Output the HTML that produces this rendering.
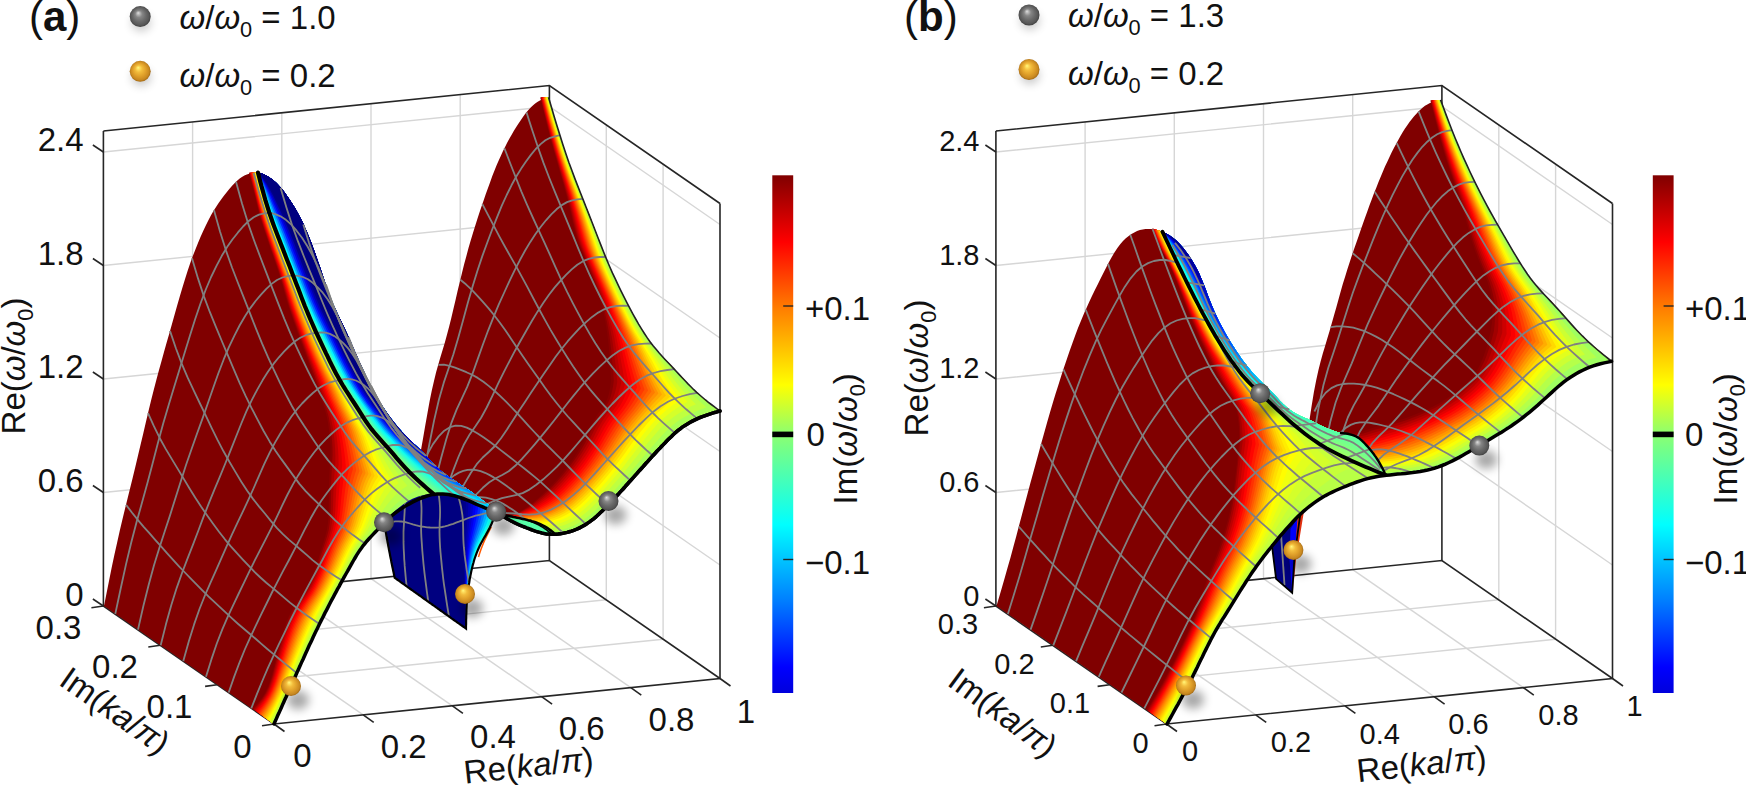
<!DOCTYPE html>
<html><head><meta charset="utf-8"><title>Figure</title>
<style>html,body{margin:0;padding:0;background:#fff;}svg{display:block;}</style></head>
<body>
<svg width="1746" height="785" viewBox="0 0 1746 785" font-family="'Liberation Sans', sans-serif" fill="#111">
<defs><linearGradient id="cbar" x1="0" y1="0" x2="0" y2="1"><stop offset="0.000" stop-color="#800000"/><stop offset="0.129" stop-color="#ff0000"/><stop offset="0.260" stop-color="#ff8000"/><stop offset="0.405" stop-color="#ffff00"/><stop offset="0.500" stop-color="#8cff70"/><stop offset="0.675" stop-color="#00ffff"/><stop offset="0.820" stop-color="#0080ff"/><stop offset="0.950" stop-color="#0000ff"/><stop offset="1.000" stop-color="#0000dc"/></linearGradient><radialGradient id="gGrey" cx="0.5" cy="0.5" r="0.52" fx="0.40" fy="0.32"><stop offset="0" stop-color="#e0e0e0"/><stop offset="0.12" stop-color="#bcbcbc"/><stop offset="0.32" stop-color="#868686"/><stop offset="0.6" stop-color="#6a6a6a"/><stop offset="0.85" stop-color="#565656"/><stop offset="1" stop-color="#3a3a3a"/></radialGradient><radialGradient id="gGold" cx="0.5" cy="0.5" r="0.52" fx="0.40" fy="0.32"><stop offset="0" stop-color="#fffa80"/><stop offset="0.12" stop-color="#fee060"/><stop offset="0.32" stop-color="#f2bc3c"/><stop offset="0.6" stop-color="#e0a02a"/><stop offset="0.85" stop-color="#c88820"/><stop offset="1" stop-color="#986010"/></radialGradient><filter id="blur" x="-100%" y="-100%" width="300%" height="300%"><feGaussianBlur stdDeviation="5"/></filter></defs>
<rect width="1746" height="785" fill="#fff"/>
<path d="M192.6 596.9l0-475" fill="none" stroke="#d6d6d6" stroke-width="1.4" />
<path d="M192.6 596.9l170.6 118" fill="none" stroke="#d6d6d6" stroke-width="1.4" />
<path d="M281.8 587.8l0-475" fill="none" stroke="#d6d6d6" stroke-width="1.4" />
<path d="M281.8 587.8l170.6 118" fill="none" stroke="#d6d6d6" stroke-width="1.4" />
<path d="M371 578.7l0-475" fill="none" stroke="#d6d6d6" stroke-width="1.4" />
<path d="M371 578.7l170.6 118" fill="none" stroke="#d6d6d6" stroke-width="1.4" />
<path d="M460.2 569.6l0-475" fill="none" stroke="#d6d6d6" stroke-width="1.4" />
<path d="M460.2 569.6l170.6 118" fill="none" stroke="#d6d6d6" stroke-width="1.4" />
<path d="M103.4 492.5l446-45.5 170.6 118" fill="none" stroke="#d6d6d6" stroke-width="1.4" />
<path d="M103.4 379l446-45.5 170.6 118" fill="none" stroke="#d6d6d6" stroke-width="1.4" />
<path d="M103.4 265.5l446-45.5 170.6 118" fill="none" stroke="#d6d6d6" stroke-width="1.4" />
<path d="M103.4 152l446-45.5 170.6 118" fill="none" stroke="#d6d6d6" stroke-width="1.4" />
<path d="M663.1 639.2l0-475" fill="none" stroke="#d6d6d6" stroke-width="1.4" />
<path d="M663.1 639.2l-446 45.5" fill="none" stroke="#d6d6d6" stroke-width="1.4" />
<path d="M606.3 599.8l0-475" fill="none" stroke="#d6d6d6" stroke-width="1.4" />
<path d="M606.3 599.8l-446 45.5" fill="none" stroke="#d6d6d6" stroke-width="1.4" />
<path d="M103.4 131l446-45.5 170.6 118" fill="none" stroke="#262626" stroke-width="1.6" stroke-linejoin="miter"/>
<path d="M103.4 131l0 475 170.6 118 446-45.5 0-475" fill="none" stroke="#262626" stroke-width="1.6" stroke-linejoin="miter"/>
<path d="M103.4 606l446-45.5 170.6 118" fill="none" stroke="#262626" stroke-width="1.6" stroke-linejoin="miter"/>
<path d="M549.4 560.5l0-475" fill="none" stroke="#262626" stroke-width="1.6" stroke-linejoin="miter"/>
<path d="M103.4 606l-10.5-7" fill="none" stroke="#262626" stroke-width="1.6" stroke-linejoin="miter"/>
<path d="M103.4 492.5l-10.5-7" fill="none" stroke="#262626" stroke-width="1.6" stroke-linejoin="miter"/>
<path d="M103.4 379l-10.5-7" fill="none" stroke="#262626" stroke-width="1.6" stroke-linejoin="miter"/>
<path d="M103.4 265.5l-10.5-7" fill="none" stroke="#262626" stroke-width="1.6" stroke-linejoin="miter"/>
<path d="M103.4 152l-10.5-7" fill="none" stroke="#262626" stroke-width="1.6" stroke-linejoin="miter"/>
<path d="M274 724l-12 1.7" fill="none" stroke="#262626" stroke-width="1.6" stroke-linejoin="miter"/>
<path d="M217.1 684.7l-12 1.7" fill="none" stroke="#262626" stroke-width="1.6" stroke-linejoin="miter"/>
<path d="M160.3 645.3l-12 1.7" fill="none" stroke="#262626" stroke-width="1.6" stroke-linejoin="miter"/>
<path d="M103.4 606l-12 1.7" fill="none" stroke="#262626" stroke-width="1.6" stroke-linejoin="miter"/>
<path d="M274 724l10.5 7.5" fill="none" stroke="#262626" stroke-width="1.6" stroke-linejoin="miter"/>
<path d="M363.2 714.9l10.5 7.5" fill="none" stroke="#262626" stroke-width="1.6" stroke-linejoin="miter"/>
<path d="M452.4 705.8l10.5 7.5" fill="none" stroke="#262626" stroke-width="1.6" stroke-linejoin="miter"/>
<path d="M541.6 696.7l10.5 7.5" fill="none" stroke="#262626" stroke-width="1.6" stroke-linejoin="miter"/>
<path d="M630.8 687.6l10.5 7.5" fill="none" stroke="#262626" stroke-width="1.6" stroke-linejoin="miter"/>
<path d="M720 678.5l10.5 7.5" fill="none" stroke="#262626" stroke-width="1.6" stroke-linejoin="miter"/>
<path d="M1085.1 596.9l0-475" fill="none" stroke="#d6d6d6" stroke-width="1.4" />
<path d="M1085.1 596.9l170.6 118" fill="none" stroke="#d6d6d6" stroke-width="1.4" />
<path d="M1174.3 587.8l0-475" fill="none" stroke="#d6d6d6" stroke-width="1.4" />
<path d="M1174.3 587.8l170.6 118" fill="none" stroke="#d6d6d6" stroke-width="1.4" />
<path d="M1263.5 578.7l0-475" fill="none" stroke="#d6d6d6" stroke-width="1.4" />
<path d="M1263.5 578.7l170.6 118" fill="none" stroke="#d6d6d6" stroke-width="1.4" />
<path d="M1352.7 569.6l0-475" fill="none" stroke="#d6d6d6" stroke-width="1.4" />
<path d="M1352.7 569.6l170.6 118" fill="none" stroke="#d6d6d6" stroke-width="1.4" />
<path d="M995.9 492.5l446-45.5 170.6 118" fill="none" stroke="#d6d6d6" stroke-width="1.4" />
<path d="M995.9 379l446-45.5 170.6 118" fill="none" stroke="#d6d6d6" stroke-width="1.4" />
<path d="M995.9 265.5l446-45.5 170.6 118" fill="none" stroke="#d6d6d6" stroke-width="1.4" />
<path d="M995.9 152l446-45.5 170.6 118" fill="none" stroke="#d6d6d6" stroke-width="1.4" />
<path d="M1555.6 639.2l0-475" fill="none" stroke="#d6d6d6" stroke-width="1.4" />
<path d="M1555.6 639.2l-446 45.5" fill="none" stroke="#d6d6d6" stroke-width="1.4" />
<path d="M1498.8 599.8l0-475" fill="none" stroke="#d6d6d6" stroke-width="1.4" />
<path d="M1498.8 599.8l-446 45.5" fill="none" stroke="#d6d6d6" stroke-width="1.4" />
<path d="M995.9 131l446-45.5 170.6 118" fill="none" stroke="#262626" stroke-width="1.6" stroke-linejoin="miter"/>
<path d="M995.9 131l0 475 170.6 118 446-45.5 0-475" fill="none" stroke="#262626" stroke-width="1.6" stroke-linejoin="miter"/>
<path d="M995.9 606l446-45.5 170.6 118" fill="none" stroke="#262626" stroke-width="1.6" stroke-linejoin="miter"/>
<path d="M1441.9 560.5l0-475" fill="none" stroke="#262626" stroke-width="1.6" stroke-linejoin="miter"/>
<path d="M995.9 606l-10.5-7" fill="none" stroke="#262626" stroke-width="1.6" stroke-linejoin="miter"/>
<path d="M995.9 492.5l-10.5-7" fill="none" stroke="#262626" stroke-width="1.6" stroke-linejoin="miter"/>
<path d="M995.9 379l-10.5-7" fill="none" stroke="#262626" stroke-width="1.6" stroke-linejoin="miter"/>
<path d="M995.9 265.5l-10.5-7" fill="none" stroke="#262626" stroke-width="1.6" stroke-linejoin="miter"/>
<path d="M995.9 152l-10.5-7" fill="none" stroke="#262626" stroke-width="1.6" stroke-linejoin="miter"/>
<path d="M1166.5 724l-12 1.7" fill="none" stroke="#262626" stroke-width="1.6" stroke-linejoin="miter"/>
<path d="M1109.6 684.7l-12 1.7" fill="none" stroke="#262626" stroke-width="1.6" stroke-linejoin="miter"/>
<path d="M1052.8 645.3l-12 1.7" fill="none" stroke="#262626" stroke-width="1.6" stroke-linejoin="miter"/>
<path d="M995.9 606l-12 1.7" fill="none" stroke="#262626" stroke-width="1.6" stroke-linejoin="miter"/>
<path d="M1166.5 724l10.5 7.5" fill="none" stroke="#262626" stroke-width="1.6" stroke-linejoin="miter"/>
<path d="M1255.7 714.9l10.5 7.5" fill="none" stroke="#262626" stroke-width="1.6" stroke-linejoin="miter"/>
<path d="M1344.9 705.8l10.5 7.5" fill="none" stroke="#262626" stroke-width="1.6" stroke-linejoin="miter"/>
<path d="M1434.1 696.7l10.5 7.5" fill="none" stroke="#262626" stroke-width="1.6" stroke-linejoin="miter"/>
<path d="M1523.3 687.6l10.5 7.5" fill="none" stroke="#262626" stroke-width="1.6" stroke-linejoin="miter"/>
<path d="M1612.5 678.5l10.5 7.5" fill="none" stroke="#262626" stroke-width="1.6" stroke-linejoin="miter"/>
<path d="M496.2 511.7l3.8 2.4 3.8 2.4 3.8 2.2 3.8 2.1 3.8 1.9 3.8 1.8 3.8 1.7 3.7 1.5 3.8 1.4 3.8 1.4 3.8 1.2 3.8 1 3.8 0.7 3.8 0.5 3.8 0.1 3.8-0.1 3.8-0.4 3.8-0.7 3.8-0.9 3.8-1.2 3.8-1.5 3.8-1.7 3.7-2.1 3.8-2.4 3.8-2.6 3.8-3 3.8-3.3 3.8-3.6 3.8-3.7 3.8-3.9 3.8-4 3.8-4 3.8-4.2 3.8-4.1 3.8-4.3 3.8-4.2 3.7-4.2 3.8-4.2 3.8-4.3 3.8-4.2 3.8-4.1 3.8-4.1 3.8-4.1 3.8-3.9 3.8-3.9 3.8-3.7 3.8-3.4 3.8-3.3 3.8-2.9 3.8-2.6 3.8-2.3 3.7-2 3.8-1.9 3.8-1.6 3.8-1.5 3.8-1.4 3.8-1.2 3.8-1.2 3.8-1.1-2.9-2.1-2.9-2.2-2.9-2.2-2.9-2.2-2.9-2.3-2.9-2.5-2.9-2.5-3-2.6-2.9-2.7-2.9-2.9-2.9-2.9-2.9-3.1-2.9-3.1-2.9-3.1-2.9-3.1-2.9-3.1-2.9-3.1-2.9-3-2.9-3.1-2.9-3.2-2.9-3.2-2.9-3.5-3-3.5-2.9-3.9-2.9-4-2.9-4.4-2.9-4.6-2.9-4.8-2.9-5.1-2.9-5.2-2.9-5.4-2.9-5.5-2.9-5.7-2.9-5.8-2.9-6-2.9-6.2-3-6.3-2.9-6.6-2.9-6.9-2.9-7.1-2.9-7.4-2.9-7.4-2.9-7.5-2.9-7.5-2.9-7.4-2.9-7.4-2.9-7.3-2.9-7.4-2.9-7.4-2.9-7.5-2.9-7.8-3-8.1-2.9-8.5-2.9-8.8-2.9-9.1-2.9-9.3-2.9-9.6-2.9-9.8-2.9-9.8-2.2 0.7-2.1 0.7-2.2 0.8-2.1 1-2.2 1.2-2.2 1.5-2.1 1.7-2.2 2-2.1 2.3-2.2 2.6-2.2 2.8-2.1 3-2.2 3.1-2.2 3.2-2.1 3.4-2.2 3.5-2.1 3.6-2.2 3.9-2.2 3.9-2.1 4.2-2.2 4.4-2.1 4.6-2.2 4.8-2.2 5.1-2.1 5.3-2.2 5.5-2.1 5.8-2.2 6-2.2 6.1-2.1 6.2-2.2 6.4-2.2 6.4-2.1 6.6-2.2 6.8-2.1 6.9-2.2 7.3-2.2 7.5-2.1 7.8-2.2 8.2-2.1 8.5-2.2 8.8-2.2 9-2.1 9.3-2.2 9.3-2.1 9-2.2 8.7-2.2 8.3-2.1 7.7-2.2 7.3-2.2 7.2-2.1 7.3-2.2 7.8-2.1 8.6-2.2 9.6-2.2 10.8-2.1 11.7-2.2 12.2-2.1 12.4-2.2 12.4 1.3 1.5 1.2 1.5 1.3 1.5 1.3 1.5 1.3 1.4 1.2 1.4 1.3 1.4 1.3 1.3 1.3 1.3 1.2 1.3 1.3 1.3 1.3 1.2 1.3 1.2 1.2 1.1 1.3 1.2 1.3 1 1.3 1.1 1.2 1 1.3 1 1.3 0.9 1.3 1 1.2 0.9 1.3 0.8 1.3 0.9 1.3 0.9 1.2 0.8 1.3 0.9 1.3 0.8 1.3 0.8 1.2 0.9 1.3 0.8 1.3 0.9 1.3 0.8 1.2 0.9 1.3 0.8 1.3 0.9 1.3 0.9 1.2 0.8 1.3 0.9 1.3 0.9 1.3 0.9 1.2 0.9 1.3 0.9 1.3 0.9 1.3 0.9 1.2 1 1.3 1 1.3 0.9 1.3 1 1.2 1.1 1.3 1 1.3 1.1 1.3 1 1.2 1.1 1.3 1.1 1.3 1.1 1.3 1.1 1.2 1.2 1.3 1.1z" fill="#800000" />
<path d="M540.3 97.5l1.7 7.3 1.8 7.3 1.7 7.3 1.9 7.3 1.8 7.2 1.9 7.3 2 7.2 2 7.2 2.1 7.2 2 7.3 2.1 7.2 2 7.2 2 7.2 1.9 7.3 1.8 7.2 1.7 7.4 1.6 7.3 1.7 7.3 1.9 7.2 2.3 7.2 2.7 7 2.8 6.9 2.9 6.9 2.8 7 2.8 6.9 2.8 7 2.6 7.1 2.3 7.1 2 7.2 1.7 7.3 1.5 7.3 1.3 7.4 1.1 7.5 0.9 7.4 0.7 7.5 0.6 7.4 0.6 7.5 0.4 7.5 0.3 7.5-0.4 4.6-0.7 4.7-1 4.5-1.3 4.5-1.8 4.3-2.4 4-2.7 3.7-2.8 3.8-2.5 3.9-2.2 4.1-2.1 4.2-2 4.2-2 4.2-2 4.2-2.2 4.2-2.3 4-2.4 4-2.5 3.9-2.6 3.9-2.7 3.8-2.8 3.7-2.9 3.7-2.9 3.6-3 3.6-3.1 3.5-3.2 3.4-3.2 3.3-3.3 3.3-3.4 3.2-3.5 3.2-3.5 3.1-3.5 2.9-3.7 2.9-3.8 2.7-4 2.4-4.1 2.3-4.3 1.7-4.6 0.2-4.6-0.9-6.8-2.8 5.8 4 6.1 3.7 6.2 3.3 6.5 2.8 6.5 2.6 6.6 2.5 6.7 2.3 6.9 1.5 7.1 0.1 7-0.7 6.9-1.4 6.7-2.3 6.3-3 6.1-3.6 5.7-4.2 5.3-4.7 5-5 4.9-5 4.9-5.1 4.8-5.2 4.8-5.2 4.7-5.3 4.7-5.3 4.7-5.2 4.7-5.3 4.7-5.3 4.7-5.2 4.8-5.2 4.9-5.2 4.9-5.1 4.9-5 5.1-4.8 5.5-4.5 5.9-3.9 6.2-3.3 6.5-2.9 6.6-2.6 6.7-2.1 6.8-1.9-7.6-5.5-7.3-5.7-7.2-6.1-6.7-6.4-6.5-6.8-6.3-6.9-6.4-6.8-6.5-6.7-6.3-6.8-6.1-7.1-5.6-7.5-5.1-7.9-4.8-8-4.5-8.2-4.4-8.2-4.3-8.3-4.2-8.4-4.1-8.4-3.9-8.5-3.8-8.5-3.5-8.6-3.4-8.8-3.3-8.7-3.4-8.7-3.3-8.7-3.4-8.7-3.5-8.7-3.5-8.7-3.5-8.6-3.4-8.7-3.3-8.8-3.1-8.8-3-8.9-2.9-8.8-2.8-9-2.7-8.9-2.7-9-2.6-8.9-2.6-9z" fill="#8a0000" />
<path d="M540.6 97.5l1.8 7.4 1.8 7.3 1.8 7.4 1.8 7.3 1.9 7.4 2 7.3 2 7.3 2.1 7.3 2.1 7.2 2.1 7.3 2.1 7.3 2.1 7.3 2 7.2 2 7.3 1.9 7.4 1.7 7.3 1.6 7.4 1.8 7.4 2 7.2 2.3 7.2 2.7 7.1 2.9 6.9 2.9 7 2.8 7 2.8 6.9 2.8 7 2.6 7.1 2.4 7.1 2.1 7.1 1.8 7.3 1.6 7.3 1.4 7.3 1.2 7.4 0.9 7.4 0.9 7.4 0.7 7.5 0.7 7.4 0.6 7.4 0.5 7.5-0.6 4.6-0.8 4.5-1.1 4.5-1.4 4.5-1.9 4.2-2.5 4-2.7 3.9-2.8 3.8-2.5 3.9-2.3 4.1-2.2 4.3-2 4.2-2.1 4.3-2.1 4.2-2.2 4.2-2.4 4.1-2.4 4-2.6 4-2.7 3.9-2.8 3.8-2.8 3.8-3 3.7-3 3.7-3.1 3.5-3.1 3.6-3.3 3.4-3.3 3.4-3.4 3.2-3.5 3.2-3.6 3-3.6 3-3.7 2.9-3.7 2.7-3.9 2.5-4.1 2.3-4.1 2.1-4.4 1.5-4.7 0.1-4.6-1-6.6-2.7 5.8 4 6.1 3.7 6.2 3.3 6.5 2.8 6.5 2.6 6.6 2.5 6.7 2.3 6.9 1.5 7.1 0.1 7-0.7 6.9-1.4 6.7-2.3 6.3-3 6.1-3.6 5.7-4.2 5.3-4.7 5-5 4.9-5 4.9-5.1 4.8-5.2 4.8-5.2 4.7-5.3 4.7-5.3 4.7-5.2 4.7-5.3 4.7-5.3 4.7-5.2 4.8-5.2 4.9-5.2 4.9-5.1 4.9-5 5.1-4.8 5.5-4.5 5.9-3.9 6.2-3.3 6.5-2.9 6.6-2.6 6.7-2.1 6.8-1.9-7.6-5.5-7.3-5.7-7.2-6.1-6.7-6.4-6.5-6.8-6.3-6.9-6.4-6.8-6.5-6.7-6.3-6.8-6.1-7.1-5.6-7.5-5.1-7.9-4.8-8-4.5-8.2-4.4-8.2-4.3-8.3-4.2-8.4-4.1-8.4-3.9-8.5-3.8-8.5-3.5-8.6-3.4-8.8-3.3-8.7-3.4-8.7-3.3-8.7-3.4-8.7-3.5-8.7-3.5-8.7-3.5-8.6-3.4-8.7-3.3-8.8-3.1-8.8-3-8.9-2.9-8.8-2.8-9-2.7-8.9-2.7-9-2.6-8.9-2.6-9z" fill="#a00000" />
<path d="M541 97.5l1.8 7.4 1.8 7.5 1.9 7.4 1.9 7.4 1.9 7.4 2 7.4 2.1 7.4 2.1 7.3 2.1 7.4 2.2 7.3 2.1 7.3 2.2 7.4 2.1 7.3 2 7.4 2 7.4 1.7 7.4 1.8 7.4 1.8 7.4 2 7.3 2.4 7.3 2.7 7.1 3 7 2.9 7 2.8 7 2.9 7 2.8 7 2.7 7 2.5 7.1 2.1 7.2 2 7.2 1.7 7.3 1.5 7.3 1.4 7.3 1.1 7.4 1 7.4 0.9 7.4 0.9 7.3 0.7 7.4 0.8 7.4-0.8 4.5-1 4.4-1.3 4.5-1.5 4.4-2 4.3-2.5 4-2.8 3.8-2.8 3.9-2.7 4-2.3 4.1-2.3 4.3-2.1 4.3-2.1 4.3-2.2 4.3-2.3 4.2-2.5 4.1-2.5 4.1-2.7 4-2.7 4-2.9 3.9-2.9 3.8-3.1 3.8-3.1 3.6-3.1 3.7-3.3 3.5-3.3 3.5-3.5 3.3-3.5 3.2-3.6 3.1-3.7 3-3.8 2.9-3.8 2.7-3.8 2.5-4 2.3-4.2 2.1-4.2 1.9-4.5 1.4-4.7-0.1-4.7-1.1-6.3-2.6 5.8 4 6.1 3.7 6.2 3.3 6.5 2.8 6.5 2.6 6.6 2.5 6.7 2.3 6.9 1.5 7.1 0.1 7-0.7 6.9-1.4 6.7-2.3 6.3-3 6.1-3.6 5.7-4.2 5.3-4.7 5-5 4.9-5 4.9-5.1 4.8-5.2 4.8-5.2 4.7-5.3 4.7-5.3 4.7-5.2 4.7-5.3 4.7-5.3 4.7-5.2 4.8-5.2 4.9-5.2 4.9-5.1 4.9-5 5.1-4.8 5.5-4.5 5.9-3.9 6.2-3.3 6.5-2.9 6.6-2.6 6.7-2.1 6.8-1.9-7.6-5.5-7.3-5.7-7.2-6.1-6.7-6.4-6.5-6.8-6.3-6.9-6.4-6.8-6.5-6.7-6.3-6.8-6.1-7.1-5.6-7.5-5.1-7.9-4.8-8-4.5-8.2-4.4-8.2-4.3-8.3-4.2-8.4-4.1-8.4-3.9-8.5-3.8-8.5-3.5-8.6-3.4-8.8-3.3-8.7-3.4-8.7-3.3-8.7-3.4-8.7-3.5-8.7-3.5-8.7-3.5-8.6-3.4-8.7-3.3-8.8-3.1-8.8-3-8.9-2.9-8.8-2.8-9-2.7-8.9-2.7-9-2.6-8.9-2.6-9z" fill="#b60000" />
<path d="M541.4 97.5l1.8 7.5 1.8 7.5 1.9 7.5 2 7.5 1.9 7.5 2.1 7.4 2.1 7.5 2.2 7.4 2.2 7.4 2.2 7.4 2.2 7.4 2.2 7.4 2.2 7.4 2.1 7.4 2 7.5 1.8 7.4 1.8 7.5 1.9 7.5 2.1 7.4 2.4 7.3 2.8 7.1 3 7.1 2.9 7 2.9 7.1 3 7 2.8 7 2.8 7.1 2.5 7.1 2.3 7.2 2.1 7.2 1.9 7.2 1.7 7.2 1.5 7.3 1.2 7.3 1.2 7.4 1.1 7.3 1.1 7.4 1 7.3 1 7.3-1 4.4-1.2 4.4-1.4 4.3-1.7 4.4-2.2 4.2-2.6 4-2.9 3.9-2.8 3.9-2.7 4.1-2.5 4.2-2.3 4.3-2.2 4.3-2.2 4.4-2.3 4.3-2.4 4.3-2.6 4.2-2.6 4.1-2.7 4.1-2.9 4-2.9 3.9-3.1 3.9-3.1 3.8-3.2 3.7-3.2 3.7-3.4 3.5-3.4 3.5-3.6 3.3-3.6 3.2-3.8 3.1-3.8 2.8-3.9 2.8-3.9 2.5-4 2.3-4.1 2.1-4.3 2-4.3 1.7-4.5 1.1-4.8-0.2-4.7-1.2-6.1-2.5 5.8 4 6.1 3.7 6.2 3.3 6.5 2.8 6.5 2.6 6.6 2.5 6.7 2.3 6.9 1.5 7.1 0.1 7-0.7 6.9-1.4 6.7-2.3 6.3-3 6.1-3.6 5.7-4.2 5.3-4.7 5-5 4.9-5 4.9-5.1 4.8-5.2 4.8-5.2 4.7-5.3 4.7-5.3 4.7-5.2 4.7-5.3 4.7-5.3 4.7-5.2 4.8-5.2 4.9-5.2 4.9-5.1 4.9-5 5.1-4.8 5.5-4.5 5.9-3.9 6.2-3.3 6.5-2.9 6.6-2.6 6.7-2.1 6.8-1.9-7.6-5.5-7.3-5.7-7.2-6.1-6.7-6.4-6.5-6.8-6.3-6.9-6.4-6.8-6.5-6.7-6.3-6.8-6.1-7.1-5.6-7.5-5.1-7.9-4.8-8-4.5-8.2-4.4-8.2-4.3-8.3-4.2-8.4-4.1-8.4-3.9-8.5-3.8-8.5-3.5-8.6-3.4-8.8-3.3-8.7-3.4-8.7-3.3-8.7-3.4-8.7-3.5-8.7-3.5-8.7-3.5-8.6-3.4-8.7-3.3-8.8-3.1-8.8-3-8.9-2.9-8.8-2.8-9-2.7-8.9-2.7-9-2.6-8.9-2.6-9z" fill="#cc0000" />
<path d="M541.7 97.5l1.9 7.6 1.9 7.5 1.9 7.6 2 7.6 2 7.5 2.1 7.5 2.1 7.6 2.2 7.5 2.3 7.4 2.3 7.5 2.3 7.5 2.3 7.4 2.2 7.5 2.2 7.5 2 7.5 1.9 7.5 1.9 7.6 2 7.5 2.1 7.4 2.5 7.3 2.8 7.2 3 7.2 3 7.1 3 7 3 7.1 2.9 7.1 2.8 7.1 2.6 7.1 2.4 7.2 2.2 7.1 2.1 7.2 1.9 7.2 1.6 7.3 1.5 7.3 1.3 7.3 1.4 7.3 1.3 7.2 1.2 7.3 1.3 7.2-1.3 4.3-1.4 4.3-1.6 4.3-1.9 4.3-2.2 4.2-2.8 4-2.9 3.9-2.9 4-2.8 4.1-2.6 4.2-2.4 4.4-2.3 4.4-2.3 4.4-2.4 4.3-2.5 4.4-2.6 4.2-2.7 4.2-2.9 4.1-2.9 4.1-3 4-3.1 3.9-3.2 3.8-3.3 3.8-3.4 3.7-3.4 3.6-3.6 3.5-3.7 3.3-3.7 3.2-3.9 2.9-4 2.8-4 2.6-4.1 2.4-4.1 2.1-4.2 1.9-4.4 1.7-4.4 1.5-4.6 1-4.8-0.4-4.8-1.3-5.8-2.4 5.8 4 6.1 3.7 6.2 3.3 6.5 2.8 6.5 2.6 6.6 2.5 6.7 2.3 6.9 1.5 7.1 0.1 7-0.7 6.9-1.4 6.7-2.3 6.3-3 6.1-3.6 5.7-4.2 5.3-4.7 5-5 4.9-5 4.9-5.1 4.8-5.2 4.8-5.2 4.7-5.3 4.7-5.3 4.7-5.2 4.7-5.3 4.7-5.3 4.7-5.2 4.8-5.2 4.9-5.2 4.9-5.1 4.9-5 5.1-4.8 5.5-4.5 5.9-3.9 6.2-3.3 6.5-2.9 6.6-2.6 6.7-2.1 6.8-1.9-7.6-5.5-7.3-5.7-7.2-6.1-6.7-6.4-6.5-6.8-6.3-6.9-6.4-6.8-6.5-6.7-6.3-6.8-6.1-7.1-5.6-7.5-5.1-7.9-4.8-8-4.5-8.2-4.4-8.2-4.3-8.3-4.2-8.4-4.1-8.4-3.9-8.5-3.8-8.5-3.5-8.6-3.4-8.8-3.3-8.7-3.4-8.7-3.3-8.7-3.4-8.7-3.5-8.7-3.5-8.7-3.5-8.6-3.4-8.7-3.3-8.8-3.1-8.8-3-8.9-2.9-8.8-2.8-9-2.7-8.9-2.7-9-2.6-8.9-2.6-9z" fill="#e20000" />
<path d="M542.1 97.5l1.9 7.6 1.9 7.7 2 7.6 2 7.7 2.1 7.6 2.1 7.6 2.2 7.6 2.2 7.5 2.3 7.6 2.4 7.5 2.4 7.5 2.3 7.5 2.3 7.6 2.2 7.5 2.1 7.6 2 7.6 2 7.6 2 7.6 2.2 7.5 2.6 7.3 2.8 7.3 3.1 7.2 3 7.1 3 7.1 3 7.2 3 7.1 2.9 7.1 2.7 7.1 2.6 7.2 2.3 7.1 2.2 7.1 2.1 7.2 1.8 7.2 1.7 7.3 1.5 7.3 1.5 7.2 1.6 7.2 1.5 7.2 1.5 7.1-1.5 4.2-1.6 4.3-1.8 4.2-2 4.2-2.4 4.2-2.9 4-3 4-3 4-2.9 4.1-2.6 4.3-2.5 4.4-2.4 4.4-2.5 4.5-2.4 4.4-2.6 4.4-2.7 4.2-2.9 4.3-2.9 4.2-3 4.1-3.1 4-3.2 4-3.3 3.9-3.4 3.8-3.4 3.8-3.5 3.6-3.7 3.5-3.8 3.3-3.9 3.1-4.1 2.9-4.1 2.7-4.1 2.5-4.2 2.2-4.3 1.9-4.3 1.7-4.5 1.5-4.5 1.3-4.7 0.8-4.9-0.6-4.8-1.4-5.5-2.3 5.8 4 6.1 3.7 6.2 3.3 6.5 2.8 6.5 2.6 6.6 2.5 6.7 2.3 6.9 1.5 7.1 0.1 7-0.7 6.9-1.4 6.7-2.3 6.3-3 6.1-3.6 5.7-4.2 5.3-4.7 5-5 4.9-5 4.9-5.1 4.8-5.2 4.8-5.2 4.7-5.3 4.7-5.3 4.7-5.2 4.7-5.3 4.7-5.3 4.7-5.2 4.8-5.2 4.9-5.2 4.9-5.1 4.9-5 5.1-4.8 5.5-4.5 5.9-3.9 6.2-3.3 6.5-2.9 6.6-2.6 6.7-2.1 6.8-1.9-7.6-5.5-7.3-5.7-7.2-6.1-6.7-6.4-6.5-6.8-6.3-6.9-6.4-6.8-6.5-6.7-6.3-6.8-6.1-7.1-5.6-7.5-5.1-7.9-4.8-8-4.5-8.2-4.4-8.2-4.3-8.3-4.2-8.4-4.1-8.4-3.9-8.5-3.8-8.5-3.5-8.6-3.4-8.8-3.3-8.7-3.4-8.7-3.3-8.7-3.4-8.7-3.5-8.7-3.5-8.7-3.5-8.6-3.4-8.7-3.3-8.8-3.1-8.8-3-8.9-2.9-8.8-2.8-9-2.7-8.9-2.7-9-2.6-8.9-2.6-9z" fill="#f70000" />
<path d="M542.4 97.4l2 7.8 1.9 7.7 2.1 7.7 2 7.7 2.1 7.7 2.2 7.7 2.2 7.7 2.3 7.6 2.4 7.6 2.4 7.6 2.4 7.6 2.4 7.6 2.4 7.6 2.3 7.6 2.1 7.6 2.1 7.7 2 7.6 2.1 7.6 2.3 7.6 2.6 7.4 2.9 7.3 3.1 7.3 3.1 7.2 3 7.1 3.1 7.2 3.1 7.1 2.9 7.2 2.8 7.1 2.7 7.2 2.5 7.1 2.4 7.1 2.2 7.1 2 7.2 1.8 7.2 1.8 7.3 1.7 7.2 1.8 7.1 1.7 7.1 1.8 7.1-1.7 4.1-1.8 4.1-2 4.2-2.3 4.2-2.5 4.1-2.9 4-3.1 4-3.1 4.1-3 4.2-2.7 4.3-2.6 4.4-2.5 4.5-2.5 4.5-2.6 4.4-2.7 4.5-2.8 4.3-2.9 4.3-3 4.2-3.1 4.2-3.2 4.1-3.3 4-3.3 4-3.5 3.8-3.5 3.8-3.7 3.7-3.8 3.5-3.9 3.3-4.1 3.1-4.1 2.8-4.3 2.6-4.3 2.4-4.3 1.9-4.4 1.7-4.4 1.6-4.6 1.3-4.6 1.1-4.7 0.5-5-0.6-4.8-1.6-5.3-2.2 5.8 4 6.1 3.7 6.2 3.3 6.5 2.8 6.5 2.6 6.6 2.5 6.7 2.3 6.9 1.5 7.1 0.1 7-0.7 6.9-1.4 6.7-2.3 6.3-3 6.1-3.6 5.7-4.2 5.3-4.7 5-5 4.9-5 4.9-5.1 4.8-5.2 4.8-5.2 4.7-5.3 4.7-5.3 4.7-5.2 4.7-5.3 4.7-5.3 4.7-5.2 4.8-5.2 4.9-5.2 4.9-5.1 4.9-5 5.1-4.8 5.5-4.5 5.9-3.9 6.2-3.3 6.5-2.9 6.6-2.6 6.7-2.1 6.8-1.9-7.6-5.5-7.3-5.7-7.2-6.1-6.7-6.4-6.5-6.8-6.3-6.9-6.4-6.8-6.5-6.7-6.3-6.8-6.1-7.1-5.6-7.5-5.1-7.9-4.8-8-4.5-8.2-4.4-8.2-4.3-8.3-4.2-8.4-4.1-8.4-3.9-8.5-3.8-8.5-3.5-8.6-3.4-8.8-3.3-8.7-3.4-8.7-3.3-8.7-3.4-8.7-3.5-8.7-3.5-8.7-3.5-8.6-3.4-8.7-3.3-8.8-3.1-8.8-3-8.9-2.9-8.8-2.8-9-2.7-8.9-2.7-9-2.6-8.9-2.6-9z" fill="#ff0e00" />
<path d="M542.8 97.4l2 7.9 2 7.8 2 7.7 2.1 7.8 2.2 7.8 2.2 7.7 2.3 7.8 2.3 7.7 2.4 7.6 2.5 7.7 2.5 7.6 2.5 7.7 2.4 7.6 2.3 7.7 2.3 7.7 2.1 7.7 2.1 7.7 2.1 7.7 2.4 7.6 2.7 7.5 2.9 7.4 3.1 7.3 3.1 7.2 3.2 7.2 3.1 7.2 3.1 7.2 3 7.1 2.9 7.2 2.8 7.1 2.6 7.1 2.6 7.1 2.3 7.1 2.2 7.1 2.1 7.2 1.9 7.2 1.9 7.2 2 7.1 2 7 2 7-1.9 4-2 4-2.2 4.1-2.4 4.2-2.7 4.1-3 4-3.2 4-3.1 4.1-3.1 4.3-2.8 4.4-2.7 4.4-2.6 4.5-2.6 4.6-2.7 4.5-2.8 4.4-2.9 4.4-3 4.4-3 4.3-3.2 4.2-3.3 4.1-3.4 4.1-3.4 4-3.6 3.9-3.6 3.9-3.7 3.7-3.9 3.5-4.1 3.3-4.2 3-4.3 2.7-4.4 2.5-4.4 2.3-4.5 1.8-4.4 1.5-4.6 1.3-4.7 1.1-4.7 0.9-4.8 0.4-5-0.8-4.9-1.7-5-2.1 5.8 4 6.1 3.7 6.2 3.3 6.5 2.8 6.5 2.6 6.6 2.5 6.7 2.3 6.9 1.5 7.1 0.1 7-0.7 6.9-1.4 6.7-2.3 6.3-3 6.1-3.6 5.7-4.2 5.3-4.7 5-5 4.9-5 4.9-5.1 4.8-5.2 4.8-5.2 4.7-5.3 4.7-5.3 4.7-5.2 4.7-5.3 4.7-5.3 4.7-5.2 4.8-5.2 4.9-5.2 4.9-5.1 4.9-5 5.1-4.8 5.5-4.5 5.9-3.9 6.2-3.3 6.5-2.9 6.6-2.6 6.7-2.1 6.8-1.9-7.6-5.5-7.3-5.7-7.2-6.1-6.7-6.4-6.5-6.8-6.3-6.9-6.4-6.8-6.5-6.7-6.3-6.8-6.1-7.1-5.6-7.5-5.1-7.9-4.8-8-4.5-8.2-4.4-8.2-4.3-8.3-4.2-8.4-4.1-8.4-3.9-8.5-3.8-8.5-3.5-8.6-3.4-8.8-3.3-8.7-3.4-8.7-3.3-8.7-3.4-8.7-3.5-8.7-3.5-8.7-3.5-8.6-3.4-8.7-3.3-8.8-3.1-8.8-3-8.9-2.9-8.8-2.8-9-2.7-8.9-2.7-9-2.6-8.9-2.6-9z" fill="#ff2400" />
<path d="M543.2 97.4l2 7.9 2 7.9 2.1 7.9 2.1 7.8 2.2 7.8 2.3 7.9 2.3 7.8 2.4 7.7 2.5 7.8 2.5 7.7 2.5 7.7 2.6 7.7 2.5 7.7 2.4 7.8 2.3 7.7 2.2 7.8 2.1 7.8 2.3 7.7 2.4 7.7 2.7 7.5 3 7.4 3.1 7.3 3.2 7.3 3.2 7.3 3.1 7.2 3.2 7.2 3 7.2 3 7.2 2.9 7.1 2.8 7 2.7 7.1 2.6 7 2.3 7.1 2.2 7.2 2.1 7.1 2.1 7.1 2.2 7.1 2.3 6.9 2.2 7-2.1 3.9-2.2 3.9-2.4 4.1-2.6 4.1-2.8 4.1-3.1 4-3.2 4-3.2 4.2-3.2 4.3-2.9 4.4-2.7 4.5-2.7 4.6-2.7 4.5-2.8 4.6-2.9 4.5-3 4.4-3.1 4.4-3.1 4.4-3.3 4.2-3.4 4.2-3.4 4.2-3.5 4-3.7 4-3.7 3.9-3.8 3.7-4 3.5-4.2 3.3-4.3 3-4.5 2.7-4.5 2.4-4.6 2.1-4.5 1.6-4.6 1.3-4.7 1.2-4.8 0.9-4.7 0.7-5 0.2-5-1-5-1.9-4.7-1.9 5.8 4 6.1 3.7 6.2 3.3 6.5 2.8 6.5 2.6 6.6 2.5 6.7 2.3 6.9 1.5 7.1 0.1 7-0.7 6.9-1.4 6.7-2.3 6.3-3 6.1-3.6 5.7-4.2 5.3-4.7 5-5 4.9-5 4.9-5.1 4.8-5.2 4.8-5.2 4.7-5.3 4.7-5.3 4.7-5.2 4.7-5.3 4.7-5.3 4.7-5.2 4.8-5.2 4.9-5.2 4.9-5.1 4.9-5 5.1-4.8 5.5-4.5 5.9-3.9 6.2-3.3 6.5-2.9 6.6-2.6 6.7-2.1 6.8-1.9-7.6-5.5-7.3-5.7-7.2-6.1-6.7-6.4-6.5-6.8-6.3-6.9-6.4-6.8-6.5-6.7-6.3-6.8-6.1-7.1-5.6-7.5-5.1-7.9-4.8-8-4.5-8.2-4.4-8.2-4.3-8.3-4.2-8.4-4.1-8.4-3.9-8.5-3.8-8.5-3.5-8.6-3.4-8.8-3.3-8.7-3.4-8.7-3.3-8.7-3.4-8.7-3.5-8.7-3.5-8.7-3.5-8.6-3.4-8.7-3.3-8.8-3.1-8.8-3-8.9-2.9-8.8-2.8-9-2.7-8.9-2.7-9-2.6-8.9-2.6-9z" fill="#ff3a00" />
<path d="M543.5 97.4l2.1 8 2.1 7.9 2.1 8 2.2 7.9 2.2 7.9 2.3 7.9 2.3 7.9 2.5 7.8 2.5 7.8 2.6 7.8 2.6 7.8 2.6 7.7 2.5 7.8 2.5 7.8 2.4 7.8 2.3 7.8 2.2 7.9 2.3 7.8 2.4 7.7 2.8 7.6 3 7.4 3.2 7.4 3.2 7.3 3.2 7.3 3.2 7.3 3.2 7.2 3.2 7.2 3 7.2 3 7.1 2.9 7 2.9 7 2.7 7 2.5 7.1 2.3 7.1 2.3 7.1 2.3 7.1 2.4 7 2.5 6.9 2.5 6.8-2.3 3.8-2.5 3.9-2.5 4-2.7 4-2.9 4.1-3.3 4-3.3 4.1-3.2 4.2-3.2 4.3-3 4.5-2.8 4.6-2.8 4.6-2.8 4.6-2.9 4.6-2.9 4.5-3.1 4.5-3.2 4.5-3.2 4.3-3.4 4.4-3.4 4.2-3.6 4.2-3.6 4.1-3.7 4-3.8 3.9-3.9 3.8-4.1 3.5-4.3 3.3-4.5 3-4.5 2.6-4.7 2.3-4.7 2-4.7 1.5-4.7 1.1-4.8 0.9-4.8 0.7-4.9 0.5-5 0-5.1-1.1-5-2-4.5-1.8 5.8 4 6.1 3.7 6.2 3.3 6.5 2.8 6.5 2.6 6.6 2.5 6.7 2.3 6.9 1.5 7.1 0.1 7-0.7 6.9-1.4 6.7-2.3 6.3-3 6.1-3.6 5.7-4.2 5.3-4.7 5-5 4.9-5 4.9-5.1 4.8-5.2 4.8-5.2 4.7-5.3 4.7-5.3 4.7-5.2 4.7-5.3 4.7-5.3 4.7-5.2 4.8-5.2 4.9-5.2 4.9-5.1 4.9-5 5.1-4.8 5.5-4.5 5.9-3.9 6.2-3.3 6.5-2.9 6.6-2.6 6.7-2.1 6.8-1.9-7.6-5.5-7.3-5.7-7.2-6.1-6.7-6.4-6.5-6.8-6.3-6.9-6.4-6.8-6.5-6.7-6.3-6.8-6.1-7.1-5.6-7.5-5.1-7.9-4.8-8-4.5-8.2-4.4-8.2-4.3-8.3-4.2-8.4-4.1-8.4-3.9-8.5-3.8-8.5-3.5-8.6-3.4-8.8-3.3-8.7-3.4-8.7-3.3-8.7-3.4-8.7-3.5-8.7-3.5-8.7-3.5-8.6-3.4-8.7-3.3-8.8-3.1-8.8-3-8.9-2.9-8.8-2.8-9-2.7-8.9-2.7-9-2.6-8.9-2.6-9z" fill="#ff5000" />
<path d="M543.9 97.4l2.1 8 2.1 8.1 2.1 8 2.3 8 2.2 7.9 2.4 8 2.4 7.9 2.5 8 2.5 7.8 2.7 7.9 2.7 7.8 2.6 7.8 2.6 7.9 2.5 7.8 2.5 7.9 2.3 7.9 2.3 7.9 2.4 7.8 2.5 7.8 2.8 7.6 3.1 7.5 3.2 7.4 3.2 7.4 3.3 7.3 3.2 7.3 3.3 7.3 3.2 7.2 3.1 7.2 3.1 7.1 3 7 3 6.9 2.9 7 2.6 7 2.5 7.1 2.4 7.1 2.5 7 2.6 6.9 2.7 6.8 2.8 6.8-2.6 3.7-2.6 3.9-2.7 3.9-2.9 4-3 4-3.3 4-3.4 4.2-3.2 4.2-3.3 4.4-3.1 4.5-2.9 4.6-2.9 4.6-2.9 4.7-2.9 4.6-3.1 4.6-3.1 4.6-3.3 4.5-3.3 4.4-3.4 4.4-3.6 4.3-3.6 4.2-3.7 4.1-3.8 4.1-3.8 3.9-4.1 3.8-4.2 3.6-4.4 3.2-4.5 3-4.7 2.5-4.8 2.3-4.9 1.8-4.8 1.4-4.8 0.9-4.9 0.7-4.9 0.5-5 0.4-5.1-0.2-5.1-1.3-5.1-2.1-4.2-1.7 5.8 4 6.1 3.7 6.2 3.3 6.5 2.8 6.5 2.6 6.6 2.5 6.7 2.3 6.9 1.5 7.1 0.1 7-0.7 6.9-1.4 6.7-2.3 6.3-3 6.1-3.6 5.7-4.2 5.3-4.7 5-5 4.9-5 4.9-5.1 4.8-5.2 4.8-5.2 4.7-5.3 4.7-5.3 4.7-5.2 4.7-5.3 4.7-5.3 4.7-5.2 4.8-5.2 4.9-5.2 4.9-5.1 4.9-5 5.1-4.8 5.5-4.5 5.9-3.9 6.2-3.3 6.5-2.9 6.6-2.6 6.7-2.1 6.8-1.9-7.6-5.5-7.3-5.7-7.2-6.1-6.7-6.4-6.5-6.8-6.3-6.9-6.4-6.8-6.5-6.7-6.3-6.8-6.1-7.1-5.6-7.5-5.1-7.9-4.8-8-4.5-8.2-4.4-8.2-4.3-8.3-4.2-8.4-4.1-8.4-3.9-8.5-3.8-8.5-3.5-8.6-3.4-8.8-3.3-8.7-3.4-8.7-3.3-8.7-3.4-8.7-3.5-8.7-3.5-8.7-3.5-8.6-3.4-8.7-3.3-8.8-3.1-8.8-3-8.9-2.9-8.8-2.8-9-2.7-8.9-2.7-9-2.6-8.9-2.6-9z" fill="#ff6500" />
<path d="M544.2 97.4l2.1 8.1 2.2 8.1 2.2 8.1 2.3 8 2.3 8.1 2.3 8 2.5 8 2.5 8 2.7 8 2.7 7.9 2.7 7.8 2.7 7.9 2.7 7.9 2.6 8 2.5 7.9 2.4 7.9 2.3 8 2.4 7.9 2.6 7.8 2.9 7.6 3.1 7.6 3.3 7.5 3.2 7.4 3.3 7.4 3.3 7.3 3.3 7.2 3.2 7.3 3.2 7.1 3.2 7.1 3.2 7 3.1 6.9 3 6.9 2.8 7 2.6 7 2.6 7.1 2.7 6.9 2.8 6.9 2.9 6.8 2.9 6.7-2.7 3.6-2.8 3.8-2.9 3.8-3 4-3.1 4-3.4 4-3.4 4.2-3.3 4.3-3.4 4.4-3.1 4.6-3 4.6-3 4.7-2.9 4.7-3.1 4.7-3.1 4.6-3.2 4.6-3.4 4.6-3.4 4.4-3.5 4.5-3.6 4.3-3.7 4.3-3.8 4.2-3.9 4-3.9 4-4.1 3.9-4.3 3.5-4.5 3.3-4.7 2.9-4.9 2.4-4.9 2.2-4.9 1.8-5 1.1-4.9 0.7-5 0.6-5 0.4-5.1 0.1-5.1-0.4-5.2-1.4-5.1-2.2-4-1.6 5.8 4 6.1 3.7 6.2 3.3 6.5 2.8 6.5 2.6 6.6 2.5 6.7 2.3 6.9 1.5 7.1 0.1 7-0.7 6.9-1.4 6.7-2.3 6.3-3 6.1-3.6 5.7-4.2 5.3-4.7 5-5 4.9-5 4.9-5.1 4.8-5.2 4.8-5.2 4.7-5.3 4.7-5.3 4.7-5.2 4.7-5.3 4.7-5.3 4.7-5.2 4.8-5.2 4.9-5.2 4.9-5.1 4.9-5 5.1-4.8 5.5-4.5 5.9-3.9 6.2-3.3 6.5-2.9 6.6-2.6 6.7-2.1 6.8-1.9-7.6-5.5-7.3-5.7-7.2-6.1-6.7-6.4-6.5-6.8-6.3-6.9-6.4-6.8-6.5-6.7-6.3-6.8-6.1-7.1-5.6-7.5-5.1-7.9-4.8-8-4.5-8.2-4.4-8.2-4.3-8.3-4.2-8.4-4.1-8.4-3.9-8.5-3.8-8.5-3.5-8.6-3.4-8.8-3.3-8.7-3.4-8.7-3.3-8.7-3.4-8.7-3.5-8.7-3.5-8.7-3.5-8.6-3.4-8.7-3.3-8.8-3.1-8.8-3-8.9-2.9-8.8-2.8-9-2.7-8.9-2.7-9-2.6-8.9-2.6-9z" fill="#ff7b00" />
<path d="M544.6 97.4l2.1 8.2 2.2 8.1 2.3 8.2 2.3 8.1 2.3 8.1 2.4 8.1 2.5 8.1 2.6 8.1 2.7 8 2.8 7.9 2.8 8 2.7 7.9 2.8 8 2.6 8 2.6 8 2.4 8 2.4 7.9 2.5 8 2.7 7.8 2.9 7.8 3.1 7.6 3.3 7.5 3.3 7.5 3.3 7.4 3.4 7.3 3.3 7.3 3.3 7.2 3.3 7.2 3.2 7.1 3.3 6.9 3.3 6.8 3.1 6.9 3 6.9 2.7 7.1 2.8 7 2.8 6.9 3 6.8 3.1 6.7 3.2 6.7-3 3.5-2.9 3.7-3.1 3.8-3.1 3.9-3.3 4-3.4 4-3.5 4.2-3.3 4.4-3.4 4.5-3.2 4.6-3.1 4.6-3.1 4.7-3 4.8-3.1 4.7-3.3 4.7-3.3 4.6-3.4 4.6-3.5 4.6-3.6 4.4-3.7 4.4-3.7 4.3-3.9 4.3-3.9 4.1-4.1 4-4.2 3.9-4.4 3.5-4.6 3.3-4.8 2.9-5 2.4-5 2-5.1 1.7-5.1 1-5 0.5-5.1 0.4-5.1 0.2-5.2-0.1-5.2-0.5-5.2-1.6-5.2-2.3-3.7-1.5 5.8 4 6.1 3.7 6.2 3.3 6.5 2.8 6.5 2.6 6.6 2.5 6.7 2.3 6.9 1.5 7.1 0.1 7-0.7 6.9-1.4 6.7-2.3 6.3-3 6.1-3.6 5.7-4.2 5.3-4.7 5-5 4.9-5 4.9-5.1 4.8-5.2 4.8-5.2 4.7-5.3 4.7-5.3 4.7-5.2 4.7-5.3 4.7-5.3 4.7-5.2 4.8-5.2 4.9-5.2 4.9-5.1 4.9-5 5.1-4.8 5.5-4.5 5.9-3.9 6.2-3.3 6.5-2.9 6.6-2.6 6.7-2.1 6.8-1.9-7.6-5.5-7.3-5.7-7.2-6.1-6.7-6.4-6.5-6.8-6.3-6.9-6.4-6.8-6.5-6.7-6.3-6.8-6.1-7.1-5.6-7.5-5.1-7.9-4.8-8-4.5-8.2-4.4-8.2-4.3-8.3-4.2-8.4-4.1-8.4-3.9-8.5-3.8-8.5-3.5-8.6-3.4-8.8-3.3-8.7-3.4-8.7-3.3-8.7-3.4-8.7-3.5-8.7-3.5-8.7-3.5-8.6-3.4-8.7-3.3-8.8-3.1-8.8-3-8.9-2.9-8.8-2.8-9-2.7-8.9-2.7-9-2.6-8.9-2.6-9z" fill="#ff9100" />
<path d="M544.9 97.4l2.2 8.2 2.3 8.3 2.2 8.2 2.4 8.2 2.4 8.2 2.4 8.2 2.6 8.1 2.6 8.1 2.7 8.1 2.8 8 2.9 8 2.8 8.1 2.8 8 2.7 8 2.7 8 2.5 8.1 2.5 8 2.5 8 2.7 7.9 3 7.8 3.2 7.7 3.3 7.5 3.3 7.5 3.4 7.5 3.3 7.3 3.4 7.3 3.3 7.3 3.4 7.2 3.4 7 3.4 6.9 3.4 6.8 3.2 6.8 3.1 6.9 2.9 7 2.9 7 3.1 6.9 3.1 6.7 3.3 6.7 3.4 6.6-3.1 3.4-3.2 3.6-3.1 3.8-3.3 3.8-3.4 4-3.5 4.1-3.5 4.2-3.4 4.4-3.5 4.5-3.3 4.6-3.2 4.7-3.1 4.8-3.1 4.8-3.2 4.8-3.3 4.7-3.4 4.7-3.5 4.6-3.6 4.6-3.6 4.5-3.8 4.5-3.9 4.3-3.9 4.3-4 4.1-4.1 4.1-4.3 3.9-4.6 3.6-4.7 3.2-4.9 2.9-5.1 2.3-5.2 2-5.2 1.5-5.2 0.9-5.1 0.3-5.2 0.2-5.2 0-5.2-0.2-5.3-0.8-5.3-1.7-5.2-2.4-3.5-1.4 5.8 4 6.1 3.7 6.2 3.3 6.5 2.8 6.5 2.6 6.6 2.5 6.7 2.3 6.9 1.5 7.1 0.1 7-0.7 6.9-1.4 6.7-2.3 6.3-3 6.1-3.6 5.7-4.2 5.3-4.7 5-5 4.9-5 4.9-5.1 4.8-5.2 4.8-5.2 4.7-5.3 4.7-5.3 4.7-5.2 4.7-5.3 4.7-5.3 4.7-5.2 4.8-5.2 4.9-5.2 4.9-5.1 4.9-5 5.1-4.8 5.5-4.5 5.9-3.9 6.2-3.3 6.5-2.9 6.6-2.6 6.7-2.1 6.8-1.9-7.6-5.5-7.3-5.7-7.2-6.1-6.7-6.4-6.5-6.8-6.3-6.9-6.4-6.8-6.5-6.7-6.3-6.8-6.1-7.1-5.6-7.5-5.1-7.9-4.8-8-4.5-8.2-4.4-8.2-4.3-8.3-4.2-8.4-4.1-8.4-3.9-8.5-3.8-8.5-3.5-8.6-3.4-8.8-3.3-8.7-3.4-8.7-3.3-8.7-3.4-8.7-3.5-8.7-3.5-8.7-3.5-8.6-3.4-8.7-3.3-8.8-3.1-8.8-3-8.9-2.9-8.8-2.8-9-2.7-8.9-2.7-9-2.6-8.9-2.6-9z" fill="#ffa700" />
<path d="M545.3 97.4l2.2 8.3 2.3 8.3 2.3 8.3 2.4 8.3 2.4 8.2 2.5 8.3 2.6 8.2 2.7 8.2 2.7 8.1 2.9 8.1 3 8.1 2.9 8.1 2.8 8 2.8 8.1 2.7 8.1 2.6 8.1 2.5 8.1 2.6 8.1 2.8 7.9 3 7.9 3.2 7.7 3.4 7.6 3.3 7.5 3.4 7.5 3.4 7.4 3.4 7.3 3.4 7.3 3.5 7.2 3.5 7 3.5 6.9 3.5 6.7 3.4 6.8 3.3 6.9 3 6.9 3.1 6.9 3.2 6.9 3.4 6.7 3.5 6.6 3.6 6.5-3.3 3.4-3.4 3.5-3.3 3.7-3.4 3.8-3.5 3.9-3.6 4.1-3.6 4.2-3.4 4.5-3.6 4.5-3.3 4.7-3.3 4.8-3.2 4.8-3.2 4.8-3.3 4.8-3.4 4.8-3.5 4.7-3.6 4.7-3.6 4.7-3.8 4.5-3.8 4.5-4 4.4-4 4.3-4.1 4.2-4.2 4.2-4.4 3.9-4.6 3.6-4.8 3.2-5.1 2.8-5.2 2.3-5.3 1.9-5.4 1.4-5.3 0.7-5.2 0.1-5.3 0-5.3-0.2-5.3-0.4-5.4-0.9-5.3-1.9-5.3-2.5-3.2-1.3 5.8 4 6.1 3.7 6.2 3.3 6.5 2.8 6.5 2.6 6.6 2.5 6.7 2.3 6.9 1.5 7.1 0.1 7-0.7 6.9-1.4 6.7-2.3 6.3-3 6.1-3.6 5.7-4.2 5.3-4.7 5-5 4.9-5 4.9-5.1 4.8-5.2 4.8-5.2 4.7-5.3 4.7-5.3 4.7-5.2 4.7-5.3 4.7-5.3 4.7-5.2 4.8-5.2 4.9-5.2 4.9-5.1 4.9-5 5.1-4.8 5.5-4.5 5.9-3.9 6.2-3.3 6.5-2.9 6.6-2.6 6.7-2.1 6.8-1.9-7.6-5.5-7.3-5.7-7.2-6.1-6.7-6.4-6.5-6.8-6.3-6.9-6.4-6.8-6.5-6.7-6.3-6.8-6.1-7.1-5.6-7.5-5.1-7.9-4.8-8-4.5-8.2-4.4-8.2-4.3-8.3-4.2-8.4-4.1-8.4-3.9-8.5-3.8-8.5-3.5-8.6-3.4-8.8-3.3-8.7-3.4-8.7-3.3-8.7-3.4-8.7-3.5-8.7-3.5-8.7-3.5-8.6-3.4-8.7-3.3-8.8-3.1-8.8-3-8.9-2.9-8.8-2.8-9-2.7-8.9-2.7-9-2.6-8.9-2.6-9z" fill="#ffbc00" />
<path d="M545.6 97.4l2.3 8.4 2.3 8.3 2.4 8.4 2.4 8.4 2.5 8.3 2.5 8.3 2.6 8.3 2.7 8.3 2.9 8.2 2.9 8.1 3 8.1 3 8.2 2.9 8.1 2.8 8.2 2.8 8.1 2.6 8.2 2.7 8.2 2.6 8.1 2.9 8 3 7.9 3.3 7.7 3.4 7.7 3.4 7.5 3.4 7.6 3.5 7.4 3.4 7.4 3.5 7.3 3.5 7.1 3.6 7 3.7 6.9 3.7 6.7 3.6 6.7 3.4 6.9 3.2 6.9 3.2 6.9 3.4 6.8 3.6 6.6 3.8 6.5 3.9 6.5-3.6 3.3-3.5 3.4-3.6 3.6-3.5 3.8-3.6 3.9-3.8 4.1-3.6 4.3-3.5 4.4-3.6 4.7-3.5 4.7-3.3 4.8-3.3 4.8-3.4 4.9-3.3 4.9-3.5 4.8-3.6 4.8-3.6 4.7-3.8 4.7-3.8 4.6-3.9 4.5-4.1 4.5-4.1 4.4-4.2 4.2-4.3 4.2-4.4 3.9-4.8 3.6-4.9 3.3-5.2 2.7-5.4 2.2-5.4 1.8-5.5 1.3-5.4 0.5-5.4 0-5.4-0.2-5.4-0.4-5.4-0.6-5.4-1.1-5.4-2.1-5.3-2.6-3-1.2 5.8 4 6.1 3.7 6.2 3.3 6.5 2.8 6.5 2.6 6.6 2.5 6.7 2.3 6.9 1.5 7.1 0.1 7-0.7 6.9-1.4 6.7-2.3 6.3-3 6.1-3.6 5.7-4.2 5.3-4.7 5-5 4.9-5 4.9-5.1 4.8-5.2 4.8-5.2 4.7-5.3 4.7-5.3 4.7-5.2 4.7-5.3 4.7-5.3 4.7-5.2 4.8-5.2 4.9-5.2 4.9-5.1 4.9-5 5.1-4.8 5.5-4.5 5.9-3.9 6.2-3.3 6.5-2.9 6.6-2.6 6.7-2.1 6.8-1.9-7.6-5.5-7.3-5.7-7.2-6.1-6.7-6.4-6.5-6.8-6.3-6.9-6.4-6.8-6.5-6.7-6.3-6.8-6.1-7.1-5.6-7.5-5.1-7.9-4.8-8-4.5-8.2-4.4-8.2-4.3-8.3-4.2-8.4-4.1-8.4-3.9-8.5-3.8-8.5-3.5-8.6-3.4-8.8-3.3-8.7-3.4-8.7-3.3-8.7-3.4-8.7-3.5-8.7-3.5-8.7-3.5-8.6-3.4-8.7-3.3-8.8-3.1-8.8-3-8.9-2.9-8.8-2.8-9-2.7-8.9-2.7-9-2.6-8.9-2.6-9z" fill="#ffd200" />
<path d="M546 97.4l2.3 8.4 2.4 8.5 2.4 8.4 2.4 8.5 2.5 8.4 2.6 8.4 2.7 8.3 2.7 8.3 2.9 8.3 3 8.2 3.1 8.2 3 8.2 3 8.2 2.9 8.2 2.8 8.3 2.8 8.2 2.6 8.2 2.8 8.2 2.9 8 3.1 8 3.3 7.8 3.5 7.7 3.4 7.6 3.5 7.6 3.5 7.5 3.5 7.4 3.6 7.3 3.6 7.2 3.7 7 3.9 6.8 3.8 6.7 3.8 6.7 3.6 6.8 3.4 6.9 3.5 6.9 3.6 6.7 3.8 6.6 4 6.4 4.2 6.4-3.8 3.2-3.8 3.3-3.7 3.5-3.7 3.7-3.8 3.9-3.9 4.1-3.7 4.3-3.6 4.6-3.7 4.6-3.5 4.8-3.5 4.8-3.4 4.9-3.4 4.9-3.5 5-3.6 4.8-3.6 4.9-3.8 4.8-3.8 4.7-3.9 4.7-4.1 4.6-4.1 4.5-4.2 4.4-4.3 4.3-4.3 4.2-4.6 4-4.9 3.6-5.1 3.2-5.3 2.7-5.5 2.2-5.6 1.7-5.6 1.1-5.6 0.4-5.5-0.3-5.5-0.4-5.5-0.6-5.5-0.9-5.5-1.3-5.5-2.1-5.3-2.8-2.7-1.1 5.8 4 6.1 3.7 6.2 3.3 6.5 2.8 6.5 2.6 6.6 2.5 6.7 2.3 6.9 1.5 7.1 0.1 7-0.7 6.9-1.4 6.7-2.3 6.3-3 6.1-3.6 5.7-4.2 5.3-4.7 5-5 4.9-5 4.9-5.1 4.8-5.2 4.8-5.2 4.7-5.3 4.7-5.3 4.7-5.2 4.7-5.3 4.7-5.3 4.7-5.2 4.8-5.2 4.9-5.2 4.9-5.1 4.9-5 5.1-4.8 5.5-4.5 5.9-3.9 6.2-3.3 6.5-2.9 6.6-2.6 6.7-2.1 6.8-1.9-7.6-5.5-7.3-5.7-7.2-6.1-6.7-6.4-6.5-6.8-6.3-6.9-6.4-6.8-6.5-6.7-6.3-6.8-6.1-7.1-5.6-7.5-5.1-7.9-4.8-8-4.5-8.2-4.4-8.2-4.3-8.3-4.2-8.4-4.1-8.4-3.9-8.5-3.8-8.5-3.5-8.6-3.4-8.8-3.3-8.7-3.4-8.7-3.3-8.7-3.4-8.7-3.5-8.7-3.5-8.7-3.5-8.6-3.4-8.7-3.3-8.8-3.1-8.8-3-8.9-2.9-8.8-2.8-9-2.7-8.9-2.7-9-2.6-8.9-2.6-9z" fill="#ffe800" />
<path d="M546.4 97.4l2.3 8.5 2.4 8.5 2.5 8.5 2.5 8.5 2.5 8.5 2.6 8.5 2.7 8.4 2.9 8.4 2.9 8.4 3.1 8.3 3.1 8.2 3.1 8.3 3 8.3 3 8.2 2.9 8.3 2.8 8.3 2.8 8.3 2.8 8.2 3 8.1 3.2 8.1 3.3 7.8 3.5 7.8 3.6 7.7 3.5 7.6 3.6 7.6 3.6 7.4 3.6 7.4 3.8 7.2 3.8 7 4.1 6.8 4 6.7 4 6.7 3.9 6.7 3.7 6.9 3.6 6.8 3.9 6.7 4.2 6.5 4.3 6.4 4.5 6.3-4.1 3-4 3.3-4 3.4-4 3.6-4 3.9-4 4-3.8 4.4-3.7 4.6-3.8 4.7-3.7 4.8-3.6 4.9-3.5 4.9-3.5 5-3.6 5-3.7 4.9-3.8 4.9-3.8 4.8-4 4.8-4 4.8-4.1 4.6-4.2 4.6-4.3 4.5-4.4 4.3-4.5 4.3-4.7 4-5 3.6-5.2 3.2-5.5 2.7-5.6 2.1-5.8 1.6-5.8 1-5.7 0.1-5.6-0.5-5.6-0.7-5.7-0.8-5.6-1.1-5.6-1.5-5.5-2.3-5.4-2.9-2.4-1 5.8 4 6.1 3.7 6.2 3.3 6.5 2.8 6.5 2.6 6.6 2.5 6.7 2.3 6.9 1.5 7.1 0.1 7-0.7 6.9-1.4 6.7-2.3 6.3-3 6.1-3.6 5.7-4.2 5.3-4.7 5-5 4.9-5 4.9-5.1 4.8-5.2 4.8-5.2 4.7-5.3 4.7-5.3 4.7-5.2 4.7-5.3 4.7-5.3 4.7-5.2 4.8-5.2 4.9-5.2 4.9-5.1 4.9-5 5.1-4.8 5.5-4.5 5.9-3.9 6.2-3.3 6.5-2.9 6.6-2.6 6.7-2.1 6.8-1.9-7.6-5.5-7.3-5.7-7.2-6.1-6.7-6.4-6.5-6.8-6.3-6.9-6.4-6.8-6.5-6.7-6.3-6.8-6.1-7.1-5.6-7.5-5.1-7.9-4.8-8-4.5-8.2-4.4-8.2-4.3-8.3-4.2-8.4-4.1-8.4-3.9-8.5-3.8-8.5-3.5-8.6-3.4-8.8-3.3-8.7-3.4-8.7-3.3-8.7-3.4-8.7-3.5-8.7-3.5-8.7-3.5-8.6-3.4-8.7-3.3-8.8-3.1-8.8-3-8.9-2.9-8.8-2.8-9-2.7-8.9-2.7-9-2.6-8.9-2.6-9z" fill="#fffe00" />
<path d="M546.8 97.3l2.3 8.7 2.5 8.6 2.5 8.6 2.5 8.6 2.6 8.5 2.7 8.6 2.7 8.5 2.9 8.4 3 8.4 3.1 8.4 3.2 8.3 3.2 8.4 3.1 8.3 3 8.4 3 8.3 2.9 8.4 2.9 8.3 2.8 8.3 3.1 8.2 3.3 8.1 3.4 8 3.6 7.8 3.6 7.8 3.6 7.7 3.7 7.6 3.7 7.6 3.8 7.4 3.9 7.2 4 7.1 4.3 6.8 4.3 6.7 4.3 6.6 4.1 6.7 4 6.8 4 6.9 4.2 6.6 4.5 6.4 4.7 6.3 4.9 6.2-4.5 2.9-4.3 3.1-4.3 3.3-4.2 3.6-4.3 3.8-4.1 4-4 4.4-3.9 4.7-3.9 4.7-3.8 4.9-3.7 4.9-3.7 5-3.7 5-3.7 5-3.9 5-3.9 5-4 4.9-4 4.9-4.1 4.8-4.2 4.7-4.4 4.6-4.3 4.6-4.5 4.4-4.6 4.3-4.8 4.1-5.2 3.6-5.4 3.2-5.6 2.6-5.9 2-5.9 1.4-6 0.9-5.9-0.1-5.7-0.8-5.8-0.9-5.8-1.1-5.7-1.3-5.7-1.8-5.6-2.5-5.5-3.1-2-0.8 5.8 4 6.1 3.7 6.2 3.3 6.5 2.8 6.5 2.6 6.6 2.5 6.7 2.3 6.9 1.5 7.1 0.1 7-0.7 6.9-1.4 6.7-2.3 6.3-3 6.1-3.6 5.7-4.2 5.3-4.7 5-5 4.9-5 4.9-5.1 4.8-5.2 4.8-5.2 4.7-5.3 4.7-5.3 4.7-5.2 4.7-5.3 4.7-5.3 4.7-5.2 4.8-5.2 4.9-5.2 4.9-5.1 4.9-5 5.1-4.8 5.5-4.5 5.9-3.9 6.2-3.3 6.5-2.9 6.6-2.6 6.7-2.1 6.8-1.9-7.6-5.5-7.3-5.7-7.2-6.1-6.7-6.4-6.5-6.8-6.3-6.9-6.4-6.8-6.5-6.7-6.3-6.8-6.1-7.1-5.6-7.5-5.1-7.9-4.8-8-4.5-8.2-4.4-8.2-4.3-8.3-4.2-8.4-4.1-8.4-3.9-8.5-3.8-8.5-3.5-8.6-3.4-8.8-3.3-8.7-3.4-8.7-3.3-8.7-3.4-8.7-3.5-8.7-3.5-8.7-3.5-8.6-3.4-8.7-3.3-8.8-3.1-8.8-3-8.9-2.9-8.8-2.8-9-2.7-8.9-2.7-9-2.6-8.9-2.6-9z" fill="#eaff15" />
<path d="M547.2 97.3l2.4 8.7 2.5 8.7 2.5 8.7 2.6 8.7 2.6 8.6 2.7 8.6 2.9 8.6 2.9 8.6 3 8.5 3.2 8.4 3.3 8.4 3.3 8.4 3.1 8.4 3.1 8.5 3.1 8.4 3 8.4 2.9 8.4 3 8.4 3.2 8.3 3.3 8.2 3.6 8 3.6 8 3.7 7.9 3.8 7.7 3.7 7.8 3.9 7.6 3.9 7.5 4.1 7.3 4.3 7.1 4.6 6.9 4.6 6.6 4.7 6.6 4.5 6.8 4.3 6.8 4.4 6.8 4.6 6.5 4.9 6.4 5.2 6.2 5.3 6.1-4.8 2.7-4.8 2.9-4.6 3.2-4.6 3.5-4.6 3.7-4.4 4-4.2 4.5-4 4.6-4.1 4.9-4 4.9-3.9 4.9-3.9 5.1-3.9 5.1-3.9 5-3.9 5.1-4.1 5-4.1 5-4.2 4.9-4.2 4.9-4.4 4.8-4.4 4.7-4.5 4.7-4.6 4.5-4.7 4.4-5 4.1-5.3 3.6-5.6 3.2-5.8 2.5-6.1 1.9-6.1 1.3-6.2 0.7-6.1-0.4-5.9-1.1-6-1.2-5.9-1.3-5.9-1.7-5.7-2-5.7-2.8-5.6-3.2-1.6-0.7 5.8 4 6.1 3.7 6.2 3.3 6.5 2.8 6.5 2.6 6.6 2.5 6.7 2.3 6.9 1.5 7.1 0.1 7-0.7 6.9-1.4 6.7-2.3 6.3-3 6.1-3.6 5.7-4.2 5.3-4.7 5-5 4.9-5 4.9-5.1 4.8-5.2 4.8-5.2 4.7-5.3 4.7-5.3 4.7-5.2 4.7-5.3 4.7-5.3 4.7-5.2 4.8-5.2 4.9-5.2 4.9-5.1 4.9-5 5.1-4.8 5.5-4.5 5.9-3.9 6.2-3.3 6.5-2.9 6.6-2.6 6.7-2.1 6.8-1.9-7.6-5.5-7.3-5.7-7.2-6.1-6.7-6.4-6.5-6.8-6.3-6.9-6.4-6.8-6.5-6.7-6.3-6.8-6.1-7.1-5.6-7.5-5.1-7.9-4.8-8-4.5-8.2-4.4-8.2-4.3-8.3-4.2-8.4-4.1-8.4-3.9-8.5-3.8-8.5-3.5-8.6-3.4-8.8-3.3-8.7-3.4-8.7-3.3-8.7-3.4-8.7-3.5-8.7-3.5-8.7-3.5-8.6-3.4-8.7-3.3-8.8-3.1-8.8-3-8.9-2.9-8.8-2.8-9-2.7-8.9-2.7-9-2.6-8.9-2.6-9z" fill="#d5ff2a" />
<path d="M547.6 97.3l2.5 8.8 2.5 8.8 2.6 8.8 2.6 8.7 2.7 8.7 2.7 8.7 2.9 8.7 3 8.6 3.1 8.6 3.3 8.5 3.3 8.5 3.4 8.5 3.2 8.5 3.2 8.5 3.2 8.5 3.1 8.5 3 8.6 3.1 8.4 3.3 8.4 3.5 8.3 3.6 8.1 3.7 8.1 3.9 8 3.9 7.9 3.9 7.9 4 7.7 4.1 7.7 4.4 7.4 4.6 7.2 4.9 6.9 5.1 6.6 5.1 6.7 5 6.7 4.8 6.8 4.9 6.8 5.2 6.5 5.4 6.3 5.7 6 5.9 6-5.3 2.4-5.3 2.8-5.1 3-5 3.3-5 3.7-4.8 4-4.5 4.4-4.2 4.8-4.3 4.9-4.3 4.9-4.1 5.1-4.1 5-4.1 5.2-4.1 5.1-4.2 5.1-4.2 5.1-4.3 5.1-4.3 5-4.4 5-4.5 4.9-4.5 4.8-4.6 4.8-4.8 4.6-4.8 4.5-5.2 4.1-5.5 3.6-5.8 3.1-6.1 2.5-6.3 1.7-6.4 1.2-6.4 0.5-6.3-0.7-6.1-1.4-6.2-1.6-6.1-1.7-6-1.9-5.9-2.5-5.8-3-5.6-3.4-1.2-0.5 5.8 4 6.1 3.7 6.2 3.3 6.5 2.8 6.5 2.6 6.6 2.5 6.7 2.3 6.9 1.5 7.1 0.1 7-0.7 6.9-1.4 6.7-2.3 6.3-3 6.1-3.6 5.7-4.2 5.3-4.7 5-5 4.9-5 4.9-5.1 4.8-5.2 4.8-5.2 4.7-5.3 4.7-5.3 4.7-5.2 4.7-5.3 4.7-5.3 4.7-5.2 4.8-5.2 4.9-5.2 4.9-5.1 4.9-5 5.1-4.8 5.5-4.5 5.9-3.9 6.2-3.3 6.5-2.9 6.6-2.6 6.7-2.1 6.8-1.9-7.6-5.5-7.3-5.7-7.2-6.1-6.7-6.4-6.5-6.8-6.3-6.9-6.4-6.8-6.5-6.7-6.3-6.8-6.1-7.1-5.6-7.5-5.1-7.9-4.8-8-4.5-8.2-4.4-8.2-4.3-8.3-4.2-8.4-4.1-8.4-3.9-8.5-3.8-8.5-3.5-8.6-3.4-8.8-3.3-8.7-3.4-8.7-3.3-8.7-3.4-8.7-3.5-8.7-3.5-8.7-3.5-8.6-3.4-8.7-3.3-8.8-3.1-8.8-3-8.9-2.9-8.8-2.8-9-2.7-8.9-2.7-9-2.6-8.9-2.6-9z" fill="#bfff40" />
<path d="M548 97.3l2.6 8.9 2.5 8.9 2.7 8.8 2.6 8.9 2.8 8.8 2.8 8.8 2.9 8.7 3 8.8 3.3 8.6 3.3 8.6 3.4 8.6 3.5 8.5 3.3 8.6 3.3 8.6 3.2 8.6 3.3 8.7 3.1 8.6 3.2 8.6 3.5 8.5 3.6 8.4 3.7 8.3 3.9 8.2 4 8.1 4.1 8.1 4.1 8 4.2 8 4.4 7.8 4.7 7.6 5.1 7.3 5.4 6.9 5.6 6.8 5.7 6.6 5.6 6.8 5.5 6.8 5.5 6.8 5.9 6.5 6.1 6.1 6.5 5.9 6.6 5.8-6 2.2-5.9 2.5-5.7 2.8-5.7 3.1-5.5 3.5-5.2 4-4.9 4.5-4.7 4.8-4.5 4.9-4.5 5-4.5 5.1-4.4 5.2-4.4 5.2-4.3 5.2-4.4 5.1-4.5 5.2-4.4 5.2-4.5 5.1-4.6 5.1-4.6 5-4.7 5-4.8 4.9-4.9 4.7-5 4.6-5.4 4.2-5.8 3.6-6 3.1-6.4 2.4-6.6 1.5-6.6 1-6.7 0.2-6.6-1-6.4-1.9-6.3-1.9-6.4-2.1-6.2-2.4-6-2.8-5.9-3.4-5.7-3.6-0.7-0.3 5.8 4 6.1 3.7 6.2 3.3 6.5 2.8 6.5 2.6 6.6 2.5 6.7 2.3 6.9 1.5 7.1 0.1 7-0.7 6.9-1.4 6.7-2.3 6.3-3 6.1-3.6 5.7-4.2 5.3-4.7 5-5 4.9-5 4.9-5.1 4.8-5.2 4.8-5.2 4.7-5.3 4.7-5.3 4.7-5.2 4.7-5.3 4.7-5.3 4.7-5.2 4.8-5.2 4.9-5.2 4.9-5.1 4.9-5 5.1-4.8 5.5-4.5 5.9-3.9 6.2-3.3 6.5-2.9 6.6-2.6 6.7-2.1 6.8-1.9-7.6-5.5-7.3-5.7-7.2-6.1-6.7-6.4-6.5-6.8-6.3-6.9-6.4-6.8-6.5-6.7-6.3-6.8-6.1-7.1-5.6-7.5-5.1-7.9-4.8-8-4.5-8.2-4.4-8.2-4.3-8.3-4.2-8.4-4.1-8.4-3.9-8.5-3.8-8.5-3.5-8.6-3.4-8.8-3.3-8.7-3.4-8.7-3.3-8.7-3.4-8.7-3.5-8.7-3.5-8.7-3.5-8.6-3.4-8.7-3.3-8.8-3.1-8.8-3-8.9-2.9-8.8-2.8-9-2.7-8.9-2.7-9-2.6-8.9-2.6-9z" fill="#a9ff56" />
<path d="M518.6 524.3l-1.5-1-1.4-0.9-1.5-1-1.4-0.9-1.5-0.8-1.4-0.9-1.5-0.8-1.4-0.8-1.5-0.8-1.4-0.7-1.5-0.7-1.4-0.7-1.5-0.6-1.4-0.6-1.5-0.5" fill="none" stroke="#808080" stroke-width="1.8" stroke-linejoin="round"/>
<path d="M541 532.5l-2.9-2.6-2.9-2.4-3-2.5-2.9-2.4-2.9-2.4-2.9-2.3-2.9-2.3-2.9-2.2-2.9-2.1-2.9-2-2.9-1.9-2.9-1.8-2.9-1.7-2.9-1.5-2.9-1.3-2.9-1.1-2.8-0.9-2.9-0.8-2.9-0.6-2.9-0.3-2.9-0.2-2.9 0-2.9 0.3" fill="none" stroke="#808080" stroke-width="1.8" stroke-linejoin="round"/>
<path d="M563.3 533l-4.3-3.9-4.4-3.8-4.3-3.8-4.4-3.7-4.4-3.7-4.3-3.7-4.4-3.7-4.3-3.6-4.4-3.6-4.3-3.5-4.4-3.4-4.3-3.3-4.4-3.2-4.3-3.1-4.4-2.9-4.3-2.7-4.4-2.5-4.3-2.1-4.4-1.7-4.3-1-4.3-0.5-4.4 0.2-4.3 1.1-4.4 1.7-4.3 2.5-4.3 3.3" fill="none" stroke="#808080" stroke-width="1.8" stroke-linejoin="round"/>
<path d="M585.7 524l-5.7-5.3-5.6-5.2-5.7-5.3-5.7-5.4-5.6-5.4-5.7-5.3-5.7-5.3-5.7-5.1-5.6-4.8-5.7-4.7-5.6-4.4-5.7-4.4-5.7-4.5-5.6-4.4-5.7-4.4-5.6-4.4-5.7-4.2-5.6-3.9-5.7-3.8-5.6-3.4-5.7-2.8-5.6-1.7-5.6-0.3-5.7 1.6-5.6 3.5-5.6 5.7-5.7 7.7-5.6 9.9" fill="none" stroke="#808080" stroke-width="1.8" stroke-linejoin="round"/>
<path d="M608.1 504.8l-5.7-5.1-5.7-5.2-5.6-5.3-5.7-5.4-5.7-5.7-5.7-5.7-5.7-5.9-5.6-5.8-5.7-5.6-5.7-5.7-5.7-5.6-5.6-5.8-5.7-6-5.7-6.2-5.6-6.2-5.7-6.2-5.6-5.9-5.7-5.8-5.7-5.5-5.6-5.2-5.7-4.9-5.6-4.4-5.7-3.8-5.6-3.1-5.7-2.6-5.6-2.4-5.7-2.1-5.6-1.8-5.6-1.2-5.6 0.1" fill="none" stroke="#808080" stroke-width="1.8" stroke-linejoin="round"/>
<path d="M630.5 480.7l-5.7-5.2-5.7-5.3-5.7-5.4-5.7-5.6-5.7-5.9-5.6-6.1-5.7-6.2-5.7-6.1-5.7-6.1-5.7-6.1-5.7-6.2-5.6-6.5-5.7-7-5.7-7.3-5.7-7.7-5.6-7.9-5.7-8-5.7-8.1-5.7-8.2-5.6-8.4-5.7-8.5-5.7-8.4-5.6-7.8-5.7-7.4-5.6-6.9-5.7-6.5-5.7-6.3-5.6-5.9-5.7-5.4-5.6-4.5" fill="none" stroke="#808080" stroke-width="1.8" stroke-linejoin="round"/>
<path d="M652.9 455.8l-5.7-5-5.7-5.3-5.7-5.4-5.7-5.7-5.7-6-5.7-6.3-5.7-6.4-5.7-6.5-5.7-6.4-5.7-6.5-5.7-6.7-5.7-7.1-5.6-7.7-5.7-8.2-5.7-8.8-5.7-9.2-5.7-9.4-5.7-9.6-5.6-10-5.7-10.4-5.7-10.7-5.7-10.8-5.7-10.6-5.6-10.2-5.7-10-5.7-10.1-5.7-10.4-5.6-10.7-5.7-10.9-5.6-10.7" fill="none" stroke="#808080" stroke-width="1.8" stroke-linejoin="round"/>
<path d="M675.2 433.3l-5.7-4.9-5.7-5.1-5.7-5.2-5.7-5.6-5.7-6-5.7-6.3-5.7-6.5-5.7-6.4-5.7-6.5-5.7-6.5-5.7-6.8-5.7-7.4-5.7-8-5.7-8.8-5.7-9.4-5.7-10-5.6-10.3-5.7-10.7-5.7-11.2-5.7-11.9-5.7-12.5-5.7-12.6-5.7-12.6-5.7-12.3-5.7-12.3-5.7-12.6-5.7-13.3-5.6-14.1-5.7-14.5-5.7-14.8" fill="none" stroke="#808080" stroke-width="1.8" stroke-linejoin="round"/>
<path d="M697.6 418.9l-5.7-4.8-5.7-4.8-5.7-5.2-5.7-5.4-5.7-5.9-5.7-6.3-5.7-6.5-5.8-6.5-5.7-6.4-5.7-6.6-5.7-6.8-5.7-7.5-5.7-8.2-5.7-9.2-5.7-9.9-5.7-10.5-5.7-10.9-5.7-11.5-5.7-12.1-5.7-12.9-5.7-13.7-5.7-13.9-5.7-13.8-5.7-13.7-5.7-13.7-5.7-14.2-5.8-15.1-5.7-16.2-5.7-16.9-5.6-17.4" fill="none" stroke="#808080" stroke-width="1.8" stroke-linejoin="round"/>
<path d="M485.2 510.8l7.3 1 7.4 0.9 7.3 0.4 7.3 0.4 7.3 0.7 7.3 0.5 7.3-0.5 7.3-1.7 7.3-2.9 7.3-3.8 7.3-4.8 7.3-5.6 7.3-6.5 7.3-7.4 7.3-7.9 7.3-8.1 7.4-8.3 7.3-8.2 7.3-8.1 7.3-7.8 7.3-7.6 7.3-7.2 7.3-6.6 7.3-5.5 7.3-4.4 7.3-3.3 7.3-2.5 7.3-1.8 7.3-1.4" fill="none" stroke="#808080" stroke-width="1.8" stroke-linejoin="round"/>
<path d="M474.3 509.5l6.9-2.8 6.9-3 6.9-3 6.9-2.5 6.9-1.6 6.9-1.4 6.9-2.1 6.8-3.5 6.9-4.8 6.9-5.5 6.9-6.1 6.9-6.6 6.9-7.2 6.9-7.8 6.9-8.1 6.9-8.2 6.9-8.2 6.9-8 6.9-7.7 6.9-7.4 6.9-7 6.9-6.5 6.9-6 6.9-5 6.9-3.8 6.9-2.7 6.9-1.9 6.9-1.1 6.9-0.8" fill="none" stroke="#808080" stroke-width="1.8" stroke-linejoin="round"/>
<path d="M463.3 508l6.5-6.9 6.5-6.8 6.5-6.5 6.5-5.6 6.4-3.9 6.5-3.3 6.5-3.8 6.5-5.4 6.5-6.7 6.5-7.3 6.5-7.5 6.4-7.7 6.5-8 6.5-8.1 6.5-8.4 6.5-8.3 6.5-8.2 6.5-7.9 6.4-7.4 6.5-7 6.5-6.5 6.5-5.9 6.5-5.4 6.5-4.5 6.5-3.4 6.4-2.2 6.5-1.3 6.5-0.5 6.5-0.1" fill="none" stroke="#808080" stroke-width="1.8" stroke-linejoin="round"/>
<path d="M452.4 505.9l6-11.3 6.1-11 6.1-10.4 6.1-9 6-6.7 6.1-5.5 6.1-6 6.1-7.7 6-8.9 6.1-9.5 6.1-9.3 6.1-9.2 6-9.1 6.1-9 6.1-9 6.1-8.9 6-8.6 6.1-8.1 6.1-7.5 6.1-6.9 6-6.4 6.1-5.8 6.1-5.2 6.1-4.3 6-3.3 6.1-2.2 6.1-1.1 6.1-0.3 6 0.1" fill="none" stroke="#808080" stroke-width="1.8" stroke-linejoin="round"/>
<path d="M441.4 503.3l5.7-16.1 5.6-15.5 5.7-14.7 5.7-12.8 5.6-9.8 5.7-8.1 5.7-8.6 5.6-10.2 5.7-11.6 5.6-12 5.7-11.6 5.7-11 5.6-10.6 5.7-10.2 5.7-10 5.6-9.8 5.7-9.3 5.7-8.7 5.6-8 5.7-7.3 5.7-6.6 5.6-6 5.7-5.4 5.6-4.6 5.7-3.6 5.7-2.4 5.6-1.3 5.7-0.5 5.7 0" fill="none" stroke="#808080" stroke-width="1.8" stroke-linejoin="round"/>
<path d="M430.4 500.3l5.3-21.2 5.2-20.3 5.3-19.4 5.3-16.8 5.2-13.3 5.3-11.1 5.2-11.3 5.3-13.2 5.2-14.6 5.3-14.8 5.2-14 5.3-13.2 5.2-12.4 5.3-11.7 5.2-11.3 5.3-11 5.3-10.4 5.2-9.6 5.3-8.8 5.2-7.9 5.3-7.2 5.2-6.5 5.3-5.9 5.2-5.1 5.3-4.2 5.2-3 5.3-1.8 5.2-1 5.3-0.4" fill="none" stroke="#808080" stroke-width="1.8" stroke-linejoin="round"/>
<path d="M419.5 496.9l4.8-26.5 4.9-25.4 4.8-24.1 4.9-21.2 4.8-16.8 4.8-14.2 4.9-14.4 4.8-16.2 4.9-17.8 4.8-17.7 4.9-16.8 4.8-15.5 4.8-14.4 4.9-13.4 4.8-12.8 4.9-12.3 4.8-11.7 4.9-10.7 4.8-9.7 4.8-8.8 4.9-7.9 4.8-7.1 4.9-6.6 4.8-5.9 4.9-4.9 4.8-3.8 4.8-2.5 4.9-1.5 4.8-1.1" fill="none" stroke="#808080" stroke-width="1.8" stroke-linejoin="round"/>
<path d="M720 411l-2.9-2.1-2.9-2.2-2.9-2.2-2.9-2.2-2.9-2.3-2.9-2.5-2.9-2.5-3-2.6-2.9-2.7-2.9-2.9-2.9-2.9-2.9-3.1-2.9-3.1-2.9-3.1-2.9-3.1-2.9-3.1-2.9-3.1-2.9-3-2.9-3.1-2.9-3.2-2.9-3.2-2.9-3.5-3-3.5-2.9-3.9-2.9-4-2.9-4.4-2.9-4.6-2.9-4.8-2.9-5.1-2.9-5.2-2.9-5.4-2.9-5.5-2.9-5.7-2.9-5.8-2.9-6-2.9-6.2-3-6.3-2.9-6.6-2.9-6.9-2.9-7.1-2.9-7.4-2.9-7.4-2.9-7.5-2.9-7.5-2.9-7.4-2.9-7.4-2.9-7.3-2.9-7.4-2.9-7.4-2.9-7.5-2.9-7.8-3-8.1-2.9-8.5-2.9-8.8-2.9-9.1-2.9-9.3-2.9-9.6-2.9-9.8-2.9-9.8" fill="none" stroke="#222" stroke-width="1.6" />
<path d="M433.4 493.8l1.1-0.1 1-0.1 1.1 0 1.1-0.1 1 0 1.1-0.1 1.1 0 1 0.1 1.1 0 1 0.1 1.1 0.1 1.1 0.1 1 0.1 1.1 0.2 1.1 0.2 1 0.2 1.1 0.2 1.1 0.3 1 0.2 1.1 0.3 1.1 0.3 1 0.3 1.1 0.4 1 0.3 1.1 0.3 1.1 0.4 1 0.4 1.1 0.4 1.1 0.4 1 0.4 1.1 0.5 1.1 0.4 1 0.5 1.1 0.5 1.1 0.5 1 0.6 1.1 0.5 1 0.5 1.1 0.5 1.1 0.5 1 0.6 1.1 0.4 1.1 0.5 1 0.5 1.1 0.5 1.1 0.4 1 0.4 1.1 0.4 1.1 0.4 1 0.4 1.1 0.4 1 0.3 1.1 0.4 1.1 0.3 1 0.4 1.1 0.3 1.1 0.3 1 0.4 1.1 0.3-1.3-1.1-1.2-1.2-1.3-1.1-1.3-1.1-1.3-1.1-1.2-1.1-1.3-1-1.3-1.1-1.3-1-1.2-1.1-1.3-1-1.3-0.9-1.3-1-1.2-1-1.3-0.9-1.3-0.9-1.3-0.9-1.2-0.9-1.3-0.9-1.3-0.9-1.3-0.9-1.2-0.8-1.3-0.9-1.3-0.9-1.3-0.8-1.2-0.9-1.3-0.8-1.3-0.9-1.3-0.8-1.2-0.9-1.3-0.8-1.3-0.8-1.3-0.9-1.2-0.8-1.3-0.9-1.3-0.9-1.3-0.8-1.2-0.9-1.3-1-1.3-0.9-1.3-1-1.2-1-1.3-1.1-1.3-1-1.3-1.2-1.2-1.1-1.3-1.2-1.3-1.2-1.3-1.3-1.2-1.3-1.3-1.3-1.3-1.3-1.3-1.4-1.2-1.4-1.3-1.4-1.3-1.5-1.3-1.5-1.2-1.5-1.3-1.5-2.8-2.5-2.7-2.5-2.8-2.6-2.8-2.7-2.7-2.8-2.8-2.8-2.7-3-2.8-3.2-2.8-3.3-2.7-3.4-2.8-3.7-2.8-3.8-2.7-4.1-2.8-4.2-2.7-4.5-2.8-4.8-2.8-4.9-2.7-5.3-2.8-5.4-2.8-5.6-2.7-5.8-2.8-6-2.7-6.1-2.8-6.1-2.8-6.2-2.7-6.2-2.8-6-2.8-6-2.7-6-2.8-6-2.7-6.2-2.8-6.5-2.8-7-2.7-7.4-2.8-7.7-2.8-7.8-2.7-7.9-2.8-7.8-2.7-7.5-2.8-7.2-2.8-6.8-2.7-6.4-2.8-6-2.8-5.6-2.7-5.1-2.8-4.8-2.7-4.5-2.8-4.1-2.8-3.9-2.7-3.6-2.8-3.3-2.8-2.9-2.7-2.7-2.8-2.3-2.7-2-2.8-1.6-2.8-1.3-2.7-1.1-2.8-0.9 3 10.8 2.9 10.6 3 10 3 9.4 3 8.8 2.9 8.3 3 7.9 3 7.8 3 7.7 2.9 7.7 3 7.6 3 7.7 2.9 7.7 3 7.7 3 7.7 3 7.4 2.9 7.3 3 7 3 6.7 3 6.6 2.9 6.4 3 6.3 3 6.3 2.9 6.1 3 5.9 3 5.8 3 5.5 2.9 5.2 3 5 3 4.7 3 4.7 2.9 4.6 3 4.6 3 4.7 3 4.6 2.9 4.6 3 4.3 3 4 2.9 3.8 3 3.5 3 3.4 3 3.3 2.9 3.3 3 3.3 3 3.4 3 3.5 2.9 3.5 3 3.4 3 3.4 2.9 3.2 3 3.1 3 2.9 3 2.9 2.9 2.7 3 2.7 3 2.6 3 2.6 2.9 2.5 3 2.5z" fill="#00b2ff" />
<defs><linearGradient id="gb0" gradientUnits="userSpaceOnUse" x1="258" y1="172" x2="470" y2="505"><stop offset="0.00" stop-color="#61ff9e"/><stop offset="0.12" stop-color="#61ff9e"/><stop offset="0.25" stop-color="#61ff9e"/><stop offset="0.38" stop-color="#75ff8a"/><stop offset="0.50" stop-color="#7fff80"/><stop offset="0.62" stop-color="#84ff7b"/><stop offset="0.75" stop-color="#87ff78"/><stop offset="0.88" stop-color="#8bff74"/><stop offset="1.00" stop-color="#8eff71"/></linearGradient><linearGradient id="gb1" gradientUnits="userSpaceOnUse" x1="258" y1="172" x2="470" y2="505"><stop offset="0.00" stop-color="#00fbff"/><stop offset="0.12" stop-color="#00fbff"/><stop offset="0.25" stop-color="#00fbff"/><stop offset="0.38" stop-color="#36ffc9"/><stop offset="0.50" stop-color="#54ffab"/><stop offset="0.62" stop-color="#63ff9c"/><stop offset="0.75" stop-color="#6dff92"/><stop offset="0.88" stop-color="#78ff87"/><stop offset="1.00" stop-color="#83ff7c"/></linearGradient><linearGradient id="gb2" gradientUnits="userSpaceOnUse" x1="258" y1="172" x2="470" y2="505"><stop offset="0.00" stop-color="#00b2ff"/><stop offset="0.12" stop-color="#00b2ff"/><stop offset="0.25" stop-color="#00b2ff"/><stop offset="0.38" stop-color="#00f6ff"/><stop offset="0.50" stop-color="#29ffd6"/><stop offset="0.62" stop-color="#43ffbc"/><stop offset="0.75" stop-color="#53ffac"/><stop offset="0.88" stop-color="#66ff99"/><stop offset="1.00" stop-color="#77ff88"/></linearGradient><linearGradient id="gb3" gradientUnits="userSpaceOnUse" x1="258" y1="172" x2="470" y2="505"><stop offset="0.00" stop-color="#006aff"/><stop offset="0.12" stop-color="#006aff"/><stop offset="0.25" stop-color="#006aff"/><stop offset="0.38" stop-color="#00afff"/><stop offset="0.50" stop-color="#00fdff"/><stop offset="0.62" stop-color="#23ffdc"/><stop offset="0.75" stop-color="#39ffc6"/><stop offset="0.88" stop-color="#54ffab"/><stop offset="1.00" stop-color="#6bff94"/></linearGradient><linearGradient id="gb4" gradientUnits="userSpaceOnUse" x1="258" y1="172" x2="470" y2="505"><stop offset="0.00" stop-color="#0021ff"/><stop offset="0.12" stop-color="#0021ff"/><stop offset="0.25" stop-color="#0021ff"/><stop offset="0.38" stop-color="#0068ff"/><stop offset="0.50" stop-color="#00b9ff"/><stop offset="0.62" stop-color="#03fffc"/><stop offset="0.75" stop-color="#1fffe0"/><stop offset="0.88" stop-color="#42ffbd"/><stop offset="1.00" stop-color="#60ff9f"/></linearGradient><linearGradient id="gb5" gradientUnits="userSpaceOnUse" x1="258" y1="172" x2="470" y2="505"><stop offset="0.00" stop-color="#0000e6"/><stop offset="0.12" stop-color="#0000e6"/><stop offset="0.25" stop-color="#0000e6"/><stop offset="0.38" stop-color="#0022ff"/><stop offset="0.50" stop-color="#0074ff"/><stop offset="0.62" stop-color="#00c1ff"/><stop offset="0.75" stop-color="#05fffa"/><stop offset="0.88" stop-color="#2fffd0"/><stop offset="1.00" stop-color="#54ffab"/></linearGradient><linearGradient id="gb6" gradientUnits="userSpaceOnUse" x1="258" y1="172" x2="470" y2="505"><stop offset="0.00" stop-color="#0000b7"/><stop offset="0.12" stop-color="#0000b7"/><stop offset="0.25" stop-color="#0000b7"/><stop offset="0.38" stop-color="#0000e7"/><stop offset="0.50" stop-color="#002fff"/><stop offset="0.62" stop-color="#007fff"/><stop offset="0.75" stop-color="#00d4ff"/><stop offset="0.88" stop-color="#1dffe2"/><stop offset="1.00" stop-color="#49ffb6"/></linearGradient><linearGradient id="gb7" gradientUnits="userSpaceOnUse" x1="258" y1="172" x2="470" y2="505"><stop offset="0.00" stop-color="#000088"/><stop offset="0.12" stop-color="#000088"/><stop offset="0.25" stop-color="#000088"/><stop offset="0.38" stop-color="#0000b9"/><stop offset="0.50" stop-color="#0000f1"/><stop offset="0.62" stop-color="#003cff"/><stop offset="0.75" stop-color="#009fff"/><stop offset="0.88" stop-color="#0bfff4"/><stop offset="1.00" stop-color="#3dffc2"/></linearGradient><linearGradient id="gb8" gradientUnits="userSpaceOnUse" x1="258" y1="172" x2="470" y2="505"><stop offset="0.00" stop-color="#000080"/><stop offset="0.12" stop-color="#000080"/><stop offset="0.25" stop-color="#000080"/><stop offset="0.38" stop-color="#00008b"/><stop offset="0.50" stop-color="#0000c4"/><stop offset="0.62" stop-color="#0000fa"/><stop offset="0.75" stop-color="#006aff"/><stop offset="0.88" stop-color="#00f0ff"/><stop offset="1.00" stop-color="#32ffcd"/></linearGradient><linearGradient id="gb9" gradientUnits="userSpaceOnUse" x1="258" y1="172" x2="470" y2="505"><stop offset="0.00" stop-color="#000080"/><stop offset="0.12" stop-color="#000080"/><stop offset="0.25" stop-color="#000080"/><stop offset="0.38" stop-color="#000080"/><stop offset="0.50" stop-color="#000096"/><stop offset="0.62" stop-color="#0000ce"/><stop offset="0.75" stop-color="#0035ff"/><stop offset="0.88" stop-color="#00ccff"/><stop offset="1.00" stop-color="#26ffd9"/></linearGradient><linearGradient id="gb10" gradientUnits="userSpaceOnUse" x1="258" y1="172" x2="470" y2="505"><stop offset="0.00" stop-color="#000080"/><stop offset="0.12" stop-color="#000080"/><stop offset="0.25" stop-color="#000080"/><stop offset="0.38" stop-color="#000080"/><stop offset="0.50" stop-color="#000080"/><stop offset="0.62" stop-color="#0000a2"/><stop offset="0.75" stop-color="#0000ff"/><stop offset="0.88" stop-color="#00a8ff"/><stop offset="1.00" stop-color="#1bffe4"/></linearGradient><linearGradient id="gb11" gradientUnits="userSpaceOnUse" x1="258" y1="172" x2="470" y2="505"><stop offset="0.00" stop-color="#000080"/><stop offset="0.12" stop-color="#000080"/><stop offset="0.25" stop-color="#000080"/><stop offset="0.38" stop-color="#000080"/><stop offset="0.50" stop-color="#000080"/><stop offset="0.62" stop-color="#000080"/><stop offset="0.75" stop-color="#0000e7"/><stop offset="0.88" stop-color="#0084ff"/><stop offset="1.00" stop-color="#0ffff0"/></linearGradient><linearGradient id="gb12" gradientUnits="userSpaceOnUse" x1="258" y1="172" x2="470" y2="505"><stop offset="0.00" stop-color="#000080"/><stop offset="0.12" stop-color="#000080"/><stop offset="0.25" stop-color="#000080"/><stop offset="0.38" stop-color="#000080"/><stop offset="0.50" stop-color="#000080"/><stop offset="0.62" stop-color="#000080"/><stop offset="0.75" stop-color="#0000cf"/><stop offset="0.88" stop-color="#0060ff"/><stop offset="1.00" stop-color="#03fffc"/></linearGradient><linearGradient id="gb13" gradientUnits="userSpaceOnUse" x1="258" y1="172" x2="470" y2="505"><stop offset="0.00" stop-color="#000080"/><stop offset="0.12" stop-color="#000080"/><stop offset="0.25" stop-color="#000080"/><stop offset="0.38" stop-color="#000080"/><stop offset="0.50" stop-color="#000080"/><stop offset="0.62" stop-color="#000080"/><stop offset="0.75" stop-color="#0000b7"/><stop offset="0.88" stop-color="#003cff"/><stop offset="1.00" stop-color="#00efff"/></linearGradient><linearGradient id="gb14" gradientUnits="userSpaceOnUse" x1="258" y1="172" x2="470" y2="505"><stop offset="0.00" stop-color="#000080"/><stop offset="0.12" stop-color="#000080"/><stop offset="0.25" stop-color="#000080"/><stop offset="0.38" stop-color="#000080"/><stop offset="0.50" stop-color="#000080"/><stop offset="0.62" stop-color="#000080"/><stop offset="0.75" stop-color="#00009f"/><stop offset="0.88" stop-color="#0018ff"/><stop offset="1.00" stop-color="#00d8ff"/></linearGradient><linearGradient id="gb15" gradientUnits="userSpaceOnUse" x1="258" y1="172" x2="470" y2="505"><stop offset="0.00" stop-color="#000080"/><stop offset="0.12" stop-color="#000080"/><stop offset="0.25" stop-color="#000080"/><stop offset="0.38" stop-color="#000080"/><stop offset="0.50" stop-color="#000080"/><stop offset="0.62" stop-color="#000080"/><stop offset="0.75" stop-color="#000086"/><stop offset="0.88" stop-color="#0000f9"/><stop offset="1.00" stop-color="#00c2ff"/></linearGradient></defs>
<path d="M258 172.6l1.1 4.6 1.2 4.5 1.2 4.6 1.2 4.5 1.2 4.6 1.3 4.5 1.4 4.5 1.4 4.5 1.4 4.5 1.5 4.4 1.6 4.5 1.7 4.4 1.6 4.4 1.7 4.3 1.7 4.4 1.8 4.4 1.7 4.4 1.7 4.4 1.7 4.4 1.7 4.3 1.7 4.4 1.7 4.4 1.7 4.4 1.7 4.4 1.7 4.4 1.7 4.4 1.6 4.4 1.7 4.4 1.7 4.4 1.7 4.4 1.7 4.4 1.7 4.3 1.9 4.4 1.9 4.3 1.9 4.3 2 4.2 2 4.3 2 4.2 2 4.3 2 4.3 2 4.2 2 4.3 2 4.2 2.1 4.2 2.1 4.2 2.2 4.2 2.2 4.2 2.4 4.1 2.4 4 2.5 4 2.6 3.9 2.6 3.9 2.7 3.9 2.6 3.9 2.5 4 2.4 4 2.3 4.1 2.5 4 2.7 3.9 2.9 3.7 3 3.6 3.2 3.5 3.1 3.5 3.2 3.4 3.2 3.4 3.2 3.5 3.1 3.6 2.9 3.7 2.9 3.6 3.1 3.6 3.2 3.5 3.2 3.4 3.4 3.3 3.4 3.2 3.5 3.2 3.5 3.1 3.6 3.1 3.6 3 3.6 3 62.8 17.9-4-3.6-4.1-3.5-4.2-3.4-4.3-3.3-4.3-3.2-4.4-3.1-4.5-3-4.5-3-4.5-3-4.5-3-4.4-3-4.4-3.2-4.1-3.4-4-3.7-3.9-3.7-3.7-4-3.5-4-3.5-4.1-4-3.7-4-3.6-3.9-3.7-3.8-3.8-3.7-4-3.5-4-3.5-4.2-3.3-4.2-3.2-4.3-3.1-4.5-3-4.5-2.8-4.6-2.7-4.6-2.6-4.7-2.6-4.8-2.4-4.8-2.4-4.8-2.3-4.9-2.3-4.9-2.3-4.9-2.2-4.9-2.1-4.9-2.2-5-2.1-4.9-2.2-5-2.2-4.9-2.3-4.9-2.3-4.8-2.4-4.9-2.3-4.8-2.3-4.9-2.2-4.9-2.1-5-1.9-5.1-1.8-5-1.8-5.2-1.7-5.1-1.7-5.1-1.7-5.1-1.8-5.1-1.7-5.1-1.8-5.1-1.9-5-1.8-5.1-2-5-2-5-2.2-5-2.2-4.9-2.4-4.8-2.5-4.8-2.6-4.7-2.8-4.6-2.9-4.5-3.1-4.5-3.2-4.3-3.4-4.2-3.7-3.9-4-3.6-4.5-3-4.8-2.4-5.2-1.4z" fill="url(#gb0)" />
<path d="M258 172.6l1.4 4.4 1.4 4.4 1.4 4.5 1.3 4.4 1.5 4.5 1.4 4.5 1.4 4.5 1.5 4.5 1.6 4.5 1.6 4.5 1.6 4.4 1.7 4.5 1.7 4.4 1.8 4.4 1.7 4.4 1.7 4.4 1.8 4.5 1.7 4.4 1.7 4.4 1.7 4.4 1.8 4.5 1.7 4.4 1.7 4.4 1.7 4.5 1.7 4.4 1.6 4.4 1.7 4.5 1.7 4.4 1.7 4.5 1.7 4.4 1.7 4.4 1.8 4.4 1.9 4.4 1.9 4.3 2 4.3 2 4.3 2 4.3 2 4.3 2 4.3 2 4.3 2 4.3 2.1 4.3 2 4.3 2.1 4.3 2.1 4.2 2.2 4.3 2.3 4.1 2.3 4.2 2.4 4 2.6 4 2.6 4 2.7 3.9 2.7 4 2.6 3.9 2.6 4 2.5 4 2.4 4.1 2.5 4 2.8 3.9 2.9 3.7 3.1 3.5 3.2 3.6 3.2 3.5 3.2 3.5 3.3 3.4 3.2 3.5 3.1 3.6 3.1 3.6 3 3.7 3.1 3.5 3.3 3.5 3.3 3.3 3.5 3.3 3.4 3.2 3.6 3.2 3.5 3.1 3.6 3.1 3.7 3.1 3.6 3 58.9 16.8-4-3.6-4.1-3.5-4.2-3.4-4.3-3.3-4.3-3.2-4.4-3.1-4.5-3-4.5-3-4.5-3-4.5-3-4.4-3-4.4-3.2-4.1-3.4-4-3.7-3.9-3.7-3.7-4-3.5-4-3.5-4.1-4-3.7-4-3.6-3.9-3.7-3.8-3.8-3.7-4-3.5-4-3.5-4.2-3.3-4.2-3.2-4.3-3.1-4.5-3-4.5-2.8-4.6-2.7-4.6-2.6-4.7-2.6-4.8-2.4-4.8-2.4-4.8-2.3-4.9-2.3-4.9-2.3-4.9-2.2-4.9-2.1-4.9-2.2-5-2.1-4.9-2.2-5-2.2-4.9-2.3-4.9-2.3-4.8-2.4-4.9-2.3-4.8-2.3-4.9-2.2-4.9-2.1-5-1.9-5.1-1.8-5-1.8-5.2-1.7-5.1-1.7-5.1-1.7-5.1-1.8-5.1-1.7-5.1-1.8-5.1-1.9-5-1.8-5.1-2-5-2-5-2.2-5-2.2-4.9-2.4-4.8-2.5-4.8-2.6-4.7-2.8-4.6-2.9-4.5-3.1-4.5-3.2-4.3-3.4-4.2-3.7-3.9-4-3.6-4.5-3-4.8-2.4-5.2-1.4z" fill="url(#gb1)" />
<path d="M258 172.6l1.6 4.2 1.6 4.3 1.6 4.3 1.6 4.5 1.6 4.4 1.5 4.5 1.6 4.5 1.6 4.5 1.6 4.4 1.7 4.5 1.7 4.5 1.8 4.4 1.7 4.5 1.8 4.4 1.8 4.5 1.7 4.5 1.8 4.4 1.7 4.5 1.7 4.5 1.8 4.4 1.7 4.5 1.7 4.5 1.7 4.5 1.7 4.4 1.7 4.5 1.7 4.5 1.6 4.5 1.7 4.5 1.7 4.4 1.8 4.5 1.8 4.4 1.8 4.5 1.9 4.4 2 4.4 2 4.3 2 4.4 2 4.3 2 4.3 2 4.4 2.1 4.3 2 4.4 2 4.3 2.1 4.3 2.1 4.3 2.1 4.3 2.2 4.3 2.3 4.2 2.4 4.2 2.4 4.1 2.6 4 2.6 4 2.7 4 2.7 3.9 2.7 4 2.7 4 2.5 4 2.5 4.1 2.6 4 2.9 3.8 3 3.7 3.2 3.6 3.2 3.6 3.2 3.6 3.2 3.5 3.3 3.4 3.3 3.5 3.2 3.6 3.1 3.6 3.1 3.6 3.3 3.5 3.3 3.4 3.4 3.4 3.5 3.2 3.6 3.2 3.6 3.2 3.6 3.2 3.6 3.1 3.7 3.1 3.6 3 55 15.7-4-3.6-4.1-3.5-4.2-3.4-4.3-3.3-4.3-3.2-4.4-3.1-4.5-3-4.5-3-4.5-3-4.5-3-4.4-3-4.4-3.2-4.1-3.4-4-3.7-3.9-3.7-3.7-4-3.5-4-3.5-4.1-4-3.7-4-3.6-3.9-3.7-3.8-3.8-3.7-4-3.5-4-3.5-4.2-3.3-4.2-3.2-4.3-3.1-4.5-3-4.5-2.8-4.6-2.7-4.6-2.6-4.7-2.6-4.8-2.4-4.8-2.4-4.8-2.3-4.9-2.3-4.9-2.3-4.9-2.2-4.9-2.1-4.9-2.2-5-2.1-4.9-2.2-5-2.2-4.9-2.3-4.9-2.3-4.8-2.4-4.9-2.3-4.8-2.3-4.9-2.2-4.9-2.1-5-1.9-5.1-1.8-5-1.8-5.2-1.7-5.1-1.7-5.1-1.7-5.1-1.8-5.1-1.7-5.1-1.8-5.1-1.9-5-1.8-5.1-2-5-2-5-2.2-5-2.2-4.9-2.4-4.8-2.5-4.8-2.6-4.7-2.8-4.6-2.9-4.5-3.1-4.5-3.2-4.3-3.4-4.2-3.7-3.9-4-3.6-4.5-3-4.8-2.4-5.2-1.4z" fill="url(#gb2)" />
<path d="M258 172.6l1.9 4 1.8 4.1 1.8 4.3 1.8 4.4 1.7 4.4 1.7 4.4 1.7 4.5 1.7 4.5 1.7 4.5 1.8 4.5 1.8 4.4 1.7 4.5 1.9 4.5 1.8 4.5 1.7 4.5 1.8 4.5 1.8 4.5 1.7 4.5 1.7 4.5 1.8 4.5 1.7 4.5 1.7 4.6 1.7 4.5 1.7 4.5 1.7 4.5 1.7 4.6 1.7 4.5 1.7 4.5 1.7 4.5 1.8 4.5 1.8 4.5 1.9 4.4 1.9 4.5 2 4.4 2 4.4 2.1 4.4 2 4.4 2 4.3 2.1 4.4 2 4.4 2 4.4 2.1 4.4 2 4.4 2.2 4.3 2.1 4.3 2.3 4.3 2.2 4.3 2.4 4.2 2.5 4.1 2.6 4.1 2.7 4 2.7 4 2.7 4 2.8 4 2.7 4 2.6 4 2.6 4.1 2.7 4 2.9 3.8 3.1 3.7 3.2 3.6 3.2 3.6 3.2 3.6 3.3 3.6 3.4 3.4 3.3 3.6 3.3 3.5 3.2 3.6 3.2 3.6 3.3 3.4 3.4 3.4 3.5 3.3 3.6 3.2 3.6 3.3 3.6 3.1 3.7 3.2 3.7 3.1 3.7 3.2 3.7 3.1 51 14.5-4-3.6-4.1-3.5-4.2-3.4-4.3-3.3-4.3-3.2-4.4-3.1-4.5-3-4.5-3-4.5-3-4.5-3-4.4-3-4.4-3.2-4.1-3.4-4-3.7-3.9-3.7-3.7-4-3.5-4-3.5-4.1-4-3.7-4-3.6-3.9-3.7-3.8-3.8-3.7-4-3.5-4-3.5-4.2-3.3-4.2-3.2-4.3-3.1-4.5-3-4.5-2.8-4.6-2.7-4.6-2.6-4.7-2.6-4.8-2.4-4.8-2.4-4.8-2.3-4.9-2.3-4.9-2.3-4.9-2.2-4.9-2.1-4.9-2.2-5-2.1-4.9-2.2-5-2.2-4.9-2.3-4.9-2.3-4.8-2.4-4.9-2.3-4.8-2.3-4.9-2.2-4.9-2.1-5-1.9-5.1-1.8-5-1.8-5.2-1.7-5.1-1.7-5.1-1.7-5.1-1.8-5.1-1.7-5.1-1.8-5.1-1.9-5-1.8-5.1-2-5-2-5-2.2-5-2.2-4.9-2.4-4.8-2.5-4.8-2.6-4.7-2.8-4.6-2.9-4.5-3.1-4.5-3.2-4.3-3.4-4.2-3.7-3.9-4-3.6-4.5-3-4.8-2.4-5.2-1.4z" fill="url(#gb3)" />
<path d="M258 172.6l2.1 3.8 2.1 4 2 4.2 1.9 4.3 1.9 4.4 1.8 4.4 1.8 4.5 1.8 4.4 1.9 4.5 1.8 4.5 1.9 4.5 1.8 4.5 1.9 4.5 1.8 4.5 1.8 4.6 1.8 4.5 1.8 4.6 1.7 4.5 1.8 4.6 1.7 4.5 1.7 4.6 1.7 4.5 1.8 4.6 1.7 4.6 1.7 4.5 1.6 4.6 1.7 4.6 1.8 4.6 1.7 4.5 1.8 4.5 1.9 4.5 1.9 4.5 2 4.5 2 4.4 2 4.5 2 4.4 2.1 4.4 2 4.4 2.1 4.5 2 4.4 2.1 4.4 2 4.5 2.1 4.4 2.2 4.3 2.1 4.4 2.3 4.3 2.3 4.3 2.4 4.3 2.5 4.2 2.6 4.1 2.7 4.1 2.7 4 2.8 4 2.8 4 2.7 4 2.7 4.1 2.7 4 2.8 4 3 3.8 3.2 3.7 3.2 3.6 3.3 3.7 3.2 3.6 3.4 3.5 3.3 3.6 3.4 3.5 3.3 3.5 3.3 3.6 3.3 3.5 3.5 3.4 3.5 3.4 3.5 3.2 3.7 3.3 3.6 3.2 3.7 3.2 3.7 3.1 3.7 3.2 3.8 3.1 3.7 3.2 47.1 13.4-4-3.6-4.1-3.5-4.2-3.4-4.3-3.3-4.3-3.2-4.4-3.1-4.5-3-4.5-3-4.5-3-4.5-3-4.4-3-4.4-3.2-4.1-3.4-4-3.7-3.9-3.7-3.7-4-3.5-4-3.5-4.1-4-3.7-4-3.6-3.9-3.7-3.8-3.8-3.7-4-3.5-4-3.5-4.2-3.3-4.2-3.2-4.3-3.1-4.5-3-4.5-2.8-4.6-2.7-4.6-2.6-4.7-2.6-4.8-2.4-4.8-2.4-4.8-2.3-4.9-2.3-4.9-2.3-4.9-2.2-4.9-2.1-4.9-2.2-5-2.1-4.9-2.2-5-2.2-4.9-2.3-4.9-2.3-4.8-2.4-4.9-2.3-4.8-2.3-4.9-2.2-4.9-2.1-5-1.9-5.1-1.8-5-1.8-5.2-1.7-5.1-1.7-5.1-1.7-5.1-1.8-5.1-1.7-5.1-1.8-5.1-1.9-5-1.8-5.1-2-5-2-5-2.2-5-2.2-4.9-2.4-4.8-2.5-4.8-2.6-4.7-2.8-4.6-2.9-4.5-3.1-4.5-3.2-4.3-3.4-4.2-3.7-3.9-4-3.6-4.5-3-4.8-2.4-5.2-1.4z" fill="url(#gb4)" />
<path d="M258 172.6l2.4 3.6 2.3 3.9 2.2 4 2.1 4.3 2 4.3 2 4.4 1.9 4.5 1.9 4.5 1.9 4.5 2 4.5 1.9 4.5 1.9 4.5 1.9 4.5 1.8 4.6 1.9 4.6 1.8 4.5 1.8 4.6 1.7 4.6 1.8 4.6 1.7 4.6 1.7 4.6 1.8 4.6 1.7 4.6 1.7 4.6 1.7 4.7 1.7 4.6 1.7 4.6 1.7 4.6 1.8 4.6 1.9 4.5 1.9 4.6 1.9 4.5 2 4.5 2 4.5 2.1 4.4 2 4.5 2.1 4.5 2.1 4.5 2 4.4 2 4.5 2.1 4.5 2.1 4.4 2.1 4.5 2.1 4.4 2.2 4.4 2.3 4.4 2.3 4.3 2.4 4.3 2.6 4.2 2.6 4.2 2.7 4.1 2.8 4.1 2.8 4 2.8 4 2.8 4 2.8 4.1 2.7 4 2.9 4 3.1 3.8 3.2 3.7 3.4 3.6 3.2 3.7 3.3 3.6 3.4 3.6 3.4 3.6 3.4 3.5 3.4 3.5 3.4 3.5 3.4 3.5 3.5 3.4 3.6 3.3 3.6 3.3 3.7 3.2 3.8 3.2 3.7 3.2 3.8 3.2 3.7 3.1 3.8 3.2 3.7 3.2 43.2 12.3-4-3.6-4.1-3.5-4.2-3.4-4.3-3.3-4.3-3.2-4.4-3.1-4.5-3-4.5-3-4.5-3-4.5-3-4.4-3-4.4-3.2-4.1-3.4-4-3.7-3.9-3.7-3.7-4-3.5-4-3.5-4.1-4-3.7-4-3.6-3.9-3.7-3.8-3.8-3.7-4-3.5-4-3.5-4.2-3.3-4.2-3.2-4.3-3.1-4.5-3-4.5-2.8-4.6-2.7-4.6-2.6-4.7-2.6-4.8-2.4-4.8-2.4-4.8-2.3-4.9-2.3-4.9-2.3-4.9-2.2-4.9-2.1-4.9-2.2-5-2.1-4.9-2.2-5-2.2-4.9-2.3-4.9-2.3-4.8-2.4-4.9-2.3-4.8-2.3-4.9-2.2-4.9-2.1-5-1.9-5.1-1.8-5-1.8-5.2-1.7-5.1-1.7-5.1-1.7-5.1-1.8-5.1-1.7-5.1-1.8-5.1-1.9-5-1.8-5.1-2-5-2-5-2.2-5-2.2-4.9-2.4-4.8-2.5-4.8-2.6-4.7-2.8-4.6-2.9-4.5-3.1-4.5-3.2-4.3-3.4-4.2-3.7-3.9-4-3.6-4.5-3-4.8-2.4-5.2-1.4z" fill="url(#gb5)" />
<path d="M258 172.6l2.7 3.4 2.5 3.7 2.4 4 2.3 4.2 2.1 4.3 2.1 4.4 2.1 4.4 2 4.5 2 4.5 2 4.5 2 4.5 1.9 4.6 2 4.6 1.9 4.5 1.8 4.6 1.9 4.6 1.8 4.7 1.7 4.6 1.8 4.7 1.7 4.6 1.8 4.7 1.7 4.6 1.7 4.7 1.7 4.6 1.7 4.7 1.7 4.6 1.7 4.7 1.8 4.6 1.8 4.7 1.9 4.6 1.9 4.5 2 4.6 2 4.5 2.1 4.5 2 4.5 2.1 4.5 2.1 4.5 2.1 4.6 2 4.5 2.1 4.5 2 4.5 2.1 4.5 2.2 4.5 2.1 4.4 2.2 4.5 2.3 4.4 2.4 4.4 2.4 4.3 2.5 4.3 2.7 4.2 2.7 4.1 2.8 4.1 2.9 4.1 2.8 4 2.9 4 2.9 4.1 2.8 4 2.9 4 3.2 3.8 3.3 3.6 3.4 3.7 3.3 3.7 3.3 3.7 3.4 3.6 3.4 3.6 3.5 3.5 3.5 3.5 3.4 3.5 3.5 3.5 3.6 3.3 3.7 3.3 3.7 3.2 3.8 3.2 3.8 3.2 3.8 3.2 3.8 3.2 3.8 3.2 3.8 3.2 3.8 3.2 39.2 11.2-4-3.6-4.1-3.5-4.2-3.4-4.3-3.3-4.3-3.2-4.4-3.1-4.5-3-4.5-3-4.5-3-4.5-3-4.4-3-4.4-3.2-4.1-3.4-4-3.7-3.9-3.7-3.7-4-3.5-4-3.5-4.1-4-3.7-4-3.6-3.9-3.7-3.8-3.8-3.7-4-3.5-4-3.5-4.2-3.3-4.2-3.2-4.3-3.1-4.5-3-4.5-2.8-4.6-2.7-4.6-2.6-4.7-2.6-4.8-2.4-4.8-2.4-4.8-2.3-4.9-2.3-4.9-2.3-4.9-2.2-4.9-2.1-4.9-2.2-5-2.1-4.9-2.2-5-2.2-4.9-2.3-4.9-2.3-4.8-2.4-4.9-2.3-4.8-2.3-4.9-2.2-4.9-2.1-5-1.9-5.1-1.8-5-1.8-5.2-1.7-5.1-1.7-5.1-1.7-5.1-1.8-5.1-1.7-5.1-1.8-5.1-1.9-5-1.8-5.1-2-5-2-5-2.2-5-2.2-4.9-2.4-4.8-2.5-4.8-2.6-4.7-2.8-4.6-2.9-4.5-3.1-4.5-3.2-4.3-3.4-4.2-3.7-3.9-4-3.6-4.5-3-4.8-2.4-5.2-1.4z" fill="url(#gb6)" />
<path d="M258 172.6l2.9 3.2 2.8 3.6 2.6 3.9 2.4 4.1 2.3 4.3 2.3 4.4 2.1 4.4 2.2 4.4 2.1 4.5 2 4.6 2.1 4.5 2 4.6 2 4.6 1.9 4.6 1.9 4.6 1.9 4.7 1.8 4.6 1.8 4.7 1.7 4.7 1.8 4.7 1.7 4.7 1.7 4.7 1.7 4.7 1.8 4.7 1.7 4.7 1.6 4.7 1.8 4.7 1.7 4.7 1.9 4.6 1.9 4.7 2 4.6 2 4.5 2 4.6 2.1 4.6 2.1 4.5 2.1 4.6 2.1 4.5 2.1 4.6 2 4.5 2.1 4.6 2.1 4.5 2.1 4.6 2.1 4.5 2.2 4.5 2.3 4.5 2.2 4.4 2.4 4.4 2.5 4.4 2.5 4.3 2.7 4.3 2.7 4.1 2.9 4.2 2.9 4.1 2.9 4 2.9 4.1 2.9 4 2.9 4 3.1 4 3.2 3.8 3.4 3.6 3.4 3.6 3.3 3.8 3.4 3.7 3.4 3.7 3.5 3.6 3.5 3.5 3.5 3.5 3.6 3.5 3.6 3.4 3.7 3.3 3.7 3.3 3.8 3.2 3.9 3.2 3.8 3.1 3.9 3.2 3.8 3.2 3.9 3.2 3.8 3.3 3.8 3.2 35.3 10.1-4-3.6-4.1-3.5-4.2-3.4-4.3-3.3-4.3-3.2-4.4-3.1-4.5-3-4.5-3-4.5-3-4.5-3-4.4-3-4.4-3.2-4.1-3.4-4-3.7-3.9-3.7-3.7-4-3.5-4-3.5-4.1-4-3.7-4-3.6-3.9-3.7-3.8-3.8-3.7-4-3.5-4-3.5-4.2-3.3-4.2-3.2-4.3-3.1-4.5-3-4.5-2.8-4.6-2.7-4.6-2.6-4.7-2.6-4.8-2.4-4.8-2.4-4.8-2.3-4.9-2.3-4.9-2.3-4.9-2.2-4.9-2.1-4.9-2.2-5-2.1-4.9-2.2-5-2.2-4.9-2.3-4.9-2.3-4.8-2.4-4.9-2.3-4.8-2.3-4.9-2.2-4.9-2.1-5-1.9-5.1-1.8-5-1.8-5.2-1.7-5.1-1.7-5.1-1.7-5.1-1.8-5.1-1.7-5.1-1.8-5.1-1.9-5-1.8-5.1-2-5-2-5-2.2-5-2.2-4.9-2.4-4.8-2.5-4.8-2.6-4.7-2.8-4.6-2.9-4.5-3.1-4.5-3.2-4.3-3.4-4.2-3.7-3.9-4-3.6-4.5-3-4.8-2.4-5.2-1.4z" fill="url(#gb7)" />
<path d="M258 172.6l3.2 3 3 3.5 2.8 3.8 2.6 4 2.4 4.2 2.4 4.4 2.3 4.4 2.2 4.5 2.2 4.5 2.2 4.5 2.1 4.6 2 4.6 2.1 4.6 1.9 4.6 2 4.7 1.8 4.7 1.9 4.7 1.8 4.7 1.7 4.7 1.8 4.8 1.7 4.7 1.7 4.8 1.8 4.7 1.7 4.8 1.7 4.7 1.7 4.8 1.7 4.7 1.8 4.7 1.9 4.7 1.9 4.7 2 4.6 2.1 4.6 2.1 4.6 2.1 4.6 2.1 4.6 2.1 4.6 2.1 4.6 2.1 4.6 2 4.6 2.1 4.6 2.1 4.6 2.1 4.5 2.2 4.6 2.2 4.5 2.3 4.6 2.3 4.5 2.4 4.4 2.4 4.4 2.6 4.4 2.7 4.2 2.7 4.3 2.9 4.1 2.9 4.1 3 4.1 3 4.1 3 4 3 4 3.1 3.9 3.3 3.8 3.4 3.7 3.6 3.6 3.3 3.8 3.3 3.8 3.5 3.7 3.5 3.6 3.6 3.5 3.6 3.5 3.6 3.5 3.7 3.3 3.8 3.3 3.9 3.2 3.8 3.2 3.9 3.2 4 3.1 3.9 3.2 3.9 3.2 3.8 3.3 3.9 3.3 3.8 3.2 31.4 9-4-3.6-4.1-3.5-4.2-3.4-4.3-3.3-4.3-3.2-4.4-3.1-4.5-3-4.5-3-4.5-3-4.5-3-4.4-3-4.4-3.2-4.1-3.4-4-3.7-3.9-3.7-3.7-4-3.5-4-3.5-4.1-4-3.7-4-3.6-3.9-3.7-3.8-3.8-3.7-4-3.5-4-3.5-4.2-3.3-4.2-3.2-4.3-3.1-4.5-3-4.5-2.8-4.6-2.7-4.6-2.6-4.7-2.6-4.8-2.4-4.8-2.4-4.8-2.3-4.9-2.3-4.9-2.3-4.9-2.2-4.9-2.1-4.9-2.2-5-2.1-4.9-2.2-5-2.2-4.9-2.3-4.9-2.3-4.8-2.4-4.9-2.3-4.8-2.3-4.9-2.2-4.9-2.1-5-1.9-5.1-1.8-5-1.8-5.2-1.7-5.1-1.7-5.1-1.7-5.1-1.8-5.1-1.7-5.1-1.8-5.1-1.9-5-1.8-5.1-2-5-2-5-2.2-5-2.2-4.9-2.4-4.8-2.5-4.8-2.6-4.7-2.8-4.6-2.9-4.5-3.1-4.5-3.2-4.3-3.4-4.2-3.7-3.9-4-3.6-4.5-3-4.8-2.4-5.2-1.4z" fill="url(#gb8)" />
<path d="M258 172.6l3.4 2.8 3.2 3.3 3 3.7 2.8 4 2.7 4.2 2.4 4.4 2.5 4.4 2.3 4.4 2.3 4.5 2.2 4.6 2.2 4.5 2.1 4.7 2.1 4.6 2 4.7 1.9 4.7 1.9 4.7 1.9 4.8 1.8 4.7 1.7 4.8 1.8 4.8 1.7 4.8 1.8 4.7 1.7 4.8 1.7 4.8 1.7 4.8 1.7 4.8 1.8 4.8 1.8 4.8 1.9 4.7 1.9 4.7 2.1 4.7 2.1 4.6 2.1 4.6 2.1 4.6 2.2 4.7 2.1 4.6 2.1 4.6 2.1 4.7 2.1 4.6 2 4.7 2.2 4.6 2.1 4.6 2.2 4.6 2.2 4.6 2.3 4.6 2.3 4.5 2.4 4.5 2.5 4.4 2.6 4.4 2.7 4.3 2.8 4.3 2.9 4.2 2.9 4.1 3 4.1 3.1 4.1 3 4 3.1 4 3.2 3.9 3.4 3.8 3.5 3.7 3.6 3.6 3.3 3.9 3.4 3.7 3.5 3.8 3.6 3.6 3.6 3.6 3.7 3.4 3.7 3.4 3.8 3.4 3.9 3.2 3.9 3.2 3.9 3.2 4 3.1 4 3.2 4 3.1 3.9 3.3 3.9 3.2 3.9 3.3 3.8 3.4 27.5 7.8-4-3.6-4.1-3.5-4.2-3.4-4.3-3.3-4.3-3.2-4.4-3.1-4.5-3-4.5-3-4.5-3-4.5-3-4.4-3-4.4-3.2-4.1-3.4-4-3.7-3.9-3.7-3.7-4-3.5-4-3.5-4.1-4-3.7-4-3.6-3.9-3.7-3.8-3.8-3.7-4-3.5-4-3.5-4.2-3.3-4.2-3.2-4.3-3.1-4.5-3-4.5-2.8-4.6-2.7-4.6-2.6-4.7-2.6-4.8-2.4-4.8-2.4-4.8-2.3-4.9-2.3-4.9-2.3-4.9-2.2-4.9-2.1-4.9-2.2-5-2.1-4.9-2.2-5-2.2-4.9-2.3-4.9-2.3-4.8-2.4-4.9-2.3-4.8-2.3-4.9-2.2-4.9-2.1-5-1.9-5.1-1.8-5-1.8-5.2-1.7-5.1-1.7-5.1-1.7-5.1-1.8-5.1-1.7-5.1-1.8-5.1-1.9-5-1.8-5.1-2-5-2-5-2.2-5-2.2-4.9-2.4-4.8-2.5-4.8-2.6-4.7-2.8-4.6-2.9-4.5-3.1-4.5-3.2-4.3-3.4-4.2-3.7-3.9-4-3.6-4.5-3-4.8-2.4-5.2-1.4z" fill="url(#gb9)" />
<path d="M258 172.6l3.7 2.6 3.4 3.2 3.2 3.6 3 3.9 2.8 4.2 2.6 4.3 2.5 4.4 2.5 4.4 2.3 4.6 2.4 4.5 2.2 4.6 2.2 4.7 2.1 4.6 2 4.7 2 4.8 1.9 4.7 1.9 4.8 1.8 4.8 1.8 4.8 1.7 4.9 1.8 4.8 1.7 4.8 1.7 4.9 1.7 4.8 1.7 4.8 1.8 4.9 1.7 4.8 1.8 4.8 1.9 4.8 2.1 4.7 2 4.7 2.2 4.7 2.1 4.6 2.2 4.7 2.1 4.6 2.2 4.7 2.1 4.7 2.1 4.7 2.1 4.7 2.1 4.7 2.1 4.6 2.2 4.7 2.2 4.6 2.2 4.7 2.3 4.6 2.3 4.5 2.4 4.6 2.5 4.4 2.6 4.5 2.8 4.3 2.8 4.3 2.9 4.2 3 4.2 3.1 4.1 3.1 4.1 3.1 4 3.2 4 3.3 3.9 3.4 3.8 3.6 3.7 3.6 3.6 3.4 3.9 3.4 3.8 3.5 3.7 3.6 3.7 3.7 3.6 3.7 3.5 3.9 3.3 3.8 3.3 4 3.2 4 3.2 4 3.1 4.1 3.1 4 3.2 4 3.2 4 3.2 4 3.3 3.9 3.3 3.8 3.4 23.6 6.7-4-3.6-4.1-3.5-4.2-3.4-4.3-3.3-4.3-3.2-4.4-3.1-4.5-3-4.5-3-4.5-3-4.5-3-4.4-3-4.4-3.2-4.1-3.4-4-3.7-3.9-3.7-3.7-4-3.5-4-3.5-4.1-4-3.7-4-3.6-3.9-3.7-3.8-3.8-3.7-4-3.5-4-3.5-4.2-3.3-4.2-3.2-4.3-3.1-4.5-3-4.5-2.8-4.6-2.7-4.6-2.6-4.7-2.6-4.8-2.4-4.8-2.4-4.8-2.3-4.9-2.3-4.9-2.3-4.9-2.2-4.9-2.1-4.9-2.2-5-2.1-4.9-2.2-5-2.2-4.9-2.3-4.9-2.3-4.8-2.4-4.9-2.3-4.8-2.3-4.9-2.2-4.9-2.1-5-1.9-5.1-1.8-5-1.8-5.2-1.7-5.1-1.7-5.1-1.7-5.1-1.8-5.1-1.7-5.1-1.8-5.1-1.9-5-1.8-5.1-2-5-2-5-2.2-5-2.2-4.9-2.4-4.8-2.5-4.8-2.6-4.7-2.8-4.6-2.9-4.5-3.1-4.5-3.2-4.3-3.4-4.2-3.7-3.9-4-3.6-4.5-3-4.8-2.4-5.2-1.4z" fill="url(#gb10)" />
<path d="M258 172.6l3.9 2.4 3.7 3.1 3.4 3.5 3.2 3.8 2.9 4.2 2.7 4.3 2.7 4.3 2.5 4.5 2.5 4.5 2.4 4.6 2.3 4.6 2.2 4.6 2.2 4.7 2.1 4.8 2 4.8 1.9 4.8 1.9 4.8 1.8 4.8 1.8 4.9 1.7 4.9 1.8 4.8 1.7 4.9 1.8 4.9 1.7 4.9 1.7 4.9 1.7 4.9 1.8 4.8 1.8 4.9 1.9 4.8 2.1 4.7 2.1 4.7 2.2 4.7 2.2 4.7 2.1 4.7 2.2 4.7 2.2 4.7 2.1 4.8 2.1 4.7 2.1 4.7 2.1 4.7 2.1 4.8 2.2 4.7 2.2 4.6 2.3 4.7 2.3 4.6 2.3 4.7 2.5 4.5 2.5 4.5 2.6 4.5 2.8 4.4 2.8 4.3 2.9 4.3 3.1 4.2 3.1 4.1 3.1 4.1 3.2 4.1 3.3 3.9 3.4 3.9 3.5 3.8 3.7 3.6 3.6 3.7 3.4 3.9 3.5 3.9 3.5 3.7 3.7 3.7 3.7 3.6 3.8 3.5 3.9 3.3 4 3.2 4 3.2 4.1 3.1 4.1 3.2 4.1 3.1 4.1 3.1 4.1 3.2 4.1 3.2 3.9 3.3 4 3.4 3.9 3.4 19.6 5.6-4-3.6-4.1-3.5-4.2-3.4-4.3-3.3-4.3-3.2-4.4-3.1-4.5-3-4.5-3-4.5-3-4.5-3-4.4-3-4.4-3.2-4.1-3.4-4-3.7-3.9-3.7-3.7-4-3.5-4-3.5-4.1-4-3.7-4-3.6-3.9-3.7-3.8-3.8-3.7-4-3.5-4-3.5-4.2-3.3-4.2-3.2-4.3-3.1-4.5-3-4.5-2.8-4.6-2.7-4.6-2.6-4.7-2.6-4.8-2.4-4.8-2.4-4.8-2.3-4.9-2.3-4.9-2.3-4.9-2.2-4.9-2.1-4.9-2.2-5-2.1-4.9-2.2-5-2.2-4.9-2.3-4.9-2.3-4.8-2.4-4.9-2.3-4.8-2.3-4.9-2.2-4.9-2.1-5-1.9-5.1-1.8-5-1.8-5.2-1.7-5.1-1.7-5.1-1.7-5.1-1.8-5.1-1.7-5.1-1.8-5.1-1.9-5-1.8-5.1-2-5-2-5-2.2-5-2.2-4.9-2.4-4.8-2.5-4.8-2.6-4.7-2.8-4.6-2.9-4.5-3.1-4.5-3.2-4.3-3.4-4.2-3.7-3.9-4-3.6-4.5-3-4.8-2.4-5.2-1.4z" fill="url(#gb11)" />
<path d="M258 172.6l4.2 2.2 3.9 2.9 3.6 3.4 3.3 3.9 3.1 4 2.9 4.3 2.7 4.4 2.7 4.4 2.6 4.5 2.4 4.6 2.4 4.6 2.3 4.7 2.2 4.8 2.1 4.7 2 4.8 2 4.9 1.9 4.9 1.8 4.8 1.8 4.9 1.8 5 1.7 4.9 1.8 4.9 1.7 4.9 1.7 4.9 1.7 5 1.7 4.9 1.8 4.9 1.9 4.9 1.9 4.8 2.1 4.8 2.1 4.8 2.3 4.7 2.2 4.7 2.2 4.8 2.2 4.7 2.1 4.8 2.2 4.7 2.1 4.8 2.1 4.8 2.1 4.7 2.2 4.8 2.2 4.7 2.2 4.7 2.3 4.8 2.3 4.6 2.4 4.7 2.4 4.6 2.6 4.5 2.6 4.5 2.8 4.5 2.8 4.4 3 4.2 3.1 4.3 3.1 4.1 3.2 4.1 3.3 4.1 3.3 4 3.5 3.8 3.6 3.8 3.7 3.6 3.8 3.6 3.4 4 3.4 3.9 3.6 3.8 3.7 3.7 3.8 3.6 3.9 3.5 4 3.3 4 3.2 4.2 3.1 4.1 3.1 4.2 3.1 4.2 3.1 4.2 3.1 4.1 3.2 4.1 3.3 4 3.3 4 3.4 3.9 3.4 15.7 4.5-4-3.6-4.1-3.5-4.2-3.4-4.3-3.3-4.3-3.2-4.4-3.1-4.5-3-4.5-3-4.5-3-4.5-3-4.4-3-4.4-3.2-4.1-3.4-4-3.7-3.9-3.7-3.7-4-3.5-4-3.5-4.1-4-3.7-4-3.6-3.9-3.7-3.8-3.8-3.7-4-3.5-4-3.5-4.2-3.3-4.2-3.2-4.3-3.1-4.5-3-4.5-2.8-4.6-2.7-4.6-2.6-4.7-2.6-4.8-2.4-4.8-2.4-4.8-2.3-4.9-2.3-4.9-2.3-4.9-2.2-4.9-2.1-4.9-2.2-5-2.1-4.9-2.2-5-2.2-4.9-2.3-4.9-2.3-4.8-2.4-4.9-2.3-4.8-2.3-4.9-2.2-4.9-2.1-5-1.9-5.1-1.8-5-1.8-5.2-1.7-5.1-1.7-5.1-1.7-5.1-1.8-5.1-1.7-5.1-1.8-5.1-1.9-5-1.8-5.1-2-5-2-5-2.2-5-2.2-4.9-2.4-4.8-2.5-4.8-2.6-4.7-2.8-4.6-2.9-4.5-3.1-4.5-3.2-4.3-3.4-4.2-3.7-3.9-4-3.6-4.5-3-4.8-2.4-5.2-1.4z" fill="url(#gb12)" />
<path d="M258 172.6l4.4 2 4.2 2.8 3.8 3.3 3.5 3.8 3.2 4 3 4.3 2.9 4.3 2.8 4.4 2.6 4.6 2.6 4.6 2.4 4.6 2.3 4.7 2.3 4.8 2.1 4.8 2.1 4.8 2 4.9 1.9 4.9 1.8 4.9 1.8 5 1.8 4.9 1.7 5 1.8 5 1.7 4.9 1.7 5 1.7 5 1.8 5 1.7 4.9 1.9 4.9 2 4.9 2.1 4.8 2.2 4.8 2.2 4.8 2.3 4.7 2.2 4.8 2.3 4.8 2.1 4.8 2.2 4.8 2.1 4.8 2.1 4.8 2.2 4.8 2.1 4.8 2.2 4.8 2.3 4.8 2.3 4.7 2.3 4.7 2.4 4.7 2.5 4.7 2.5 4.6 2.7 4.5 2.8 4.5 2.8 4.4 3 4.3 3.2 4.2 3.1 4.2 3.3 4.1 3.4 4.1 3.4 4 3.5 3.8 3.7 3.7 3.8 3.7 3.8 3.6 3.4 4 3.5 4 3.6 3.8 3.7 3.7 3.9 3.6 3.9 3.5 4.1 3.3 4.2 3.1 4.2 3.1 4.3 3.1 4.2 3 4.3 3.1 4.2 3.1 4.2 3.2 4.1 3.3 4.1 3.4 4 3.4 3.9 3.4 11.8 3.4-4-3.6-4.1-3.5-4.2-3.4-4.3-3.3-4.3-3.2-4.4-3.1-4.5-3-4.5-3-4.5-3-4.5-3-4.4-3-4.4-3.2-4.1-3.4-4-3.7-3.9-3.7-3.7-4-3.5-4-3.5-4.1-4-3.7-4-3.6-3.9-3.7-3.8-3.8-3.7-4-3.5-4-3.5-4.2-3.3-4.2-3.2-4.3-3.1-4.5-3-4.5-2.8-4.6-2.7-4.6-2.6-4.7-2.6-4.8-2.4-4.8-2.4-4.8-2.3-4.9-2.3-4.9-2.3-4.9-2.2-4.9-2.1-4.9-2.2-5-2.1-4.9-2.2-5-2.2-4.9-2.3-4.9-2.3-4.8-2.4-4.9-2.3-4.8-2.3-4.9-2.2-4.9-2.1-5-1.9-5.1-1.8-5-1.8-5.2-1.7-5.1-1.7-5.1-1.7-5.1-1.8-5.1-1.7-5.1-1.8-5.1-1.9-5-1.8-5.1-2-5-2-5-2.2-5-2.2-4.9-2.4-4.8-2.5-4.8-2.6-4.7-2.8-4.6-2.9-4.5-3.1-4.5-3.2-4.3-3.4-4.2-3.7-3.9-4-3.6-4.5-3-4.8-2.4-5.2-1.4z" fill="url(#gb13)" />
<path d="M258 172.6l4.7 1.8 4.4 2.6 4 3.3 3.7 3.7 3.3 4 3.2 4.2 3 4.3 2.8 4.5 2.8 4.5 2.6 4.6 2.5 4.7 2.4 4.7 2.3 4.8 2.2 4.8 2.1 4.9 2 4.9 1.9 5 1.8 4.9 1.8 5 1.8 5 1.8 5 1.7 5.1 1.7 5 1.8 5 1.7 5 1.7 5 1.8 5 1.9 5 2 4.9 2.1 4.9 2.3 4.8 2.2 4.8 2.3 4.7 2.3 4.8 2.2 4.9 2.2 4.8 2.2 4.8 2.1 4.9 2.1 4.9 2.2 4.8 2.2 4.9 2.2 4.8 2.2 4.8 2.4 4.8 2.3 4.7 2.4 4.7 2.5 4.7 2.6 4.7 2.7 4.5 2.8 4.6 2.9 4.4 3 4.4 3.1 4.2 3.3 4.2 3.3 4.2 3.4 4 3.5 4 3.7 3.8 3.7 3.7 3.9 3.7 3.8 3.6 3.5 4.1 3.5 3.9 3.6 3.9 3.8 3.7 3.9 3.6 4 3.5 4.2 3.2 4.2 3.2 4.4 3 4.3 3 4.3 3.1 4.3 3.1 4.3 3.1 4.3 3.1 4.1 3.3 4.1 3.4 4.1 3.5 3.9 3.5 7.9 2.2-4-3.6-4.1-3.5-4.2-3.4-4.3-3.3-4.3-3.2-4.4-3.1-4.5-3-4.5-3-4.5-3-4.5-3-4.4-3-4.4-3.2-4.1-3.4-4-3.7-3.9-3.7-3.7-4-3.5-4-3.5-4.1-4-3.7-4-3.6-3.9-3.7-3.8-3.8-3.7-4-3.5-4-3.5-4.2-3.3-4.2-3.2-4.3-3.1-4.5-3-4.5-2.8-4.6-2.7-4.6-2.6-4.7-2.6-4.8-2.4-4.8-2.4-4.8-2.3-4.9-2.3-4.9-2.3-4.9-2.2-4.9-2.1-4.9-2.2-5-2.1-4.9-2.2-5-2.2-4.9-2.3-4.9-2.3-4.8-2.4-4.9-2.3-4.8-2.3-4.9-2.2-4.9-2.1-5-1.9-5.1-1.8-5-1.8-5.2-1.7-5.1-1.7-5.1-1.7-5.1-1.8-5.1-1.7-5.1-1.8-5.1-1.9-5-1.8-5.1-2-5-2-5-2.2-5-2.2-4.9-2.4-4.8-2.5-4.8-2.6-4.7-2.8-4.6-2.9-4.5-3.1-4.5-3.2-4.3-3.4-4.2-3.7-3.9-4-3.6-4.5-3-4.8-2.4-5.2-1.4z" fill="url(#gb14)" />
<path d="M258 172.6l4.9 1.6 4.6 2.5 4.3 3.1 3.8 3.7 3.5 4 3.3 4.2 3.1 4.3 3 4.4 2.8 4.5 2.8 4.6 2.5 4.7 2.5 4.8 2.3 4.8 2.2 4.9 2.1 4.9 2 4.9 2 5 1.8 5.1 1.9 5 1.7 5 1.8 5.1 1.7 5 1.8 5.1 1.7 5.1 1.7 5 1.7 5.1 1.8 5 1.9 5 2.1 5 2.2 4.9 2.2 4.8 2.3 4.8 2.4 4.8 2.3 4.9 2.2 4.8 2.2 4.9 2.2 4.9 2.1 4.9 2.2 4.9 2.1 4.9 2.2 4.9 2.2 4.8 2.3 4.9 2.3 4.8 2.4 4.8 2.4 4.8 2.5 4.7 2.6 4.7 2.7 4.6 2.8 4.5 3 4.5 3 4.4 3.2 4.3 3.3 4.2 3.4 4.2 3.5 4 3.6 4 3.7 3.8 3.8 3.7 4 3.7 3.9 3.6 3.4 4.1 3.6 4 3.6 3.9 3.8 3.7 4 3.7 4.1 3.4 4.2 3.2 4.4 3.1 4.4 3 4.4 3 4.4 3 4.4 3.1 4.4 3.1 4.3 3.2 4.2 3.3 4.1 3.4 4.1 3.4 4 3.6 3.9 1.1-4-3.6-4.1-3.5-4.2-3.4-4.3-3.3-4.3-3.2-4.4-3.1-4.5-3-4.5-3-4.5-3-4.5-3-4.4-3-4.4-3.2-4.1-3.4-4-3.7-3.9-3.7-3.7-4-3.5-4-3.5-4.1-4-3.7-4-3.6-3.9-3.7-3.8-3.8-3.7-4-3.5-4-3.5-4.2-3.3-4.2-3.2-4.3-3.1-4.5-3-4.5-2.8-4.6-2.7-4.6-2.6-4.7-2.6-4.8-2.4-4.8-2.4-4.8-2.3-4.9-2.3-4.9-2.3-4.9-2.2-4.9-2.1-4.9-2.2-5-2.1-4.9-2.2-5-2.2-4.9-2.3-4.9-2.3-4.8-2.4-4.9-2.3-4.8-2.3-4.9-2.2-4.9-2.1-5-1.9-5.1-1.8-5-1.8-5.2-1.7-5.1-1.7-5.1-1.7-5.1-1.8-5.1-1.7-5.1-1.8-5.1-1.9-5-1.8-5.1-2-5-2-5-2.2-5-2.2-4.9-2.4-4.8-2.5-4.8-2.6-4.7-2.8-4.6-2.9-4.5-3.1-4.5-3.2-4.3-3.4-4.2-3.7-3.9-4-3.6-4.5-3-4.8-2.4-5.2-1.4z" fill="url(#gb15)" />
<path d="M454.3 495.4l-5.7-4.8-5.7-5.2-5.7-5.4-5.8-5.7-5.7-6.1-5.8-6.5-5.8-6.8-5.7-6.6-5.8-6.6-5.8-6.7-5.8-7.4-5.8-8.2-5.8-8.7-5.8-8.7-5.8-8.8-5.8-9.4-5.8-10.2-5.8-11-5.8-11.5-5.8-11.9-5.8-12.5-5.8-13.2-5.8-14-5.8-14.3-5.9-14.3-5.8-14.4-5.8-14.8-5.8-16-5.8-18-5.9-19.6" fill="none" stroke="#808080" stroke-width="1.8" stroke-linejoin="round"/>
<path d="M475.3 503.8l-5.6-3.5-5.6-3.7-5.7-3.9-5.6-4.3-5.7-4.5-5.6-4.9-5.7-5.2-5.7-5.2-5.7-5.2-5.7-5.7-5.8-6.3-5.7-7.2-5.7-7.7-5.8-8.1-5.7-8.3-5.8-8.8-5.7-9.7-5.8-10.4-5.8-10.9-5.7-11.3-5.8-11.9-5.8-12.7-5.8-13.3-5.8-13.7-5.8-13.7-5.7-13.9-5.8-14.3-5.8-15.4-5.8-17-5.8-18.5" fill="none" stroke="#808080" stroke-width="1.8" stroke-linejoin="round"/>
<path d="M463 494l-5.6-3.5-5.6-3.6-5.6-4-5.7-4.2-5.6-4.8-5.7-5.4-5.7-5.9-5.7-6.2-5.7-6.4-5.7-6.9-5.7-7.5-5.7-8-5.8-8.6-5.7-9-5.7-9.5-5.8-10.3-5.7-11-5.8-11.6-5.7-11.8-5.8-12.3-5.8-12.8-5.7-14-5.8-15.5-5.8-17" fill="none" stroke="#808080" stroke-width="1.8" stroke-linejoin="round"/>
<path d="M434.2 473.1l-5.6-4.6-5.7-5.2-5.7-5.9-5.7-6.5-5.7-7.2-5.7-7.7-5.7-8.6-5.7-9.2-5.7-9.8-5.7-10.2-5.8-10.6-5.7-11.1-5.7-11.9-5.8-13.1-5.7-14.3" fill="none" stroke="#808080" stroke-width="1.8" stroke-linejoin="round"/>
<path d="M405.5 441.8l-5.7-7.5-5.7-8-5.7-8.6-5.8-9.5-5.7-10.7-5.7-11.7" fill="none" stroke="#808080" stroke-width="1.8" stroke-linejoin="round"/>
<path d="M410 472.8l2.6-0.7 2.7-0.4 2.6-0.3 2.6 0.1 2.6 0.2 2.7 0.6 2.6 0.8 2.6 1 2.6 1.4 2.7 1.7 2.6 1.9 2.6 1.9 2.7 1.9 2.6 1.7 2.6 1.6 2.6 1.7 2.7 1.8 2.6 1.8 2.6 1.8 2.6 1.6 2.7 1.5 2.6 1.4 2.6 1.1 2.6 1 2.7 0.8 2.6 0.7 2.6 0.6 2.6 0.6 2.7 0.4" fill="none" stroke="#808080" stroke-width="1.8" stroke-linejoin="round"/>
<path d="M386.6 446.5l3.1-0.9 3.1-0.6 3.1-0.2 3.1 0.2 3.1 0.7 3 1.1 3.1 1.4 3.1 2 3.1 2.5 3.1 2.9 3.1 3.3 3.1 3.5 3.1 3.2 3 2.8 3.1 2.6 3.1 2.7 3.1 2.7 3.1 2.8 3.1 2.7 3.1 2.5 3.1 2.2 3 1.9 3.1 1.6 3.1 1.4 3.1 1.1 3.1 0.9 3.1 0.7 3.1 0.6 3 0.5" fill="none" stroke="#808080" stroke-width="1.8" stroke-linejoin="round"/>
<path d="M363.2 417.2l3.6-1 3.5-0.6 3.6 0 3.5 0.6 3.6 1.1 3.5 1.7 3.6 2.3 3.5 3 3.6 3.7 3.5 4.4 3.6 4.9 3.5 5 3.6 4.7 3.5 4.1 3.6 3.7 3.5 3.7 3.5 3.9 3.6 3.9 3.5 3.7 3.6 3.4 3.5 3.1 3.6 2.6 3.5 2.3 3.6 1.8 3.5 1.5 3.6 1.2 3.5 1 3.6 0.8 3.5 0.7" fill="none" stroke="#808080" stroke-width="1.8" stroke-linejoin="round"/>
<path d="M339.9 380.1l4-0.9 4-0.4 4 0.5 4 1.2 4 2 4 2.6 4 3.4 4 4.2 4 5.2 4 6.1 4 6.8 4.1 6.9 4 6.5 4 5.6 4 5.1 4 5.1 4 5.2 4 5.3 4 5.1 4 4.6 4 4.2 4 3.7 4 3 4.1 2.6 4 2.2 4 1.8 4 1.6 4 1.2 4 1.2" fill="none" stroke="#808080" stroke-width="1.8" stroke-linejoin="round"/>
<path d="M316.5 332.8l4.4-0.4 4.5 0.3 4.5 1.2 4.4 2.2 4.5 3.1 4.5 3.9 4.4 4.8 4.5 5.9 4.5 7 4.5 8.2 4.4 9 4.5 9.1 4.5 8.6 4.4 7.5 4.5 6.8 4.5 6.8 4.4 7 4.5 7 4.5 6.7 4.4 6.2 4.5 5.7 4.5 5 4.5 4.3 4.4 3.7 4.5 3.2 4.5 2.8 4.4 2.3 4.5 2.2 4.5 1.9" fill="none" stroke="#808080" stroke-width="1.8" stroke-linejoin="round"/>
<path d="M293.1 275.4l4.9 0.4 4.9 1.2 5 2.3 4.9 3.5 4.9 4.5 5 5.4 4.9 6.6 4.9 7.8 4.9 9.1 5 10.6 4.9 11.5 4.9 11.7 5 10.9 4.9 9.7 4.9 8.8 5 8.8 4.9 9 4.9 9 4.9 8.7 5 8.1 4.9 7.4 4.9 6.7 5 5.8 4.9 5.1 4.9 4.5 5 4 4.9 3.6 4.9 3.2 4.9 3" fill="none" stroke="#808080" stroke-width="1.8" stroke-linejoin="round"/>
<path d="M269.7 212.7l5.4 1.4 5.4 2.2 5.4 3.5 5.4 4.8 5.3 6.1 5.4 7.1 5.4 8.4 5.4 9.8 5.4 11.4 5.4 13 5.4 14.1 5.4 14.4 5.4 13.4 5.4 12 5.3 11 5.4 10.8 5.4 11.2 5.4 11.1 5.4 10.8 5.4 10.1 5.4 9.3 5.4 8.3 5.4 7.5 5.4 6.6 5.4 6 5.3 5.3 5.4 4.9 5.4 4.4 5.4 4.3" fill="none" stroke="#808080" stroke-width="1.8" stroke-linejoin="round"/>
<path d="M274 724l2.7-6.1 2.7-6 2.7-6.1 2.7-6 2.7-6 2.7-6.1 2.7-6 2.7-6 2.7-6 2.7-6 2.7-6 2.7-5.9 2.7-5.9 2.7-5.8 2.7-5.7 2.7-5.6 2.7-5.5 2.7-5.5 2.7-5.3 2.7-5.3 2.7-5.2 2.7-5.1 2.7-5.1 2.7-4.9 2.7-5 2.7-4.8 2.7-4.9 2.7-4.8 2.7-4.7 2.8-4.6 2.7-4.4 2.7-4 2.7-3.8 2.7-3.4 2.7-3.1 2.7-3 2.7-2.9 2.7-2.9 2.7-2.8 2.7-2.9 2.7-2.7 2.7-2.6 2.7-2.5 2.7-2.3 2.7-2.1 2.7-2 2.7-1.9 2.7-1.8 2.7-1.6 2.7-1.6 2.7-1.4 2.7-1.4 2.7-1.2 2.7-1.2 2.7-1.1 2.7-1 2.7-0.9 2.7-0.9 2.7-0.9-3-2.5-2.9-2.5-3-2.6-3-2.6-3-2.7-2.9-2.7-3-2.9-3-2.9-3-3.1-2.9-3.2-3-3.4-3-3.4-2.9-3.5-3-3.5-3-3.4-3-3.3-2.9-3.3-3-3.3-3-3.4-3-3.5-2.9-3.8-3-4-3-4.3-2.9-4.6-3-4.6-3-4.7-3-4.6-2.9-4.6-3-4.7-3-4.7-3-5-2.9-5.2-3-5.5-3-5.8-3-5.9-2.9-6.1-3-6.3-3-6.3-2.9-6.4-3-6.6-3-6.7-3-7-2.9-7.3-3-7.4-3-7.7-3-7.7-2.9-7.7-3-7.7-3-7.6-2.9-7.7-3-7.7-3-7.8-3-7.9-2.9-8.3-3-8.8-3-9.4-3-10-2.9-10.6-3-10.8-2.6 0.2-2.6 0.3-2.6 0.4-2.6 0.8-2.7 1-2.6 1.4-2.6 1.8-2.6 2.2-2.6 2.5-2.6 2.8-2.6 3.1-2.6 3.2-2.6 3.3-2.6 3.5-2.7 3.7-2.6 3.9-2.6 4.1-2.6 4.5-2.6 4.9-2.6 5.2-2.6 5.5-2.6 5.8-2.6 6.2-2.6 6.5-2.7 6.9-2.6 7.2-2.6 7.8-2.6 8.1-2.6 8.5-2.6 8.8-2.6 9.1-2.6 9.2-2.6 9.2-2.6 9.3-2.7 9.3-2.6 9.2-2.6 9.4-2.6 9.4-2.6 9.7-2.6 10-2.6 10.3-2.6 10.7-2.6 11-2.6 11.2-2.7 11.2-2.6 11.2-2.6 11-2.6 10.7-2.6 10.5-2.6 10.4-2.6 10.5-2.6 10.8-2.6 11.1-2.6 11.6-2.7 12-2.6 12.4-2.6 12.8-2.6 13-2.6 13.1 2.9 2 2.9 2 2.8 2 2.9 2 2.9 2 2.9 2 2.9 2 2.9 2 2.8 2 2.9 2 2.9 2 2.9 2 2.9 2 2.8 2 2.9 2 2.9 2 2.9 2 2.9 2 2.8 2 2.9 2 2.9 2 2.9 2 2.9 2 2.9 2 2.8 2 2.9 2 2.9 2 2.9 2 2.9 2 2.8 2 2.9 2 2.9 2 2.9 2 2.9 2 2.8 2 2.9 2 2.9 2 2.9 2 2.9 2 2.9 2 2.8 2 2.9 2 2.9 2 2.9 2 2.9 2 2.8 2 2.9 2 2.9 2 2.9 2 2.9 2 2.8 2 2.9 2 2.9 2 2.9 2 2.9 2 2.9 2 2.8 2 2.9 2 2.9 2z" fill="#800000" />
<path d="M249 172.8l2 7.5 1.9 7.5 1.9 7.5 1.7 7.5 1.8 7.5 2 7.5 2.3 7.4 2.4 7.4 2.5 7.3 2.5 7.3 2.5 7.4 2.5 7.3 2.5 7.3 2.4 7.4 2.2 7.4 2 7.4 2.1 7.5 2.2 7.4 2.5 7.3 2.5 7.4 2.6 7.2 2.6 7.3 2.6 7.3 2.7 7.3 2.6 7.2 2.7 7.3 2.6 7.3 2.6 7.3 2.6 7.3 2.6 7.3 2.6 7.2 2.4 7.4 2.1 7.5 1.5 7.6 1 7.6 0.8 7.7 0.5 7.7 0 7.8-0.5 7.7-0.3 6.8-0.3 6.7-0.2 6.8-0.2 6.7-0.1 6.8-0.1 6.8-0.1 6.7-0.2 6.8-0.5 6.7-1 6.7-1.6 6.6-2 6.4-2 6.5-1.9 6.5-2 6.4-2.1 6.5-2.3 6.3-2.6 6.3-3 6-3.5 5.8-4 5.5-4 5.4-3.6 5.7-3.1 6-2.6 6.3-2.3 6.3-2.1 6.5-1.9 6.5-1.7 6.5-1.7 6.5-1.6 6.6-1.5 6.6-1.7 6.5-1.9 6.5-2.3 6.4-2.9 6.1-3.6 5.7-4.4 5.2-4.6 4.9 21.5 15.5 3-6.8 3-6.7 3-6.8 3.1-6.7 3-6.8 3-6.7 3.1-6.8 3-6.7 3-6.8 3.1-6.7 3-6.8 3.1-6.7 3.1-6.7 3.2-6.7 3.3-6.6 3.3-6.7 3.3-6.6 3.4-6.5 3.5-6.6 3.5-6.5 3.6-6.5 3.6-6.5 3.6-6.4 3.6-6.5 3.6-6.4 3.7-6.4 4.3-6.1 4.9-5.5 5.2-5.3 5.1-5.3 4.9-5.6 5.2-5.2 5.7-4.8 6-4.3 6.2-4 6.5-3.6 6.7-3.1 6.9-2.6 7.1-2.2-7.3-6.1-7.2-6.3-7-6.5-6.7-6.8-6.2-7.1-6-7.5-6.3-7.1-6.5-7-6.4-7.1-6-7.4-5-8.1-4.9-8.2-5.2-7.9-5.3-7.9-5.2-8.1-4.7-8.2-4.4-8.5-4.2-8.5-4.1-8.7-4-8.6-4.1-8.6-4-8.7-3.8-8.7-3.6-8.8-3.4-8.9-3.4-9-3.3-8.9-3.5-8.9-3.4-8.8-3.5-8.9-3.5-8.9-3.5-8.9-3.4-8.9-3.3-8.9-3-9-2.8-9.2-2.6-9.1-2.4-9.3-2.3-9.2z" fill="#8d0000" />
<path d="M249.4 172.8l2 7.5 2 7.6 1.9 7.6 1.7 7.6 1.9 7.6 2.1 7.5 2.3 7.5 2.4 7.4 2.6 7.4 2.5 7.4 2.5 7.4 2.6 7.4 2.5 7.4 2.5 7.5 2.2 7.4 2.1 7.6 2.2 7.5 2.3 7.4 2.5 7.4 2.6 7.4 2.7 7.4 2.7 7.3 2.7 7.3 2.7 7.3 2.7 7.3 2.8 7.3 2.7 7.3 2.6 7.2 2.6 7.3 2.6 7.2 2.7 7.2 2.4 7.2 2 7.4 1.4 7.5 1.1 7.6 0.8 7.6 0.5 7.6 0.1 7.7-0.4 7.7-0.4 6.7-0.3 6.6-0.3 6.7-0.2 6.7-0.1 6.8-0.1 6.7-0.1 6.7-0.3 6.7-0.6 6.7-1 6.7-1.7 6.5-2 6.4-2.1 6.5-2 6.5-2 6.4-2.2 6.5-2.3 6.3-2.7 6.3-3 6.1-3.5 5.8-3.9 5.5-4 5.5-3.6 5.7-3.1 6.1-2.7 6.2-2.3 6.4-2.1 6.4-1.9 6.6-1.9 6.5-1.7 6.5-1.7 6.6-1.6 6.6-1.7 6.6-2 6.5-2.3 6.4-2.9 6.1-3.6 5.7-4.3 5.3-4.5 5 20.5 14.8 3-6.8 3-6.7 3-6.8 3.1-6.7 3-6.8 3-6.7 3.1-6.8 3-6.7 3-6.8 3.1-6.7 3-6.8 3.1-6.7 3.1-6.7 3.2-6.7 3.3-6.6 3.3-6.7 3.3-6.6 3.4-6.5 3.5-6.6 3.5-6.5 3.6-6.5 3.6-6.5 3.6-6.4 3.6-6.5 3.6-6.4 3.7-6.4 4.3-6.1 4.9-5.5 5.2-5.3 5.1-5.3 4.9-5.6 5.2-5.2 5.7-4.8 6-4.3 6.2-4 6.5-3.6 6.7-3.1 6.9-2.6 7.1-2.2-7.3-6.1-7.2-6.3-7-6.5-6.7-6.8-6.2-7.1-6-7.5-6.3-7.1-6.5-7-6.4-7.1-6-7.4-5-8.1-4.9-8.2-5.2-7.9-5.3-7.9-5.2-8.1-4.7-8.2-4.4-8.5-4.2-8.5-4.1-8.7-4-8.6-4.1-8.6-4-8.7-3.8-8.7-3.6-8.8-3.4-8.9-3.4-9-3.3-8.9-3.5-8.9-3.4-8.8-3.5-8.9-3.5-8.9-3.5-8.9-3.4-8.9-3.3-8.9-3-9-2.8-9.2-2.6-9.1-2.4-9.3-2.3-9.2z" fill="#a90000" />
<path d="M249.8 172.8l2 7.6 2 7.7 1.9 7.6 1.9 7.7 1.9 7.7 2.1 7.6 2.4 7.5 2.5 7.5 2.5 7.5 2.6 7.5 2.6 7.4 2.6 7.5 2.6 7.4 2.5 7.6 2.3 7.5 2.2 7.6 2.2 7.6 2.4 7.5 2.6 7.4 2.6 7.5 2.8 7.4 2.7 7.4 2.8 7.3 2.8 7.4 2.9 7.3 2.8 7.3 2.8 7.3 2.7 7.2 2.6 7.3 2.7 7.2 2.7 7.1 2.5 7.2 2 7.2 1.5 7.5 1.2 7.5 0.8 7.5 0.6 7.6 0.3 7.6-0.1 7.6-0.6 6.6-0.5 6.5-0.4 6.6-0.3 6.7-0.2 6.6-0.2 6.7-0.2 6.7-0.4 6.6-0.6 6.7-1.1 6.6-1.8 6.5-2.2 6.4-2.1 6.4-2.1 6.5-2.1 6.4-2.2 6.5-2.4 6.3-2.7 6.3-3 6.1-3.5 5.9-3.9 5.5-4 5.6-3.6 5.7-3.1 6.1-2.7 6.3-2.4 6.4-2.1 6.4-2 6.6-1.9 6.5-1.8 6.6-1.7 6.6-1.7 6.6-1.8 6.5-2 6.5-2.4 6.4-2.9 6.2-3.5 5.8-4.3 5.3-4.4 5.1 19.5 14.1 3-6.8 3-6.7 3-6.8 3.1-6.7 3-6.8 3-6.7 3.1-6.8 3-6.7 3-6.8 3.1-6.7 3-6.8 3.1-6.7 3.1-6.7 3.2-6.7 3.3-6.6 3.3-6.7 3.3-6.6 3.4-6.5 3.5-6.6 3.5-6.5 3.6-6.5 3.6-6.5 3.6-6.4 3.6-6.5 3.6-6.4 3.7-6.4 4.3-6.1 4.9-5.5 5.2-5.3 5.1-5.3 4.9-5.6 5.2-5.2 5.7-4.8 6-4.3 6.2-4 6.5-3.6 6.7-3.1 6.9-2.6 7.1-2.2-7.3-6.1-7.2-6.3-7-6.5-6.7-6.8-6.2-7.1-6-7.5-6.3-7.1-6.5-7-6.4-7.1-6-7.4-5-8.1-4.9-8.2-5.2-7.9-5.3-7.9-5.2-8.1-4.7-8.2-4.4-8.5-4.2-8.5-4.1-8.7-4-8.6-4.1-8.6-4-8.7-3.8-8.7-3.6-8.8-3.4-8.9-3.4-9-3.3-8.9-3.5-8.9-3.4-8.8-3.5-8.9-3.5-8.9-3.5-8.9-3.4-8.9-3.3-8.9-3-9-2.8-9.2-2.6-9.1-2.4-9.3-2.3-9.2z" fill="#c30000" />
<path d="M250.2 172.8l2.1 7.7 2 7.7 1.9 7.8 1.9 7.7 2 7.7 2.2 7.7 2.4 7.6 2.5 7.6 2.6 7.5 2.7 7.6 2.6 7.5 2.6 7.5 2.7 7.6 2.5 7.5 2.3 7.7 2.3 7.6 2.3 7.6 2.5 7.6 2.6 7.5 2.8 7.5 2.8 7.5 2.8 7.4 2.8 7.5 2.9 7.3 3 7.4 2.9 7.3 2.9 7.3 2.8 7.3 2.7 7.3 2.8 7.1 2.8 7.1 2.5 7.1 2.2 7.2 1.5 7.3 1.3 7.5 0.9 7.4 0.8 7.5 0.4 7.6 0.1 7.6-0.8 6.4-0.6 6.4-0.5 6.5-0.5 6.6-0.3 6.5-0.3 6.6-0.3 6.6-0.6 6.6-0.7 6.7-1.3 6.5-1.9 6.4-2.2 6.4-2.3 6.4-2.1 6.5-2.1 6.4-2.3 6.5-2.5 6.3-2.7 6.3-3.1 6.2-3.5 5.8-3.9 5.7-3.9 5.5-3.6 5.8-3.1 6.2-2.7 6.2-2.5 6.4-2.2 6.5-2 6.6-1.9 6.5-1.9 6.6-1.8 6.6-1.7 6.6-1.9 6.6-2.1 6.5-2.4 6.4-2.8 6.2-3.6 5.8-4.2 5.4-4.4 5.2 18.6 13.4 3-6.8 3-6.7 3-6.8 3.1-6.7 3-6.8 3-6.7 3.1-6.8 3-6.7 3-6.8 3.1-6.7 3-6.8 3.1-6.7 3.1-6.7 3.2-6.7 3.3-6.6 3.3-6.7 3.3-6.6 3.4-6.5 3.5-6.6 3.5-6.5 3.6-6.5 3.6-6.5 3.6-6.4 3.6-6.5 3.6-6.4 3.7-6.4 4.3-6.1 4.9-5.5 5.2-5.3 5.1-5.3 4.9-5.6 5.2-5.2 5.7-4.8 6-4.3 6.2-4 6.5-3.6 6.7-3.1 6.9-2.6 7.1-2.2-7.3-6.1-7.2-6.3-7-6.5-6.7-6.8-6.2-7.1-6-7.5-6.3-7.1-6.5-7-6.4-7.1-6-7.4-5-8.1-4.9-8.2-5.2-7.9-5.3-7.9-5.2-8.1-4.7-8.2-4.4-8.5-4.2-8.5-4.1-8.7-4-8.6-4.1-8.6-4-8.7-3.8-8.7-3.6-8.8-3.4-8.9-3.4-9-3.3-8.9-3.5-8.9-3.4-8.8-3.5-8.9-3.5-8.9-3.5-8.9-3.4-8.9-3.3-8.9-3-9-2.8-9.2-2.6-9.1-2.4-9.3-2.3-9.2z" fill="#de0000" />
<path d="M250.6 172.8l2.1 7.8 2 7.8 2 7.8 1.9 7.8 2.1 7.8 2.2 7.7 2.5 7.7 2.6 7.7 2.6 7.6 2.7 7.6 2.7 7.6 2.7 7.6 2.6 7.6 2.6 7.6 2.4 7.7 2.3 7.7 2.4 7.7 2.6 7.7 2.7 7.5 2.8 7.6 2.9 7.5 2.9 7.5 2.9 7.5 3 7.4 3 7.4 3.1 7.3 3 7.3 2.8 7.3 2.8 7.3 2.9 7.1 2.9 7 2.6 7.1 2.3 7.1 1.6 7.4 1.3 7.3 1.2 7.4 0.9 7.5 0.6 7.4 0.4 7.5-1 6.3-0.9 6.3-0.7 6.4-0.5 6.4-0.5 6.5-0.4 6.5-0.5 6.6-0.7 6.5-0.9 6.6-1.4 6.5-2 6.4-2.4 6.3-2.3 6.4-2.2 6.5-2.2 6.4-2.4 6.5-2.5 6.4-2.8 6.2-3 6.2-3.5 5.9-3.9 5.7-3.9 5.6-3.6 5.9-3.1 6.1-2.8 6.3-2.4 6.4-2.3 6.5-2.1 6.5-2 6.6-1.9 6.6-1.9 6.6-1.8 6.6-1.9 6.6-2.1 6.5-2.4 6.5-2.9 6.2-3.6 5.9-4 5.5-4.4 5.2 17.6 12.7 3-6.8 3-6.7 3-6.8 3.1-6.7 3-6.8 3-6.7 3.1-6.8 3-6.7 3-6.8 3.1-6.7 3-6.8 3.1-6.7 3.1-6.7 3.2-6.7 3.3-6.6 3.3-6.7 3.3-6.6 3.4-6.5 3.5-6.6 3.5-6.5 3.6-6.5 3.6-6.5 3.6-6.4 3.6-6.5 3.6-6.4 3.7-6.4 4.3-6.1 4.9-5.5 5.2-5.3 5.1-5.3 4.9-5.6 5.2-5.2 5.7-4.8 6-4.3 6.2-4 6.5-3.6 6.7-3.1 6.9-2.6 7.1-2.2-7.3-6.1-7.2-6.3-7-6.5-6.7-6.8-6.2-7.1-6-7.5-6.3-7.1-6.5-7-6.4-7.1-6-7.4-5-8.1-4.9-8.2-5.2-7.9-5.3-7.9-5.2-8.1-4.7-8.2-4.4-8.5-4.2-8.5-4.1-8.7-4-8.6-4.1-8.6-4-8.7-3.8-8.7-3.6-8.8-3.4-8.9-3.4-9-3.3-8.9-3.5-8.9-3.4-8.8-3.5-8.9-3.5-8.9-3.5-8.9-3.4-8.9-3.3-8.9-3-9-2.8-9.2-2.6-9.1-2.4-9.3-2.3-9.2z" fill="#f70000" />
<path d="M251 172.8l2.1 7.8 2.1 7.9 2 7.9 2 7.9 2 7.9 2.3 7.8 2.6 7.7 2.6 7.7 2.7 7.7 2.7 7.7 2.7 7.7 2.8 7.6 2.7 7.7 2.6 7.7 2.5 7.8 2.3 7.8 2.5 7.7 2.7 7.7 2.8 7.6 2.8 7.6 3 7.6 2.9 7.6 3 7.5 3.1 7.5 3.2 7.4 3.1 7.3 3.1 7.3 2.9 7.4 2.9 7.3 3 7.1 3 6.9 2.7 7 2.4 7.1 1.7 7.3 1.5 7.3 1.2 7.3 1.1 7.4 0.9 7.4 0.6 7.5-1.2 6.1-1.1 6.1-0.8 6.3-0.8 6.4-0.6 6.3-0.6 6.5-0.6 6.4-0.8 6.6-1.1 6.5-1.5 6.5-2.2 6.3-2.4 6.2-2.4 6.4-2.3 6.5-2.3 6.5-2.4 6.4-2.6 6.4-2.8 6.3-3.1 6.1-3.5 6-3.8 5.7-3.9 5.7-3.6 5.9-3.1 6.1-2.8 6.4-2.5 6.4-2.3 6.5-2.2 6.5-2 6.6-2 6.6-1.9 6.6-1.9 6.7-2 6.6-2.1 6.5-2.5 6.4-2.9 6.3-3.5 5.9-4 5.6-4.3 5.3 16.6 12 3-6.8 3-6.7 3-6.8 3.1-6.7 3-6.8 3-6.7 3.1-6.8 3-6.7 3-6.8 3.1-6.7 3-6.8 3.1-6.7 3.1-6.7 3.2-6.7 3.3-6.6 3.3-6.7 3.3-6.6 3.4-6.5 3.5-6.6 3.5-6.5 3.6-6.5 3.6-6.5 3.6-6.4 3.6-6.5 3.6-6.4 3.7-6.4 4.3-6.1 4.9-5.5 5.2-5.3 5.1-5.3 4.9-5.6 5.2-5.2 5.7-4.8 6-4.3 6.2-4 6.5-3.6 6.7-3.1 6.9-2.6 7.1-2.2-7.3-6.1-7.2-6.3-7-6.5-6.7-6.8-6.2-7.1-6-7.5-6.3-7.1-6.5-7-6.4-7.1-6-7.4-5-8.1-4.9-8.2-5.2-7.9-5.3-7.9-5.2-8.1-4.7-8.2-4.4-8.5-4.2-8.5-4.1-8.7-4-8.6-4.1-8.6-4-8.7-3.8-8.7-3.6-8.8-3.4-8.9-3.4-9-3.3-8.9-3.5-8.9-3.4-8.8-3.5-8.9-3.5-8.9-3.5-8.9-3.4-8.9-3.3-8.9-3-9-2.8-9.2-2.6-9.1-2.4-9.3-2.3-9.2z" fill="#ff1100" />
<path d="M251.5 172.7l2 8 2.1 8 2.1 7.9 2 8 2.1 7.9 2.4 7.9 2.5 7.8 2.7 7.8 2.8 7.8 2.7 7.7 2.8 7.7 2.8 7.8 2.7 7.7 2.7 7.8 2.5 7.9 2.5 7.8 2.5 7.8 2.8 7.7 2.8 7.7 3 7.7 3 7.6 3 7.7 3.1 7.5 3.1 7.5 3.3 7.5 3.3 7.3 3.2 7.4 2.9 7.3 3 7.3 3.1 7.1 3.1 6.9 2.8 7 2.5 7 1.8 7.2 1.6 7.3 1.4 7.2 1.2 7.3 1.1 7.4 0.9 7.4-1.5 5.9-1.2 6.1-1 6.1-0.9 6.3-0.8 6.3-0.7 6.3-0.8 6.4-1 6.5-1.1 6.5-1.7 6.4-2.3 6.2-2.6 6.3-2.4 6.3-2.4 6.5-2.3 6.5-2.5 6.4-2.7 6.4-2.8 6.3-3.2 6.2-3.5 6-3.8 5.7-3.8 5.8-3.6 5.9-3.1 6.2-2.8 6.3-2.6 6.5-2.3 6.5-2.2 6.5-2.2 6.6-2 6.6-2 6.7-1.9 6.6-2.1 6.6-2.2 6.6-2.5 6.4-2.9 6.3-3.5 6-3.9 5.6-4.2 5.4 15.6 11.3 3-6.8 3-6.7 3-6.8 3.1-6.7 3-6.8 3-6.7 3.1-6.8 3-6.7 3-6.8 3.1-6.7 3-6.8 3.1-6.7 3.1-6.7 3.2-6.7 3.3-6.6 3.3-6.7 3.3-6.6 3.4-6.5 3.5-6.6 3.5-6.5 3.6-6.5 3.6-6.5 3.6-6.4 3.6-6.5 3.6-6.4 3.7-6.4 4.3-6.1 4.9-5.5 5.2-5.3 5.1-5.3 4.9-5.6 5.2-5.2 5.7-4.8 6-4.3 6.2-4 6.5-3.6 6.7-3.1 6.9-2.6 7.1-2.2-7.3-6.1-7.2-6.3-7-6.5-6.7-6.8-6.2-7.1-6-7.5-6.3-7.1-6.5-7-6.4-7.1-6-7.4-5-8.1-4.9-8.2-5.2-7.9-5.3-7.9-5.2-8.1-4.7-8.2-4.4-8.5-4.2-8.5-4.1-8.7-4-8.6-4.1-8.6-4-8.7-3.8-8.7-3.6-8.8-3.4-8.9-3.4-9-3.3-8.9-3.5-8.9-3.4-8.8-3.5-8.9-3.5-8.9-3.5-8.9-3.4-8.9-3.3-8.9-3-9-2.8-9.2-2.6-9.1-2.4-9.3-2.3-9.2z" fill="#ff2a00" />
<path d="M251.9 172.7l2.1 8.1 2.1 8 2 8.1 2.1 8 2.2 8 2.4 7.9 2.6 7.9 2.8 7.9 2.8 7.8 2.8 7.8 2.8 7.8 2.8 7.8 2.8 7.9 2.7 7.8 2.6 7.9 2.5 7.9 2.6 7.9 2.8 7.8 3 7.7 3 7.8 3 7.7 3.2 7.6 3.1 7.7 3.3 7.5 3.3 7.5 3.4 7.3 3.3 7.4 3.1 7.4 3 7.3 3.2 7 3.2 6.9 2.9 6.9 2.5 7 2 7.1 1.6 7.2 1.6 7.2 1.4 7.2 1.2 7.3 1.2 7.3-1.7 5.8-1.4 5.9-1.2 6.1-1 6.1-0.9 6.3-0.9 6.2-1 6.4-1 6.4-1.3 6.4-1.8 6.4-2.5 6.2-2.6 6.2-2.6 6.3-2.4 6.5-2.4 6.5-2.6 6.4-2.7 6.4-2.9 6.3-3.1 6.2-3.5 6-3.8 5.8-3.8 5.8-3.6 6-3.1 6.2-2.9 6.4-2.6 6.4-2.3 6.6-2.3 6.5-2.2 6.6-2.1 6.6-2 6.7-2.1 6.6-2.1 6.6-2.2 6.6-2.6 6.5-2.9 6.3-3.4 6-3.9 5.7-4.2 5.5 14.7 10.6 3-6.8 3-6.7 3-6.8 3.1-6.7 3-6.8 3-6.7 3.1-6.8 3-6.7 3-6.8 3.1-6.7 3-6.8 3.1-6.7 3.1-6.7 3.2-6.7 3.3-6.6 3.3-6.7 3.3-6.6 3.4-6.5 3.5-6.6 3.5-6.5 3.6-6.5 3.6-6.5 3.6-6.4 3.6-6.5 3.6-6.4 3.7-6.4 4.3-6.1 4.9-5.5 5.2-5.3 5.1-5.3 4.9-5.6 5.2-5.2 5.7-4.8 6-4.3 6.2-4 6.5-3.6 6.7-3.1 6.9-2.6 7.1-2.2-7.3-6.1-7.2-6.3-7-6.5-6.7-6.8-6.2-7.1-6-7.5-6.3-7.1-6.5-7-6.4-7.1-6-7.4-5-8.1-4.9-8.2-5.2-7.9-5.3-7.9-5.2-8.1-4.7-8.2-4.4-8.5-4.2-8.5-4.1-8.7-4-8.6-4.1-8.6-4-8.7-3.8-8.7-3.6-8.8-3.4-8.9-3.4-9-3.3-8.9-3.5-8.9-3.4-8.8-3.5-8.9-3.5-8.9-3.5-8.9-3.4-8.9-3.3-8.9-3-9-2.8-9.2-2.6-9.1-2.4-9.3-2.3-9.2z" fill="#ff4200" />
<path d="M252.3 172.7l2.1 8.1 2.1 8.2 2.1 8.1 2.1 8.1 2.3 8.1 2.5 8 2.6 7.9 2.8 7.9 2.9 7.9 2.8 7.9 2.9 7.9 2.8 7.9 2.8 7.9 2.8 7.9 2.6 8 2.6 7.9 2.7 8 2.9 7.8 3 7.8 3.1 7.8 3.1 7.8 3.2 7.7 3.3 7.7 3.3 7.6 3.5 7.4 3.5 7.4 3.3 7.4 3.2 7.4 3 7.3 3.3 7 3.3 6.9 3 6.8 2.6 6.9 2 7.1 1.8 7.1 1.7 7.1 1.5 7.2 1.5 7.2 1.3 7.3-1.8 5.6-1.6 5.8-1.3 6-1.2 6-1 6.1-1 6.2-1.1 6.3-1.2 6.4-1.4 6.4-2 6.3-2.5 6.1-2.8 6.2-2.6 6.3-2.5 6.5-2.5 6.5-2.6 6.4-2.8 6.4-2.9 6.3-3.2 6.2-3.5 6.1-3.8 5.9-3.8 5.8-3.5 6-3.1 6.3-2.9 6.3-2.6 6.5-2.5 6.6-2.3 6.5-2.2 6.6-2.2 6.7-2.1 6.6-2.1 6.6-2.2 6.7-2.3 6.6-2.5 6.5-3 6.3-3.4 6.1-3.8 5.7-4.1 5.6 13.7 9.9 3-6.8 3-6.7 3-6.8 3.1-6.7 3-6.8 3-6.7 3.1-6.8 3-6.7 3-6.8 3.1-6.7 3-6.8 3.1-6.7 3.1-6.7 3.2-6.7 3.3-6.6 3.3-6.7 3.3-6.6 3.4-6.5 3.5-6.6 3.5-6.5 3.6-6.5 3.6-6.5 3.6-6.4 3.6-6.5 3.6-6.4 3.7-6.4 4.3-6.1 4.9-5.5 5.2-5.3 5.1-5.3 4.9-5.6 5.2-5.2 5.7-4.8 6-4.3 6.2-4 6.5-3.6 6.7-3.1 6.9-2.6 7.1-2.2-7.3-6.1-7.2-6.3-7-6.5-6.7-6.8-6.2-7.1-6-7.5-6.3-7.1-6.5-7-6.4-7.1-6-7.4-5-8.1-4.9-8.2-5.2-7.9-5.3-7.9-5.2-8.1-4.7-8.2-4.4-8.5-4.2-8.5-4.1-8.7-4-8.6-4.1-8.6-4-8.7-3.8-8.7-3.6-8.8-3.4-8.9-3.4-9-3.3-8.9-3.5-8.9-3.4-8.8-3.5-8.9-3.5-8.9-3.5-8.9-3.4-8.9-3.3-8.9-3-9-2.8-9.2-2.6-9.1-2.4-9.3-2.3-9.2z" fill="#ff5900" />
<path d="M252.7 172.7l2.1 8.2 2.2 8.2 2.1 8.2 2.2 8.2 2.3 8.1 2.5 8.1 2.7 8 2.9 8 2.8 8 2.9 7.9 2.9 8 2.9 7.9 2.9 8 2.8 8 2.7 8 2.7 8.1 2.7 7.9 3 8 3.1 7.8 3.1 7.9 3.2 7.8 3.3 7.8 3.3 7.7 3.4 7.6 3.6 7.5 3.6 7.4 3.5 7.4 3.1 7.4 3.2 7.3 3.4 7 3.3 6.8 3.1 6.7 2.7 6.9 2.1 7 1.8 7.1 1.8 7 1.6 7.1 1.7 7.2 1.6 7.2-2.1 5.5-1.7 5.7-1.5 5.8-1.3 6-1.1 6-1.1 6.2-1.2 6.2-1.3 6.3-1.6 6.4-2 6.2-2.7 6.1-2.8 6.1-2.8 6.3-2.5 6.5-2.6 6.5-2.6 6.4-2.9 6.4-2.9 6.3-3.2 6.3-3.5 6.1-3.8 5.9-3.8 5.9-3.5 6-3.2 6.3-2.8 6.4-2.7 6.5-2.5 6.5-2.4 6.6-2.3 6.7-2.2 6.6-2.2 6.6-2.1 6.7-2.3 6.6-2.3 6.6-2.6 6.5-3 6.4-3.3 6.1-3.8 5.9-4 5.6 12.7 9.2 3-6.8 3-6.7 3-6.8 3.1-6.7 3-6.8 3-6.7 3.1-6.8 3-6.7 3-6.8 3.1-6.7 3-6.8 3.1-6.7 3.1-6.7 3.2-6.7 3.3-6.6 3.3-6.7 3.3-6.6 3.4-6.5 3.5-6.6 3.5-6.5 3.6-6.5 3.6-6.5 3.6-6.4 3.6-6.5 3.6-6.4 3.7-6.4 4.3-6.1 4.9-5.5 5.2-5.3 5.1-5.3 4.9-5.6 5.2-5.2 5.7-4.8 6-4.3 6.2-4 6.5-3.6 6.7-3.1 6.9-2.6 7.1-2.2-7.3-6.1-7.2-6.3-7-6.5-6.7-6.8-6.2-7.1-6-7.5-6.3-7.1-6.5-7-6.4-7.1-6-7.4-5-8.1-4.9-8.2-5.2-7.9-5.3-7.9-5.2-8.1-4.7-8.2-4.4-8.5-4.2-8.5-4.1-8.7-4-8.6-4.1-8.6-4-8.7-3.8-8.7-3.6-8.8-3.4-8.9-3.4-9-3.3-8.9-3.5-8.9-3.4-8.8-3.5-8.9-3.5-8.9-3.5-8.9-3.4-8.9-3.3-8.9-3-9-2.8-9.2-2.6-9.1-2.4-9.3-2.3-9.2z" fill="#ff7000" />
<path d="M253.1 172.7l2.1 8.3 2.2 8.3 2.2 8.2 2.2 8.3 2.3 8.2 2.6 8.1 2.8 8.1 2.9 8.1 2.9 8 3 8 2.9 8.1 3 8 2.9 8 2.8 8.1 2.7 8.1 2.8 8.1 2.8 8 3.1 8 3.2 7.9 3.2 7.9 3.2 7.9 3.3 7.8 3.4 7.8 3.6 7.7 3.6 7.5 3.7 7.4 3.6 7.4 3.2 7.5 3.2 7.3 3.5 6.9 3.4 6.7 3.2 6.7 2.7 6.7 2.1 7 1.9 7 1.9 7 1.8 7 1.8 7.1 1.8 7.1-2.3 5.4-1.9 5.6-1.5 5.7-1.4 5.9-1.3 6-1.2 6.1-1.3 6.1-1.4 6.3-1.6 6.3-2.2 6.2-2.7 6.1-3 6.1-2.8 6.3-2.6 6.4-2.6 6.5-2.8 6.4-2.8 6.4-3.1 6.4-3.2 6.2-3.5 6.1-3.7 6-3.8 6-3.5 6.1-3.2 6.3-2.9 6.4-2.7 6.5-2.5 6.5-2.4 6.6-2.4 6.7-2.3 6.6-2.2 6.7-2.3 6.6-2.2 6.7-2.5 6.6-2.6 6.5-2.9 6.4-3.4 6.2-3.7 5.9-3.9 5.7 11.7 8.5 3-6.8 3-6.7 3-6.8 3.1-6.7 3-6.8 3-6.7 3.1-6.8 3-6.7 3-6.8 3.1-6.7 3-6.8 3.1-6.7 3.1-6.7 3.2-6.7 3.3-6.6 3.3-6.7 3.3-6.6 3.4-6.5 3.5-6.6 3.5-6.5 3.6-6.5 3.6-6.5 3.6-6.4 3.6-6.5 3.6-6.4 3.7-6.4 4.3-6.1 4.9-5.5 5.2-5.3 5.1-5.3 4.9-5.6 5.2-5.2 5.7-4.8 6-4.3 6.2-4 6.5-3.6 6.7-3.1 6.9-2.6 7.1-2.2-7.3-6.1-7.2-6.3-7-6.5-6.7-6.8-6.2-7.1-6-7.5-6.3-7.1-6.5-7-6.4-7.1-6-7.4-5-8.1-4.9-8.2-5.2-7.9-5.3-7.9-5.2-8.1-4.7-8.2-4.4-8.5-4.2-8.5-4.1-8.7-4-8.6-4.1-8.6-4-8.7-3.8-8.7-3.6-8.8-3.4-8.9-3.4-9-3.3-8.9-3.5-8.9-3.4-8.8-3.5-8.9-3.5-8.9-3.5-8.9-3.4-8.9-3.3-8.9-3-9-2.8-9.2-2.6-9.1-2.4-9.3-2.3-9.2z" fill="#ff8600" />
<path d="M253.5 172.7l2.2 8.4 2.1 8.3 2.3 8.4 2.2 8.3 2.4 8.3 2.7 8.2 2.8 8.1 2.9 8.1 3 8.2 3 8.1 3 8.1 3 8.1 2.9 8.1 2.9 8.1 2.8 8.2 2.8 8.1 2.9 8.1 3.2 8 3.2 8 3.3 8 3.3 7.9 3.4 7.9 3.5 7.8 3.6 7.8 3.7 7.5 3.8 7.4 3.7 7.4 3.3 7.5 3.2 7.3 3.6 6.8 3.4 6.7 3.3 6.6 2.7 6.7 2.2 6.9 1.9 6.9 2 6.9 1.9 6.9 1.9 7 2.1 7.1-2.5 5.3-2 5.5-1.7 5.6-1.4 5.8-1.4 5.9-1.3 6-1.4 6.2-1.5 6.2-1.7 6.3-2.3 6.1-2.8 6-3.1 6.1-2.9 6.3-2.6 6.4-2.7 6.5-2.8 6.4-2.9 6.4-3.1 6.4-3.3 6.3-3.5 6.1-3.7 6-3.7 6-3.5 6.2-3.2 6.3-2.9 6.4-2.8 6.5-2.5 6.6-2.5 6.6-2.4 6.7-2.4 6.6-2.3 6.7-2.3 6.6-2.3 6.7-2.5 6.6-2.7 6.6-2.9 6.4-3.4 6.2-3.6 6-3.9 5.8 10.8 7.8 3-6.8 3-6.7 3-6.8 3.1-6.7 3-6.8 3-6.7 3.1-6.8 3-6.7 3-6.8 3.1-6.7 3-6.8 3.1-6.7 3.1-6.7 3.2-6.7 3.3-6.6 3.3-6.7 3.3-6.6 3.4-6.5 3.5-6.6 3.5-6.5 3.6-6.5 3.6-6.5 3.6-6.4 3.6-6.5 3.6-6.4 3.7-6.4 4.3-6.1 4.9-5.5 5.2-5.3 5.1-5.3 4.9-5.6 5.2-5.2 5.7-4.8 6-4.3 6.2-4 6.5-3.6 6.7-3.1 6.9-2.6 7.1-2.2-7.3-6.1-7.2-6.3-7-6.5-6.7-6.8-6.2-7.1-6-7.5-6.3-7.1-6.5-7-6.4-7.1-6-7.4-5-8.1-4.9-8.2-5.2-7.9-5.3-7.9-5.2-8.1-4.7-8.2-4.4-8.5-4.2-8.5-4.1-8.7-4-8.6-4.1-8.6-4-8.7-3.8-8.7-3.6-8.8-3.4-8.9-3.4-9-3.3-8.9-3.5-8.9-3.4-8.8-3.5-8.9-3.5-8.9-3.5-8.9-3.4-8.9-3.3-8.9-3-9-2.8-9.2-2.6-9.1-2.4-9.3-2.3-9.2z" fill="#ff9c00" />
<path d="M253.9 172.7l2.2 8.4 2.2 8.5 2.2 8.4 2.3 8.4 2.5 8.3 2.7 8.3 2.9 8.2 3 8.2 3 8.2 3 8.2 3.1 8.1 3 8.2 3 8.2 2.9 8.2 2.9 8.2 2.8 8.2 3 8.2 3.3 8.1 3.3 8 3.3 8 3.4 8 3.5 8 3.5 7.9 3.7 7.7 3.9 7.6 3.9 7.4 3.7 7.4 3.3 7.5 3.4 7.3 3.5 6.8 3.6 6.6 3.3 6.5 2.8 6.6 2.1 6.8 2.1 6.9 2 6.8 2 6.8 2.1 7 2.2 7-2.6 5.2-2.1 5.3-1.8 5.6-1.6 5.7-1.4 5.9-1.4 5.9-1.5 6.1-1.6 6.2-1.8 6.2-2.4 6.1-2.9 6-3.2 6-2.9 6.3-2.7 6.4-2.8 6.5-2.8 6.4-3 6.4-3.2 6.4-3.2 6.3-3.5 6.2-3.7 6-3.7 6.1-3.5 6.2-3.2 6.3-2.9 6.5-2.8 6.5-2.7 6.6-2.5 6.6-2.5 6.7-2.4 6.6-2.4 6.7-2.3 6.7-2.4 6.6-2.6 6.7-2.7 6.5-2.9 6.5-3.3 6.3-3.6 6-3.8 6 9.8 7 3-6.8 3-6.7 3-6.8 3.1-6.7 3-6.8 3-6.7 3.1-6.8 3-6.7 3-6.8 3.1-6.7 3-6.8 3.1-6.7 3.1-6.7 3.2-6.7 3.3-6.6 3.3-6.7 3.3-6.6 3.4-6.5 3.5-6.6 3.5-6.5 3.6-6.5 3.6-6.5 3.6-6.4 3.6-6.5 3.6-6.4 3.7-6.4 4.3-6.1 4.9-5.5 5.2-5.3 5.1-5.3 4.9-5.6 5.2-5.2 5.7-4.8 6-4.3 6.2-4 6.5-3.6 6.7-3.1 6.9-2.6 7.1-2.2-7.3-6.1-7.2-6.3-7-6.5-6.7-6.8-6.2-7.1-6-7.5-6.3-7.1-6.5-7-6.4-7.1-6-7.4-5-8.1-4.9-8.2-5.2-7.9-5.3-7.9-5.2-8.1-4.7-8.2-4.4-8.5-4.2-8.5-4.1-8.7-4-8.6-4.1-8.6-4-8.7-3.8-8.7-3.6-8.8-3.4-8.9-3.4-9-3.3-8.9-3.5-8.9-3.4-8.8-3.5-8.9-3.5-8.9-3.5-8.9-3.4-8.9-3.3-8.9-3-9-2.8-9.2-2.6-9.1-2.4-9.3-2.3-9.2z" fill="#ffb100" />
<path d="M254.3 172.7l2.2 8.5 2.2 8.5 2.3 8.5 2.4 8.5 2.5 8.4 2.8 8.3 2.9 8.3 3 8.3 3.1 8.2 3.1 8.3 3 8.2 3.1 8.3 3 8.2 3 8.3 2.9 8.3 3 8.3 3 8.2 3.4 8.1 3.3 8.1 3.4 8.1 3.5 8.1 3.5 8 3.6 7.9 3.8 7.8 4 7.6 4 7.4 3.8 7.4 3.4 7.5 3.4 7.3 3.6 6.7 3.6 6.6 3.4 6.4 2.8 6.5 2.2 6.8 2.1 6.8 2.1 6.7 2.1 6.8 2.3 6.9 2.4 7-2.8 5-2.2 5.2-2 5.5-1.6 5.7-1.5 5.7-1.5 5.9-1.5 6-1.7 6.2-1.9 6.2-2.5 6-3.1 5.9-3.2 6-3.1 6.3-2.8 6.4-2.8 6.5-2.9 6.4-3 6.4-3.2 6.4-3.3 6.3-3.5 6.3-3.6 6.1-3.7 6.1-3.5 6.2-3.2 6.4-3 6.5-2.8 6.5-2.7 6.6-2.6 6.6-2.5 6.7-2.5 6.6-2.4 6.7-2.5 6.7-2.4 6.7-2.6 6.6-2.7 6.6-3 6.5-3.3 6.3-3.5 6.2-3.7 6 8.8 6.3 3-6.8 3-6.7 3-6.8 3.1-6.7 3-6.8 3-6.7 3.1-6.8 3-6.7 3-6.8 3.1-6.7 3-6.8 3.1-6.7 3.1-6.7 3.2-6.7 3.3-6.6 3.3-6.7 3.3-6.6 3.4-6.5 3.5-6.6 3.5-6.5 3.6-6.5 3.6-6.5 3.6-6.4 3.6-6.5 3.6-6.4 3.7-6.4 4.3-6.1 4.9-5.5 5.2-5.3 5.1-5.3 4.9-5.6 5.2-5.2 5.7-4.8 6-4.3 6.2-4 6.5-3.6 6.7-3.1 6.9-2.6 7.1-2.2-7.3-6.1-7.2-6.3-7-6.5-6.7-6.8-6.2-7.1-6-7.5-6.3-7.1-6.5-7-6.4-7.1-6-7.4-5-8.1-4.9-8.2-5.2-7.9-5.3-7.9-5.2-8.1-4.7-8.2-4.4-8.5-4.2-8.5-4.1-8.7-4-8.6-4.1-8.6-4-8.7-3.8-8.7-3.6-8.8-3.4-8.9-3.4-9-3.3-8.9-3.5-8.9-3.4-8.8-3.5-8.9-3.5-8.9-3.5-8.9-3.4-8.9-3.3-8.9-3-9-2.8-9.2-2.6-9.1-2.4-9.3-2.3-9.2z" fill="#ffc600" />
<path d="M254.7 172.7l2.2 8.6 2.3 8.6 2.3 8.5 2.4 8.6 2.6 8.5 2.8 8.4 3 8.3 3.1 8.4 3.1 8.3 3.1 8.3 3.1 8.3 3.1 8.3 3.1 8.3 3 8.4 3 8.4 3 8.3 3.2 8.3 3.3 8.2 3.5 8.1 3.5 8.2 3.5 8.1 3.6 8 3.7 8 3.8 7.8 4.1 7.6 4.1 7.5 3.9 7.4 3.5 7.5 3.4 7.3 3.7 6.7 3.7 6.5 3.4 6.3 2.9 6.5 2.3 6.7 2.1 6.7 2.2 6.7 2.3 6.7 2.4 6.8 2.6 6.9-2.9 4.9-2.4 5.1-2.1 5.4-1.7 5.6-1.6 5.7-1.6 5.8-1.7 6-1.8 6.1-2 6.2-2.6 5.9-3.2 5.9-3.3 5.9-3.1 6.3-2.9 6.4-2.8 6.5-3 6.4-3.1 6.5-3.2 6.3-3.3 6.4-3.5 6.2-3.7 6.2-3.6 6.1-3.5 6.3-3.2 6.4-3 6.5-2.9 6.6-2.7 6.6-2.7 6.6-2.5 6.7-2.6 6.7-2.5 6.7-2.5 6.6-2.5 6.7-2.6 6.7-2.8 6.6-3 6.5-3.2 6.4-3.5 6.2-3.6 6.1 7.8 5.6 3-6.8 3-6.7 3-6.8 3.1-6.7 3-6.8 3-6.7 3.1-6.8 3-6.7 3-6.8 3.1-6.7 3-6.8 3.1-6.7 3.1-6.7 3.2-6.7 3.3-6.6 3.3-6.7 3.3-6.6 3.4-6.5 3.5-6.6 3.5-6.5 3.6-6.5 3.6-6.5 3.6-6.4 3.6-6.5 3.6-6.4 3.7-6.4 4.3-6.1 4.9-5.5 5.2-5.3 5.1-5.3 4.9-5.6 5.2-5.2 5.7-4.8 6-4.3 6.2-4 6.5-3.6 6.7-3.1 6.9-2.6 7.1-2.2-7.3-6.1-7.2-6.3-7-6.5-6.7-6.8-6.2-7.1-6-7.5-6.3-7.1-6.5-7-6.4-7.1-6-7.4-5-8.1-4.9-8.2-5.2-7.9-5.3-7.9-5.2-8.1-4.7-8.2-4.4-8.5-4.2-8.5-4.1-8.7-4-8.6-4.1-8.6-4-8.7-3.8-8.7-3.6-8.8-3.4-8.9-3.4-9-3.3-8.9-3.5-8.9-3.4-8.8-3.5-8.9-3.5-8.9-3.5-8.9-3.4-8.9-3.3-8.9-3-9-2.8-9.2-2.6-9.1-2.4-9.3-2.3-9.2z" fill="#ffda00" />
<path d="M255.1 172.7l2.2 8.6 2.3 8.7 2.4 8.7 2.4 8.6 2.7 8.5 2.8 8.5 3.1 8.4 3.1 8.4 3.2 8.4 3.1 8.4 3.2 8.4 3.1 8.4 3.1 8.4 3.1 8.4 3 8.4 3.1 8.4 3.3 8.4 3.4 8.2 3.6 8.2 3.5 8.2 3.6 8.2 3.6 8.1 3.8 8 4 7.9 4.1 7.6 4.2 7.5 4 7.5 3.6 7.5 3.5 7.2 3.8 6.7 3.8 6.4 3.5 6.3 3 6.4 2.3 6.7 2.2 6.6 2.4 6.6 2.4 6.6 2.6 6.8 2.9 6.9-3.2 4.7-2.6 5-2.2 5.3-1.9 5.5-1.7 5.6-1.7 5.7-1.8 5.9-2 6.1-2.1 6.1-2.7 6-3.3 5.8-3.5 5.9-3.1 6.2-3 6.4-2.9 6.5-3 6.4-3.2 6.5-3.3 6.4-3.3 6.3-3.5 6.3-3.6 6.2-3.6 6.2-3.5 6.3-3.2 6.5-3 6.5-2.9 6.6-2.8 6.6-2.7 6.6-2.7 6.7-2.6 6.7-2.6 6.7-2.5 6.7-2.6 6.7-2.7 6.6-2.8 6.7-3 6.5-3.2 6.4-3.4 6.3-3.5 6.2 6.8 4.9 3-6.8 3-6.7 3-6.8 3.1-6.7 3-6.8 3-6.7 3.1-6.8 3-6.7 3-6.8 3.1-6.7 3-6.8 3.1-6.7 3.1-6.7 3.2-6.7 3.3-6.6 3.3-6.7 3.3-6.6 3.4-6.5 3.5-6.6 3.5-6.5 3.6-6.5 3.6-6.5 3.6-6.4 3.6-6.5 3.6-6.4 3.7-6.4 4.3-6.1 4.9-5.5 5.2-5.3 5.1-5.3 4.9-5.6 5.2-5.2 5.7-4.8 6-4.3 6.2-4 6.5-3.6 6.7-3.1 6.9-2.6 7.1-2.2-7.3-6.1-7.2-6.3-7-6.5-6.7-6.8-6.2-7.1-6-7.5-6.3-7.1-6.5-7-6.4-7.1-6-7.4-5-8.1-4.9-8.2-5.2-7.9-5.3-7.9-5.2-8.1-4.7-8.2-4.4-8.5-4.2-8.5-4.1-8.7-4-8.6-4.1-8.6-4-8.7-3.8-8.7-3.6-8.8-3.4-8.9-3.4-9-3.3-8.9-3.5-8.9-3.4-8.8-3.5-8.9-3.5-8.9-3.5-8.9-3.4-8.9-3.3-8.9-3-9-2.8-9.2-2.6-9.1-2.4-9.3-2.3-9.2z" fill="#ffee00" />
<path d="M255.5 172.7l2.3 8.7 2.3 8.8 2.4 8.7 2.5 8.7 2.6 8.6 3 8.5 3.1 8.5 3.2 8.5 3.2 8.5 3.2 8.4 3.2 8.5 3.2 8.4 3.1 8.5 3.1 8.5 3.1 8.5 3.1 8.5 3.4 8.3 3.5 8.3 3.6 8.3 3.6 8.3 3.7 8.2 3.7 8.2 3.9 8.1 4 7.9 4.3 7.6 4.3 7.5 4.1 7.5 3.6 7.5 3.6 7.3 4 6.7 3.8 6.4 3.7 6.2 3.1 6.4 2.4 6.6 2.4 6.6 2.5 6.5 2.6 6.6 2.9 6.7 3.1 6.8-3.4 4.5-2.8 4.9-2.4 5.1-2.1 5.4-1.9 5.5-1.9 5.7-1.9 5.8-2.1 6-2.3 6.1-2.9 5.9-3.4 5.7-3.6 5.9-3.3 6.2-3 6.4-3 6.5-3.1 6.4-3.2 6.5-3.3 6.4-3.4 6.4-3.5 6.3-3.5 6.2-3.6 6.3-3.5 6.3-3.2 6.5-3.1 6.5-2.9 6.6-2.9 6.7-2.7 6.6-2.7 6.7-2.7 6.7-2.6 6.7-2.7 6.7-2.6 6.7-2.7 6.7-2.9 6.6-2.9 6.6-3.2 6.5-3.4 6.3-3.5 6.3 5.9 4.2 3-6.8 3-6.7 3-6.8 3.1-6.7 3-6.8 3-6.7 3.1-6.8 3-6.7 3-6.8 3.1-6.7 3-6.8 3.1-6.7 3.1-6.7 3.2-6.7 3.3-6.6 3.3-6.7 3.3-6.6 3.4-6.5 3.5-6.6 3.5-6.5 3.6-6.5 3.6-6.5 3.6-6.4 3.6-6.5 3.6-6.4 3.7-6.4 4.3-6.1 4.9-5.5 5.2-5.3 5.1-5.3 4.9-5.6 5.2-5.2 5.7-4.8 6-4.3 6.2-4 6.5-3.6 6.7-3.1 6.9-2.6 7.1-2.2-7.3-6.1-7.2-6.3-7-6.5-6.7-6.8-6.2-7.1-6-7.5-6.3-7.1-6.5-7-6.4-7.1-6-7.4-5-8.1-4.9-8.2-5.2-7.9-5.3-7.9-5.2-8.1-4.7-8.2-4.4-8.5-4.2-8.5-4.1-8.7-4-8.6-4.1-8.6-4-8.7-3.8-8.7-3.6-8.8-3.4-8.9-3.4-9-3.3-8.9-3.5-8.9-3.4-8.8-3.5-8.9-3.5-8.9-3.5-8.9-3.4-8.9-3.3-8.9-3-9-2.8-9.2-2.6-9.1-2.4-9.3-2.3-9.2z" fill="#fdff02" />
<path d="M256 172.6l2.2 8.9 2.3 8.8 2.4 8.8 2.6 8.8 2.7 8.7 3 8.6 3.2 8.5 3.2 8.6 3.2 8.5 3.3 8.5 3.2 8.5 3.3 8.6 3.2 8.5 3.1 8.6 3.1 8.6 3.3 8.5 3.4 8.4 3.6 8.4 3.7 8.3 3.7 8.3 3.7 8.3 3.8 8.3 3.9 8.1 4.2 7.9 4.3 7.7 4.5 7.6 4.2 7.5 3.7 7.5 3.7 7.3 4.1 6.8 4.1 6.3 3.8 6.2 3.3 6.4 2.6 6.6 2.6 6.5 2.7 6.5 2.9 6.5 3.2 6.6 3.5 6.8-3.7 4.3-3.1 4.7-2.7 5-2.3 5.2-2.2 5.5-2.1 5.5-2.2 5.7-2.4 5.9-2.4 6.1-3.1 5.8-3.6 5.7-3.7 5.8-3.4 6.2-3.1 6.4-3 6.5-3.2 6.5-3.3 6.4-3.3 6.4-3.4 6.4-3.5 6.4-3.6 6.3-3.5 6.3-3.4 6.4-3.3 6.4-3.1 6.6-3 6.6-2.9 6.7-2.8 6.6-2.8 6.7-2.7 6.7-2.7 6.7-2.7 6.7-2.7 6.8-2.8 6.6-2.8 6.7-3 6.6-3.2 6.5-3.3 6.4-3.4 6.4 4.9 3.5 3-6.8 3-6.7 3-6.8 3.1-6.7 3-6.8 3-6.7 3.1-6.8 3-6.7 3-6.8 3.1-6.7 3-6.8 3.1-6.7 3.1-6.7 3.2-6.7 3.3-6.6 3.3-6.7 3.3-6.6 3.4-6.5 3.5-6.6 3.5-6.5 3.6-6.5 3.6-6.5 3.6-6.4 3.6-6.5 3.6-6.4 3.7-6.4 4.3-6.1 4.9-5.5 5.2-5.3 5.1-5.3 4.9-5.6 5.2-5.2 5.7-4.8 6-4.3 6.2-4 6.5-3.6 6.7-3.1 6.9-2.6 7.1-2.2-7.3-6.1-7.2-6.3-7-6.5-6.7-6.8-6.2-7.1-6-7.5-6.3-7.1-6.5-7-6.4-7.1-6-7.4-5-8.1-4.9-8.2-5.2-7.9-5.3-7.9-5.2-8.1-4.7-8.2-4.4-8.5-4.2-8.5-4.1-8.7-4-8.6-4.1-8.6-4-8.7-3.8-8.7-3.6-8.8-3.4-8.9-3.4-9-3.3-8.9-3.5-8.9-3.4-8.8-3.5-8.9-3.5-8.9-3.5-8.9-3.4-8.9-3.3-8.9-3-9-2.8-9.2-2.6-9.1-2.4-9.3-2.3-9.2z" fill="#ebff14" />
<path d="M256.4 172.6l2.2 9 2.4 8.9 2.4 8.8 2.6 8.9 2.8 8.7 3.1 8.7 3.2 8.6 3.2 8.6 3.3 8.6 3.3 8.6 3.3 8.6 3.3 8.6 3.2 8.6 3.2 8.7 3.2 8.6 3.3 8.6 3.5 8.5 3.7 8.4 3.7 8.4 3.8 8.4 3.8 8.3 3.8 8.3 4.1 8.2 4.2 8 4.5 7.8 4.6 7.6 4.4 7.5 3.8 7.6 3.9 7.4 4.2 6.7 4.3 6.4 4.1 6.3 3.6 6.3 2.9 6.6 2.9 6.5 3 6.5 3.3 6.4 3.5 6.6 3.9 6.6-4 4.2-3.5 4.4-3 4.8-2.7 5.1-2.5 5.2-2.5 5.5-2.6 5.6-2.6 5.8-2.7 6-3.3 5.7-3.8 5.7-3.8 5.7-3.5 6.2-3.2 6.4-3.2 6.5-3.2 6.5-3.4 6.4-3.4 6.4-3.4 6.4-3.5 6.4-3.5 6.4-3.5 6.3-3.4 6.5-3.3 6.5-3.1 6.6-3.1 6.6-2.9 6.6-2.9 6.7-2.8 6.7-2.8 6.7-2.8 6.8-2.7 6.7-2.8 6.7-2.8 6.7-2.9 6.7-3 6.6-3.1 6.6-3.3 6.5-3.3 6.4 3.9 2.8 3-6.8 3-6.7 3-6.8 3.1-6.7 3-6.8 3-6.7 3.1-6.8 3-6.7 3-6.8 3.1-6.7 3-6.8 3.1-6.7 3.1-6.7 3.2-6.7 3.3-6.6 3.3-6.7 3.3-6.6 3.4-6.5 3.5-6.6 3.5-6.5 3.6-6.5 3.6-6.5 3.6-6.4 3.6-6.5 3.6-6.4 3.7-6.4 4.3-6.1 4.9-5.5 5.2-5.3 5.1-5.3 4.9-5.6 5.2-5.2 5.7-4.8 6-4.3 6.2-4 6.5-3.6 6.7-3.1 6.9-2.6 7.1-2.2-7.3-6.1-7.2-6.3-7-6.5-6.7-6.8-6.2-7.1-6-7.5-6.3-7.1-6.5-7-6.4-7.1-6-7.4-5-8.1-4.9-8.2-5.2-7.9-5.3-7.9-5.2-8.1-4.7-8.2-4.4-8.5-4.2-8.5-4.1-8.7-4-8.6-4.1-8.6-4-8.7-3.8-8.7-3.6-8.8-3.4-8.9-3.4-9-3.3-8.9-3.5-8.9-3.4-8.8-3.5-8.9-3.5-8.9-3.5-8.9-3.4-8.9-3.3-8.9-3-9-2.8-9.2-2.6-9.1-2.4-9.3-2.3-9.2z" fill="#d9ff26" />
<path d="M256.8 172.6l2.2 9 2.4 9 2.5 9 2.6 8.9 2.9 8.8 3.1 8.7 3.3 8.7 3.3 8.7 3.3 8.7 3.4 8.6 3.3 8.7 3.3 8.7 3.3 8.7 3.2 8.7 3.2 8.7 3.4 8.6 3.6 8.6 3.8 8.5 3.8 8.4 3.8 8.4 3.9 8.5 3.9 8.3 4.1 8.3 4.4 8 4.6 7.8 4.8 7.7 4.5 7.6 4 7.7 4 7.4 4.6 6.9 4.6 6.4 4.4 6.3 3.9 6.4 3.4 6.7 3.3 6.6 3.6 6.4 3.7 6.4 4.1 6.5 4.4 6.5-4.5 3.9-3.9 4.1-3.6 4.6-3.2 4.8-3 5.1-3 5.2-3 5.5-3 5.7-3.1 5.9-3.6 5.7-4 5.5-4 5.8-3.7 6.1-3.3 6.4-3.2 6.5-3.3 6.5-3.4 6.4-3.5 6.4-3.4 6.5-3.5 6.4-3.6 6.4-3.4 6.4-3.4 6.5-3.3 6.5-3.2 6.6-3 6.7-3 6.6-3 6.7-2.8 6.7-2.9 6.8-2.8 6.7-2.8 6.7-2.9 6.7-2.9 6.7-2.9 6.7-3 6.7-3.1 6.6-3.2 6.6-3.2 6.5 2.9 2.1 3-6.8 3-6.7 3-6.8 3.1-6.7 3-6.8 3-6.7 3.1-6.8 3-6.7 3-6.8 3.1-6.7 3-6.8 3.1-6.7 3.1-6.7 3.2-6.7 3.3-6.6 3.3-6.7 3.3-6.6 3.4-6.5 3.5-6.6 3.5-6.5 3.6-6.5 3.6-6.5 3.6-6.4 3.6-6.5 3.6-6.4 3.7-6.4 4.3-6.1 4.9-5.5 5.2-5.3 5.1-5.3 4.9-5.6 5.2-5.2 5.7-4.8 6-4.3 6.2-4 6.5-3.6 6.7-3.1 6.9-2.6 7.1-2.2-7.3-6.1-7.2-6.3-7-6.5-6.7-6.8-6.2-7.1-6-7.5-6.3-7.1-6.5-7-6.4-7.1-6-7.4-5-8.1-4.9-8.2-5.2-7.9-5.3-7.9-5.2-8.1-4.7-8.2-4.4-8.5-4.2-8.5-4.1-8.7-4-8.6-4.1-8.6-4-8.7-3.8-8.7-3.6-8.8-3.4-8.9-3.4-9-3.3-8.9-3.5-8.9-3.4-8.8-3.5-8.9-3.5-8.9-3.5-8.9-3.4-8.9-3.3-8.9-3-9-2.8-9.2-2.6-9.1-2.4-9.3-2.3-9.2z" fill="#c7ff38" />
<path d="M257.2 172.6l2.3 9.1 2.4 9.1 2.5 9 2.7 9 2.9 8.9 3.1 8.8 3.4 8.7 3.3 8.8 3.4 8.7 3.4 8.7 3.4 8.8 3.3 8.7 3.3 8.8 3.3 8.8 3.3 8.7 3.4 8.8 3.7 8.6 3.9 8.5 3.9 8.5 3.9 8.5 3.9 8.5 4 8.4 4.2 8.3 4.5 8.1 4.8 7.9 4.9 7.7 4.7 7.7 4.2 7.8 4.3 7.6 4.9 7 5 6.6 4.9 6.4 4.5 6.5 3.9 6.8 4 6.7 4.3 6.5 4.5 6.4 4.7 6.4 5.2 6.4-5.2 3.4-4.6 3.8-4.2 4.2-4 4.6-3.7 4.7-3.7 5.1-3.6 5.3-3.5 5.6-3.6 5.8-4 5.6-4.3 5.4-4.3 5.7-3.8 6.1-3.4 6.4-3.3 6.5-3.4 6.5-3.5 6.4-3.5 6.5-3.5 6.4-3.5 6.5-3.5 6.4-3.4 6.5-3.4 6.5-3.3 6.6-3.2 6.6-3.1 6.6-3 6.7-3 6.7-3 6.7-2.9 6.8-2.9 6.7-2.9 6.7-2.9 6.8-2.9 6.7-3 6.7-3 6.7-3.1 6.7-3.1 6.6-3.2 6.6 2 1.4 3-6.8 3-6.7 3-6.8 3.1-6.7 3-6.8 3-6.7 3.1-6.8 3-6.7 3-6.8 3.1-6.7 3-6.8 3.1-6.7 3.1-6.7 3.2-6.7 3.3-6.6 3.3-6.7 3.3-6.6 3.4-6.5 3.5-6.6 3.5-6.5 3.6-6.5 3.6-6.5 3.6-6.4 3.6-6.5 3.6-6.4 3.7-6.4 4.3-6.1 4.9-5.5 5.2-5.3 5.1-5.3 4.9-5.6 5.2-5.2 5.7-4.8 6-4.3 6.2-4 6.5-3.6 6.7-3.1 6.9-2.6 7.1-2.2-7.3-6.1-7.2-6.3-7-6.5-6.7-6.8-6.2-7.1-6-7.5-6.3-7.1-6.5-7-6.4-7.1-6-7.4-5-8.1-4.9-8.2-5.2-7.9-5.3-7.9-5.2-8.1-4.7-8.2-4.4-8.5-4.2-8.5-4.1-8.7-4-8.6-4.1-8.6-4-8.7-3.8-8.7-3.6-8.8-3.4-8.9-3.4-9-3.3-8.9-3.5-8.9-3.4-8.8-3.5-8.9-3.5-8.9-3.5-8.9-3.4-8.9-3.3-8.9-3-9-2.8-9.2-2.6-9.1-2.4-9.3-2.3-9.2z" fill="#b6ff49" />
<path d="M257.6 172.6l2.3 9.2 2.4 9.1 2.6 9.1 2.7 9.1 3 8.9 3.2 8.9 3.4 8.8 3.4 8.8 3.4 8.9 3.4 8.8 3.4 8.8 3.4 8.8 3.4 8.8 3.3 8.9 3.4 8.8 3.5 8.8 3.7 8.7 3.9 8.5 4 8.6 4 8.6 4 8.5 4.1 8.5 4.3 8.4 4.6 8.2 4.9 7.9 5.1 7.8 5 7.8 4.5 8 4.6 7.8 5.4 7.1 5.6 6.8 5.5 6.7 5.3 6.7 4.8 7.1 4.9 6.8 5.2 6.6 5.5 6.4 5.8 6.4 6.1 6.2-6 3-5.6 3.3-5.2 3.7-5 4.1-4.8 4.5-4.6 4.7-4.5 5.1-4.2 5.4-4.1 5.7-4.5 5.5-4.8 5.3-4.5 5.7-4 6.1-3.6 6.4-3.4 6.4-3.5 6.5-3.6 6.4-3.5 6.5-3.5 6.5-3.5 6.4-3.5 6.5-3.5 6.6-3.3 6.5-3.3 6.6-3.2 6.6-3.2 6.7-3.1 6.7-3 6.7-3 6.7-3 6.8-2.9 6.7-3 6.8-3 6.7-3 6.8-3 6.7-3 6.7-3 6.7-3.1 6.7-3.1 6.7 1 0.7 3-6.8 3-6.7 3-6.8 3.1-6.7 3-6.8 3-6.7 3.1-6.8 3-6.7 3-6.8 3.1-6.7 3-6.8 3.1-6.7 3.1-6.7 3.2-6.7 3.3-6.6 3.3-6.7 3.3-6.6 3.4-6.5 3.5-6.6 3.5-6.5 3.6-6.5 3.6-6.5 3.6-6.4 3.6-6.5 3.6-6.4 3.7-6.4 4.3-6.1 4.9-5.5 5.2-5.3 5.1-5.3 4.9-5.6 5.2-5.2 5.7-4.8 6-4.3 6.2-4 6.5-3.6 6.7-3.1 6.9-2.6 7.1-2.2-7.3-6.1-7.2-6.3-7-6.5-6.7-6.8-6.2-7.1-6-7.5-6.3-7.1-6.5-7-6.4-7.1-6-7.4-5-8.1-4.9-8.2-5.2-7.9-5.3-7.9-5.2-8.1-4.7-8.2-4.4-8.5-4.2-8.5-4.1-8.7-4-8.6-4.1-8.6-4-8.7-3.8-8.7-3.6-8.8-3.4-8.9-3.4-9-3.3-8.9-3.5-8.9-3.4-8.8-3.5-8.9-3.5-8.9-3.5-8.9-3.4-8.9-3.3-8.9-3-9-2.8-9.2-2.6-9.1-2.4-9.3-2.3-9.2z" fill="#a6ff59" />
<path d="M296.8 673.1l-5.9-4.7-5.9-4.8-5.9-4.8-5.9-4.9-5.9-4.9-5.9-5.1-5.8-5.1-5.9-5-5.9-5-5.9-5.1-5.9-5.3-5.9-5.5-5.9-5.5-5.9-5.5-5.9-5.5-5.8-5.8-5.9-5.9-5.9-6-5.9-6.2-5.9-6.2-5.9-6.4-5.9-6.6-5.9-6.6-5.9-6.6-5.8-6.7-5.9-6.6-5.9-7-5.9-7.3-5.9-7.8" fill="none" stroke="#808080" stroke-width="1.8" stroke-linejoin="round"/>
<path d="M319.5 624l-5.9-4-5.9-4-5.9-4.3-5.9-4.4-5.9-4.7-5.9-5-6-5.1-5.9-4.9-5.9-4.9-5.9-5.2-5.9-5.6-5.9-6.3-6-6.3-5.9-6.4-5.9-6.5-5.9-7.1-5.9-7.6-5.9-8-5.9-8.3-6-8.6-5.9-9-5.9-9.6-5.9-9.8-5.9-9.8-5.9-9.7-6-10-5.9-10.7-5.9-12-5.9-13.1" fill="none" stroke="#808080" stroke-width="1.8" stroke-linejoin="round"/>
<path d="M342.3 580.5l-5.9-3.6-6-3.8-5.9-4-6-4.3-5.9-4.7-5.9-5.2-6-5.2-5.9-5.1-6-5-5.9-5.4-5.9-6.1-6-7-5.9-7.3-6-7.2-5.9-7.5-6-8.3-5.9-9.1-5.9-9.8-6-10.1-5.9-10.5-6-11.4-5.9-12.1-5.9-12.4-6-12.4-5.9-12.4-6-12.7-5.9-13.8-6-15.8-5.9-17.4" fill="none" stroke="#808080" stroke-width="1.8" stroke-linejoin="round"/>
<path d="M365.1 543.5l-6-4.1-6-4.3-5.9-4.5-6-4.9-6-5.4-5.9-5.9-6-5.9-6-5.8-5.9-5.7-6-6.1-6-7-5.9-8-6-8.3-6-8.2-5.9-8.5-6-9.5-6-10.4-5.9-11.2-6-11.5-6-12.1-6-13-5.9-13.8-6-14.2-6-14.2-5.9-14.2-6-14.6-6-15.8-5.9-18-6-20.1" fill="none" stroke="#808080" stroke-width="1.8" stroke-linejoin="round"/>
<path d="M387.9 519.2l-6-4.7-6-4.9-6-5.2-6-5.5-6-6.1-6-6.5-6-6.7-6-6.4-6-6.3-6-6.8-6-7.8-6-8.7-6-9.1-6-8.9-6-9.4-6-10.2-6-11.3-6-12-5.9-12.5-6-13-6-13.8-6-14.8-6-15.3-6-15.1-6-15.2-6-15.5-6-16.9-6-19.2-6-21.2" fill="none" stroke="#808080" stroke-width="1.8" stroke-linejoin="round"/>
<path d="M410.6 503l-6-5.1-6-5.3-6-5.5-6.1-6-6-6.4-6-7-6-7-6-6.8-6.1-6.8-6-7.2-6-8.1-6-9.2-6.1-9.4-6-9.4-6-9.8-6-10.6-6-11.7-6.1-12.5-6-12.9-6-13.4-6-14.3-6-15.3-6.1-15.6-6-15.6-6-15.6-6-16-6.1-17.4-6-19.6-6-21.7" fill="none" stroke="#808080" stroke-width="1.8" stroke-linejoin="round"/>
<path d="M251.3 708.3l5.5-14 5.5-13.3 5.4-12.7 5.5-12 5.5-11.6 5.5-11.4 5.4-11.3 5.5-11 5.5-10.7 5.5-10.4 5.4-10.1 5.5-10.1 5.5-10 5.4-10.2 5.5-9.8 5.5-8.8 5.5-7.7 5.4-6.7 5.5-6.5 5.5-6.2 5.4-5.7 5.5-5 5.5-4.3 5.5-3.9 5.4-3.4 5.5-2.9 5.5-2.3 5.4-1.9 5.5-1.6" fill="none" stroke="#808080" stroke-width="1.8" stroke-linejoin="round"/>
<path d="M228.7 692.5l5.4-15.6 5.5-14.6 5.4-13.3 5.5-12.2 5.4-11.4 5.4-11.3 5.5-11.1 5.4-11 5.5-10.7 5.4-10.4 5.5-10.2 5.4-10.3 5.5-10.5 5.4-10.7 5.5-10.4 5.4-9.6 5.5-8.4 5.4-7.6 5.5-7.1 5.4-6.7 5.5-6.2 5.4-5.3 5.4-4.8 5.5-4.2 5.4-3.7 5.5-3.1 5.4-2.4 5.5-1.7 5.4-1.5" fill="none" stroke="#808080" stroke-width="1.8" stroke-linejoin="round"/>
<path d="M206 676.8l5.4-17.4 5.4-15.9 5.5-14.1 5.4-12.6 5.4-11.5 5.4-11.3 5.5-11.3 5.4-11.3 5.4-11 5.4-10.6 5.4-10.5 5.5-10.7 5.4-11 5.4-11.4 5.4-11.2 5.5-10.4 5.4-9.2 5.4-8.3 5.4-7.8 5.4-7.3 5.5-6.6 5.4-5.8 5.4-5.1 5.4-4.6 5.5-4.1 5.4-3.2 5.4-2.4 5.4-1.7 5.4-1.3" fill="none" stroke="#808080" stroke-width="1.8" stroke-linejoin="round"/>
<path d="M183.3 661.1l5.4-19.3 5.4-17.4 5.4-15.4 5.4-13.5 5.4-12.3 5.4-12 5.4-12.3 5.4-12.3 5.4-11.9 5.4-11.5 5.4-11.3 5.4-11.5 5.4-11.9 5.4-12.4 5.4-12.2 5.4-11.3 5.4-10.2 5.4-9.2 5.4-8.5 5.4-8 5.4-7 5.4-6.2 5.4-5.5 5.4-5 5.4-4.4 5.4-3.4 5.4-2.5 5.4-1.6 5.4-1.1" fill="none" stroke="#808080" stroke-width="1.8" stroke-linejoin="round"/>
<path d="M160.7 645.3l5.3-21.2 5.4-19.3 5.4-17.2 5.4-15.1 5.3-13.9 5.4-13.7 5.4-14.1 5.3-14.2 5.4-13.7 5.4-13.2 5.4-12.8 5.3-12.9 5.4-13.3 5.4-13.7 5.4-13.5 5.3-12.6 5.4-11.3 5.4-10.2 5.3-9.3 5.4-8.6 5.4-7.6 5.4-6.6 5.3-5.9 5.4-5.4 5.4-4.7 5.3-3.6 5.4-2.5 5.4-1.5 5.4-0.9" fill="none" stroke="#808080" stroke-width="1.8" stroke-linejoin="round"/>
<path d="M138 629.6l5.3-23.3 5.4-21.6 5.3-19.5 5.4-17.5 5.3-16.2 5.4-16.4 5.3-16.9 5.4-17 5.3-16.4 5.4-15.5 5.3-15 5.4-14.9 5.3-15.2 5.4-15.5 5.3-15 5.4-14 5.3-12.6 5.4-11.3 5.3-10.3 5.4-9.3 5.3-8.1 5.3-7.1 5.4-6.3 5.3-5.8 5.4-5 5.3-3.9 5.4-2.5 5.3-1.4 5.4-0.7" fill="none" stroke="#808080" stroke-width="1.8" stroke-linejoin="round"/>
<path d="M115.3 613.9l5.4-25.4 5.3-24.1 5.3-22.1 5.3-20.2 5.3-19.1 5.4-19.4 5.3-20.2 5.3-20.3 5.3-19.5 5.4-18.3 5.3-17.6 5.3-17.2 5.3-17.3 5.4-17.4 5.3-16.8 5.3-15.5 5.3-14 5.3-12.5 5.4-11.2 5.3-10 5.3-8.7 5.3-7.6 5.4-6.8 5.3-6.2 5.3-5.3 5.3-4 5.3-2.6 5.4-1.3 5.3-0.6" fill="none" stroke="#808080" stroke-width="1.8" stroke-linejoin="round"/>
<path d="M384 522l1.9-2 1.9-2.1 1.9-1.9 1.9-1.9 1.9-1.8 1.9-1.7 1.9-1.7 1.9-1.5 1.9-1.5 1.9-1.4 1.9-1.3 1.9-1.3 1.9-1.1 1.9-1.1 1.9-0.9 1.9-0.8 1.9-0.8 1.9-0.6 1.9-0.5 1.9-0.5 1.9-0.4 1.9-0.4 1.9-0.3 1.9-0.2 1.9-0.3 1.9-0.1 1.9-0.2 1.9-0.1 1.9-0.1 2 0 1.9 0.1 1.9 0.1 1.9 0.3 1.9 0.2 1.9 0.4 1.9 0.4 1.9 0.5 1.9 0.5 1.9 0.6 1.9 0.6 1.9 0.7 1.9 0.7 1.9 0.8 1.9 0.8 1.9 0.9 1.9 0.9 1.9 0.9 1.9 0.9 1.9 0.9 1.9 0.8 1.9 0.9 1.9 0.7 1.9 0.8 1.9 0.7 1.9 0.6 1.9 0.7 1.9 0.6 1.9 0.6 1.9 0.6-0.7 2-0.7 1.9-0.7 2-0.8 2-0.8 2-0.8 1.9-0.9 2-0.9 2-1 1.9-1.1 2-1.1 2-1.1 2-1.2 1.9-1.1 2-1.1 2-1.1 1.9-1.1 2-0.9 2-0.9 2-0.8 1.9-0.8 2-0.7 2-0.7 1.9-0.7 2-0.6 2-0.5 2-0.6 1.9-0.5 2-0.5 2-0.4 1.9-0.4 2-0.4 2-0.4 1.9-0.4 2-0.3 2-0.3 2-0.4 1.9-0.3 2-0.2 2-0.3 1.9-0.2 2-0.3 2-0.2 2-0.1 1.9-0.2 2-0.1 2-0.2 1.9-0.1 2-0.1 2-0.1 2 0 1.9-0.1 2-0.1 2 0 1.9-0.1 2 0 2 0 2-0.1 1.9 0 2 0 0.6-1.2-0.9-1.2-0.8-1.2-0.9-1.2-0.8-1.2-0.9-1.3-0.9-1.2-0.8-1.2-0.9-1.2-0.8-1.2-0.9-1.2-0.9-1.2-0.8-1.2-0.9-1.2-0.9-1.2-0.8-1.2-0.9-1.2-0.8-1.3-0.9-1.2-0.9-1.2-0.8-1.2-0.9-1.2-0.8-1.2-0.9-1.2-0.9-1.2-0.8-1.2-0.9-1.2-0.8-1.2-0.9-1.2-0.9-1.3-0.8-1.2-0.9-1.2-0.9-1.2-0.8-1.2-0.9-1.2-0.8-1.2-0.9-1.2-0.9-1.2-0.8-1.2-0.9-1.2-0.8-1.2-0.9-1.3-0.9-1.2-0.8-1.2-0.9-1.2-0.8-1.2-0.9-1.2-0.9-1.2-0.8-1.2-0.9-1.2-0.9-1.2-0.8-1.2-0.9-1.2-0.8-1.3-0.9-1.2-0.9-1.2-0.8-1.2-0.9-1.2-0.8-1.2-0.9-0.2-0.9-0.2-1-0.2-0.9-0.2-1-0.2-0.9-0.2-1-0.2-0.9-0.2-1-0.2-0.9-0.2-1-0.2-0.9-0.2-0.9-0.2-1-0.2-0.9-0.2-1-0.2-0.9-0.2-1-0.1-0.9-0.2-1-0.2-0.9-0.2-1-0.2-0.9-0.2-1-0.2-0.9-0.1-0.9-0.2-1-0.2-0.9-0.2-1-0.2-0.9-0.2-1-0.1-0.9-0.2-1-0.2-0.9-0.2-1-0.1-0.9-0.2-0.9-0.2-1-0.2-0.9-0.1-1-0.2-0.9-0.2-1-0.2-0.9-0.1-1-0.2-0.9-0.2-1-0.1-0.9-0.2-1-0.2-0.9-0.1-0.9-0.2-1-0.2-0.9-0.1-1-0.2-0.9-0.2-1-0.1-0.9-0.2-1-0.2-0.9-0.1-1-0.2-0.9z" fill="#000080" />
<path d="M461 497.6l0.1 3.3 0.1 3.3 0.1 3.3 0.1 3.3 0.1 3.3 0.1 3.3 0 3.3 0.1 3.2 0.1 3.3 0.1 3.3 0.1 3.3 0.1 3.3 0.1 3.3 0.1 3.3 0.1 3.3 0.2 3.3 0.1 3.3 0.2 3.3 0.1 3.3 0.2 3.3 0.1 3.2 0.2 3.3 0.2 3.3 0.1 3.3 0.2 3.3 0.2 3.3 0.1 3.3 0.2 3.3 0.1 3.3 0.2 3.3 0.1 3.3 0.1 3.3 0.1 3.2 0.2 3.3 0.1 3.3 0.1 3.3 0.1 3.3 0.1 3.3 0.1 3.3 0.2 2 0-3.1 0.1-3.2 0.1-3.1 0-3.1 0.2-3.1 0.1-3.2 0.1-3.1 0.2-3.1 0.2-3.1 0.3-3.1 0.3-3.1 0.4-3.1 0.4-3.1 0.5-3.1 0.5-3.1 0.5-3.1 0.6-3.1 0.6-3 0.7-3.1 0.8-3 0.8-3 0.8-3 1-3 1-3 1.2-2.9 1.2-2.9 1.3-2.8 1.5-2.7 1.5-2.8 1.6-2.7 1.6-2.7 1.5-2.7 1.5-2.8 1.3-2.8 1.3-2.8 1.2-2.9 1.2-2.9 1-3 1.1-2.9z" fill="#000082" />
<path d="M463.5 498.6l0 3.3 0 3.2 0.1 3.3 0 3.3-0.1 3.2 0 3.3 0 3.2 0 3.3-0.1 3.3 0 3.2 0 3.3 0 3.2 0 3.3 0 3.2 0 3.3 0.1 3.3 0 3.2 0.1 3.3 0.1 3.3 0.1 3.3 0.1 3.2 0.1 3.3 0.1 3.3 0.1 3.3 0.2 3.2 0.1 3.3 0.1 3.3 0.1 3.3 0.1 3.2 0.1 3.3 0.1 3.3 0.1 3.3 0.1 3.3 0.1 3.2 0.1 3.3 0.1 3.3 0.1 3.3 0.1 3.3 0.1 3.2 0.2 1.9 0-3.1 0.1-3.2 0.1-3.1 0-3.1 0.2-3.1 0.1-3.2 0.1-3.1 0.2-3.1 0.2-3.1 0.3-3.1 0.3-3.1 0.4-3.1 0.4-3.1 0.5-3.1 0.5-3.1 0.5-3.1 0.6-3.1 0.6-3 0.7-3.1 0.8-3 0.8-3 0.8-3 1-3 1-3 1.2-2.9 1.2-2.9 1.3-2.8 1.5-2.7 1.5-2.8 1.6-2.7 1.6-2.7 1.5-2.7 1.5-2.8 1.3-2.8 1.3-2.8 1.2-2.9 1.2-2.9 1-3 1.1-2.9z" fill="#00008d" />
<path d="M466 499.6l0 3.3-0.1 3.2-0.1 3.2-0.1 3.3-0.1 3.2-0.1 3.2-0.2 3.2-0.1 3.3-0.2 3.2-0.1 3.2-0.2 3.2-0.1 3.2-0.1 3.2 0 3.3-0.1 3.2 0 3.2 0 3.3 0 3.2 0 3.3 0 3.3 0.1 3.2 0 3.3 0.1 3.2 0 3.3 0.1 3.2 0.1 3.3 0.1 3.3 0 3.2 0.1 3.3 0.1 3.3 0.1 3.2 0.1 3.3 0 3.3 0.1 3.2 0.1 3.3 0.1 3.3 0.1 3.2 0 3.3 0.1 3.3 0.2 1.7 0-3.1 0.1-3.2 0.1-3.1 0-3.1 0.2-3.1 0.1-3.2 0.1-3.1 0.2-3.1 0.2-3.1 0.3-3.1 0.3-3.1 0.4-3.1 0.4-3.1 0.5-3.1 0.5-3.1 0.5-3.1 0.6-3.1 0.6-3 0.7-3.1 0.8-3 0.8-3 0.8-3 1-3 1-3 1.2-2.9 1.2-2.9 1.3-2.8 1.5-2.7 1.5-2.8 1.6-2.7 1.6-2.7 1.5-2.7 1.5-2.8 1.3-2.8 1.3-2.8 1.2-2.9 1.2-2.9 1-3 1.1-2.9z" fill="#00009d" />
<path d="M468.5 500.6l-0.1 3.2-0.2 3.3-0.1 3.2-0.2 3.2-0.2 3.2-0.3 3.2-0.2 3.1-0.3 3.2-0.2 3.2-0.3 3.1-0.3 3.2-0.2 3.2-0.2 3.2-0.2 3.2-0.1 3.2-0.1 3.2-0.1 3.2-0.1 3.3 0 3.2-0.1 3.2 0 3.3 0 3.2 0 3.3 0 3.2 0.1 3.3 0 3.2 0 3.3 0.1 3.2 0 3.3 0.1 3.2 0 3.3 0.1 3.2 0 3.3 0.1 3.2 0.1 3.3 0 3.3 0.1 3.2 0.1 3.3 0 3.2 0.2 1.6 0-3.1 0.1-3.2 0.1-3.1 0-3.1 0.2-3.1 0.1-3.2 0.1-3.1 0.2-3.1 0.2-3.1 0.3-3.1 0.3-3.1 0.4-3.1 0.4-3.1 0.5-3.1 0.5-3.1 0.5-3.1 0.6-3.1 0.6-3 0.7-3.1 0.8-3 0.8-3 0.8-3 1-3 1-3 1.2-2.9 1.2-2.9 1.3-2.8 1.5-2.7 1.5-2.8 1.6-2.7 1.6-2.7 1.5-2.7 1.5-2.8 1.3-2.8 1.3-2.8 1.2-2.9 1.2-2.9 1-3 1.1-2.9z" fill="#0000b3" />
<path d="M471.1 501.6l-0.3 3.2-0.2 3.2-0.3 3.2-0.2 3.2-0.4 3.1-0.3 3.2-0.3 3.1-0.4 3.2-0.4 3.1-0.4 3.1-0.4 3.1-0.3 3.2-0.3 3.2-0.3 3.1-0.2 3.2-0.2 3.2-0.2 3.2-0.1 3.2-0.2 3.2-0.1 3.2 0 3.3-0.1 3.2 0 3.2-0.1 3.3 0 3.2 0 3.2 0 3.3 0 3.2 0 3.2 0 3.3 0 3.2 0.1 3.3 0 3.2 0.1 3.2 0 3.3 0.1 3.2 0 3.3 0.1 3.2 0.1 3.3 0.1 1.4 0-3.1 0.1-3.2 0.1-3.1 0-3.1 0.2-3.1 0.1-3.2 0.1-3.1 0.2-3.1 0.2-3.1 0.3-3.1 0.3-3.1 0.4-3.1 0.4-3.1 0.5-3.1 0.5-3.1 0.5-3.1 0.6-3.1 0.6-3 0.7-3.1 0.8-3 0.8-3 0.8-3 1-3 1-3 1.2-2.9 1.2-2.9 1.3-2.8 1.5-2.7 1.5-2.8 1.6-2.7 1.6-2.7 1.5-2.7 1.5-2.8 1.3-2.8 1.3-2.8 1.2-2.9 1.2-2.9 1-3 1.1-2.9z" fill="#0000cc" />
<path d="M473.6 502.6l-0.3 3.2-0.4 3.2-0.3 3.1-0.4 3.2-0.4 3.1-0.4 3.1-0.5 3.1-0.5 3.1-0.5 3.1-0.5 3.1-0.5 3.1-0.4 3.1-0.5 3.1-0.3 3.2-0.3 3.1-0.3 3.2-0.3 3.2-0.2 3.1-0.2 3.2-0.1 3.2-0.2 3.2-0.1 3.3-0.1 3.2-0.1 3.2 0 3.2-0.1 3.2-0.1 3.2 0 3.3 0 3.2 0 3.2 0 3.3 0 3.2 0 3.2 0.1 3.2 0 3.3 0 3.2 0.1 3.2 0 3.3 0.1 3.2 0.1 1.3 0-3.1 0.1-3.2 0.1-3.1 0-3.1 0.2-3.1 0.1-3.2 0.1-3.1 0.2-3.1 0.2-3.1 0.3-3.1 0.3-3.1 0.4-3.1 0.4-3.1 0.5-3.1 0.5-3.1 0.5-3.1 0.6-3.1 0.6-3 0.7-3.1 0.8-3 0.8-3 0.8-3 1-3 1-3 1.2-2.9 1.2-2.9 1.3-2.8 1.5-2.7 1.5-2.8 1.6-2.7 1.6-2.7 1.5-2.7 1.5-2.8 1.3-2.8 1.3-2.8 1.2-2.9 1.2-2.9 1-3 1.1-2.9z" fill="#0000e9" />
<path d="M476.1 503.6l-0.4 3.2-0.4 3.1-0.4 3.2-0.5 3.1-0.5 3.1-0.6 3.1-0.5 3-0.7 3.1-0.6 3-0.6 3.1-0.6 3-0.6 3.1-0.5 3.1-0.4 3.1-0.5 3.1-0.3 3.2-0.3 3.1-0.3 3.2-0.3 3.2-0.2 3.1-0.2 3.2-0.2 3.2-0.1 3.2-0.2 3.2-0.1 3.2-0.1 3.2-0.1 3.2-0.1 3.2 0 3.3-0.1 3.2 0 3.2 0 3.2 0 3.2 0 3.3 0 3.2 0.1 3.2 0 3.2 0 3.2 0.1 3.3 0.1 1.1 0-3.1 0.1-3.2 0.1-3.1 0-3.1 0.2-3.1 0.1-3.2 0.1-3.1 0.2-3.1 0.2-3.1 0.3-3.1 0.3-3.1 0.4-3.1 0.4-3.1 0.5-3.1 0.5-3.1 0.5-3.1 0.6-3.1 0.6-3 0.7-3.1 0.8-3 0.8-3 0.8-3 1-3 1-3 1.2-2.9 1.2-2.9 1.3-2.8 1.5-2.7 1.5-2.8 1.6-2.7 1.6-2.7 1.5-2.7 1.5-2.8 1.3-2.8 1.3-2.8 1.2-2.9 1.2-2.9 1-3 1.1-2.9z" fill="#000aff" />
<path d="M478.6 504.6l-0.5 3.2-0.5 3.1-0.5 3.1-0.5 3.1-0.6 3-0.7 3.1-0.7 3-0.7 3-0.8 3-0.7 3-0.7 3-0.7 3.1-0.6 3-0.6 3.1-0.5 3.1-0.4 3.1-0.4 3.2-0.4 3.1-0.3 3.2-0.3 3.1-0.3 3.2-0.2 3.2-0.2 3.2-0.2 3.1-0.2 3.2-0.1 3.2-0.1 3.2-0.1 3.2-0.1 3.2-0.1 3.2 0 3.2-0.1 3.2 0 3.2 0 3.3 0 3.2 0 3.2 0 3.2 0.1 3.2 0 3.2 0.1 1 0-3.1 0.1-3.2 0.1-3.1 0-3.1 0.2-3.1 0.1-3.2 0.1-3.1 0.2-3.1 0.2-3.1 0.3-3.1 0.3-3.1 0.4-3.1 0.4-3.1 0.5-3.1 0.5-3.1 0.5-3.1 0.6-3.1 0.6-3 0.7-3.1 0.8-3 0.8-3 0.8-3 1-3 1-3 1.2-2.9 1.2-2.9 1.3-2.8 1.5-2.7 1.5-2.8 1.6-2.7 1.6-2.7 1.5-2.7 1.5-2.8 1.3-2.8 1.3-2.8 1.2-2.9 1.2-2.9 1-3 1.1-2.9z" fill="#002dff" />
<path d="M481.1 505.7l-0.5 3.1-0.6 3-0.6 3.1-0.7 3.1-0.7 3-0.7 3-0.8 3-0.9 3-0.8 2.9-0.9 3-0.8 3-0.8 3-0.7 3-0.7 3-0.6 3.1-0.5 3.1-0.5 3.1-0.4 3.1-0.4 3.2-0.4 3.1-0.3 3.2-0.3 3.1-0.2 3.2-0.3 3.2-0.2 3.2-0.2 3.1-0.2 3.2-0.1 3.2-0.1 3.2-0.1 3.2-0.1 3.2-0.1 3.2 0 3.2 0 3.2 0 3.2 0 3.1 0 3.2 0 3.2 0 3.2 0.1 0.9 0-3.1 0.1-3.2 0.1-3.1 0-3.1 0.2-3.1 0.1-3.2 0.1-3.1 0.2-3.1 0.2-3.1 0.3-3.1 0.3-3.1 0.4-3.1 0.4-3.1 0.5-3.1 0.5-3.1 0.5-3.1 0.6-3.1 0.6-3 0.7-3.1 0.8-3 0.8-3 0.8-3 1-3 1-3 1.2-2.9 1.2-2.9 1.3-2.8 1.5-2.7 1.5-2.8 1.6-2.7 1.6-2.7 1.5-2.7 1.5-2.8 1.3-2.8 1.3-2.8 1.2-2.9 1.2-2.9 1-3 1.1-2.9z" fill="#0054ff" />
<path d="M483.6 506.7l-0.6 3-0.7 3.1-0.7 3-0.7 3.1-0.8 3-0.9 3-0.9 2.9-0.9 2.9-1 3-1 2.9-0.9 2.9-0.9 3-0.9 2.9-0.7 3.1-0.7 3-0.6 3.1-0.6 3.1-0.5 3.1-0.5 3.1-0.4 3.1-0.3 3.2-0.4 3.1-0.3 3.2-0.3 3.1-0.3 3.2-0.2 3.1-0.2 3.2-0.2 3.2-0.1 3.2-0.2 3.1-0.1 3.2 0 3.2-0.1 3.2 0 3.2-0.1 3.1 0 3.2 0 3.2 0 3.2 0 3.2 0.1 0.7 0-3.1 0.1-3.2 0.1-3.1 0-3.1 0.2-3.1 0.1-3.2 0.1-3.1 0.2-3.1 0.2-3.1 0.3-3.1 0.3-3.1 0.4-3.1 0.4-3.1 0.5-3.1 0.5-3.1 0.5-3.1 0.6-3.1 0.6-3 0.7-3.1 0.8-3 0.8-3 0.8-3 1-3 1-3 1.2-2.9 1.2-2.9 1.3-2.8 1.5-2.7 1.5-2.8 1.6-2.7 1.6-2.7 1.5-2.7 1.5-2.8 1.3-2.8 1.3-2.8 1.2-2.9 1.2-2.9 1-3 1.1-2.9z" fill="#007dff" />
<path d="M486.1 507.7l-0.7 3-0.7 3.1-0.8 3-0.8 3-0.9 3-1 2.9-1 2.9-1.1 2.9-1.1 2.9-1.1 2.8-1.1 2.9-1 2.9-0.9 3-0.8 3-0.8 3-0.7 3.1-0.7 3-0.5 3.1-0.6 3.1-0.5 3.1-0.4 3.1-0.4 3.2-0.4 3.1-0.3 3.1-0.3 3.2-0.3 3.1-0.2 3.2-0.3 3.2-0.2 3.1-0.1 3.2-0.1 3.1-0.1 3.2-0.1 3.2-0.1 3.2 0 3.1 0 3.2-0.1 3.2 0 3.2 0 3.1 0.1 0.6 0-3.1 0.1-3.2 0.1-3.1 0-3.1 0.2-3.1 0.1-3.2 0.1-3.1 0.2-3.1 0.2-3.1 0.3-3.1 0.3-3.1 0.4-3.1 0.4-3.1 0.5-3.1 0.5-3.1 0.5-3.1 0.6-3.1 0.6-3 0.7-3.1 0.8-3 0.8-3 0.8-3 1-3 1-3 1.2-2.9 1.2-2.9 1.3-2.8 1.5-2.7 1.5-2.8 1.6-2.7 1.6-2.7 1.5-2.7 1.5-2.8 1.3-2.8 1.3-2.8 1.2-2.9 1.2-2.9 1-3 1.1-2.9z" fill="#00a9ff" />
<path d="M488.7 508.7l-0.8 3-0.9 3-0.8 3-1 3-1 2.9-1 2.9-1.2 2.9-1.2 2.8-1.2 2.9-1.2 2.8-1.2 2.9-1.1 2.8-1 3-1 2.9-0.8 3-0.8 3-0.7 3.1-0.7 3.1-0.6 3-0.5 3.1-0.5 3.1-0.5 3.1-0.4 3.2-0.4 3.1-0.4 3.1-0.3 3.1-0.3 3.2-0.2 3.1-0.3 3.2-0.1 3.1-0.2 3.2-0.1 3.1-0.1 3.2-0.1 3.2 0 3.1-0.1 3.2 0 3.1 0 3.2 0 3.2 0 0.4 0-3.1 0.1-3.2 0.1-3.1 0-3.1 0.2-3.1 0.1-3.2 0.1-3.1 0.2-3.1 0.2-3.1 0.3-3.1 0.3-3.1 0.4-3.1 0.4-3.1 0.5-3.1 0.5-3.1 0.5-3.1 0.6-3.1 0.6-3 0.7-3.1 0.8-3 0.8-3 0.8-3 1-3 1-3 1.2-2.9 1.2-2.9 1.3-2.8 1.5-2.7 1.5-2.8 1.6-2.7 1.6-2.7 1.5-2.7 1.5-2.8 1.3-2.8 1.3-2.8 1.2-2.9 1.2-2.9 1-3 1.1-2.9z" fill="#00d7ff" />
<path d="M491.2 509.7l-0.9 3-0.9 3-1 2.9-1 3-1.1 2.9-1.2 2.9-1.2 2.8-1.3 2.8-1.4 2.8-1.3 2.8-1.3 2.8-1.2 2.8-1.1 2.9-1.1 3-0.9 2.9-0.9 3-0.8 3-0.7 3.1-0.7 3-0.6 3.1-0.6 3.1-0.5 3.1-0.5 3.1-0.4 3.1-0.4 3.1-0.4 3.1-0.3 3.2-0.3 3.1-0.3 3.1-0.2 3.2-0.1 3.1-0.2 3.2-0.1 3.1-0.1 3.2-0.1 3.1 0 3.2-0.1 3.1 0 3.2 0 3.1 0 0.3 0-3.1 0.1-3.2 0.1-3.1 0-3.1 0.2-3.1 0.1-3.2 0.1-3.1 0.2-3.1 0.2-3.1 0.3-3.1 0.3-3.1 0.4-3.1 0.4-3.1 0.5-3.1 0.5-3.1 0.5-3.1 0.6-3.1 0.6-3 0.7-3.1 0.8-3 0.8-3 0.8-3 1-3 1-3 1.2-2.9 1.2-2.9 1.3-2.8 1.5-2.7 1.5-2.8 1.6-2.7 1.6-2.7 1.5-2.7 1.5-2.8 1.3-2.8 1.3-2.8 1.2-2.9 1.2-2.9 1-3 1.1-2.9z" fill="#09fff6" />
<path d="M493.7 510.7l-1 3-1 2.9-1 3-1.1 2.9-1.2 2.9-1.3 2.8-1.4 2.8-1.4 2.8-1.4 2.7-1.5 2.8-1.4 2.7-1.3 2.8-1.3 2.9-1.1 2.9-1.1 2.9-0.9 3-0.9 3-0.8 3-0.7 3.1-0.7 3-0.6 3.1-0.6 3.1-0.5 3.1-0.5 3-0.5 3.1-0.4 3.2-0.4 3.1-0.3 3.1-0.3 3.1-0.2 3.1-0.2 3.2-0.2 3.1-0.1 3.1-0.1 3.2-0.1 3.1-0.1 3.1 0 3.2-0.1 3.1 0 3.2 0 0.1 0-3.1 0.1-3.2 0.1-3.1 0-3.1 0.2-3.1 0.1-3.2 0.1-3.1 0.2-3.1 0.2-3.1 0.3-3.1 0.3-3.1 0.4-3.1 0.4-3.1 0.5-3.1 0.5-3.1 0.5-3.1 0.6-3.1 0.6-3 0.7-3.1 0.8-3 0.8-3 0.8-3 1-3 1-3 1.2-2.9 1.2-2.9 1.3-2.8 1.5-2.7 1.5-2.8 1.6-2.7 1.6-2.7 1.5-2.7 1.5-2.8 1.3-2.8 1.3-2.8 1.2-2.9 1.2-2.9 1-3 1.1-2.9z" fill="#3cffc3" />
<path d="M404.9 503.2l-0.1 3.6-0.1 3.5-0.2 3.6-0.2 3.5-0.2 3.5-0.2 3.5-0.2 3.5-0.2 3.5 0 3.5 0 3.5 0 3.5 0.1 3.4 0.1 3.5 0.2 3.4 0.2 3.4 0.1 3.5 0.3 3.4 0.2 3.4 0.3 3.4 0.3 3.4 0.3 3.4 0.3 3.4 0.4 3.3 0.3 3.4" fill="none" stroke="#808080" stroke-width="1.8" stroke-linejoin="round"/>
<path d="M420.7 495.9l0.3 4 0.3 4 0.2 4 0 4.1-0.1 4.1-0.1 4.2-0.1 4.2-0.1 4.2 0.1 4.3 0.2 4.3 0.3 4.4 0.3 4.4 0.3 4.4 0.4 4.5 0.4 4.5 0.4 4.5 0.5 4.6 0.5 4.6 0.6 4.6 0.6 4.7 0.6 4.7 0.6 4.7 0.7 4.7 0.6 4.8" fill="none" stroke="#808080" stroke-width="1.8" stroke-linejoin="round"/>
<path d="M438.6 493.6l0.6 4.5 0.5 4.6 0.3 4.7 0.1 4.7-0.1 4.9-0.3 4.8-0.1 5-0.1 5 0.1 5 0.2 5.1 0.3 5.2 0.4 5.2 0.5 5.2 0.5 5.2 0.5 5.2 0.6 5.3 0.6 5.3 0.7 5.3 0.8 5.4 0.8 5.3 0.8 5.4 0.8 5.3 0.9 5.4 0.9 5.4" fill="none" stroke="#808080" stroke-width="1.8" stroke-linejoin="round"/>
<path d="M458.5 496.7l0.9 3.5 0.9 3.5 0.8 3.6 0.6 3.6 0.6 3.6 0.4 3.6 0.3 3.7 0.1 3.7 0.1 3.7 0 3.7 0.1 3.7 0.1 3.7 0.2 3.7 0.3 3.7 0.4 3.6 0.3 3.6 0.5 3.7 0.5 3.6 0.5 3.6 0.5 3.6 0.6 3.6 0.6 3.6 0.6 3.6 0.6 3.6" fill="none" stroke="#808080" stroke-width="1.8" stroke-linejoin="round"/>
<path d="M384 524l2.8-0.8 2.9-0.8 2.9-0.6 2.9-0.4 2.9-0.1 3 0.2 2.9 0.4 2.8 0.7 2.9 0.9 2.8 0.9 2.8 0.8 2.9 0.7 2.9 0.6 2.9 0.4 2.9 0.4 3 0.2 3 0.1 2.9 0 3-0.2 2.9-0.4 2.9-0.6 2.8-0.7 2.8-1 2.8-0.9 2.8-1.1 2.8-1 2.7-1.1 2.8-1 2.8-1.1 2.8-1 2.8-0.9 2.8-0.9 2.9-0.7 2.9-0.7 2.9-0.6 2.9-0.5 2.9-0.4 3-0.4 2.9-0.4" fill="none" stroke="#808080" stroke-width="1.8" stroke-linejoin="round"/>
<path d="M491.3 527l-0.8 1.5-0.8 1.5-0.8 1.6-0.8 1.5-0.7 1.5-0.8 1.6-0.7 1.5-0.8 1.6-0.7 1.6-0.7 1.5-0.6 1.6-0.7 1.6-0.6 1.6-0.6 1.6-0.6 1.7-0.5 1.6-0.6 1.6-0.5 1.7-0.5 1.6" fill="none" stroke="#ff5a00" stroke-width="1.5" />
<path d="M384 522l0.2 0.9 0.1 1 0.2 0.9 0.2 1 0.1 0.9 0.2 1 0.2 0.9 0.1 1 0.2 0.9 0.2 1 0.1 0.9 0.2 0.9 0.2 1 0.1 0.9 0.2 1 0.2 0.9 0.1 1 0.2 0.9 0.2 1 0.2 0.9 0.1 1 0.2 0.9 0.2 1 0.2 0.9 0.1 0.9 0.2 1 0.2 0.9 0.2 1 0.1 0.9 0.2 1 0.2 0.9 0.2 1 0.2 0.9 0.2 1 0.1 0.9 0.2 0.9 0.2 1 0.2 0.9 0.2 1 0.2 0.9 0.2 1 0.1 0.9 0.2 1 0.2 0.9 0.2 1 0.2 0.9 0.2 1 0.2 0.9 0.2 0.9 0.2 1 0.2 0.9 0.2 1 0.2 0.9 0.2 1 0.2 0.9 0.2 1 0.2 0.9 0.2 1 0.2 0.9 1.2 0.9 1.2 0.8 1.2 0.9 1.2 0.8 1.2 0.9 1.3 0.9 1.2 0.8 1.2 0.9 1.2 0.8 1.2 0.9 1.2 0.9 1.2 0.8 1.2 0.9 1.2 0.9 1.2 0.8 1.2 0.9 1.2 0.8 1.3 0.9 1.2 0.9 1.2 0.8 1.2 0.9 1.2 0.8 1.2 0.9 1.2 0.9 1.2 0.8 1.2 0.9 1.2 0.8 1.2 0.9 1.2 0.9 1.3 0.8 1.2 0.9 1.2 0.9 1.2 0.8 1.2 0.9 1.2 0.8 1.2 0.9 1.2 0.9 1.2 0.8 1.2 0.9 1.2 0.8 1.2 0.9 1.3 0.9 1.2 0.8 1.2 0.9 1.2 0.8 1.2 0.9 1.2 0.9 1.2 0.8 1.2 0.9 1.2 0.9 1.2 0.8 1.2 0.9 1.2 0.8 1.3 0.9 1.2 0.9 1.2 0.8 1.2 0.9 1.2 0.8 1.2 0.9 0-0.6 0-2 0.1-1.9 0-2 0-2 0.1-2 0-1.9 0.1-2 0.1-2 0-1.9 0.1-2 0.1-2 0.1-2 0.2-1.9 0.1-2 0.2-2 0.1-1.9 0.2-2 0.3-2 0.2-2 0.3-1.9 0.2-2 0.3-2 0.4-1.9 0.3-2 0.3-2 0.4-2 0.4-1.9 0.4-2 0.4-2 0.4-1.9 0.5-2 0.5-2 0.6-1.9 0.5-2 0.6-2 0.7-2 0.7-1.9 0.7-2 0.8-2 0.8-1.9 0.9-2 0.9-2 1.1-2 1.1-1.9 1.1-2 1.1-2 1.2-1.9 1.1-2 1.1-2 1.1-2 1-1.9 0.9-2 0.9-2 0.8-1.9 0.8-2 0.8-2 0.7-2 0.7-1.9 0.7-2" fill="none" stroke="#000" stroke-width="2.2" stroke-linejoin="miter"/>
<path d="M420.2 487.8l-5.8-5.2-5.7-5.4-5.7-5.8-5.8-6.3-5.7-6.7-5.8-6.7-5.7-6.5-5.8-6.5-5.7-6.8-5.7-7.8-5.8-8.7-5.7-9-5.8-8.9-5.7-9.2-5.7-9.9-5.8-10.8-5.7-11.7-5.8-12.1-5.7-12.5-5.7-13.2-5.8-14-5.7-14.8-5.8-14.9-5.7-14.9-5.7-14.9-5.8-15.3-5.7-16.8-5.8-18.8-5.7-20.7" fill="none" stroke="#808080" stroke-width="1.8" stroke-linejoin="round"/>
<path d="M258 172.6l1.2 4.6 1.1 4.5 1.2 4.6 1.3 4.5 1.2 4.5 1.3 4.6 1.4 4.5 1.4 4.5 1.4 4.4 1.6 4.5 1.5 4.4 1.6 4.4 1.7 4.4 1.7 4.4 1.7 4.4 1.7 4.4 1.7 4.4 1.7 4.4 1.7 4.4 1.7 4.3 1.7 4.4 1.7 4.4 1.7 4.4 1.7 4.4 1.7 4.4 1.7 4.4 1.7 4.4 1.6 4.4 1.7 4.4 1.7 4.4 1.8 4.3 1.8 4.4 1.8 4.3 1.9 4.3 1.9 4.3 1.9 4.3 2 4.3 2 4.2 2 4.3 2 4.2 2 4.3 2.1 4.2 2 4.3 2.1 4.2 2.1 4.2 2.2 4.1 2.3 4.2 2.3 4 2.4 4.1 2.5 4 2.6 3.9 2.5 4 2.6 3.9 2.6 4 2.5 3.9 2.5 4 2.5 4 2.6 3.9 2.7 3.8 2.8 3.8 3 3.6 3.1 3.6 3.1 3.5 3.1 3.5 3.2 3.5 3.1 3.5 3.1 3.6 3 3.6 3.1 3.5 3.1 3.5 3.2 3.5 3.2 3.4 3.3 3.3 3.4 3.3 3.5 3.2 3.5 3.1 3.5 3.1 3.6 3.1 3.6 3" fill="none" stroke="#000" stroke-width="4.2" stroke-linecap="round"/>
<path d="M274 724l1.2-2.7 1.2-2.7 1.2-2.8 1.3-2.7 1.2-2.7 1.2-2.7 1.2-2.8 1.2-2.7 1.2-2.7 1.3-2.7 1.2-2.8 1.2-2.7 1.2-2.7 1.2-2.7 1.3-2.7 1.2-2.8 1.2-2.7 1.2-2.7 1.2-2.7 1.3-2.7 1.2-2.8 1.2-2.7 1.2-2.7 1.3-2.7 1.2-2.7 1.2-2.7 1.3-2.8 1.2-2.7 1.2-2.7 1.3-2.7 1.3-2.7 1.2-2.7 1.3-2.7 1.3-2.7 1.3-2.7 1.3-2.6 1.3-2.7 1.3-2.7 1.4-2.7 1.3-2.6 1.3-2.7 1.4-2.6 1.4-2.7 1.3-2.6 1.4-2.7 1.4-2.6 1.4-2.6 1.4-2.7 1.4-2.6 1.4-2.6 1.5-2.6 1.4-2.7 1.4-2.6 1.5-2.6 1.4-2.6 1.5-2.6 1.5-2.6 1.4-2.6 1.5-2.6 1.4-2.6 1.5-2.6 1.5-2.5 1.5-2.6 1.6-2.5 1.6-2.5 1.8-2.4 1.7-2.4 1.9-2.3 1.9-2.3 2-2.2 2-2.2 2.1-2.2 2-2.1 2.1-2.2 2-2.2 2.1-2.1 2-2.2 2.1-2.1 2.2-2.1 2.2-2 2.2-1.9 2.3-1.9 2.4-1.8 2.4-1.7 2.5-1.6 2.5-1.6 2.6-1.6 2.6-1.4 2.6-1.5 2.6-1.3 2.7-1.3 2.7-1.2 2.8-1.1 2.8-1 2.8-0.9 2.8-0.7 2.9-0.5 3-0.3 2.9-0.2 2.9 0.1 3 0.2 2.9 0.4 2.9 0.6 2.9 0.6 2.9 0.8 2.8 0.9 2.8 1 2.8 1.1 2.7 1.1 2.8 1.2 2.7 1.2 2.7 1.3 2.7 1.1 2.8 1.2 2.7 1.1 2.8 1 2.8 1 2.9 1 2.8 0.9" fill="none" stroke="#000" stroke-width="3.5" stroke-linecap="round"/>
<path d="M496.2 511.7l1.9 1.3 2 1.3 1.9 1.2 1.9 1.3 2 1.2 2 1.1 2 1.2 2.1 1 2 1.1 2.1 1 2.1 0.9 2.2 1 2.1 0.9 2.1 0.8 2.2 0.9 2.1 0.8 2.2 0.8 2.2 0.8 2.2 0.8 2.2 0.7 2.2 0.6 2.2 0.6 2.3 0.5 2.2 0.4 2.3 0.2 2.3 0.1 2.3 0 2.3 0 2.3-0.2 2.3-0.3 2.3-0.3 2.2-0.5 2.3-0.5 2.2-0.6 2.2-0.6 2.2-0.8 2.1-0.9 2.1-0.9 2.1-1 2-1.1 2-1.1 2-1.2 1.9-1.3 1.9-1.3 1.9-1.4 1.8-1.4 1.8-1.5 1.7-1.5 1.7-1.6 1.7-1.6 1.7-1.6 1.6-1.6 1.6-1.7 1.6-1.6 1.7-1.7 1.6-1.6 1.6-1.7 1.5-1.7 1.6-1.7 1.6-1.7 1.6-1.7 1.5-1.7 1.6-1.7 1.6-1.7 1.5-1.7 1.5-1.8 1.6-1.7 1.5-1.7 1.6-1.7 1.5-1.8 1.6-1.7 1.5-1.7 1.6-1.7 1.5-1.8 1.5-1.7 1.6-1.7 1.5-1.7 1.6-1.8 1.5-1.7 1.6-1.7 1.5-1.7 1.6-1.8 1.5-1.7 1.6-1.7 1.6-1.7 1.5-1.7 1.6-1.7 1.6-1.6 1.6-1.7 1.6-1.7 1.6-1.6 1.6-1.7 1.7-1.7 1.6-1.6 1.7-1.6 1.6-1.6 1.7-1.5 1.8-1.6 1.8-1.5 1.8-1.4 1.8-1.4 1.9-1.3 1.9-1.2 2-1.2 2-1.2 2.1-1.1 2-1 2.1-1 2.1-1 2.1-0.9 2.2-0.8 2.2-0.8 2.1-0.8 2.2-0.8 2.2-0.7 2.2-0.7 2.2-0.6 2.3-0.7 2.2-0.6" fill="none" stroke="#000" stroke-width="3.5" stroke-linecap="round"/>
<path d="M502 514.8l1.9 0.4 1.9 0.3 1.8 0.4 1.9 0.3 1.9 0.4 1.9 0.4 1.8 0.3 1.9 0.4 1.9 0.4 1.9 0.4 1.8 0.4 1.9 0.4 1.9 0.4 1.8 0.5 1.9 0.4 1.8 0.6 1.8 0.5 1.8 0.6 1.8 0.7 1.8 0.7 1.7 0.8 1.8 0.8 1.6 0.9 1.7 1 1.6 1 1.6 1.1 1.5 1.1 1.5 1.2 1.5 1.2-0.2 1.5-1.8 0-1.7 0-1.7-0.2-1.7-0.2-1.7-0.2-1.7-0.4-1.7-0.4-1.6-0.4-1.7-0.5-1.6-0.6-1.7-0.5-1.6-0.6-1.6-0.6-1.6-0.6-1.7-0.6-1.6-0.6-1.6-0.7-1.6-0.6-1.6-0.7-1.6-0.6-1.6-0.7-1.6-0.7-1.5-0.8-1.6-0.7-1.6-0.8-1.5-0.8-1.5-0.8-1.5-0.9-1.5-0.8-1.5-0.9-1.5-0.9z" fill="#57ffa8" />
<path d="M496.2 511.7l1.9 1.3 2 1.3 1.9 1.2 1.9 1.3 2 1.2 2 1.1 2 1.2 2.1 1 2 1.1 2.1 1 2.1 0.9 2.2 1 2.1 0.9 2.1 0.8 2.2 0.9 2.1 0.8 2.2 0.8 2.2 0.8 2.2 0.8 2.2 0.7 2.2 0.6 2.2 0.6 2.3 0.5 2.2 0.4 2.3 0.2 2.3 0.1 2.3 0 2.3 0 2.3-0.2 2.3-0.3 2.3-0.3 2.2-0.5 2.3-0.5 2.2-0.6 2.2-0.6 2.2-0.8 2.1-0.9 2.1-0.9 2.1-1 2-1.1 2-1.1 2-1.2 1.9-1.3 1.9-1.3 1.9-1.4 1.8-1.4 1.8-1.5 1.7-1.5 1.7-1.6 1.7-1.6 1.7-1.6 1.6-1.6 1.6-1.7 1.6-1.6 1.7-1.7 1.6-1.6 1.6-1.7 1.5-1.7 1.6-1.7 1.6-1.7 1.6-1.7 1.5-1.7 1.6-1.7 1.6-1.7 1.5-1.7 1.5-1.8 1.6-1.7 1.5-1.7 1.6-1.7 1.5-1.8 1.6-1.7 1.5-1.7 1.6-1.7 1.5-1.8 1.5-1.7 1.6-1.7 1.5-1.7 1.6-1.8 1.5-1.7 1.6-1.7 1.5-1.7 1.6-1.8 1.5-1.7 1.6-1.7 1.6-1.7 1.5-1.7 1.6-1.7 1.6-1.6 1.6-1.7 1.6-1.7 1.6-1.6 1.6-1.7 1.7-1.7 1.6-1.6 1.7-1.6 1.6-1.6 1.7-1.5 1.8-1.6 1.8-1.5 1.8-1.4 1.8-1.4 1.9-1.3 1.9-1.2 2-1.2 2-1.2 2.1-1.1 2-1 2.1-1 2.1-1 2.1-0.9 2.2-0.8 2.2-0.8 2.1-0.8 2.2-0.8 2.2-0.7 2.2-0.7 2.2-0.6 2.3-0.7 2.2-0.6" fill="none" stroke="#000" stroke-width="3.5" stroke-linecap="round"/>
<path d="M502 514.8l1.9 0.4 1.9 0.3 1.8 0.4 1.9 0.3 1.9 0.4 1.9 0.4 1.8 0.3 1.9 0.4 1.9 0.4 1.9 0.4 1.8 0.4 1.9 0.4 1.9 0.4 1.8 0.5 1.9 0.4 1.8 0.6 1.8 0.5 1.8 0.6 1.8 0.7 1.8 0.7 1.7 0.8 1.8 0.8 1.6 0.9 1.7 1 1.6 1 1.6 1.1 1.5 1.1 1.5 1.2 1.5 1.2" fill="none" stroke="#000" stroke-width="2.6" stroke-linecap="round"/>
<path d="M528 520.5l1.7 0.6 1.6 0.6 1.7 0.6 1.6 0.7 1.7 0.7 1.6 0.8 1.5 0.8 1.6 0.9 1.5 0.9 1.5 1 1.4 1 1.5 1.1 1.4 1.1 1.3 1.1 1.4 1.1" fill="none" stroke="#000" stroke-width="1.6" />
<ellipse cx="391.0" cy="536.3" rx="11.0" ry="9.5" fill="#000" opacity="0.34" filter="url(#blur)"/><circle cx="384.0" cy="522.3" r="10.0" fill="url(#gGrey)"/>
<ellipse cx="503.2" cy="525.7" rx="11.0" ry="9.5" fill="#000" opacity="0.34" filter="url(#blur)"/><circle cx="496.2" cy="511.7" r="10.0" fill="url(#gGrey)"/>
<ellipse cx="615.5" cy="515.0" rx="11.0" ry="9.5" fill="#000" opacity="0.34" filter="url(#blur)"/><circle cx="608.5" cy="501.0" r="10.0" fill="url(#gGrey)"/>
<ellipse cx="298.0" cy="700.0" rx="11.0" ry="9.5" fill="#000" opacity="0.34" filter="url(#blur)"/><circle cx="291.0" cy="686.0" r="10.0" fill="url(#gGold)"/>
<ellipse cx="472.0" cy="608.0" rx="11.0" ry="9.5" fill="#000" opacity="0.34" filter="url(#blur)"/><circle cx="465.0" cy="594.0" r="10.0" fill="url(#gGold)"/>
<path d="M1385.7 475.1l3.8-0.3 3.9-0.3 3.8-0.3 3.8-0.3 3.8-0.4 3.9-0.3 3.8-0.4 3.8-0.5 3.9-0.6 3.8-0.6 3.8-0.8 3.8-1 3.9-1.2 3.8-1.3 3.8-1.5 3.9-1.7 3.8-1.8 3.8-1.9 3.8-2 3.9-2.2 3.8-2.2 3.8-2.3 3.9-2.3 3.8-2.4 3.8-2.3 3.8-2.3 3.9-2.2 3.8-2.3 3.8-2.2 3.9-2.3 3.8-2.4 3.8-2.5 3.9-2.5 3.8-2.7 3.8-2.8 3.8-3 3.9-3 3.8-3.2 3.8-3.2 3.9-3.4 3.8-3.5 3.8-3.5 3.8-3.5 3.9-3.6 3.8-3.4 3.8-3.2 3.9-3 3.8-2.8 3.8-2.5 3.8-2.3 3.9-2.1 3.8-1.8 3.8-1.7 3.9-1.4 3.8-1.2 3.8-1.1 3.8-0.8 3.9-0.8 3.8-0.7-2.9-2.3-2.9-2.3-2.9-2.4-2.9-2.4-2.9-2.4-2.9-2.5-2.9-2.6-2.9-2.6-2.9-2.8-2.9-2.8-2.9-3-2.9-3-2.9-3.1-2.9-3.2-2.9-3.3-2.9-3.3-2.9-3.2-2.9-3.3-2.9-3.2-2.9-3.1-2.9-3.1-2.9-3.1-2.9-3.1-2.9-3.1-2.9-3.2-2.9-3.4-2.9-3.5-2.9-3.8-2.9-4-2.8-4.2-2.9-4.4-2.9-4.6-2.9-4.8-2.9-4.9-2.9-4.9-2.9-5-2.9-5-2.9-5-2.9-5-2.9-5.1-2.9-5.1-2.9-5.2-2.9-5.4-2.9-5.4-2.9-5.6-2.9-5.7-2.9-5.8-2.9-6-2.9-6.1-2.9-6.3-2.9-6.4-2.9-6.6-2.9-6.8-2.9-6.9-2.9-7.3-2.9-7.4-2.9-7.7-2.9-7.8-2.9-7.9-2.2 0.4-2.2 0.5-2.3 0.6-2.2 0.8-2.2 1-2.2 1.2-2.3 1.4-2.2 1.7-2.2 2-2.2 2.1-2.2 2.3-2.3 2.5-2.2 2.8-2.2 2.9-2.2 3.1-2.3 3.4-2.2 3.5-2.2 3.7-2.2 3.9-2.2 4-2.3 4.2-2.2 4.4-2.2 4.6-2.2 4.8-2.3 4.9-2.2 5.1-2.2 5.2-2.2 5.4-2.2 5.6-2.3 5.7-2.2 5.8-2.2 5.9-2.2 6.1-2.2 6.2-2.3 6.3-2.2 6.4-2.2 6.4-2.2 6.4-2.3 6.5-2.2 6.5-2.2 6.6-2.2 6.9-2.2 7.1-2.3 7.4-2.2 7.6-2.2 8-2.2 8-2.3 8-2.2 7.9-2.2 7.6-2.2 7.4-2.2 7.4-2.3 7.5-2.2 7.9-2.2 8.8-2.2 10.1-2.3 11.7-2.2 13.4-2.2 14.3 1.3 0.7 1.3 0.7 1.3 0.7 1.3 0.7 1.3 0.7 1.2 0.7 1.3 0.6 1.3 0.7 1.3 0.6 1.3 0.6 1.3 0.6 1.3 0.5 1.3 0.6 1.3 0.5 1.3 0.5 1.3 0.5 1.3 0.5 1.2 0.5 1.3 0.4 1.3 0.4 1.3 0.4 1.3 0.4 1.3 0.3 1.3 0.3 1.3 0.3 1.3 0.3 1.3 0.2 1.3 0.2 1.3 0.3 1.2 0.2 1.3 0.2 1.3 0.3 1.3 0.3 1.3 0.4 1.3 0.4 1.3 0.6 1.3 0.7 1.3 0.8 1.3 0.9 1.3 1.1 1.3 1.2 1.2 1.2 1.3 1.4 1.3 1.4 1.3 1.4 1.3 1.5 1.3 1.5 1.3 1.6 1.3 1.7 1.3 1.8 1.3 1.8 1.3 2 1.3 2 1.2 2.2 1.3 2.3 1.3 2.4 1.3 2.5 1.3 2.6 1.3 2.6z" fill="#800000" />
<path d="M1430.4 100.5l1.5 6 1.4 5.9 1.5 6 1.5 5.9 1.6 5.9 1.6 6 1.6 5.9 1.6 5.9 1.7 5.9 1.8 5.8 1.8 5.9 1.9 5.8 2 5.8 2 5.8 2.1 5.8 2 5.8 2 5.8 1.9 5.8 1.8 5.9 1.7 5.9 1.6 5.9 1.6 5.9 1.7 5.9 1.7 5.9 2 5.8 2 5.8 2.2 5.7 2.3 5.7 2.3 5.7 2.5 5.6 2.1 5.7 1.8 5.9 1.5 5.9 1.1 6.1 0.6 6.1 0.1 6.1-0.2 6.1-0.5 6.1-0.8 6.1-1.1 4.9-1.2 4.9-1.3 4.9-1.5 4.9-1.6 4.7-1.8 4.8-2 4.6-2.2 4.5-2.6 4.4-3 4-3.4 3.8-3.6 3.5-3.8 3.4-3.9 3.2-4 3-4.2 2.9-4.2 2.8-4.3 2.7-4.4 2.5-4.4 2.4-4.5 2.2-4.6 2.1-4.7 2-4.6 1.9-4.8 1.8-4.7 1.7-4.8 1.6-4.9 1.5-4.8 1.4-4.9 1.4-4.8 1.3-4.9 1.4-4.8 1.5-4.8 1.6-4.8 1.5-5 1.1-5 0.4-5.1 0-5-0.2 44.7 42.1 6.6-0.5 6.6-0.5 6.7-0.6 6.6-0.6 6.6-0.8 6.5-1 6.5-1.4 6.3-2.1 6.2-2.5 6-2.8 5.9-3 5.8-3.2 5.7-3.5 5.6-3.5 5.7-3.5 5.7-3.4 5.7-3.3 5.8-3.3 5.7-3.4 5.6-3.5 5.6-3.7 5.4-3.8 5.2-4.1 5.2-4.2 5.1-4.2 5-4.4 4.9-4.5 4.8-4.6 4.7-4.6 4.9-4.5 5-4.4 5.4-3.9 5.6-3.6 5.7-3.3 6-2.9 6.2-2.5 6.3-1.8 6.5-1.4 6.6-1-6.4-5-6.3-5.2-6.1-5.3-6-5.4-5.9-5.7-5.5-5.9-5.4-6-5.4-6.2-5.3-6.1-5.5-6-5.6-5.8-5.7-5.9-5.4-6-5.2-6.2-4.8-6.6-4.5-6.7-4.3-6.9-4.1-7-4.1-7.1-4.1-7-4.1-7-4-7-4.1-7.1-3.9-7-3.9-7.2-3.8-7.2-3.7-7.2-3.6-7.3-3.6-7.3-3.4-7.3-3.4-7.4-3.3-7.4-3.2-7.5-3.1-7.5-3-7.5-3-7.6-2.8-7.6-2.8-7.6-2.7-7.7z" fill="#8b0000" />
<path d="M1430.8 100.5l1.5 6 1.6 6 1.5 6 1.6 6 1.6 6 1.6 6 1.7 6 1.7 6 1.8 5.9 1.8 6 1.9 5.9 2 5.9 2 5.8 2.1 5.9 2.2 5.8 2.1 5.8 2 5.9 2 5.8 1.8 5.9 1.8 5.9 1.7 6 1.6 5.9 1.8 5.9 1.8 5.9 2 5.8 2.1 5.8 2.2 5.7 2.3 5.7 2.4 5.6 2.5 5.6 2.2 5.7 1.8 5.9 1.5 5.9 1.2 6 0.7 6.1 0.2 6.1-0.1 6.1-0.4 6-0.6 6.1-1.2 4.8-1.3 4.8-1.4 4.9-1.6 4.7-1.6 4.8-1.8 4.7-2.1 4.6-2.3 4.5-2.6 4.4-3 4-3.3 3.9-3.5 3.6-3.8 3.3-3.9 3.3-4 3.1-4.1 3-4.2 2.8-4.3 2.7-4.4 2.6-4.4 2.4-4.6 2.4-4.6 2.1-4.6 2.1-4.7 2-4.8 1.8-4.8 1.8-4.8 1.6-4.8 1.6-4.9 1.5-4.9 1.4-5 1.5-4.9 1.4-4.9 1.4-4.8 1.6-4.9 1.5-5 1.1-5.1 0.4-5.1 0-5.1-0.2 42.8 40.4 6.6-0.5 6.6-0.5 6.7-0.6 6.6-0.6 6.6-0.8 6.5-1 6.5-1.4 6.3-2.1 6.2-2.5 6-2.8 5.9-3 5.8-3.2 5.7-3.5 5.6-3.5 5.7-3.5 5.7-3.4 5.7-3.3 5.8-3.3 5.7-3.4 5.6-3.5 5.6-3.7 5.4-3.8 5.2-4.1 5.2-4.2 5.1-4.2 5-4.4 4.9-4.5 4.8-4.6 4.7-4.6 4.9-4.5 5-4.4 5.4-3.9 5.6-3.6 5.7-3.3 6-2.9 6.2-2.5 6.3-1.8 6.5-1.4 6.6-1-6.4-5-6.3-5.2-6.1-5.3-6-5.4-5.9-5.7-5.5-5.9-5.4-6-5.4-6.2-5.3-6.1-5.5-6-5.6-5.8-5.7-5.9-5.4-6-5.2-6.2-4.8-6.6-4.5-6.7-4.3-6.9-4.1-7-4.1-7.1-4.1-7-4.1-7-4-7-4.1-7.1-3.9-7-3.9-7.2-3.8-7.2-3.7-7.2-3.6-7.3-3.6-7.3-3.4-7.3-3.4-7.4-3.3-7.4-3.2-7.5-3.1-7.5-3-7.5-3-7.6-2.8-7.6-2.8-7.6-2.7-7.7z" fill="#a10000" />
<path d="M1431.3 100.4l1.5 6.1 1.6 6.1 1.6 6.1 1.7 6.1 1.6 6.1 1.7 6 1.8 6.1 1.8 6 1.8 6 1.9 6 1.9 6 2.1 6 2.1 5.9 2.2 5.9 2.2 5.8 2.2 5.9 2.1 5.9 2.1 5.9 1.9 6 1.8 5.9 1.8 6 1.7 6 1.8 5.9 2 5.9 2 5.8 2.2 5.8 2.3 5.7 2.4 5.6 2.5 5.6 2.5 5.6 2.3 5.7 1.9 5.9 1.6 5.9 1.3 6 0.8 6 0.4 6.1 0 6-0.1 6.1-0.4 6-1.4 4.7-1.4 4.7-1.6 4.7-1.7 4.7-1.7 4.7-1.9 4.7-2.2 4.6-2.3 4.5-2.6 4.3-3 4.1-3.3 3.9-3.6 3.6-3.8 3.5-3.8 3.3-4 3.2-4.1 3-4.2 2.9-4.3 2.8-4.5 2.6-4.4 2.5-4.6 2.4-4.6 2.2-4.7 2.1-4.8 2.1-4.8 1.9-4.8 1.8-4.8 1.8-4.9 1.6-4.9 1.6-5 1.5-5 1.5-4.9 1.4-5 1.5-5 1.5-4.9 1.5-5.1 1-5.2 0.5-5.1 0-5.2-0.1 40.9 38.5 6.6-0.5 6.6-0.5 6.7-0.6 6.6-0.6 6.6-0.8 6.5-1 6.5-1.4 6.3-2.1 6.2-2.5 6-2.8 5.9-3 5.8-3.2 5.7-3.5 5.6-3.5 5.7-3.5 5.7-3.4 5.7-3.3 5.8-3.3 5.7-3.4 5.6-3.5 5.6-3.7 5.4-3.8 5.2-4.1 5.2-4.2 5.1-4.2 5-4.4 4.9-4.5 4.8-4.6 4.7-4.6 4.9-4.5 5-4.4 5.4-3.9 5.6-3.6 5.7-3.3 6-2.9 6.2-2.5 6.3-1.8 6.5-1.4 6.6-1-6.4-5-6.3-5.2-6.1-5.3-6-5.4-5.9-5.7-5.5-5.9-5.4-6-5.4-6.2-5.3-6.1-5.5-6-5.6-5.8-5.7-5.9-5.4-6-5.2-6.2-4.8-6.6-4.5-6.7-4.3-6.9-4.1-7-4.1-7.1-4.1-7-4.1-7-4-7-4.1-7.1-3.9-7-3.9-7.2-3.8-7.2-3.7-7.2-3.6-7.3-3.6-7.3-3.4-7.3-3.4-7.4-3.3-7.4-3.2-7.5-3.1-7.5-3-7.5-3-7.6-2.8-7.6-2.8-7.6-2.7-7.7z" fill="#b70000" />
<path d="M1431.7 100.4l1.6 6.2 1.7 6.2 1.6 6.1 1.7 6.2 1.8 6.1 1.7 6.1 1.9 6.2 1.8 6.1 1.9 6 2 6.1 2 6 2.1 6 2.2 6 2.3 6 2.3 5.9 2.2 5.9 2.2 6 2.2 5.9 2 6 1.9 6 1.9 6 1.8 6 1.9 6 2 5.9 2.1 5.9 2.3 5.7 2.5 5.7 2.4 5.6 2.6 5.7 2.6 5.5 2.3 5.8 2 5.8 1.8 5.9 1.4 5.9 1 6.1 0.5 6 0.3 6 0.1 6-0.1 6-1.6 4.6-1.7 4.6-1.7 4.6-1.8 4.6-1.9 4.6-2 4.6-2.2 4.6-2.4 4.5-2.7 4.3-3 4.2-3.4 3.9-3.5 3.7-3.8 3.5-3.9 3.3-4 3.3-4.1 3.1-4.2 2.9-4.3 2.8-4.5 2.7-4.5 2.6-4.6 2.4-4.7 2.3-4.7 2.2-4.8 2.1-4.8 2-4.8 1.9-4.9 1.9-5 1.7-4.9 1.6-5 1.6-5 1.5-5.1 1.5-5 1.4-5.1 1.5-5 1.5-5.1 1-5.3 0.5-5.2 0-5.3-0.1 39 36.7 6.6-0.5 6.6-0.5 6.7-0.6 6.6-0.6 6.6-0.8 6.5-1 6.5-1.4 6.3-2.1 6.2-2.5 6-2.8 5.9-3 5.8-3.2 5.7-3.5 5.6-3.5 5.7-3.5 5.7-3.4 5.7-3.3 5.8-3.3 5.7-3.4 5.6-3.5 5.6-3.7 5.4-3.8 5.2-4.1 5.2-4.2 5.1-4.2 5-4.4 4.9-4.5 4.8-4.6 4.7-4.6 4.9-4.5 5-4.4 5.4-3.9 5.6-3.6 5.7-3.3 6-2.9 6.2-2.5 6.3-1.8 6.5-1.4 6.6-1-6.4-5-6.3-5.2-6.1-5.3-6-5.4-5.9-5.7-5.5-5.9-5.4-6-5.4-6.2-5.3-6.1-5.5-6-5.6-5.8-5.7-5.9-5.4-6-5.2-6.2-4.8-6.6-4.5-6.7-4.3-6.9-4.1-7-4.1-7.1-4.1-7-4.1-7-4-7-4.1-7.1-3.9-7-3.9-7.2-3.8-7.2-3.7-7.2-3.6-7.3-3.6-7.3-3.4-7.3-3.4-7.4-3.3-7.4-3.2-7.5-3.1-7.5-3-7.5-3-7.6-2.8-7.6-2.8-7.6-2.7-7.7z" fill="#cd0000" />
<path d="M1432.2 100.4l1.6 6.2 1.7 6.3 1.8 6.2 1.7 6.2 1.8 6.2 1.9 6.2 1.8 6.2 2 6.2 1.9 6.1 2.1 6.2 2.1 6.1 2.2 6 2.3 6.1 2.3 6 2.3 6 2.4 6 2.3 6 2.2 6 2.1 6 2 6 2 6.1 1.9 6 2 6 2.1 6 2.2 5.8 2.4 5.8 2.5 5.7 2.6 5.6 2.7 5.6 2.7 5.6 2.4 5.7 2.1 5.8 1.8 5.9 1.6 6 1.2 5.9 0.7 6 0.5 6 0.3 6 0.2 5.9-1.8 4.5-1.9 4.4-1.8 4.5-2 4.6-2 4.6-2.1 4.5-2.3 4.5-2.6 4.5-2.7 4.4-3.1 4.1-3.3 4-3.6 3.7-3.7 3.6-3.9 3.4-4.1 3.3-4.1 3.1-4.2 3-4.4 2.9-4.5 2.8-4.5 2.6-4.6 2.5-4.8 2.3-4.7 2.3-4.8 2.1-4.9 2.1-4.9 2-4.9 1.9-5 1.8-5 1.7-5 1.7-5.1 1.5-5.1 1.5-5.1 1.5-5.1 1.5-5.2 1.4-5.2 1-5.3 0.5-5.3 0.1-5.3-0.2 37 34.9 6.6-0.5 6.6-0.5 6.7-0.6 6.6-0.6 6.6-0.8 6.5-1 6.5-1.4 6.3-2.1 6.2-2.5 6-2.8 5.9-3 5.8-3.2 5.7-3.5 5.6-3.5 5.7-3.5 5.7-3.4 5.7-3.3 5.8-3.3 5.7-3.4 5.6-3.5 5.6-3.7 5.4-3.8 5.2-4.1 5.2-4.2 5.1-4.2 5-4.4 4.9-4.5 4.8-4.6 4.7-4.6 4.9-4.5 5-4.4 5.4-3.9 5.6-3.6 5.7-3.3 6-2.9 6.2-2.5 6.3-1.8 6.5-1.4 6.6-1-6.4-5-6.3-5.2-6.1-5.3-6-5.4-5.9-5.7-5.5-5.9-5.4-6-5.4-6.2-5.3-6.1-5.5-6-5.6-5.8-5.7-5.9-5.4-6-5.2-6.2-4.8-6.6-4.5-6.7-4.3-6.9-4.1-7-4.1-7.1-4.1-7-4.1-7-4-7-4.1-7.1-3.9-7-3.9-7.2-3.8-7.2-3.7-7.2-3.6-7.3-3.6-7.3-3.4-7.3-3.4-7.4-3.3-7.4-3.2-7.5-3.1-7.5-3-7.5-3-7.6-2.8-7.6-2.8-7.6-2.7-7.7z" fill="#e40000" />
<path d="M1432.6 100.4l1.7 6.3 1.8 6.3 1.8 6.3 1.8 6.3 1.9 6.3 1.9 6.3 1.9 6.2 2 6.2 2.1 6.2 2.1 6.2 2.2 6.2 2.2 6.1 2.4 6.1 2.4 6.1 2.4 6.1 2.4 6 2.4 6 2.3 6.1 2.2 6.1 2.1 6 2.1 6.1 2 6.1 2.1 6 2.2 6 2.3 5.9 2.5 5.8 2.7 5.6 2.7 5.7 2.7 5.6 2.8 5.6 2.5 5.7 2.2 5.8 2 5.9 1.7 5.9 1.3 6 0.9 5.9 0.8 6 0.5 5.9 0.4 5.9-2 4.3-2 4.3-2 4.4-2.1 4.5-2.2 4.5-2.3 4.5-2.4 4.5-2.5 4.4-2.8 4.4-3.1 4.2-3.4 4-3.6 3.8-3.8 3.6-3.9 3.4-4 3.4-4.2 3.2-4.3 3.1-4.3 2.9-4.5 2.8-4.6 2.7-4.7 2.5-4.7 2.4-4.9 2.3-4.8 2.2-4.9 2.2-4.9 2.1-5 2-5 1.9-5 1.8-5.1 1.7-5.2 1.6-5.1 1.5-5.2 1.5-5.2 1.4-5.2 1.4-5.3 1-5.4 0.5-5.3 0.1-5.4-0.1 35 33 6.6-0.5 6.6-0.5 6.7-0.6 6.6-0.6 6.6-0.8 6.5-1 6.5-1.4 6.3-2.1 6.2-2.5 6-2.8 5.9-3 5.8-3.2 5.7-3.5 5.6-3.5 5.7-3.5 5.7-3.4 5.7-3.3 5.8-3.3 5.7-3.4 5.6-3.5 5.6-3.7 5.4-3.8 5.2-4.1 5.2-4.2 5.1-4.2 5-4.4 4.9-4.5 4.8-4.6 4.7-4.6 4.9-4.5 5-4.4 5.4-3.9 5.6-3.6 5.7-3.3 6-2.9 6.2-2.5 6.3-1.8 6.5-1.4 6.6-1-6.4-5-6.3-5.2-6.1-5.3-6-5.4-5.9-5.7-5.5-5.9-5.4-6-5.4-6.2-5.3-6.1-5.5-6-5.6-5.8-5.7-5.9-5.4-6-5.2-6.2-4.8-6.6-4.5-6.7-4.3-6.9-4.1-7-4.1-7.1-4.1-7-4.1-7-4-7-4.1-7.1-3.9-7-3.9-7.2-3.8-7.2-3.7-7.2-3.6-7.3-3.6-7.3-3.4-7.3-3.4-7.4-3.3-7.4-3.2-7.5-3.1-7.5-3-7.5-3-7.6-2.8-7.6-2.8-7.6-2.7-7.7z" fill="#fa0000" />
<path d="M1433.1 100.3l1.7 6.4 1.8 6.4 1.9 6.4 1.9 6.4 1.9 6.3 2 6.4 2 6.3 2.1 6.3 2.1 6.3 2.2 6.2 2.3 6.2 2.3 6.2 2.4 6.2 2.5 6.1 2.5 6.1 2.5 6.1 2.5 6.1 2.4 6.1 2.3 6.1 2.2 6.2 2.1 6.1 2.1 6.1 2.2 6.1 2.3 6 2.4 5.9 2.6 5.7 2.8 5.7 2.8 5.6 2.8 5.6 2.9 5.6 2.6 5.7 2.3 5.8 2.1 5.9 1.8 5.9 1.5 5.9 1.1 6 1 5.9 0.8 5.9 0.6 5.8-2.1 4.2-2.2 4.2-2.3 4.3-2.2 4.4-2.3 4.4-2.4 4.5-2.5 4.4-2.7 4.5-2.8 4.3-3.2 4.2-3.3 4.1-3.7 3.8-3.7 3.7-4 3.5-4 3.4-4.2 3.3-4.3 3.1-4.4 3-4.5 2.9-4.6 2.7-4.8 2.5-4.7 2.5-4.9 2.4-4.9 2.3-4.9 2.2-4.9 2.2-5 2.1-5.1 1.9-5.1 1.9-5.1 1.7-5.2 1.7-5.3 1.6-5.2 1.4-5.3 1.5-5.3 1.3-5.3 1-5.5 0.5-5.4 0.1-5.5 0 33.1 31.1 6.6-0.5 6.6-0.5 6.7-0.6 6.6-0.6 6.6-0.8 6.5-1 6.5-1.4 6.3-2.1 6.2-2.5 6-2.8 5.9-3 5.8-3.2 5.7-3.5 5.6-3.5 5.7-3.5 5.7-3.4 5.7-3.3 5.8-3.3 5.7-3.4 5.6-3.5 5.6-3.7 5.4-3.8 5.2-4.1 5.2-4.2 5.1-4.2 5-4.4 4.9-4.5 4.8-4.6 4.7-4.6 4.9-4.5 5-4.4 5.4-3.9 5.6-3.6 5.7-3.3 6-2.9 6.2-2.5 6.3-1.8 6.5-1.4 6.6-1-6.4-5-6.3-5.2-6.1-5.3-6-5.4-5.9-5.7-5.5-5.9-5.4-6-5.4-6.2-5.3-6.1-5.5-6-5.6-5.8-5.7-5.9-5.4-6-5.2-6.2-4.8-6.6-4.5-6.7-4.3-6.9-4.1-7-4.1-7.1-4.1-7-4.1-7-4-7-4.1-7.1-3.9-7-3.9-7.2-3.8-7.2-3.7-7.2-3.6-7.3-3.6-7.3-3.4-7.3-3.4-7.4-3.3-7.4-3.2-7.5-3.1-7.5-3-7.5-3-7.6-2.8-7.6-2.8-7.6-2.7-7.7z" fill="#ff1100" />
<path d="M1433.5 100.3l1.8 6.5 1.9 6.5 1.9 6.4 2 6.4 2 6.5 2 6.4 2.1 6.3 2.1 6.4 2.2 6.4 2.3 6.3 2.3 6.3 2.4 6.2 2.5 6.2 2.6 6.2 2.6 6.2 2.5 6.1 2.6 6.2 2.5 6.1 2.4 6.2 2.3 6.2 2.2 6.1 2.2 6.2 2.3 6.1 2.3 6 2.6 5.9 2.7 5.8 2.8 5.7 2.9 5.6 3 5.6 2.9 5.5 2.7 5.7 2.4 5.9 2.2 5.8 2 5.9 1.7 5.9 1.3 5.9 1.1 5.9 1.1 5.8 0.9 5.9-2.4 4-2.4 4.1-2.3 4.1-2.4 4.3-2.5 4.4-2.5 4.4-2.6 4.5-2.7 4.4-2.9 4.3-3.2 4.3-3.4 4-3.6 3.9-3.8 3.7-4 3.6-4 3.5-4.2 3.3-4.3 3.2-4.5 3.1-4.5 2.9-4.7 2.7-4.7 2.7-4.9 2.5-4.8 2.4-5 2.4-4.9 2.3-5 2.3-5 2.2-5.1 2-5.2 1.9-5.2 1.8-5.2 1.7-5.3 1.6-5.3 1.5-5.4 1.4-5.3 1.3-5.4 1-5.6 0.5-5.5 0.1-5.5 0 31.1 29.3 6.6-0.5 6.6-0.5 6.7-0.6 6.6-0.6 6.6-0.8 6.5-1 6.5-1.4 6.3-2.1 6.2-2.5 6-2.8 5.9-3 5.8-3.2 5.7-3.5 5.6-3.5 5.7-3.5 5.7-3.4 5.7-3.3 5.8-3.3 5.7-3.4 5.6-3.5 5.6-3.7 5.4-3.8 5.2-4.1 5.2-4.2 5.1-4.2 5-4.4 4.9-4.5 4.8-4.6 4.7-4.6 4.9-4.5 5-4.4 5.4-3.9 5.6-3.6 5.7-3.3 6-2.9 6.2-2.5 6.3-1.8 6.5-1.4 6.6-1-6.4-5-6.3-5.2-6.1-5.3-6-5.4-5.9-5.7-5.5-5.9-5.4-6-5.4-6.2-5.3-6.1-5.5-6-5.6-5.8-5.7-5.9-5.4-6-5.2-6.2-4.8-6.6-4.5-6.7-4.3-6.9-4.1-7-4.1-7.1-4.1-7-4.1-7-4-7-4.1-7.1-3.9-7-3.9-7.2-3.8-7.2-3.7-7.2-3.6-7.3-3.6-7.3-3.4-7.3-3.4-7.4-3.3-7.4-3.2-7.5-3.1-7.5-3-7.5-3-7.6-2.8-7.6-2.8-7.6-2.7-7.7z" fill="#ff2700" />
<path d="M1433.9 100.3l1.9 6.5 2 6.6 1.9 6.5 2 6.5 2.1 6.5 2.1 6.5 2.2 6.4 2.2 6.4 2.3 6.5 2.3 6.3 2.4 6.4 2.5 6.3 2.5 6.3 2.7 6.2 2.6 6.3 2.7 6.2 2.6 6.2 2.6 6.1 2.5 6.2 2.3 6.3 2.4 6.2 2.3 6.1 2.3 6.2 2.5 6 2.6 5.9 2.8 5.8 2.9 5.7 3 5.6 3.1 5.6 3 5.5 2.8 5.7 2.5 5.9 2.3 5.8 2.1 5.9 1.8 5.9 1.5 5.8 1.4 5.9 1.2 5.8 1.2 5.8-2.6 3.8-2.5 4-2.6 4.1-2.5 4.2-2.5 4.3-2.6 4.4-2.7 4.4-2.9 4.4-2.9 4.4-3.2 4.2-3.5 4.1-3.6 4-3.8 3.7-3.9 3.6-4.1 3.6-4.2 3.4-4.3 3.2-4.5 3.1-4.5 3-4.7 2.8-4.8 2.7-4.9 2.6-4.9 2.5-5 2.4-4.9 2.4-5.1 2.4-5 2.2-5.2 2.1-5.2 2-5.2 1.9-5.3 1.8-5.3 1.6-5.4 1.5-5.5 1.3-5.4 1.3-5.5 1-5.6 0.4-5.6 0.2-5.6 0 29.2 27.5 6.6-0.5 6.6-0.5 6.7-0.6 6.6-0.6 6.6-0.8 6.5-1 6.5-1.4 6.3-2.1 6.2-2.5 6-2.8 5.9-3 5.8-3.2 5.7-3.5 5.6-3.5 5.7-3.5 5.7-3.4 5.7-3.3 5.8-3.3 5.7-3.4 5.6-3.5 5.6-3.7 5.4-3.8 5.2-4.1 5.2-4.2 5.1-4.2 5-4.4 4.9-4.5 4.8-4.6 4.7-4.6 4.9-4.5 5-4.4 5.4-3.9 5.6-3.6 5.7-3.3 6-2.9 6.2-2.5 6.3-1.8 6.5-1.4 6.6-1-6.4-5-6.3-5.2-6.1-5.3-6-5.4-5.9-5.7-5.5-5.9-5.4-6-5.4-6.2-5.3-6.1-5.5-6-5.6-5.8-5.7-5.9-5.4-6-5.2-6.2-4.8-6.6-4.5-6.7-4.3-6.9-4.1-7-4.1-7.1-4.1-7-4.1-7-4-7-4.1-7.1-3.9-7-3.9-7.2-3.8-7.2-3.7-7.2-3.6-7.3-3.6-7.3-3.4-7.3-3.4-7.4-3.3-7.4-3.2-7.5-3.1-7.5-3-7.5-3-7.6-2.8-7.6-2.8-7.6-2.7-7.7z" fill="#ff3e00" />
<path d="M1434.4 100.3l1.9 6.6 2 6.6 2 6.6 2.1 6.6 2.1 6.5 2.2 6.6 2.2 6.5 2.3 6.5 2.4 6.5 2.4 6.4 2.5 6.4 2.5 6.4 2.6 6.3 2.7 6.3 2.8 6.3 2.7 6.3 2.7 6.2 2.7 6.2 2.5 6.3 2.5 6.2 2.4 6.3 2.4 6.2 2.4 6.2 2.6 6 2.7 6 2.9 5.7 3 5.7 3.1 5.6 3.1 5.6 3.1 5.5 2.9 5.7 2.6 5.8 2.4 5.8 2.2 5.9 2 5.9 1.6 5.8 1.6 5.8 1.5 5.8 1.4 5.7-2.8 3.8-2.7 3.8-2.7 4-2.6 4.1-2.7 4.3-2.7 4.3-2.8 4.4-2.9 4.4-3 4.4-3.2 4.2-3.4 4.2-3.7 4-3.8 3.8-3.9 3.7-4.1 3.5-4.2 3.5-4.3 3.3-4.5 3.2-4.6 3-4.7 2.9-4.8 2.7-4.9 2.7-5 2.5-5 2.5-5 2.5-5 2.4-5.1 2.4-5.2 2.2-5.3 2-5.2 2-5.4 1.8-5.4 1.6-5.5 1.5-5.5 1.4-5.5 1.2-5.6 0.9-5.6 0.5-5.7 0.2-5.6 0.1 27.2 25.6 6.6-0.5 6.6-0.5 6.7-0.6 6.6-0.6 6.6-0.8 6.5-1 6.5-1.4 6.3-2.1 6.2-2.5 6-2.8 5.9-3 5.8-3.2 5.7-3.5 5.6-3.5 5.7-3.5 5.7-3.4 5.7-3.3 5.8-3.3 5.7-3.4 5.6-3.5 5.6-3.7 5.4-3.8 5.2-4.1 5.2-4.2 5.1-4.2 5-4.4 4.9-4.5 4.8-4.6 4.7-4.6 4.9-4.5 5-4.4 5.4-3.9 5.6-3.6 5.7-3.3 6-2.9 6.2-2.5 6.3-1.8 6.5-1.4 6.6-1-6.4-5-6.3-5.2-6.1-5.3-6-5.4-5.9-5.7-5.5-5.9-5.4-6-5.4-6.2-5.3-6.1-5.5-6-5.6-5.8-5.7-5.9-5.4-6-5.2-6.2-4.8-6.6-4.5-6.7-4.3-6.9-4.1-7-4.1-7.1-4.1-7-4.1-7-4-7-4.1-7.1-3.9-7-3.9-7.2-3.8-7.2-3.7-7.2-3.6-7.3-3.6-7.3-3.4-7.3-3.4-7.4-3.3-7.4-3.2-7.5-3.1-7.5-3-7.5-3-7.6-2.8-7.6-2.8-7.6-2.7-7.7z" fill="#ff5400" />
<path d="M1434.8 100.2l2 6.7 2.1 6.7 2 6.7 2.2 6.6 2.2 6.7 2.2 6.6 2.3 6.5 2.4 6.6 2.4 6.5 2.5 6.6 2.5 6.4 2.6 6.5 2.7 6.4 2.8 6.3 2.8 6.4 2.8 6.3 2.8 6.3 2.7 6.2 2.7 6.3 2.6 6.3 2.4 6.3 2.5 6.2 2.5 6.2 2.6 6.1 2.8 6 3 5.7 3.1 5.7 3.2 5.6 3.2 5.5 3.2 5.6 2.9 5.6 2.7 5.8 2.5 5.9 2.3 5.8 2.1 5.8 1.9 5.8 1.7 5.8 1.7 5.7 1.6 5.7-2.9 3.7-2.9 3.7-2.8 3.9-2.8 4-2.8 4.2-2.8 4.3-2.8 4.4-3 4.3-3 4.4-3.3 4.3-3.4 4.2-3.6 4.1-3.8 3.8-4 3.8-4 3.6-4.2 3.5-4.4 3.4-4.5 3.3-4.6 3-4.7 3-4.9 2.7-4.9 2.7-5 2.7-5 2.5-5.1 2.6-5 2.5-5.2 2.4-5.2 2.3-5.3 2.1-5.3 2-5.4 1.9-5.5 1.7-5.5 1.4-5.6 1.4-5.6 1.2-5.6 0.9-5.7 0.5-5.8 0.2-5.7 0.1 25.3 23.8 6.6-0.5 6.6-0.5 6.7-0.6 6.6-0.6 6.6-0.8 6.5-1 6.5-1.4 6.3-2.1 6.2-2.5 6-2.8 5.9-3 5.8-3.2 5.7-3.5 5.6-3.5 5.7-3.5 5.7-3.4 5.7-3.3 5.8-3.3 5.7-3.4 5.6-3.5 5.6-3.7 5.4-3.8 5.2-4.1 5.2-4.2 5.1-4.2 5-4.4 4.9-4.5 4.8-4.6 4.7-4.6 4.9-4.5 5-4.4 5.4-3.9 5.6-3.6 5.7-3.3 6-2.9 6.2-2.5 6.3-1.8 6.5-1.4 6.6-1-6.4-5-6.3-5.2-6.1-5.3-6-5.4-5.9-5.7-5.5-5.9-5.4-6-5.4-6.2-5.3-6.1-5.5-6-5.6-5.8-5.7-5.9-5.4-6-5.2-6.2-4.8-6.6-4.5-6.7-4.3-6.9-4.1-7-4.1-7.1-4.1-7-4.1-7-4-7-4.1-7.1-3.9-7-3.9-7.2-3.8-7.2-3.7-7.2-3.6-7.3-3.6-7.3-3.4-7.3-3.4-7.4-3.3-7.4-3.2-7.5-3.1-7.5-3-7.5-3-7.6-2.8-7.6-2.8-7.6-2.7-7.7z" fill="#ff6a00" />
<path d="M1435.3 100.2l2 6.8 2.1 6.7 2.2 6.8 2.1 6.7 2.3 6.7 2.3 6.7 2.4 6.6 2.4 6.6 2.5 6.6 2.5 6.6 2.7 6.5 2.7 6.5 2.7 6.5 2.9 6.4 2.8 6.4 2.9 6.4 2.9 6.3 2.8 6.3 2.7 6.3 2.7 6.4 2.6 6.3 2.5 6.3 2.6 6.2 2.7 6.1 2.9 5.9 3 5.8 3.2 5.6 3.3 5.6 3.3 5.5 3.2 5.6 3 5.7 2.7 5.7 2.6 5.8 2.4 5.9 2.3 5.8 2 5.7 1.9 5.8 1.9 5.7 1.8 5.6-3 3.5-3.1 3.7-2.9 3.7-2.9 4-2.9 4.2-2.9 4.2-2.9 4.3-3 4.4-3.1 4.4-3.3 4.4-3.4 4.2-3.6 4.1-3.8 3.9-3.9 3.8-4.1 3.7-4.2 3.6-4.4 3.4-4.5 3.3-4.6 3.1-4.8 3-4.8 2.9-5 2.7-5 2.7-5.1 2.6-5.1 2.7-5.1 2.5-5.1 2.5-5.3 2.4-5.3 2.2-5.4 2.1-5.4 1.9-5.6 1.7-5.6 1.5-5.6 1.3-5.7 1.1-5.7 0.9-5.8 0.5-5.8 0.3-5.8 0.1 23.4 22 6.6-0.5 6.6-0.5 6.7-0.6 6.6-0.6 6.6-0.8 6.5-1 6.5-1.4 6.3-2.1 6.2-2.5 6-2.8 5.9-3 5.8-3.2 5.7-3.5 5.6-3.5 5.7-3.5 5.7-3.4 5.7-3.3 5.8-3.3 5.7-3.4 5.6-3.5 5.6-3.7 5.4-3.8 5.2-4.1 5.2-4.2 5.1-4.2 5-4.4 4.9-4.5 4.8-4.6 4.7-4.6 4.9-4.5 5-4.4 5.4-3.9 5.6-3.6 5.7-3.3 6-2.9 6.2-2.5 6.3-1.8 6.5-1.4 6.6-1-6.4-5-6.3-5.2-6.1-5.3-6-5.4-5.9-5.7-5.5-5.9-5.4-6-5.4-6.2-5.3-6.1-5.5-6-5.6-5.8-5.7-5.9-5.4-6-5.2-6.2-4.8-6.6-4.5-6.7-4.3-6.9-4.1-7-4.1-7.1-4.1-7-4.1-7-4-7-4.1-7.1-3.9-7-3.9-7.2-3.8-7.2-3.7-7.2-3.6-7.3-3.6-7.3-3.4-7.3-3.4-7.4-3.3-7.4-3.2-7.5-3.1-7.5-3-7.5-3-7.6-2.8-7.6-2.8-7.6-2.7-7.7z" fill="#ff8000" />
<path d="M1435.7 100.2l2.1 6.8 2.2 6.9 2.2 6.8 2.2 6.8 2.3 6.7 2.4 6.8 2.4 6.7 2.5 6.7 2.6 6.6 2.6 6.7 2.7 6.6 2.8 6.5 2.8 6.5 2.9 6.5 3 6.5 2.9 6.4 3 6.3 2.9 6.4 2.8 6.4 2.7 6.3 2.7 6.4 2.6 6.3 2.6 6.2 2.8 6.1 3 6 3.1 5.8 3.3 5.6 3.3 5.5 3.4 5.6 3.3 5.5 3 5.7 2.8 5.7 2.7 5.8 2.5 5.8 2.4 5.8 2.2 5.7 2.1 5.7 2.1 5.7 2 5.6-3.2 3.4-3.2 3.5-3.1 3.7-3 3.9-3 4.1-3 4.2-3 4.3-3 4.4-3.1 4.4-3.3 4.3-3.4 4.3-3.6 4.1-3.8 4-3.9 3.9-4.1 3.7-4.2 3.7-4.3 3.5-4.6 3.3-4.6 3.2-4.8 3.1-4.9 2.9-5 2.8-5.1 2.7-5 2.7-5.1 2.7-5.2 2.7-5.2 2.6-5.3 2.4-5.3 2.3-5.4 2.1-5.6 2-5.6 1.7-5.6 1.5-5.7 1.3-5.8 1.1-5.8 0.9-5.8 0.5-5.9 0.2-5.9 0.2 21.5 20.2 6.6-0.5 6.6-0.5 6.7-0.6 6.6-0.6 6.6-0.8 6.5-1 6.5-1.4 6.3-2.1 6.2-2.5 6-2.8 5.9-3 5.8-3.2 5.7-3.5 5.6-3.5 5.7-3.5 5.7-3.4 5.7-3.3 5.8-3.3 5.7-3.4 5.6-3.5 5.6-3.7 5.4-3.8 5.2-4.1 5.2-4.2 5.1-4.2 5-4.4 4.9-4.5 4.8-4.6 4.7-4.6 4.9-4.5 5-4.4 5.4-3.9 5.6-3.6 5.7-3.3 6-2.9 6.2-2.5 6.3-1.8 6.5-1.4 6.6-1-6.4-5-6.3-5.2-6.1-5.3-6-5.4-5.9-5.7-5.5-5.9-5.4-6-5.4-6.2-5.3-6.1-5.5-6-5.6-5.8-5.7-5.9-5.4-6-5.2-6.2-4.8-6.6-4.5-6.7-4.3-6.9-4.1-7-4.1-7.1-4.1-7-4.1-7-4-7-4.1-7.1-3.9-7-3.9-7.2-3.8-7.2-3.7-7.2-3.6-7.3-3.6-7.3-3.4-7.3-3.4-7.4-3.3-7.4-3.2-7.5-3.1-7.5-3-7.5-3-7.6-2.8-7.6-2.8-7.6-2.7-7.7z" fill="#ff9700" />
<path d="M1436.1 100.2l2.2 6.9 2.2 6.9 2.3 6.9 2.3 6.8 2.4 6.8 2.4 6.9 2.5 6.7 2.6 6.8 2.6 6.7 2.7 6.7 2.8 6.7 2.8 6.6 2.9 6.6 3 6.5 3 6.5 3 6.5 3.1 6.4 2.9 6.4 2.9 6.4 2.9 6.4 2.7 6.4 2.7 6.3 2.7 6.3 2.9 6.1 3 6 3.2 5.8 3.4 5.6 3.4 5.5 3.4 5.5 3.4 5.5 3.1 5.7 2.9 5.7 2.7 5.8 2.7 5.8 2.5 5.7 2.3 5.7 2.3 5.7 2.3 5.6 2.3 5.6-3.4 3.3-3.4 3.4-3.2 3.6-3.2 3.8-3 4.1-3.1 4.1-3.1 4.3-3.1 4.3-3.1 4.5-3.3 4.3-3.4 4.4-3.6 4.1-3.8 4.1-3.9 3.9-4.1 3.8-4.2 3.7-4.3 3.6-4.5 3.4-4.7 3.2-4.8 3.1-5 3-5 2.8-5.1 2.8-5.1 2.8-5.1 2.8-5.2 2.7-5.2 2.7-5.3 2.5-5.4 2.3-5.5 2.2-5.6 2.1-5.6 1.7-5.8 1.5-5.8 1.3-5.8 1.1-5.9 0.8-5.9 0.5-5.9 0.3-5.9 0.2 19.5 18.4 6.6-0.5 6.6-0.5 6.7-0.6 6.6-0.6 6.6-0.8 6.5-1 6.5-1.4 6.3-2.1 6.2-2.5 6-2.8 5.9-3 5.8-3.2 5.7-3.5 5.6-3.5 5.7-3.5 5.7-3.4 5.7-3.3 5.8-3.3 5.7-3.4 5.6-3.5 5.6-3.7 5.4-3.8 5.2-4.1 5.2-4.2 5.1-4.2 5-4.4 4.9-4.5 4.8-4.6 4.7-4.6 4.9-4.5 5-4.4 5.4-3.9 5.6-3.6 5.7-3.3 6-2.9 6.2-2.5 6.3-1.8 6.5-1.4 6.6-1-6.4-5-6.3-5.2-6.1-5.3-6-5.4-5.9-5.7-5.5-5.9-5.4-6-5.4-6.2-5.3-6.1-5.5-6-5.6-5.8-5.7-5.9-5.4-6-5.2-6.2-4.8-6.6-4.5-6.7-4.3-6.9-4.1-7-4.1-7.1-4.1-7-4.1-7-4-7-4.1-7.1-3.9-7-3.9-7.2-3.8-7.2-3.7-7.2-3.6-7.3-3.6-7.3-3.4-7.3-3.4-7.4-3.3-7.4-3.2-7.5-3.1-7.5-3-7.5-3-7.6-2.8-7.6-2.8-7.6-2.7-7.7z" fill="#ffad00" />
<path d="M1436.6 100.1l2.2 7 2.3 7 2.3 6.9 2.3 7 2.5 6.9 2.5 6.9 2.6 6.8 2.6 6.8 2.7 6.8 2.8 6.8 2.8 6.7 2.9 6.7 3 6.6 3 6.6 3.1 6.6 3.1 6.5 3.2 6.4 3 6.5 3 6.4 2.9 6.5 2.8 6.4 2.8 6.4 2.8 6.2 2.9 6.2 3.2 6 3.3 5.7 3.4 5.6 3.5 5.6 3.5 5.4 3.5 5.6 3.1 5.6 3 5.8 2.9 5.7 2.7 5.8 2.7 5.7 2.5 5.7 2.5 5.6 2.4 5.6 2.5 5.6-3.5 3.1-3.5 3.3-3.4 3.5-3.3 3.7-3.2 4-3.1 4.2-3.2 4.2-3.2 4.3-3.1 4.4-3.3 4.5-3.5 4.3-3.5 4.2-3.8 4.1-3.9 4-4.1 3.9-4.2 3.7-4.4 3.6-4.5 3.5-4.7 3.3-4.8 3.2-5 3-5.1 2.9-5.1 2.9-5.1 2.8-5.2 2.9-5.2 2.8-5.2 2.8-5.4 2.5-5.5 2.4-5.5 2.3-5.6 2.1-5.7 1.8-5.8 1.4-5.9 1.3-5.9 1-5.9 0.9-6 0.5-6 0.3-6 0.2 17.6 16.6 6.6-0.5 6.6-0.5 6.7-0.6 6.6-0.6 6.6-0.8 6.5-1 6.5-1.4 6.3-2.1 6.2-2.5 6-2.8 5.9-3 5.8-3.2 5.7-3.5 5.6-3.5 5.7-3.5 5.7-3.4 5.7-3.3 5.8-3.3 5.7-3.4 5.6-3.5 5.6-3.7 5.4-3.8 5.2-4.1 5.2-4.2 5.1-4.2 5-4.4 4.9-4.5 4.8-4.6 4.7-4.6 4.9-4.5 5-4.4 5.4-3.9 5.6-3.6 5.7-3.3 6-2.9 6.2-2.5 6.3-1.8 6.5-1.4 6.6-1-6.4-5-6.3-5.2-6.1-5.3-6-5.4-5.9-5.7-5.5-5.9-5.4-6-5.4-6.2-5.3-6.1-5.5-6-5.6-5.8-5.7-5.9-5.4-6-5.2-6.2-4.8-6.6-4.5-6.7-4.3-6.9-4.1-7-4.1-7.1-4.1-7-4.1-7-4-7-4.1-7.1-3.9-7-3.9-7.2-3.8-7.2-3.7-7.2-3.6-7.3-3.6-7.3-3.4-7.3-3.4-7.4-3.3-7.4-3.2-7.5-3.1-7.5-3-7.5-3-7.6-2.8-7.6-2.8-7.6-2.7-7.7z" fill="#ffc300" />
<path d="M1437 100.1l2.3 7.1 2.3 7 2.4 7 2.4 7 2.5 7 2.6 7 2.6 6.9 2.8 6.9 2.7 6.8 2.9 6.8 2.9 6.8 3 6.8 3 6.7 3.1 6.6 3.2 6.6 3.2 6.6 3.2 6.5 3.1 6.5 3.1 6.5 3 6.5 2.9 6.4 2.9 6.4 2.9 6.3 3 6.2 3.2 6 3.4 5.8 3.6 5.6 3.6 5.5 3.6 5.5 3.5 5.5 3.2 5.6 3.1 5.8 3 5.7 2.9 5.8 2.8 5.6 2.7 5.7 2.6 5.6 2.8 5.5 2.7 5.6-3.8 2.9-3.6 3.2-3.6 3.4-3.4 3.7-3.3 3.9-3.3 4.1-3.2 4.2-3.3 4.3-3.2 4.5-3.3 4.4-3.5 4.4-3.6 4.3-3.7 4.1-4 4-4 3.9-4.3 3.9-4.3 3.7-4.6 3.5-4.7 3.3-4.9 3.2-5 3.1-5.1 3-5.1 2.9-5.2 2.9-5.2 3-5.2 2.9-5.3 2.8-5.4 2.7-5.5 2.4-5.6 2.4-5.7 2.1-5.8 1.8-5.8 1.5-6 1.2-5.9 1-6.1 0.8-6 0.6-6.1 0.3-6.1 0.3 15.7 14.7 6.6-0.5 6.6-0.5 6.7-0.6 6.6-0.6 6.6-0.8 6.5-1 6.5-1.4 6.3-2.1 6.2-2.5 6-2.8 5.9-3 5.8-3.2 5.7-3.5 5.6-3.5 5.7-3.5 5.7-3.4 5.7-3.3 5.8-3.3 5.7-3.4 5.6-3.5 5.6-3.7 5.4-3.8 5.2-4.1 5.2-4.2 5.1-4.2 5-4.4 4.9-4.5 4.8-4.6 4.7-4.6 4.9-4.5 5-4.4 5.4-3.9 5.6-3.6 5.7-3.3 6-2.9 6.2-2.5 6.3-1.8 6.5-1.4 6.6-1-6.4-5-6.3-5.2-6.1-5.3-6-5.4-5.9-5.7-5.5-5.9-5.4-6-5.4-6.2-5.3-6.1-5.5-6-5.6-5.8-5.7-5.9-5.4-6-5.2-6.2-4.8-6.6-4.5-6.7-4.3-6.9-4.1-7-4.1-7.1-4.1-7-4.1-7-4-7-4.1-7.1-3.9-7-3.9-7.2-3.8-7.2-3.7-7.2-3.6-7.3-3.6-7.3-3.4-7.3-3.4-7.4-3.3-7.4-3.2-7.5-3.1-7.5-3-7.5-3-7.6-2.8-7.6-2.8-7.6-2.7-7.7z" fill="#ffd900" />
<path d="M1437.5 100.1l2.3 7.1 2.4 7.1 2.4 7.1 2.5 7.1 2.6 7.1 2.6 7 2.7 7 2.8 6.9 2.9 6.9 2.9 6.9 3 6.9 3 6.8 3.2 6.7 3.2 6.7 3.2 6.7 3.3 6.6 3.2 6.6 3.3 6.6 3.2 6.5 3 6.5 3 6.5 3 6.4 3 6.4 3.1 6.2 3.4 6 3.5 5.8 3.7 5.6 3.7 5.5 3.7 5.5 3.6 5.5 3.4 5.7 3.1 5.7 3.1 5.7 3.1 5.8 3 5.6 2.9 5.6 2.9 5.6 3 5.5 3 5.5-4 2.8-3.8 3-3.8 3.3-3.5 3.6-3.5 3.9-3.4 4-3.4 4.2-3.3 4.3-3.3 4.4-3.4 4.5-3.5 4.4-3.6 4.3-3.8 4.2-4 4.1-4 4-4.3 3.9-4.4 3.7-4.6 3.6-4.7 3.4-5 3.3-5 3.1-5.1 3-5.2 3-5.3 3-5.2 3-5.2 3-5.4 2.9-5.4 2.7-5.6 2.6-5.6 2.4-5.7 2.2-5.9 1.8-5.9 1.5-6 1.2-6.1 1-6.1 0.8-6.1 0.5-6.1 0.4-6.2 0.2 13.7 12.9 6.6-0.5 6.6-0.5 6.7-0.6 6.6-0.6 6.6-0.8 6.5-1 6.5-1.4 6.3-2.1 6.2-2.5 6-2.8 5.9-3 5.8-3.2 5.7-3.5 5.6-3.5 5.7-3.5 5.7-3.4 5.7-3.3 5.8-3.3 5.7-3.4 5.6-3.5 5.6-3.7 5.4-3.8 5.2-4.1 5.2-4.2 5.1-4.2 5-4.4 4.9-4.5 4.8-4.6 4.7-4.6 4.9-4.5 5-4.4 5.4-3.9 5.6-3.6 5.7-3.3 6-2.9 6.2-2.5 6.3-1.8 6.5-1.4 6.6-1-6.4-5-6.3-5.2-6.1-5.3-6-5.4-5.9-5.7-5.5-5.9-5.4-6-5.4-6.2-5.3-6.1-5.5-6-5.6-5.8-5.7-5.9-5.4-6-5.2-6.2-4.8-6.6-4.5-6.7-4.3-6.9-4.1-7-4.1-7.1-4.1-7-4.1-7-4-7-4.1-7.1-3.9-7-3.9-7.2-3.8-7.2-3.7-7.2-3.6-7.3-3.6-7.3-3.4-7.3-3.4-7.4-3.3-7.4-3.2-7.5-3.1-7.5-3-7.5-3-7.6-2.8-7.6-2.8-7.6-2.7-7.7z" fill="#fff000" />
<path d="M1437.9 100.1l2.4 7.2 2.5 7.2 2.5 7.1 2.5 7.2 2.7 7.1 2.7 7.1 2.8 7 2.8 7.1 2.9 7 3 6.9 3.1 6.9 3.1 6.9 3.2 6.8 3.3 6.8 3.3 6.7 3.4 6.7 3.4 6.6 3.3 6.6 3.3 6.6 3.2 6.6 3.1 6.5 3.1 6.5 3.1 6.4 3.2 6.3 3.5 6 3.7 5.8 3.8 5.6 3.9 5.5 3.8 5.5 3.7 5.6 3.5 5.6 3.4 5.8 3.2 5.7 3.3 5.7 3.2 5.7 3.2 5.5 3.2 5.6 3.2 5.4 3.4 5.5-4.2 2.6-4.1 2.9-4 3.2-3.8 3.5-3.6 3.7-3.6 4-3.5 4.1-3.5 4.3-3.4 4.4-3.4 4.5-3.6 4.5-3.6 4.3-3.9 4.3-4 4.1-4.1 4.1-4.3 3.9-4.5 3.8-4.6 3.6-4.8 3.5-5 3.3-5.1 3.2-5.2 3.1-5.2 3-5.3 3.1-5.3 3.1-5.3 3.1-5.3 3-5.5 2.8-5.6 2.6-5.7 2.4-5.8 2.3-5.9 1.9-6 1.4-6.1 1.2-6.1 1-6.2 0.7-6.2 0.6-6.2 0.3-6.2 0.3 11.6 11 6.6-0.5 6.6-0.5 6.7-0.6 6.6-0.6 6.6-0.8 6.5-1 6.5-1.4 6.3-2.1 6.2-2.5 6-2.8 5.9-3 5.8-3.2 5.7-3.5 5.6-3.5 5.7-3.5 5.7-3.4 5.7-3.3 5.8-3.3 5.7-3.4 5.6-3.5 5.6-3.7 5.4-3.8 5.2-4.1 5.2-4.2 5.1-4.2 5-4.4 4.9-4.5 4.8-4.6 4.7-4.6 4.9-4.5 5-4.4 5.4-3.9 5.6-3.6 5.7-3.3 6-2.9 6.2-2.5 6.3-1.8 6.5-1.4 6.6-1-6.4-5-6.3-5.2-6.1-5.3-6-5.4-5.9-5.7-5.5-5.9-5.4-6-5.4-6.2-5.3-6.1-5.5-6-5.6-5.8-5.7-5.9-5.4-6-5.2-6.2-4.8-6.6-4.5-6.7-4.3-6.9-4.1-7-4.1-7.1-4.1-7-4.1-7-4-7-4.1-7.1-3.9-7-3.9-7.2-3.8-7.2-3.7-7.2-3.6-7.3-3.6-7.3-3.4-7.3-3.4-7.4-3.3-7.4-3.2-7.5-3.1-7.5-3-7.5-3-7.6-2.8-7.6-2.8-7.6-2.7-7.7z" fill="#f8ff07" />
<path d="M1438.4 100l2.5 7.3 2.5 7.3 2.5 7.2 2.6 7.3 2.8 7.2 2.7 7.1 2.9 7.2 2.9 7 3.1 7.1 3 7 3.2 7 3.2 7 3.3 6.8 3.3 6.9 3.4 6.8 3.5 6.7 3.5 6.7 3.4 6.7 3.4 6.6 3.3 6.7 3.3 6.6 3.2 6.5 3.3 6.5 3.3 6.3 3.7 6.1 3.8 5.8 4 5.6 4.1 5.6 4 5.5 3.9 5.5 3.7 5.7 3.5 5.8 3.5 5.8 3.5 5.7 3.5 5.6 3.5 5.5 3.5 5.5 3.7 5.4 3.7 5.4-4.5 2.5-4.4 2.7-4.2 3-4.1 3.3-3.9 3.7-3.8 3.9-3.7 4-3.6 4.3-3.6 4.4-3.6 4.5-3.6 4.5-3.7 4.4-4 4.3-4 4.2-4.3 4.1-4.3 4-4.5 3.9-4.7 3.7-4.9 3.5-5.1 3.3-5.1 3.3-5.3 3.1-5.3 3.1-5.3 3.1-5.4 3.2-5.3 3.2-5.4 3.1-5.5 2.8-5.7 2.7-5.7 2.6-5.9 2.2-5.9 2-6.2 1.4-6.1 1.2-6.2 0.9-6.3 0.7-6.3 0.6-6.2 0.4-6.3 0.3 9.5 9 6.6-0.5 6.6-0.5 6.7-0.6 6.6-0.6 6.6-0.8 6.5-1 6.5-1.4 6.3-2.1 6.2-2.5 6-2.8 5.9-3 5.8-3.2 5.7-3.5 5.6-3.5 5.7-3.5 5.7-3.4 5.7-3.3 5.8-3.3 5.7-3.4 5.6-3.5 5.6-3.7 5.4-3.8 5.2-4.1 5.2-4.2 5.1-4.2 5-4.4 4.9-4.5 4.8-4.6 4.7-4.6 4.9-4.5 5-4.4 5.4-3.9 5.6-3.6 5.7-3.3 6-2.9 6.2-2.5 6.3-1.8 6.5-1.4 6.6-1-6.4-5-6.3-5.2-6.1-5.3-6-5.4-5.9-5.7-5.5-5.9-5.4-6-5.4-6.2-5.3-6.1-5.5-6-5.6-5.8-5.7-5.9-5.4-6-5.2-6.2-4.8-6.6-4.5-6.7-4.3-6.9-4.1-7-4.1-7.1-4.1-7-4.1-7-4-7-4.1-7.1-3.9-7-3.9-7.2-3.8-7.2-3.7-7.2-3.6-7.3-3.6-7.3-3.4-7.3-3.4-7.4-3.3-7.4-3.2-7.5-3.1-7.5-3-7.5-3-7.6-2.8-7.6-2.8-7.6-2.7-7.7z" fill="#e2ff1d" />
<path d="M1438.9 100l2.5 7.4 2.6 7.3 2.6 7.4 2.7 7.3 2.8 7.2 2.9 7.3 2.9 7.2 3 7.1 3.1 7.2 3.2 7.1 3.2 7 3.3 7.1 3.4 6.9 3.4 6.9 3.5 6.9 3.6 6.8 3.6 6.8 3.6 6.7 3.5 6.7 3.5 6.7 3.3 6.7 3.4 6.6 3.5 6.6 3.5 6.3 3.8 6.2 4.1 5.9 4.2 5.7 4.4 5.5 4.2 5.6 4.2 5.6 3.9 5.7 3.8 5.8 3.8 5.8 3.8 5.7 3.8 5.6 3.9 5.5 4 5.5 4.1 5.3 4.2 5.4-4.9 2.2-4.7 2.4-4.6 2.9-4.4 3.2-4.2 3.5-4.1 3.8-4 4-3.9 4.2-3.7 4.4-3.8 4.5-3.7 4.6-3.9 4.4-4.1 4.4-4.2 4.2-4.3 4.2-4.5 4-4.6 3.9-4.8 3.8-5 3.5-5.1 3.4-5.3 3.3-5.3 3.2-5.4 3.2-5.4 3.1-5.4 3.3-5.4 3.3-5.4 3.1-5.6 3-5.7 2.8-5.8 2.6-5.9 2.3-6.1 1.9-6.2 1.5-6.2 1.1-6.3 0.9-6.4 0.7-6.3 0.6-6.4 0.4-6.3 0.4 7.3 6.9 6.6-0.5 6.6-0.5 6.7-0.6 6.6-0.6 6.6-0.8 6.5-1 6.5-1.4 6.3-2.1 6.2-2.5 6-2.8 5.9-3 5.8-3.2 5.7-3.5 5.6-3.5 5.7-3.5 5.7-3.4 5.7-3.3 5.8-3.3 5.7-3.4 5.6-3.5 5.6-3.7 5.4-3.8 5.2-4.1 5.2-4.2 5.1-4.2 5-4.4 4.9-4.5 4.8-4.6 4.7-4.6 4.9-4.5 5-4.4 5.4-3.9 5.6-3.6 5.7-3.3 6-2.9 6.2-2.5 6.3-1.8 6.5-1.4 6.6-1-6.4-5-6.3-5.2-6.1-5.3-6-5.4-5.9-5.7-5.5-5.9-5.4-6-5.4-6.2-5.3-6.1-5.5-6-5.6-5.8-5.7-5.9-5.4-6-5.2-6.2-4.8-6.6-4.5-6.7-4.3-6.9-4.1-7-4.1-7.1-4.1-7-4.1-7-4-7-4.1-7.1-3.9-7-3.9-7.2-3.8-7.2-3.7-7.2-3.6-7.3-3.6-7.3-3.4-7.3-3.4-7.4-3.3-7.4-3.2-7.5-3.1-7.5-3-7.5-3-7.6-2.8-7.6-2.8-7.6-2.7-7.7z" fill="#ccff33" />
<path d="M1439.4 100l2.6 7.4 2.6 7.5 2.7 7.4 2.8 7.4 2.9 7.3 2.9 7.4 3 7.2 3.1 7.3 3.2 7.2 3.3 7.2 3.3 7.1 3.4 7.1 3.5 7 3.5 7 3.6 7 3.7 6.9 3.7 6.8 3.7 6.8 3.7 6.8 3.7 6.8 3.5 6.8 3.6 6.7 3.7 6.6 3.8 6.5 4 6.3 4.4 5.9 4.5 5.8 4.7 5.6 4.5 5.6 4.5 5.7 4.3 5.8 4.1 5.9 4.2 5.8 4.2 5.8 4.4 5.6 4.4 5.5 4.5 5.3 4.6 5.3 4.8 5.3-5.3 1.9-5.2 2.2-5 2.5-4.8 3.1-4.6 3.3-4.5 3.7-4.4 3.9-4.2 4.1-4.1 4.4-4 4.6-3.9 4.6-4.1 4.5-4.3 4.4-4.4 4.2-4.4 4.2-4.7 4.1-4.7 4-5 3.8-5.1 3.6-5.3 3.4-5.3 3.4-5.5 3.2-5.5 3.2-5.5 3.3-5.4 3.3-5.5 3.4-5.5 3.2-5.6 3.1-5.8 2.8-5.9 2.7-5.9 2.3-6.2 2-6.3 1.5-6.3 1.1-6.4 0.8-6.4 0.7-6.5 0.6-6.4 0.4-6.4 0.5 5 4.7 6.6-0.5 6.6-0.5 6.7-0.6 6.6-0.6 6.6-0.8 6.5-1 6.5-1.4 6.3-2.1 6.2-2.5 6-2.8 5.9-3 5.8-3.2 5.7-3.5 5.6-3.5 5.7-3.5 5.7-3.4 5.7-3.3 5.8-3.3 5.7-3.4 5.6-3.5 5.6-3.7 5.4-3.8 5.2-4.1 5.2-4.2 5.1-4.2 5-4.4 4.9-4.5 4.8-4.6 4.7-4.6 4.9-4.5 5-4.4 5.4-3.9 5.6-3.6 5.7-3.3 6-2.9 6.2-2.5 6.3-1.8 6.5-1.4 6.6-1-6.4-5-6.3-5.2-6.1-5.3-6-5.4-5.9-5.7-5.5-5.9-5.4-6-5.4-6.2-5.3-6.1-5.5-6-5.6-5.8-5.7-5.9-5.4-6-5.2-6.2-4.8-6.6-4.5-6.7-4.3-6.9-4.1-7-4.1-7.1-4.1-7-4.1-7-4-7-4.1-7.1-3.9-7-3.9-7.2-3.8-7.2-3.7-7.2-3.6-7.3-3.6-7.3-3.4-7.3-3.4-7.4-3.3-7.4-3.2-7.5-3.1-7.5-3-7.5-3-7.6-2.8-7.6-2.8-7.6-2.7-7.7z" fill="#b5ff4a" />
<path d="M1440 99.9l2.6 7.6 2.7 7.5 2.8 7.5 2.8 7.5 3 7.5 3 7.4 3.1 7.3 3.2 7.4 3.3 7.3 3.4 7.2 3.4 7.2 3.5 7.2 3.6 7.1 3.6 7.1 3.8 7.1 3.8 7 3.8 6.9 3.9 6.9 3.9 6.9 3.8 6.9 3.8 6.9 3.8 6.8 4 6.8 4.1 6.6 4.4 6.3 4.7 6.1 4.9 5.8 5.1 5.8 5 5.7 4.9 5.8 4.7 5.9 4.7 6 4.7 5.9 4.8 5.8 4.9 5.6 5.1 5.5 5.3 5.3 5.3 5.3 5.5 5.1-5.9 1.5-5.7 1.9-5.6 2.2-5.4 2.8-5.2 3.2-5 3.5-4.9 3.7-4.7 4.1-4.5 4.4-4.3 4.5-4.3 4.6-4.4 4.6-4.5 4.4-4.6 4.3-4.8 4.3-4.8 4.1-5 4-5.1 3.9-5.3 3.6-5.5 3.5-5.5 3.3-5.6 3.3-5.6 3.3-5.6 3.3-5.5 3.4-5.5 3.5-5.6 3.3-5.7 3.1-5.9 3-5.9 2.7-6.1 2.4-6.2 2.1-6.4 1.4-6.4 1.1-6.5 0.8-6.5 0.6-6.5 0.6-6.6 0.5-6.5 0.4 2.6 2.5 6.6-0.5 6.6-0.5 6.7-0.6 6.6-0.6 6.6-0.8 6.5-1 6.5-1.4 6.3-2.1 6.2-2.5 6-2.8 5.9-3 5.8-3.2 5.7-3.5 5.6-3.5 5.7-3.5 5.7-3.4 5.7-3.3 5.8-3.3 5.7-3.4 5.6-3.5 5.6-3.7 5.4-3.8 5.2-4.1 5.2-4.2 5.1-4.2 5-4.4 4.9-4.5 4.8-4.6 4.7-4.6 4.9-4.5 5-4.4 5.4-3.9 5.6-3.6 5.7-3.3 6-2.9 6.2-2.5 6.3-1.8 6.5-1.4 6.6-1-6.4-5-6.3-5.2-6.1-5.3-6-5.4-5.9-5.7-5.5-5.9-5.4-6-5.4-6.2-5.3-6.1-5.5-6-5.6-5.8-5.7-5.9-5.4-6-5.2-6.2-4.8-6.6-4.5-6.7-4.3-6.9-4.1-7-4.1-7.1-4.1-7-4.1-7-4-7-4.1-7.1-3.9-7-3.9-7.2-3.8-7.2-3.7-7.2-3.6-7.3-3.6-7.3-3.4-7.3-3.4-7.4-3.3-7.4-3.2-7.5-3.1-7.5-3-7.5-3-7.6-2.8-7.6-2.8-7.6-2.7-7.7z" fill="#9fff60" />
<path d="M1412.3 472.8l-1.8-0.7-1.7-0.6-1.7-0.6-1.7-0.5-1.8-0.5-1.7-0.5-1.7-0.4-1.7-0.4-1.8-0.3-1.7-0.3-1.7-0.2-1.7-0.2-1.8-0.1-1.7-0.1-1.7 0.1-1.7 0.1-1.8 0.2-1.7 0.2" fill="none" stroke="#808080" stroke-width="1.8" stroke-linejoin="round"/>
<path d="M1434.4 468.5l-3.1-1.6-3.2-1.5-3.2-1.5-3.1-1.4-3.2-1.4-3.2-1.3-3.1-1.3-3.2-1.3-3.2-1.3-3.1-1.1-3.2-1.2-3.2-1-3.1-1-3.2-0.8-3.2-0.7-3.1-0.4-3.2-0.3-3.2-0.1-3.1 0.3-3.2 0.5-3.1 1-3.2 1.2-3.2 1.8-3.1 2.1" fill="none" stroke="#808080" stroke-width="1.8" stroke-linejoin="round"/>
<path d="M1456.6 458.9l-4.6-2.7-4.6-2.7-4.7-2.5-4.6-2.6-4.6-2.4-4.6-2.4-4.6-2.4-4.6-2.3-4.6-2.1-4.6-2.1-4.6-1.9-4.6-1.8-4.6-1.5-4.6-1.5-4.6-1.3-4.6-1.2-4.6-1.1-4.6-0.9-4.6-0.8-4.6-0.4-4.6 0.1-4.6 0.8-4.6 1.7-4.6 2.7-4.6 4.2-4.6 5.7" fill="none" stroke="#808080" stroke-width="1.8" stroke-linejoin="round"/>
<path d="M1478.7 445.9l-5.7-4-5.6-3.8-5.7-3.8-5.7-3.8-5.7-3.9-5.6-3.8-5.7-3.9-5.7-3.7-5.7-3.6-5.6-3.4-5.7-3.1-5.7-3-5.7-2.7-5.6-2.6-5.7-2.6-5.7-2.4-5.6-2.2-5.7-1.9-5.7-1.5-5.6-1.2-5.7-0.9-5.7-0.5-5.6 0-5.7 0.4-5.6 1.4-5.7 2.7-5.6 4.7-5.7 7.5-5.6 11.2" fill="none" stroke="#808080" stroke-width="1.8" stroke-linejoin="round"/>
<path d="M1500.9 432.7l-5.7-4.6-5.7-4.5-5.7-4.6-5.7-4.6-5.6-4.7-5.7-4.8-5.7-4.9-5.7-4.9-5.7-4.7-5.6-4.5-5.7-4.3-5.7-4.1-5.7-4.2-5.6-4.2-5.7-4.3-5.7-4.5-5.7-4.6-5.6-4.3-5.7-4.2-5.7-3.8-5.6-3.6-5.7-3.2-5.7-2.9-5.6-2.5-5.7-1.9-5.7-1.6-5.6-0.9-5.7-0.5-5.6 0.1-5.7 0.7" fill="none" stroke="#808080" stroke-width="1.8" stroke-linejoin="round"/>
<path d="M1523 417.4l-5.7-4.8-5.7-4.8-5.6-4.9-5.7-5.1-5.7-5.3-5.7-5.4-5.7-5.6-5.7-5.7-5.6-5.6-5.7-5.4-5.7-5.3-5.7-5.2-5.7-5.3-5.7-5.6-5.6-5.8-5.7-6.2-5.7-6.3-5.7-6.3-5.6-6.1-5.7-6-5.7-5.8-5.7-5.7-5.6-5.6-5.7-5.5-5.7-5.5-5.7-5.3-5.6-5.3-5.7-5.1-5.7-5-5.6-4.6" fill="none" stroke="#808080" stroke-width="1.8" stroke-linejoin="round"/>
<path d="M1545.2 398.4l-5.7-4.8-5.7-4.8-5.7-5.1-5.7-5.2-5.7-5.4-5.7-5.8-5.7-5.9-5.7-6.1-5.6-6.1-5.7-5.9-5.7-5.9-5.7-5.8-5.7-6-5.7-6.3-5.7-6.9-5.6-7.3-5.7-7.7-5.7-7.8-5.7-7.8-5.7-7.7-5.6-7.7-5.7-7.9-5.7-7.9-5.7-8-5.7-8.2-5.6-8.3-5.7-8.4-5.7-8.6-5.7-8.7-5.6-8.6" fill="none" stroke="#808080" stroke-width="1.8" stroke-linejoin="round"/>
<path d="M1567.3 379.3l-5.7-4.9-5.7-4.9-5.7-5.2-5.7-5.3-5.7-5.6-5.6-5.9-5.7-6.1-5.7-6.4-5.7-6.4-5.7-6.2-5.7-6.1-5.7-6.1-5.7-6.3-5.7-6.8-5.7-7.4-5.7-8.1-5.6-8.6-5.7-8.7-5.7-8.8-5.7-8.9-5.7-8.9-5.7-9.2-5.7-9.5-5.7-9.7-5.6-10.1-5.7-10.4-5.7-10.9-5.7-11.3-5.7-11.7-5.7-12" fill="none" stroke="#808080" stroke-width="1.8" stroke-linejoin="round"/>
<path d="M1589.5 367l-5.7-4.8-5.7-5-5.7-5.1-5.7-5.3-5.7-5.7-5.7-6-5.7-6.3-5.7-6.5-5.7-6.6-5.7-6.4-5.7-6.3-5.7-6.3-5.7-6.5-5.7-7.1-5.7-7.8-5.7-8.6-5.7-9.2-5.7-9.4-5.7-9.5-5.7-9.7-5.6-9.7-5.7-10.1-5.7-10.5-5.7-10.8-5.7-11.3-5.7-11.8-5.7-12.4-5.7-13-5.7-13.7-5.7-14.2" fill="none" stroke="#808080" stroke-width="1.8" stroke-linejoin="round"/>
<path d="M1374.7 476.9l7.4-4.9 7.3-4.5 7.4-3.5 7.4-2.9 7.4-2.8 7.4-3.3 7.4-4.1 7.3-4.6 7.4-5.1 7.4-5.2 7.4-5.5 7.4-5.4 7.4-5.4 7.3-5.3 7.4-5.3 7.4-5.5 7.4-5.8 7.4-6.1 7.4-6.4 7.3-6.7 7.4-6.9 7.4-6.7 7.4-5.9 7.4-5.1 7.4-4.1 7.3-3.1 7.4-2.3 7.4-1.4 7.4-1" fill="none" stroke="#808080" stroke-width="1.8" stroke-linejoin="round"/>
<path d="M1363.6 478.2l7-9.4 7-8.3 7-6.6 7-5 6.9-4.5 7-4.9 7-5.6 7-6.2 6.9-6.3 7-6.3 7-6.4 7-6.4 7-6.2 6.9-6.1 7-6.1 7-6.1 7-6.2 6.9-6.5 7-6.5 7-6.7 7-6.7 7-6.3 6.9-5.7 7-4.7 7-3.8 7-2.9 6.9-1.9 7-1.1 7-0.6" fill="none" stroke="#808080" stroke-width="1.8" stroke-linejoin="round"/>
<path d="M1352.6 478.9l6.6-13.9 6.6-12.3 6.5-9.5 6.6-7.1 6.6-6.2 6.6-6.5 6.5-7.3 6.6-7.6 6.6-7.7 6.5-7.4 6.6-7.3 6.6-7.3 6.6-7.1 6.5-7 6.6-6.7 6.6-6.8 6.5-6.7 6.6-6.8 6.6-6.7 6.6-6.6 6.5-6.5 6.6-6.1 6.6-5.4 6.5-4.4 6.6-3.5 6.6-2.6 6.6-1.6 6.5-0.7 6.6-0.2" fill="none" stroke="#808080" stroke-width="1.8" stroke-linejoin="round"/>
<path d="M1341.6 478.8l6.2-18.5 6.1-16.4 6.2-12.7 6.2-9.4 6.1-8 6.2-8.2 6.2-9 6.1-9.4 6.2-9.1 6.2-8.6 6.1-8.4 6.2-8.4 6.1-8.1 6.2-8 6.2-7.6 6.1-7.5 6.2-7.4 6.2-7.2 6.1-7 6.2-6.8 6.2-6.4 6.1-6 6.2-5.3 6.2-4.2 6.1-3.4 6.2-2.4 6.2-1.4 6.1-0.6 6.2 0" fill="none" stroke="#808080" stroke-width="1.8" stroke-linejoin="round"/>
<path d="M1330.6 477.8l5.7-23.4 5.8-20.8 5.7-16.1 5.8-11.9 5.8-10.1 5.7-10.3 5.8-11 5.7-11.3 5.8-10.8 5.8-10.2 5.7-9.8 5.8-9.6 5.7-9.5 5.8-9.2 5.8-8.8 5.7-8.5 5.8-8.3 5.7-7.9 5.8-7.6 5.8-7.1 5.7-6.8 5.8-6.1 5.7-5.4 5.8-4.4 5.8-3.5 5.7-2.5 5.8-1.5 5.7-0.6 5.8-0.1" fill="none" stroke="#808080" stroke-width="1.8" stroke-linejoin="round"/>
<path d="M1319.5 475.8l5.4-28.4 5.3-25.3 5.4-19.6 5.4-14.5 5.3-12.4 5.4-12.3 5.3-13.2 5.4-13.3 5.3-12.7 5.4-11.8 5.3-11.2 5.4-11.1 5.3-10.9 5.4-10.6 5.3-10.1 5.4-9.7 5.4-9.2 5.3-8.8 5.4-8.2 5.3-7.7 5.4-7.1 5.3-6.4 5.4-5.6 5.3-4.6 5.4-3.7 5.3-2.8 5.4-1.7 5.3-0.8 5.4-0.2" fill="none" stroke="#808080" stroke-width="1.8" stroke-linejoin="round"/>
<path d="M1308.5 472.3l5-33.7 4.9-30 5-23.4 4.9-17.4 5-14.8 4.9-14.8 4.9-15.5 5-15.7 4.9-14.7 5-13.7 4.9-13 5-12.7 4.9-12.5 5-12.2 4.9-11.7 5-11.1 4.9-10.5 5-9.8 4.9-9.2 5-8.4 4.9-7.7 5-6.9 4.9-6.1 5-5.1 4.9-4.2 5-3.2 4.9-2.2 5-1.2 4.9-0.7" fill="none" stroke="#808080" stroke-width="1.8" stroke-linejoin="round"/>
<path d="M1611.6 361.3l-2.9-2.3-2.9-2.3-2.9-2.4-2.9-2.4-2.9-2.4-2.9-2.5-2.9-2.6-2.9-2.6-2.9-2.8-2.9-2.8-2.9-3-2.9-3-2.9-3.1-2.9-3.2-2.9-3.3-2.9-3.3-2.9-3.2-2.9-3.3-2.9-3.2-2.9-3.1-2.9-3.1-2.9-3.1-2.9-3.1-2.9-3.1-2.9-3.2-2.9-3.4-2.9-3.5-2.9-3.8-2.9-4-2.8-4.2-2.9-4.4-2.9-4.6-2.9-4.8-2.9-4.9-2.9-4.9-2.9-5-2.9-5-2.9-5-2.9-5-2.9-5.1-2.9-5.1-2.9-5.2-2.9-5.4-2.9-5.4-2.9-5.6-2.9-5.7-2.9-5.8-2.9-6-2.9-6.1-2.9-6.3-2.9-6.4-2.9-6.6-2.9-6.8-2.9-6.9-2.9-7.3-2.9-7.4-2.9-7.7-2.9-7.8-2.9-7.9" fill="none" stroke="#222" stroke-width="1.6" />
<path d="M1385.7 475.1l-1.3-2.6-1.3-2.6-1.3-2.5-1.3-2.4-1.3-2.3-1.2-2.2-1.3-2-1.3-2-1.3-1.8-1.3-1.8-1.3-1.7-1.3-1.6-1.3-1.5-1.3-1.5-1.3-1.4-1.3-1.4-1.3-1.4-1.2-1.2-1.3-1.2-1.3-1.1-1.3-0.9-1.3-0.8-1.3-0.7-1.3-0.6-1.3-0.4-1.3-0.4-1.3-0.3-1.3-0.3-1.3-0.2-1.2-0.2-1.3-0.3-1.3-0.2-1.3-0.2-1.3-0.3-1.3-0.3-1.3-0.3-1.3-0.3-1.3-0.4-1.3-0.4-1.3-0.4-1.3-0.4-1.2-0.5-1.3-0.5-1.3-0.5-1.3-0.5-1.3-0.5-1.3-0.6-1.3-0.5-1.3-0.6-1.3-0.6-1.3-0.6-1.3-0.7-1.3-0.6-1.2-0.7-1.3-0.7-1.3-0.7-1.3-0.7-1.3-0.7-1.3-0.7-2.5-1-2.5-1.1-2.5-1.1-2.5-1.2-2.5-1.3-2.5-1.5-2.5-1.6-2.4-1.8-2.5-1.9-2.5-2.2-2.5-2.4-2.5-2.5-2.5-2.5-2.5-2.6-2.5-2.6-2.5-2.5-2.5-2.5-2.5-2.4-2.5-2.5-2.5-2.5-2.5-2.6-2.5-2.7-2.4-2.8-2.5-3-2.5-3.1-2.5-3.2-2.5-3.4-2.5-3.5-2.5-3.7-2.5-3.8-2.5-3.9-2.5-4.1-2.5-4.3-2.5-4.4-2.5-4.6-2.5-4.8-2.4-5.1-2.5-5.4-2.5-5.8-2.5-6-2.5-6.2-2.5-6.1-2.5-6-2.5-5.7-2.5-5.2-2.5-4.8-2.5-4.4-2.5-4-2.5-3.7-2.5-3.3-2.5-3.1-2.4-2.7-2.5-2.6-2.5-2.2-2.5-2-2.5-1.8-2.5-1.6-2.5-1.4-2.5-1.3 3.8 7.9 3.8 7.9 3.8 7.9 3.7 7.9 3.8 7.7 3.8 7.7 3.8 7.6 3.8 7.5 3.8 7.4 3.7 7.2 3.8 7 3.8 6.9 3.8 6.7 3.8 6.5 3.8 6.3 3.8 6.1 3.7 5.8 3.8 5.6 3.8 5.3 3.8 5 3.8 4.7 3.8 4.4 3.7 4.1 3.8 3.9 3.8 3.6 3.8 3.6 3.8 3.5 3.8 3.6 3.8 3.6 3.7 3.6 3.8 3.7 3.8 3.5 3.8 3.5 3.8 3.4 3.8 3.2 3.8 3.2 3.7 3 3.8 2.9 3.8 2.8 3.8 2.7 3.8 2.5 3.8 2.5 3.7 2.2 3.8 2.2 3.8 2.1 3.8 1.9 3.8 1.9 3.8 1.8 3.8 1.8 3.7 1.7 3.8 1.7 3.8 1.7 3.8 1.6 3.8 1.7 3.8 1.5 3.7 1.6 3.8 1.5 3.8 1.6 3.8 1.5z" fill="#4dffb2" />
<defs><linearGradient id="hb0" gradientUnits="userSpaceOnUse" x1="1162" y1="232" x2="1385" y2="475"><stop offset="0.00" stop-color="#78ff87"/><stop offset="0.17" stop-color="#7bff84"/><stop offset="0.33" stop-color="#87ff78"/><stop offset="0.50" stop-color="#93ff6c"/><stop offset="0.67" stop-color="#9eff61"/><stop offset="0.83" stop-color="#a2ff5d"/><stop offset="1.00" stop-color="#a2ff5d"/></linearGradient><linearGradient id="hb1" gradientUnits="userSpaceOnUse" x1="1162" y1="232" x2="1385" y2="475"><stop offset="0.00" stop-color="#34ffcb"/><stop offset="0.17" stop-color="#3bffc4"/><stop offset="0.33" stop-color="#58ffa7"/><stop offset="0.50" stop-color="#74ff8b"/><stop offset="0.67" stop-color="#90ff6f"/><stop offset="0.83" stop-color="#99ff66"/><stop offset="1.00" stop-color="#99ff66"/></linearGradient><linearGradient id="hb2" gradientUnits="userSpaceOnUse" x1="1162" y1="232" x2="1385" y2="475"><stop offset="0.00" stop-color="#00f8ff"/><stop offset="0.17" stop-color="#05fffa"/><stop offset="0.33" stop-color="#2fffd0"/><stop offset="0.50" stop-color="#59ffa6"/><stop offset="0.67" stop-color="#84ff7b"/><stop offset="0.83" stop-color="#92ff6d"/><stop offset="1.00" stop-color="#92ff6d"/></linearGradient><linearGradient id="hb3" gradientUnits="userSpaceOnUse" x1="1162" y1="232" x2="1385" y2="475"><stop offset="0.00" stop-color="#00c1ff"/><stop offset="0.17" stop-color="#00d1ff"/><stop offset="0.33" stop-color="#0afff5"/><stop offset="0.50" stop-color="#41ffbe"/><stop offset="0.67" stop-color="#79ff86"/><stop offset="0.83" stop-color="#8bff74"/><stop offset="1.00" stop-color="#8bff74"/></linearGradient><linearGradient id="hb4" gradientUnits="userSpaceOnUse" x1="1162" y1="232" x2="1385" y2="475"><stop offset="0.00" stop-color="#008eff"/><stop offset="0.17" stop-color="#00a1ff"/><stop offset="0.33" stop-color="#00e5ff"/><stop offset="0.50" stop-color="#2affd5"/><stop offset="0.67" stop-color="#6eff91"/><stop offset="0.83" stop-color="#84ff7b"/><stop offset="1.00" stop-color="#84ff7b"/></linearGradient><linearGradient id="hb5" gradientUnits="userSpaceOnUse" x1="1162" y1="232" x2="1385" y2="475"><stop offset="0.00" stop-color="#005dff"/><stop offset="0.17" stop-color="#0074ff"/><stop offset="0.33" stop-color="#00c3ff"/><stop offset="0.50" stop-color="#14ffeb"/><stop offset="0.67" stop-color="#64ff9b"/><stop offset="0.83" stop-color="#7eff81"/><stop offset="1.00" stop-color="#7eff81"/></linearGradient><linearGradient id="hb6" gradientUnits="userSpaceOnUse" x1="1162" y1="232" x2="1385" y2="475"><stop offset="0.00" stop-color="#002eff"/><stop offset="0.17" stop-color="#0048ff"/><stop offset="0.33" stop-color="#00a3ff"/><stop offset="0.50" stop-color="#00feff"/><stop offset="0.67" stop-color="#5affa5"/><stop offset="0.83" stop-color="#77ff88"/><stop offset="1.00" stop-color="#77ff88"/></linearGradient><linearGradient id="hb7" gradientUnits="userSpaceOnUse" x1="1162" y1="232" x2="1385" y2="475"><stop offset="0.00" stop-color="#0000ff"/><stop offset="0.17" stop-color="#001dff"/><stop offset="0.33" stop-color="#0083ff"/><stop offset="0.50" stop-color="#00eaff"/><stop offset="0.67" stop-color="#51ffae"/><stop offset="0.83" stop-color="#71ff8e"/><stop offset="1.00" stop-color="#71ff8e"/></linearGradient><linearGradient id="hb8" gradientUnits="userSpaceOnUse" x1="1162" y1="232" x2="1385" y2="475"><stop offset="0.00" stop-color="#0000d3"/><stop offset="0.17" stop-color="#0000f2"/><stop offset="0.33" stop-color="#0065ff"/><stop offset="0.50" stop-color="#00d6ff"/><stop offset="0.67" stop-color="#48ffb7"/><stop offset="0.83" stop-color="#6cff93"/><stop offset="1.00" stop-color="#6cff93"/></linearGradient><linearGradient id="hb9" gradientUnits="userSpaceOnUse" x1="1162" y1="232" x2="1385" y2="475"><stop offset="0.00" stop-color="#0000a7"/><stop offset="0.17" stop-color="#0000ca"/><stop offset="0.33" stop-color="#0046ff"/><stop offset="0.50" stop-color="#00c2ff"/><stop offset="0.67" stop-color="#3fffc0"/><stop offset="0.83" stop-color="#66ff99"/><stop offset="1.00" stop-color="#66ff99"/></linearGradient><linearGradient id="hb10" gradientUnits="userSpaceOnUse" x1="1162" y1="232" x2="1385" y2="475"><stop offset="0.00" stop-color="#000080"/><stop offset="0.17" stop-color="#0000a5"/><stop offset="0.33" stop-color="#002bff"/><stop offset="0.50" stop-color="#00b0ff"/><stop offset="0.67" stop-color="#36ffc9"/><stop offset="0.83" stop-color="#61ff9e"/><stop offset="1.00" stop-color="#61ff9e"/></linearGradient><linearGradient id="hb11" gradientUnits="userSpaceOnUse" x1="1162" y1="232" x2="1385" y2="475"><stop offset="0.00" stop-color="#000080"/><stop offset="0.17" stop-color="#0000a5"/><stop offset="0.33" stop-color="#002bff"/><stop offset="0.50" stop-color="#00b0ff"/><stop offset="0.67" stop-color="#36ffc9"/><stop offset="0.83" stop-color="#61ff9e"/><stop offset="1.00" stop-color="#61ff9e"/></linearGradient></defs>
<path d="M1162.4 231.7l1.8 3.9 1.9 3.9 1.9 3.9 1.8 3.9 1.9 3.9 1.9 3.9 1.8 3.9 1.9 3.9 1.9 3.9 1.9 3.9 1.9 3.9 1.9 3.9 1.9 3.8 1.9 3.9 1.9 3.9 2 3.8 2 3.9 1.9 3.8 2 3.9 2.1 3.8 2 3.8 2.1 3.8 2 3.8 2.1 3.8 2.2 3.8 2.1 3.7 2.2 3.8 2.2 3.7 2.2 3.7 2.3 3.6 2.3 3.7 2.4 3.6 2.4 3.6 2.4 3.6 2.5 3.5 2.6 3.5 2.7 3.4 2.7 3.4 2.8 3.2 2.9 3.3 3 3.1 3.1 2.9 3.3 2.9 3.2 2.8 3.2 2.9 3.2 3 3.1 3 3.1 3 3 3.1 3.1 3 3.1 3 3.2 3 3.2 2.9 3.2 2.9 3.3 2.8 3.3 2.7 3.4 2.8 3.4 2.6 3.4 2.6 3.5 2.6 3.6 2.4 3.6 2.4 3.7 2.3 3.7 2.1 3.8 2.1 3.8 2 3.9 2 3.9 1.9 3.9 1.8 3.9 1.8 4 1.8 3.9 1.7 4 1.7 4 1.7 4 1.7 4 1.7 4 1.6 4 1.6 4 1.6-1.9-3.9-2-3.9-2.1-3.8-2.2-3.7-2.4-3.7-2.6-3.5-2.7-3.4-2.8-3.3-3-3.2-3.2-3-3.5-2.5-4-1.7-4.2-1.1-4.3-0.7-4.3-0.9-4.2-1.1-4.1-1.4-4.1-1.5-4-1.7-4-1.8-3.9-2-3.8-2-3.9-2-4-1.6-4-1.8-3.9-1.9-3.8-2.2-3.6-2.5-3.3-2.7-3.2-3-3-3.2-2.9-3.2-3-3.2-3.1-3.1-3.1-3-3.1-3-3.1-3.1-3.1-3.1-3-3.1-2.9-3.2-2.8-3.4-2.8-3.4-2.6-3.4-2.6-3.5-2.5-3.6-2.4-3.6-2.4-3.7-2.3-3.6-2.3-3.8-2.2-3.7-2.2-3.8-2.1-3.8-2.1-3.8-2-3.9-1.9-3.9-1.9-3.9-1.7-4-1.7-4-1.6-4-1.6-4.1-1.5-4.1-1.5-4.1-1.6-4-1.6-4.1-1.7-4-1.7-4-2-3.9-2-3.8-2.2-3.8-2.3-3.7-2.4-3.6-2.6-3.5-2.7-3.4-2.9-3.3-3.1-3.1-3.3-2.8-3.5-2.6-3.8-2.2-3.9-1.8z" fill="url(#hb0)" />
<path d="M1162.4 231.7l2 3.7 2 3.8 2 3.8 2 3.8 2 3.8 1.9 3.9 2 3.8 1.9 3.9 2 3.9 1.9 3.8 1.9 3.9 1.9 3.9 1.9 3.9 1.9 3.9 1.9 3.8 1.9 3.9 2 3.9 1.9 3.9 2 3.8 2 3.9 2 3.8 2 3.8 2.1 3.8 2 3.8 2.1 3.8 2.2 3.7 2.1 3.8 2.2 3.7 2.3 3.7 2.2 3.7 2.3 3.7 2.4 3.6 2.4 3.6 2.5 3.5 2.5 3.6 2.5 3.5 2.7 3.4 2.7 3.4 2.8 3.2 2.9 3.3 3 3.1 3.1 3 3.3 2.8 3.2 2.9 3.2 2.9 3.2 3 3.1 3 3 3 3.1 3.1 3.1 3 3.1 3 3.2 2.9 3.2 2.9 3.3 2.8 3.4 2.7 3.4 2.7 3.4 2.6 3.4 2.6 3.5 2.6 3.5 2.4 3.6 2.4 3.7 2.3 3.7 2.2 3.8 2.1 3.8 2 3.9 1.9 3.9 1.9 3.9 1.9 3.9 1.9 3.8 1.8 3.9 1.9 3.8 1.9 3.9 1.9 3.9 1.8 3.8 1.9 3.9 1.8 3.8 1.8 3.9 1.8 3.8 1.8-1.9-3.9-2-3.9-2.1-3.8-2.2-3.7-2.4-3.7-2.6-3.5-2.7-3.4-2.8-3.3-3-3.2-3.2-3-3.5-2.5-4-1.7-4.2-1.1-4.3-0.7-4.3-0.9-4.2-1.1-4.1-1.4-4.1-1.5-4-1.7-4-1.8-3.9-2-3.8-2-3.9-2-4-1.6-4-1.8-3.9-1.9-3.8-2.2-3.6-2.5-3.3-2.7-3.2-3-3-3.2-2.9-3.2-3-3.2-3.1-3.1-3.1-3-3.1-3-3.1-3.1-3.1-3.1-3-3.1-2.9-3.2-2.8-3.4-2.8-3.4-2.6-3.4-2.6-3.5-2.5-3.6-2.4-3.6-2.4-3.7-2.3-3.6-2.3-3.8-2.2-3.7-2.2-3.8-2.1-3.8-2.1-3.8-2-3.9-1.9-3.9-1.9-3.9-1.7-4-1.7-4-1.6-4-1.6-4.1-1.5-4.1-1.5-4.1-1.6-4-1.6-4.1-1.7-4-1.7-4-2-3.9-2-3.8-2.2-3.8-2.3-3.7-2.4-3.6-2.6-3.5-2.7-3.4-2.9-3.3-3.1-3.1-3.3-2.8-3.5-2.6-3.8-2.2-3.9-1.8z" fill="url(#hb1)" />
<path d="M1162.4 231.7l2.2 3.6 2.2 3.6 2.1 3.7 2.1 3.7 2.1 3.8 2 3.7 2 3.9 2 3.8 2 3.8 2 3.9 1.9 3.9 1.9 3.8 1.9 3.9 1.9 3.9 1.9 3.9 1.9 3.9 1.9 3.9 1.9 3.9 1.9 3.8 2 3.9 1.9 3.9 2 3.8 2.1 3.8 2 3.8 2.1 3.8 2.1 3.8 2.2 3.7 2.2 3.8 2.2 3.7 2.3 3.7 2.3 3.6 2.3 3.7 2.5 3.6 2.4 3.5 2.5 3.6 2.6 3.4 2.6 3.5 2.7 3.4 2.8 3.2 2.9 3.3 3 3.1 3.2 3 3.2 2.8 3.2 2.9 3.2 2.9 3.2 3 3 3.1 3.1 3 3.1 3.1 3.1 3 3.1 3 3.2 2.9 3.3 2.8 3.4 2.7 3.4 2.6 3.4 2.6 3.5 2.6 3.4 2.5 3.6 2.5 3.5 2.4 3.7 2.4 3.7 2.2 3.7 2.1 3.8 2 3.9 1.9 3.9 1.8 3.9 1.8 3.9 1.9 3.9 1.9 3.8 2 3.8 2 3.8 2 3.7 2 3.7 2 3.8 2 3.7 2 3.7 2 3.6 2 3.7 2-1.9-3.9-2-3.9-2.1-3.8-2.2-3.7-2.4-3.7-2.6-3.5-2.7-3.4-2.8-3.3-3-3.2-3.2-3-3.5-2.5-4-1.7-4.2-1.1-4.3-0.7-4.3-0.9-4.2-1.1-4.1-1.4-4.1-1.5-4-1.7-4-1.8-3.9-2-3.8-2-3.9-2-4-1.6-4-1.8-3.9-1.9-3.8-2.2-3.6-2.5-3.3-2.7-3.2-3-3-3.2-2.9-3.2-3-3.2-3.1-3.1-3.1-3-3.1-3-3.1-3.1-3.1-3.1-3-3.1-2.9-3.2-2.8-3.4-2.8-3.4-2.6-3.4-2.6-3.5-2.5-3.6-2.4-3.6-2.4-3.7-2.3-3.6-2.3-3.8-2.2-3.7-2.2-3.8-2.1-3.8-2.1-3.8-2-3.9-1.9-3.9-1.9-3.9-1.7-4-1.7-4-1.6-4-1.6-4.1-1.5-4.1-1.5-4.1-1.6-4-1.6-4.1-1.7-4-1.7-4-2-3.9-2-3.8-2.2-3.8-2.3-3.7-2.4-3.6-2.6-3.5-2.7-3.4-2.9-3.3-3.1-3.1-3.3-2.8-3.5-2.6-3.8-2.2-3.9-1.8z" fill="url(#hb2)" />
<path d="M1162.4 231.7l2.4 3.4 2.3 3.5 2.3 3.5 2.2 3.7 2.2 3.7 2.1 3.7 2.1 3.8 2 3.8 2.1 3.8 2 3.8 1.9 3.9 2 3.9 1.9 3.9 1.8 3.9 1.9 3.9 1.9 3.9 1.8 3.9 1.9 3.9 1.9 3.9 1.9 3.9 1.9 3.8 2 3.9 2 3.8 2 3.8 2.1 3.8 2.1 3.8 2.1 3.8 2.2 3.7 2.3 3.8 2.2 3.6 2.3 3.7 2.4 3.6 2.4 3.6 2.4 3.6 2.5 3.6 2.6 3.4 2.6 3.5 2.8 3.4 2.8 3.3 2.9 3.2 3 3.1 3.1 3 3.2 2.9 3.3 2.9 3.1 2.9 3.1 3 3.1 3.1 3.1 3 3 3.1 3.1 3 3.2 3 3.3 2.8 3.3 2.7 3.4 2.7 3.5 2.5 3.5 2.5 3.5 2.5 3.5 2.5 3.5 2.5 3.6 2.3 3.7 2.3 3.8 2.2 3.7 2 3.9 1.9 3.9 1.8 3.9 1.7 4 1.7 3.9 1.9 3.8 2 3.8 2.1 3.7 2.1 3.7 2.1 3.6 2.2 3.6 2.1 3.6 2.2 3.6 2.2 3.5 2.2 3.5 2.1 3.5 2.2-1.9-3.9-2-3.9-2.1-3.8-2.2-3.7-2.4-3.7-2.6-3.5-2.7-3.4-2.8-3.3-3-3.2-3.2-3-3.5-2.5-4-1.7-4.2-1.1-4.3-0.7-4.3-0.9-4.2-1.1-4.1-1.4-4.1-1.5-4-1.7-4-1.8-3.9-2-3.8-2-3.9-2-4-1.6-4-1.8-3.9-1.9-3.8-2.2-3.6-2.5-3.3-2.7-3.2-3-3-3.2-2.9-3.2-3-3.2-3.1-3.1-3.1-3-3.1-3-3.1-3.1-3.1-3.1-3-3.1-2.9-3.2-2.8-3.4-2.8-3.4-2.6-3.4-2.6-3.5-2.5-3.6-2.4-3.6-2.4-3.7-2.3-3.6-2.3-3.8-2.2-3.7-2.2-3.8-2.1-3.8-2.1-3.8-2-3.9-1.9-3.9-1.9-3.9-1.7-4-1.7-4-1.6-4-1.6-4.1-1.5-4.1-1.5-4.1-1.6-4-1.6-4.1-1.7-4-1.7-4-2-3.9-2-3.8-2.2-3.8-2.3-3.7-2.4-3.6-2.6-3.5-2.7-3.4-2.9-3.3-3.1-3.1-3.3-2.8-3.5-2.6-3.8-2.2-3.9-1.8z" fill="url(#hb3)" />
<path d="M1162.4 231.7l2.5 3.2 2.5 3.4 2.5 3.4 2.3 3.6 2.3 3.6 2.2 3.7 2.1 3.7 2.1 3.8 2.1 3.8 2 3.8 2 3.8 2 3.9 1.9 3.9 1.9 3.9 1.8 3.9 1.8 3.9 1.9 4 1.8 3.9 1.8 3.9 1.9 3.9 1.9 3.9 1.9 3.9 2 3.8 2 3.9 2.1 3.8 2.1 3.8 2.1 3.7 2.2 3.8 2.2 3.7 2.3 3.7 2.3 3.7 2.3 3.6 2.4 3.6 2.5 3.6 2.5 3.5 2.5 3.5 2.7 3.5 2.7 3.4 2.8 3.3 2.9 3.2 3 3.1 3.1 3 3.2 2.9 3.3 2.9 3.1 3 3.1 3 3.1 3 3 3.1 3.1 3.1 3.1 3 3.2 3 3.3 2.7 3.4 2.7 3.4 2.6 3.6 2.4 3.5 2.4 3.5 2.5 3.6 2.5 3.6 2.3 3.7 2.3 3.7 2.2 3.7 2.1 3.9 2 3.9 1.8 3.9 1.7 4 1.6 4 1.6 3.9 1.9 3.8 2 3.7 2.2 3.6 2.3 3.6 2.2 3.5 2.3 3.5 2.3 3.5 2.4 3.4 2.3 3.3 2.4 3.4 2.3 3.3 2.4-1.9-3.9-2-3.9-2.1-3.8-2.2-3.7-2.4-3.7-2.6-3.5-2.7-3.4-2.8-3.3-3-3.2-3.2-3-3.5-2.5-4-1.7-4.2-1.1-4.3-0.7-4.3-0.9-4.2-1.1-4.1-1.4-4.1-1.5-4-1.7-4-1.8-3.9-2-3.8-2-3.9-2-4-1.6-4-1.8-3.9-1.9-3.8-2.2-3.6-2.5-3.3-2.7-3.2-3-3-3.2-2.9-3.2-3-3.2-3.1-3.1-3.1-3-3.1-3-3.1-3.1-3.1-3.1-3-3.1-2.9-3.2-2.8-3.4-2.8-3.4-2.6-3.4-2.6-3.5-2.5-3.6-2.4-3.6-2.4-3.7-2.3-3.6-2.3-3.8-2.2-3.7-2.2-3.8-2.1-3.8-2.1-3.8-2-3.9-1.9-3.9-1.9-3.9-1.7-4-1.7-4-1.6-4-1.6-4.1-1.5-4.1-1.5-4.1-1.6-4-1.6-4.1-1.7-4-1.7-4-2-3.9-2-3.8-2.2-3.8-2.3-3.7-2.4-3.6-2.6-3.5-2.7-3.4-2.9-3.3-3.1-3.1-3.3-2.8-3.5-2.6-3.8-2.2-3.9-1.8z" fill="url(#hb4)" />
<path d="M1162.4 231.7l2.7 3 2.7 3.2 2.5 3.4 2.5 3.4 2.3 3.6 2.3 3.6 2.3 3.7 2.1 3.8 2.2 3.7 2 3.8 2 3.9 2 3.8 1.9 3.9 1.9 4 1.8 3.9 1.8 3.9 1.8 4 1.8 3.9 1.8 3.9 1.8 4 1.9 3.9 1.9 3.9 1.9 3.8 2 3.9 2.1 3.8 2 3.8 2.2 3.8 2.1 3.7 2.2 3.8 2.3 3.7 2.3 3.7 2.4 3.6 2.4 3.6 2.4 3.6 2.5 3.5 2.6 3.5 2.6 3.5 2.7 3.3 2.8 3.4 2.9 3.2 3 3.1 3.2 3 3.2 2.9 3.2 3 3.1 2.9 3.1 3 3.1 3.1 3 3.1 3.1 3.1 3.1 3 3.2 2.9 3.3 2.8 3.5 2.6 3.5 2.5 3.5 2.4 3.7 2.2 3.5 2.5 3.6 2.4 3.7 2.3 3.7 2.2 3.7 2.2 3.8 2 3.9 1.9 3.9 1.7 4 1.6 4 1.5 4 1.6 4 1.8 3.7 2.1 3.6 2.3 3.6 2.3 3.5 2.4 3.4 2.5 3.4 2.4 3.3 2.5 3.3 2.5 3.2 2.6 3.2 2.5 3.1 2.6-1.9-3.9-2-3.9-2.1-3.8-2.2-3.7-2.4-3.7-2.6-3.5-2.7-3.4-2.8-3.3-3-3.2-3.2-3-3.5-2.5-4-1.7-4.2-1.1-4.3-0.7-4.3-0.9-4.2-1.1-4.1-1.4-4.1-1.5-4-1.7-4-1.8-3.9-2-3.8-2-3.9-2-4-1.6-4-1.8-3.9-1.9-3.8-2.2-3.6-2.5-3.3-2.7-3.2-3-3-3.2-2.9-3.2-3-3.2-3.1-3.1-3.1-3-3.1-3-3.1-3.1-3.1-3.1-3-3.1-2.9-3.2-2.8-3.4-2.8-3.4-2.6-3.4-2.6-3.5-2.5-3.6-2.4-3.6-2.4-3.7-2.3-3.6-2.3-3.8-2.2-3.7-2.2-3.8-2.1-3.8-2.1-3.8-2-3.9-1.9-3.9-1.9-3.9-1.7-4-1.7-4-1.6-4-1.6-4.1-1.5-4.1-1.5-4.1-1.6-4-1.6-4.1-1.7-4-1.7-4-2-3.9-2-3.8-2.2-3.8-2.3-3.7-2.4-3.6-2.6-3.5-2.7-3.4-2.9-3.3-3.1-3.1-3.3-2.8-3.5-2.6-3.8-2.2-3.9-1.8z" fill="url(#hb5)" />
<path d="M1162.4 231.7l2.9 2.9 2.8 3 2.7 3.2 2.6 3.4 2.4 3.5 2.4 3.6 2.3 3.6 2.3 3.7 2.1 3.8 2.1 3.8 2 3.8 2 3.9 1.9 3.9 1.9 3.9 1.8 3.9 1.8 4 1.7 4 1.8 3.9 1.7 4 1.8 3.9 1.8 4 1.9 3.9 1.9 3.8 2 3.9 2 3.8 2.1 3.8 2.1 3.8 2.2 3.8 2.2 3.7 2.2 3.7 2.3 3.7 2.4 3.7 2.4 3.6 2.4 3.6 2.5 3.5 2.6 3.5 2.6 3.5 2.8 3.3 2.8 3.4 2.9 3.2 3 3.1 3.1 3 3.2 3 3.2 2.9 3.1 3 3.1 3 3.1 3.1 3 3.1 3 3.1 3.1 3 3.3 2.9 3.4 2.7 3.4 2.6 3.6 2.4 3.6 2.3 3.7 2.2 3.6 2.3 3.7 2.4 3.6 2.3 3.8 2.1 3.7 2.1 3.9 2 3.9 1.8 4 1.6 4 1.5 4 1.4 4.1 1.5 3.9 1.8 3.8 2.2 3.5 2.3 3.5 2.5 3.4 2.5 3.3 2.6 3.3 2.6 3.2 2.7 3.1 2.7 3 2.7 3 2.8 3 2.7-1.9-3.9-2-3.9-2.1-3.8-2.2-3.7-2.4-3.7-2.6-3.5-2.7-3.4-2.8-3.3-3-3.2-3.2-3-3.5-2.5-4-1.7-4.2-1.1-4.3-0.7-4.3-0.9-4.2-1.1-4.1-1.4-4.1-1.5-4-1.7-4-1.8-3.9-2-3.8-2-3.9-2-4-1.6-4-1.8-3.9-1.9-3.8-2.2-3.6-2.5-3.3-2.7-3.2-3-3-3.2-2.9-3.2-3-3.2-3.1-3.1-3.1-3-3.1-3-3.1-3.1-3.1-3.1-3-3.1-2.9-3.2-2.8-3.4-2.8-3.4-2.6-3.4-2.6-3.5-2.5-3.6-2.4-3.6-2.4-3.7-2.3-3.6-2.3-3.8-2.2-3.7-2.2-3.8-2.1-3.8-2.1-3.8-2-3.9-1.9-3.9-1.9-3.9-1.7-4-1.7-4-1.6-4-1.6-4.1-1.5-4.1-1.5-4.1-1.6-4-1.6-4.1-1.7-4-1.7-4-2-3.9-2-3.8-2.2-3.8-2.3-3.7-2.4-3.6-2.6-3.5-2.7-3.4-2.9-3.3-3.1-3.1-3.3-2.8-3.5-2.6-3.8-2.2-3.9-1.8z" fill="url(#hb6)" />
<path d="M1162.4 231.7l3.1 2.7 2.9 2.9 2.9 3.1 2.7 3.3 2.5 3.4 2.5 3.6 2.4 3.6 2.3 3.6 2.2 3.8 2.1 3.7 2 3.9 2 3.8 1.9 3.9 1.9 3.9 1.8 4 1.7 4 1.7 4 1.7 3.9 1.8 4 1.7 4 1.8 3.9 1.8 4 2 3.8 1.9 3.9 2 3.9 2.1 3.8 2.1 3.8 2.1 3.8 2.2 3.7 2.3 3.7 2.3 3.7 2.3 3.7 2.4 3.6 2.5 3.6 2.5 3.5 2.5 3.5 2.7 3.5 2.7 3.3 2.8 3.4 2.9 3.2 3 3.1 3.1 3 3.2 3 3.2 2.9 3.1 3 3.1 3.1 3.1 3.1 3 3.1 3 3.1 3.1 3 3.3 2.9 3.4 2.7 3.5 2.5 3.6 2.3 3.7 2.2 3.8 2.1 3.6 2.3 3.7 2.3 3.7 2.2 3.8 2.1 3.8 2 3.9 1.9 3.9 1.8 4 1.5 4.1 1.4 4.1 1.3 4.1 1.4 3.9 1.8 3.7 2.2 3.5 2.5 3.4 2.6 3.3 2.7 3.2 2.7 3.2 2.7 3 2.9 3 2.8 2.9 2.9 2.8 3 2.8 2.9-1.9-3.9-2-3.9-2.1-3.8-2.2-3.7-2.4-3.7-2.6-3.5-2.7-3.4-2.8-3.3-3-3.2-3.2-3-3.5-2.5-4-1.7-4.2-1.1-4.3-0.7-4.3-0.9-4.2-1.1-4.1-1.4-4.1-1.5-4-1.7-4-1.8-3.9-2-3.8-2-3.9-2-4-1.6-4-1.8-3.9-1.9-3.8-2.2-3.6-2.5-3.3-2.7-3.2-3-3-3.2-2.9-3.2-3-3.2-3.1-3.1-3.1-3-3.1-3-3.1-3.1-3.1-3.1-3-3.1-2.9-3.2-2.8-3.4-2.8-3.4-2.6-3.4-2.6-3.5-2.5-3.6-2.4-3.6-2.4-3.7-2.3-3.6-2.3-3.8-2.2-3.7-2.2-3.8-2.1-3.8-2.1-3.8-2-3.9-1.9-3.9-1.9-3.9-1.7-4-1.7-4-1.6-4-1.6-4.1-1.5-4.1-1.5-4.1-1.6-4-1.6-4.1-1.7-4-1.7-4-2-3.9-2-3.8-2.2-3.8-2.3-3.7-2.4-3.6-2.6-3.5-2.7-3.4-2.9-3.3-3.1-3.1-3.3-2.8-3.5-2.6-3.8-2.2-3.9-1.8z" fill="url(#hb7)" />
<path d="M1162.4 231.7l3.2 2.5 3.2 2.8 2.9 3 2.9 3.2 2.6 3.4 2.6 3.4 2.4 3.6 2.4 3.6 2.2 3.7 2.2 3.8 2.1 3.8 2 3.9 1.9 3.9 1.8 3.9 1.8 4 1.7 4 1.7 3.9 1.6 4.1 1.7 3.9 1.7 4 1.8 4 1.8 3.9 1.9 4 1.9 3.8 2 3.9 2.1 3.8 2.1 3.8 2.1 3.8 2.2 3.8 2.2 3.7 2.3 3.7 2.4 3.6 2.3 3.7 2.5 3.6 2.5 3.5 2.6 3.5 2.6 3.5 2.7 3.3 2.8 3.4 2.9 3.2 3.1 3.1 3.1 3.1 3.1 2.9 3.2 3 3.1 3 3.1 3.1 3 3.1 3 3.1 3.1 3.1 3.1 3 3.3 2.9 3.4 2.6 3.6 2.4 3.7 2.3 3.7 2.1 3.8 2 3.7 2.2 3.7 2.3 3.8 2.2 3.8 2 3.8 2 3.9 1.8 4 1.6 4.1 1.5 4.1 1.3 4.1 1.2 4.1 1.3 4 1.8 3.7 2.3 3.4 2.6 3.3 2.7 3.2 2.8 3.1 2.8 3 2.9 3 3 2.8 3.1 2.7 3 2.7 3.2 2.6 3.1-1.9-3.9-2-3.9-2.1-3.8-2.2-3.7-2.4-3.7-2.6-3.5-2.7-3.4-2.8-3.3-3-3.2-3.2-3-3.5-2.5-4-1.7-4.2-1.1-4.3-0.7-4.3-0.9-4.2-1.1-4.1-1.4-4.1-1.5-4-1.7-4-1.8-3.9-2-3.8-2-3.9-2-4-1.6-4-1.8-3.9-1.9-3.8-2.2-3.6-2.5-3.3-2.7-3.2-3-3-3.2-2.9-3.2-3-3.2-3.1-3.1-3.1-3-3.1-3-3.1-3.1-3.1-3.1-3-3.1-2.9-3.2-2.8-3.4-2.8-3.4-2.6-3.4-2.6-3.5-2.5-3.6-2.4-3.6-2.4-3.7-2.3-3.6-2.3-3.8-2.2-3.7-2.2-3.8-2.1-3.8-2.1-3.8-2-3.9-1.9-3.9-1.9-3.9-1.7-4-1.7-4-1.6-4-1.6-4.1-1.5-4.1-1.5-4.1-1.6-4-1.6-4.1-1.7-4-1.7-4-2-3.9-2-3.8-2.2-3.8-2.3-3.7-2.4-3.6-2.6-3.5-2.7-3.4-2.9-3.3-3.1-3.1-3.3-2.8-3.5-2.6-3.8-2.2-3.9-1.8z" fill="url(#hb8)" />
<path d="M1162.4 231.7l3.4 2.4 3.3 2.6 3.1 2.9 2.9 3.1 2.8 3.3 2.6 3.4 2.6 3.5 2.4 3.6 2.3 3.7 2.2 3.7 2.1 3.8 2 3.9 1.9 3.9 1.8 3.9 1.7 4 1.7 4 1.7 4 1.6 4.1 1.7 4 1.6 4 1.7 4 1.8 3.9 1.9 4 1.9 3.9 2 3.8 2 3.9 2.1 3.8 2.2 3.8 2.1 3.7 2.3 3.7 2.3 3.7 2.3 3.7 2.4 3.6 2.4 3.6 2.5 3.6 2.6 3.5 2.6 3.5 2.8 3.3 2.8 3.4 2.9 3.2 3 3.1 3.1 3.1 3.1 3 3.2 2.9 3.1 3.1 3.1 3 3 3.2 3 3.1 3 3.1 3.2 3.1 3.3 2.8 3.4 2.6 3.7 2.3 3.7 2.2 3.8 2 3.9 1.9 3.7 2.2 3.7 2.2 3.8 2.1 3.9 2 3.9 1.9 3.9 1.8 4 1.5 4.1 1.4 4.2 1.2 4.2 1.1 4.1 1.2 3.9 1.8 3.7 2.3 3.4 2.7 3.2 2.9 3.1 2.9 3 3 2.9 3 2.8 3.2 2.7 3.2 2.6 3.3 2.5 3.3 2.4 3.3-1.9-3.9-2-3.9-2.1-3.8-2.2-3.7-2.4-3.7-2.6-3.5-2.7-3.4-2.8-3.3-3-3.2-3.2-3-3.5-2.5-4-1.7-4.2-1.1-4.3-0.7-4.3-0.9-4.2-1.1-4.1-1.4-4.1-1.5-4-1.7-4-1.8-3.9-2-3.8-2-3.9-2-4-1.6-4-1.8-3.9-1.9-3.8-2.2-3.6-2.5-3.3-2.7-3.2-3-3-3.2-2.9-3.2-3-3.2-3.1-3.1-3.1-3-3.1-3-3.1-3.1-3.1-3.1-3-3.1-2.9-3.2-2.8-3.4-2.8-3.4-2.6-3.4-2.6-3.5-2.5-3.6-2.4-3.6-2.4-3.7-2.3-3.6-2.3-3.8-2.2-3.7-2.2-3.8-2.1-3.8-2.1-3.8-2-3.9-1.9-3.9-1.9-3.9-1.7-4-1.7-4-1.6-4-1.6-4.1-1.5-4.1-1.5-4.1-1.6-4-1.6-4.1-1.7-4-1.7-4-2-3.9-2-3.8-2.2-3.8-2.3-3.7-2.4-3.6-2.6-3.5-2.7-3.4-2.9-3.3-3.1-3.1-3.3-2.8-3.5-2.6-3.8-2.2-3.9-1.8z" fill="url(#hb9)" />
<path d="M1162.4 231.7l3.6 2.2 3.4 2.5 3.3 2.7 3 3.1 2.9 3.2 2.7 3.4 2.6 3.4 2.5 3.6 2.3 3.7 2.2 3.7 2.2 3.8 2 3.8 1.9 3.9 1.8 4 1.7 4 1.7 4 1.6 4 1.6 4.1 1.6 4 1.6 4 1.7 4.1 1.8 3.9 1.8 4 1.9 3.9 2 3.9 2 3.8 2.1 3.8 2.1 3.8 2.2 3.8 2.2 3.7 2.3 3.7 2.3 3.7 2.4 3.6 2.5 3.6 2.4 3.6 2.6 3.5 2.7 3.5 2.7 3.3 2.8 3.4 2.9 3.2 3 3.1 3.1 3.1 3.2 3 3.1 3 3.1 3 3.1 3.1 3 3.1 3 3.2 3 3.1 3.1 3.1 3.3 2.8 3.6 2.5 3.6 2.3 3.8 2.1 3.9 2 3.9 1.8 3.8 2.1 3.8 2.1 3.8 2.1 3.9 1.9 3.9 1.8 4 1.7 4.1 1.5 4.1 1.3 4.2 1.1 4.2 1 4.2 1.2 3.9 1.7 3.6 2.4 3.3 2.8 3.2 2.9 3 3.1 2.9 3.1 2.8 3.2 2.7 3.3 2.5 3.4 2.4 3.5 2.3 3.5 2.3 3.5-1.9-3.9-2-3.9-2.1-3.8-2.2-3.7-2.4-3.7-2.6-3.5-2.7-3.4-2.8-3.3-3-3.2-3.2-3-3.5-2.5-4-1.7-4.2-1.1-4.3-0.7-4.3-0.9-4.2-1.1-4.1-1.4-4.1-1.5-4-1.7-4-1.8-3.9-2-3.8-2-3.9-2-4-1.6-4-1.8-3.9-1.9-3.8-2.2-3.6-2.5-3.3-2.7-3.2-3-3-3.2-2.9-3.2-3-3.2-3.1-3.1-3.1-3-3.1-3-3.1-3.1-3.1-3.1-3-3.1-2.9-3.2-2.8-3.4-2.8-3.4-2.6-3.4-2.6-3.5-2.5-3.6-2.4-3.6-2.4-3.7-2.3-3.6-2.3-3.8-2.2-3.7-2.2-3.8-2.1-3.8-2.1-3.8-2-3.9-1.9-3.9-1.9-3.9-1.7-4-1.7-4-1.6-4-1.6-4.1-1.5-4.1-1.5-4.1-1.6-4-1.6-4.1-1.7-4-1.7-4-2-3.9-2-3.8-2.2-3.8-2.3-3.7-2.4-3.6-2.6-3.5-2.7-3.4-2.9-3.3-3.1-3.1-3.3-2.8-3.5-2.6-3.8-2.2-3.9-1.8z" fill="url(#hb10)" />
<path d="M1162.4 231.7l3.8 2 3.6 2.3 3.4 2.7 3.1 3 3 3.1 2.8 3.3 2.7 3.5 2.5 3.5 2.4 3.6 2.2 3.7 2.2 3.8 2 3.9 1.9 3.9 1.8 3.9 1.7 4 1.7 4.1 1.5 4 1.6 4.1 1.6 4.1 1.5 4 1.7 4 1.7 4 1.8 4 1.9 3.9 2 3.9 2 3.8 2 3.9 2.2 3.8 2.1 3.7 2.3 3.8 2.2 3.7 2.4 3.7 2.3 3.6 2.5 3.6 2.5 3.6 2.5 3.5 2.7 3.5 2.7 3.3 2.8 3.4 2.9 3.2 3.1 3.1 3 3.1 3.2 3 3.1 3 3.1 3.1 3.1 3.1 3 3.1 2.9 3.2 3.1 3.2 3.1 3 3.3 2.8 3.6 2.4 3.7 2.3 3.9 2 3.9 1.9 4 1.7 3.8 2 3.8 2.1 3.9 2 3.9 1.9 3.9 1.8 4.1 1.6 4.1 1.4 4.2 1.2 4.2 1 4.2 0.9 4.2 1.1 4 1.7 3.6 2.5 3.2 2.9 3.1 3 2.9 3.2 2.8 3.3 2.7 3.3 2.5 3.5 2.4 3.6 2.2 3.6 2.2 3.7 2.1 3.7-1.9-3.9-2-3.9-2.1-3.8-2.2-3.7-2.4-3.7-2.6-3.5-2.7-3.4-2.8-3.3-3-3.2-3.2-3-3.5-2.5-4-1.7-4.2-1.1-4.3-0.7-4.3-0.9-4.2-1.1-4.1-1.4-4.1-1.5-4-1.7-4-1.8-3.9-2-3.8-2-3.9-2-4-1.6-4-1.8-3.9-1.9-3.8-2.2-3.6-2.5-3.3-2.7-3.2-3-3-3.2-2.9-3.2-3-3.2-3.1-3.1-3.1-3-3.1-3-3.1-3.1-3.1-3.1-3-3.1-2.9-3.2-2.8-3.4-2.8-3.4-2.6-3.4-2.6-3.5-2.5-3.6-2.4-3.6-2.4-3.7-2.3-3.6-2.3-3.8-2.2-3.7-2.2-3.8-2.1-3.8-2.1-3.8-2-3.9-1.9-3.9-1.9-3.9-1.7-4-1.7-4-1.6-4-1.6-4.1-1.5-4.1-1.5-4.1-1.6-4-1.6-4.1-1.7-4-1.7-4-2-3.9-2-3.8-2.2-3.8-2.3-3.7-2.4-3.6-2.6-3.5-2.7-3.4-2.9-3.3-3.1-3.1-3.3-2.8-3.5-2.6-3.8-2.2-3.9-1.8z" fill="url(#hb11)" />
<path d="M1172.4 245.1l2.3 3.6 2.2 3.7 2.2 3.7 2.1 3.7 2.1 3.8 2.1 3.8 1.9 3.9 2 3.9 1.9 3.9 1.9 3.9 1.8 3.9 1.8 3.9 1.8 3.9 1.9 4 1.8 3.9 1.8 3.9 1.9 3.9 2 3.9 1.9 3.8 2 3.9 2.1 3.8 2.1 3.8 2.1 3.8 2.2 3.7 2.2 3.7 2.3 3.7 2.3 3.7 2.3 3.7 2.4 3.6 2.5 3.5 2.5 3.6 2.5 3.5 2.7 3.4 2.7 3.4 2.8 3.3 2.9 3.2 3 3.1 3.1 3 3.2 3 3.3 2.9 3.1 2.9 3.1 3 3.1 3.1 3 3.1 3.1 3.1 3.1 3 3.2 2.9 3.3 2.8 3.4 2.7 3.5 2.5 3.5 2.4 3.6 2.4 3.5 2.4 3.6 2.5 3.6 2.3 3.7 2.3 3.7 2.2 3.8 2.1 3.8 1.9 3.9 1.8 4 1.7 4 1.5 4 1.6 3.9 1.9 3.8 2 3.6 2.3 3.6 2.2 3.6 2.4 3.5 2.3 3.5 2.3 3.4 2.4 3.3 2.4 3.4 2.5" fill="none" stroke="#808080" stroke-width="1.8" stroke-linejoin="round"/>
<path d="M1174.9 242.9l2.8 3.3 2.6 3.4 2.5 3.6 2.3 3.6 2.3 3.7 2.2 3.7 2.1 3.8 2 3.9 1.9 3.9 1.8 3.9 1.8 4 1.7 4 1.6 4 1.7 4 1.7 4 1.6 4 1.8 4 1.8 4 1.8 3.9 2 3.9 1.9 3.8 2.1 3.9 2.1 3.8 2.1 3.8 2.2 3.7 2.2 3.7 2.3 3.7 2.4 3.7 2.4 3.6 2.4 3.6 2.5 3.6 2.6 3.5 2.6 3.4 2.7 3.4 2.8 3.3 3 3.3 3 3.1 3.1 3 3.1 3 3.2 3 3.1 3 3.1 3.1 3 3.1 3 3.2 3 3.1 3.2 3 3.2 2.8 3.5 2.6 3.6 2.4 3.7 2.2 3.8 2.1 3.9 1.9 3.7 2.2 3.7 2.2 3.8 2.2 3.8 2 3.9 1.9 3.9 1.8 4 1.6 4.1 1.4 4.2 1.2 4.1 1.1 4.1 1.3 4 1.8 3.6 2.3 3.4 2.6 3.3 2.8 3.1 2.9 3.1 2.9 2.9 3.1 2.9 3 2.7 3.2 2.6 3.2" fill="none" stroke="#808080" stroke-width="1.8" stroke-linejoin="round"/>
<path d="M1173.6 255.1l8.5 1.5 8.5 1.4" fill="none" stroke="#808080" stroke-width="1.8" stroke-linejoin="round"/>
<path d="M1186.8 282.3l8.7 1.5 8.6 1.5" fill="none" stroke="#808080" stroke-width="1.8" stroke-linejoin="round"/>
<path d="M1200.6 309.3l7.3 2.1 7.4 2.2" fill="none" stroke="#808080" stroke-width="1.8" stroke-linejoin="round"/>
<path d="M1215.3 335.8l7.2 2.3 7.2 2.3" fill="none" stroke="#808080" stroke-width="1.8" stroke-linejoin="round"/>
<path d="M1231.5 361.3l7.7 2.2 7.6 2.1" fill="none" stroke="#808080" stroke-width="1.8" stroke-linejoin="round"/>
<path d="M1250.7 384.7l8.4 1.6 8.5 1.6" fill="none" stroke="#808080" stroke-width="1.8" stroke-linejoin="round"/>
<path d="M1272.9 405.2l8.1 2.1 8.2 2" fill="none" stroke="#808080" stroke-width="1.8" stroke-linejoin="round"/>
<path d="M1295 425.9l10.6-1.3 10.6-1.3" fill="none" stroke="#808080" stroke-width="1.8" stroke-linejoin="round"/>
<path d="M1319.2 444l12.8-5.2 12.8-5.1" fill="none" stroke="#808080" stroke-width="1.8" stroke-linejoin="round"/>
<path d="M1345.9 458.2l12-4.5 11.9-4.5" fill="none" stroke="#808080" stroke-width="1.8" stroke-linejoin="round"/>
<path d="M1167 724l3.7-6.7 3.7-6.7 3.7-6.7 3.7-6.9 3.7-7 3.7-7.1 3.7-7.2 3.8-7.4 3.7-7.5 3.7-7.5 3.7-7.3 3.7-7.1 3.7-6.8 3.7-6.5 3.7-6.2 3.7-6.1 3.7-6 3.7-5.9 3.7-6 3.7-5.9 3.7-5.8 3.7-5.7 3.8-5.5 3.7-5.3 3.7-5.2 3.7-4.9 3.7-4.8 3.7-4.7 3.7-4.6 3.7-4.5 3.7-4.4 3.7-4.3 3.7-4.2 3.7-4.1 3.7-3.8 3.7-3.6 3.8-3.4 3.7-3.2 3.7-2.9 3.7-2.8 3.7-2.5 3.7-2.3 3.7-2.1 3.7-1.9 3.7-1.8 3.7-1.6 3.7-1.5 3.7-1.5 3.7-1.5 3.7-1.5 3.7-1.5 3.8-1.3 3.7-1.3 3.7-1 3.7-0.9 3.7-0.8 3.7-0.7 3.7-0.5 3.7-0.5-3.8-1.5-3.8-1.6-3.8-1.5-3.7-1.6-3.8-1.5-3.8-1.7-3.8-1.6-3.8-1.7-3.8-1.7-3.7-1.7-3.8-1.8-3.8-1.8-3.8-1.9-3.8-1.9-3.8-2.1-3.8-2.2-3.7-2.2-3.8-2.5-3.8-2.5-3.8-2.7-3.8-2.8-3.8-2.9-3.7-3-3.8-3.2-3.8-3.2-3.8-3.4-3.8-3.5-3.8-3.5-3.8-3.7-3.7-3.6-3.8-3.6-3.8-3.6-3.8-3.5-3.8-3.6-3.8-3.6-3.8-3.9-3.7-4.1-3.8-4.4-3.8-4.7-3.8-5-3.8-5.3-3.8-5.6-3.7-5.8-3.8-6.1-3.8-6.3-3.8-6.5-3.8-6.7-3.8-6.9-3.8-7-3.7-7.2-3.8-7.4-3.8-7.5-3.8-7.6-3.8-7.7-3.8-7.7-3.7-7.9-3.8-7.9-3.8-7.9-3.8-7.9-2.8-0.9-2.8-0.8-2.8-0.6-2.8-0.4-2.9-0.1-2.8 0.2-2.8 0.4-2.8 0.6-2.8 1-2.8 1.3-2.8 1.5-2.8 2-2.9 2.3-2.8 2.8-2.8 3.3-2.8 3.7-2.8 4.3-2.8 4.7-2.8 5.1-2.8 5.3-2.8 5.6-2.9 5.7-2.8 5.7-2.8 5.7-2.8 5.7-2.8 5.9-2.8 6.2-2.8 6.4-2.8 6.8-2.9 7-2.8 7.4-2.8 7.7-2.8 7.9-2.8 8.1-2.8 8.4-2.8 8.5-2.8 8.8-2.9 9.1-2.8 9.3-2.8 9.5-2.8 9.7-2.8 9.9-2.8 10.1-2.8 10.2-2.8 10.2-2.8 10.4-2.9 10.4-2.8 10.5-2.8 10.5-2.8 10.6-2.8 10.5-2.8 10.6-2.8 10.4-2.8 10.4-2.9 10.1-2.8 10-2.8 9.7-2.8 9.6-2.8 9.4 2.9 2 2.9 2 2.9 2 2.9 2 2.8 2 2.9 2 2.9 2 2.9 2 2.9 2 2.9 2 2.9 2 2.9 2 2.9 2 2.9 2 2.8 2 2.9 2 2.9 2 2.9 2 2.9 2 2.9 2 2.9 2 2.9 2 2.9 2 2.9 2 2.8 2 2.9 2 2.9 2 2.9 2 2.9 2 2.9 2 2.9 2 2.9 2 2.9 2 2.9 2 2.8 2 2.9 2 2.9 2 2.9 2 2.9 2 2.9 2 2.9 2 2.9 2 2.9 2 2.9 2 2.8 2 2.9 2 2.9 2 2.9 2 2.9 2 2.9 2 2.9 2 2.9 2 2.9 2 2.9 2 2.8 2 2.9 2 2.9 2 2.9 2 2.9 2z" fill="#800000" />
<path d="M1152.2 228.5l2.1 5.5 2.2 5.5 2.4 5.4 2.8 5.3 2.8 5.1 2.8 5.3 2.5 5.3 2.4 5.4 2.3 5.5 2.2 5.5 2.1 5.5 2.1 5.6 2 5.5 2.1 5.5 2.2 5.5 2.2 5.5 2.2 5.5 2.3 5.5 2.4 5.4 2.4 5.4 2.4 5.4 2.5 5.4 2.6 5.3 2.6 5.3 2.7 5.3 2.8 5.2 2.8 5.2 2.9 5.1 3 5.2 3 5 3.1 5.1 3.3 4.9 2.6 5.3 1.6 5.7 1.1 5.8 0.8 5.9 0.5 5.9 0.2 5.9 0 5.9-0.7 7.3-0.8 7.4-0.7 7.3-0.8 7.4-0.9 7.3-0.8 7.3-1 7.4-1.1 7.3-1.3 7.2-1.6 7.3-1.7 7.1-2 7.1-2.1 7.1-2.3 7-2.4 7-2.7 6.9-2.7 6.9-2.7 6.8-2.7 6.9-2.5 7-2.4 6.9-2.3 7-2.4 7-2.5 7-2.6 6.9-2.8 6.8-2.9 6.8-3 6.8-3.1 6.7-3.1 6.6-3.3 6.7-3.3 6.6-3.4 6.5-3.5 6.5-3.5 6.5-3.7 6.4-3.7 6.4-3.8 6.3-3.9 6.3 20.5 14.3 4.3-7.7 4.3-7.8 4.3-7.7 4.2-7.8 4.2-7.8 4-7.9 4-7.9 3.8-8 3.8-8 3.9-8 4-7.9 4.2-7.8 4.6-7.5 4.8-7.5 4.7-7.5 4.7-7.5 4.6-7.5 4.7-7.6 4.7-7.4 5-7.4 5.2-7.2 5.3-7 5.5-6.9 5.6-6.9 5.7-6.8 5.7-6.8 5.8-6.6 6.2-6.4 6.5-6 6.9-5.5 7.3-5.1 7.6-4.5 8-3.7 8.3-3.2 8.2-3.3 8.2-3.5 8.4-2.5 8.7-1.8 8.8-1-8.1-3.2-8.1-3.4-8.1-3.4-8-3.5-8-3.6-7.9-3.8-7.8-4.1-7.6-4.3-7.3-4.8-7.2-5-6.9-5.4-6.7-5.6-6.6-5.8-6.4-6-6.3-6.1-6.2-6.1-6.4-6-6.6-5.8-6.3-6-5.9-6.5-5.5-6.9-5.2-7-4.9-7.2-4.8-7.4-4.6-7.4-4.5-7.5-4.3-7.7-4.3-7.6-4.1-7.7-4.1-7.8-4-7.8-3.9-7.8-3.9-7.8-3.9-7.9-3.8-7.9-3.8-7.9-3.8-7.9-3.8-7.9-3.7-7.9z" fill="#8c0000" />
<path d="M1152.6 228.6l2.2 5.7 2.2 5.6 2.5 5.5 2.8 5.3 2.9 5.3 2.8 5.3 2.6 5.5 2.5 5.5 2.3 5.6 2.3 5.6 2.2 5.6 2.2 5.6 2.1 5.6 2.2 5.6 2.2 5.6 2.3 5.6 2.4 5.5 2.4 5.5 2.4 5.4 2.4 5.4 2.6 5.4 2.5 5.3 2.6 5.3 2.6 5.2 2.7 5.2 2.7 5.1 2.7 5.1 2.9 5 2.8 5.1 2.9 4.9 3 5 3.2 4.8 2.5 5.2 1.6 5.6 1.1 5.8 0.8 5.8 0.4 5.8 0.3 5.9 0 5.9-0.7 7.3-0.8 7.3-0.8 7.3-0.8 7.3-0.8 7.3-0.8 7.3-0.9 7.3-1.1 7.3-1.2 7.2-1.5 7.2-1.7 7.1-1.9 7.1-2 7.1-2.3 7-2.4 6.9-2.6 6.9-2.8 6.8-2.7 6.9-2.7 6.9-2.5 6.9-2.5 7-2.4 7-2.5 7-2.5 7-2.7 7-2.8 6.8-3 6.9-3 6.7-3.2 6.8-3.2 6.7-3.2 6.7-3.4 6.7-3.4 6.6-3.5 6.5-3.6 6.6-3.6 6.4-3.8 6.5-3.9 6.4-3.8 6.3 19.6 13.7 4.3-7.7 4.3-7.8 4.3-7.7 4.2-7.8 4.2-7.8 4-7.9 4-7.9 3.8-8 3.8-8 3.9-8 4-7.9 4.2-7.8 4.6-7.5 4.8-7.5 4.7-7.5 4.7-7.5 4.6-7.5 4.7-7.6 4.7-7.4 5-7.4 5.2-7.2 5.3-7 5.5-6.9 5.6-6.9 5.7-6.8 5.7-6.8 5.8-6.6 6.2-6.4 6.5-6 6.9-5.5 7.3-5.1 7.6-4.5 8-3.7 8.3-3.2 8.2-3.3 8.2-3.5 8.4-2.5 8.7-1.8 8.8-1-8.1-3.2-8.1-3.4-8.1-3.4-8-3.5-8-3.6-7.9-3.8-7.8-4.1-7.6-4.3-7.3-4.8-7.2-5-6.9-5.4-6.7-5.6-6.6-5.8-6.4-6-6.3-6.1-6.2-6.1-6.4-6-6.6-5.8-6.3-6-5.9-6.5-5.5-6.9-5.2-7-4.9-7.2-4.8-7.4-4.6-7.4-4.5-7.5-4.3-7.7-4.3-7.6-4.1-7.7-4.1-7.8-4-7.8-3.9-7.8-3.9-7.8-3.9-7.9-3.8-7.9-3.8-7.9-3.8-7.9-3.8-7.9-3.7-7.9z" fill="#a50000" />
<path d="M1153 228.8l2.2 5.7 2.4 5.7 2.6 5.6 2.8 5.5 2.9 5.4 2.9 5.4 2.6 5.6 2.6 5.6 2.4 5.6 2.3 5.7 2.3 5.7 2.2 5.7 2.3 5.7 2.3 5.7 2.3 5.7 2.4 5.6 2.4 5.6 2.5 5.5 2.5 5.5 2.6 5.4 2.6 5.4 2.7 5.2 2.7 5.3 2.6 5.2 2.7 5.1 2.7 5.1 2.7 5 2.8 5 2.8 4.9 2.9 4.9 3 4.8 3.1 4.8 2.4 5.1 1.6 5.5 1.1 5.6 0.8 5.8 0.5 5.8 0.3 5.8 0.2 5.8-0.9 7.2-0.8 7.3-0.8 7.2-0.9 7.3-0.8 7.2-0.8 7.2-1 7.3-1 7.2-1.2 7.1-1.5 7.2-1.7 7.1-1.9 7-2 7.1-2.3 6.9-2.4 7-2.7 6.8-2.8 6.9-2.8 6.8-2.7 6.9-2.6 7-2.5 7-2.5 7-2.6 7.1-2.6 7-2.8 6.9-2.9 6.9-3 6.9-3.1 6.8-3.2 6.8-3.2 6.8-3.3 6.7-3.4 6.7-3.4 6.7-3.5 6.6-3.6 6.6-3.7 6.6-3.8 6.5-3.9 6.4-3.9 6.4 18.8 13.1 4.3-7.7 4.3-7.8 4.3-7.7 4.2-7.8 4.2-7.8 4-7.9 4-7.9 3.8-8 3.8-8 3.9-8 4-7.9 4.2-7.8 4.6-7.5 4.8-7.5 4.7-7.5 4.7-7.5 4.6-7.5 4.7-7.6 4.7-7.4 5-7.4 5.2-7.2 5.3-7 5.5-6.9 5.6-6.9 5.7-6.8 5.7-6.8 5.8-6.6 6.2-6.4 6.5-6 6.9-5.5 7.3-5.1 7.6-4.5 8-3.7 8.3-3.2 8.2-3.3 8.2-3.5 8.4-2.5 8.7-1.8 8.8-1-8.1-3.2-8.1-3.4-8.1-3.4-8-3.5-8-3.6-7.9-3.8-7.8-4.1-7.6-4.3-7.3-4.8-7.2-5-6.9-5.4-6.7-5.6-6.6-5.8-6.4-6-6.3-6.1-6.2-6.1-6.4-6-6.6-5.8-6.3-6-5.9-6.5-5.5-6.9-5.2-7-4.9-7.2-4.8-7.4-4.6-7.4-4.5-7.5-4.3-7.7-4.3-7.6-4.1-7.7-4.1-7.8-4-7.8-3.9-7.8-3.9-7.8-3.9-7.9-3.8-7.9-3.8-7.9-3.8-7.9-3.8-7.9-3.7-7.9z" fill="#be0000" />
<path d="M1153.5 228.9l2.2 5.8 2.5 5.8 2.6 5.7 2.8 5.6 3 5.5 2.9 5.6 2.7 5.6 2.6 5.7 2.5 5.8 2.4 5.8 2.4 5.8 2.3 5.8 2.4 5.8 2.3 5.7 2.5 5.8 2.5 5.6 2.5 5.7 2.6 5.6 2.6 5.5 2.7 5.4 2.8 5.4 2.7 5.2 2.8 5.3 2.7 5.1 2.7 5.2 2.8 5 2.7 5 2.8 4.9 2.8 4.8 2.9 4.8 2.9 4.8 3.1 4.6 2.4 5 1.6 5.5 1.2 5.5 0.8 5.7 0.6 5.7 0.4 5.7 0.3 5.8-1 7.1-0.9 7.1-0.9 7.2-0.9 7.2-0.9 7.2-0.9 7.1-0.9 7.1-1.1 7.2-1.3 7.1-1.5 7.1-1.7 7-1.9 7-2.1 7-2.3 7-2.5 6.9-2.7 6.9-2.8 6.8-2.9 6.9-2.8 6.9-2.7 7-2.6 7-2.6 7.1-2.6 7-2.7 7-2.9 7-3 6.9-3.1 6.9-3.1 6.9-3.2 6.8-3.3 6.9-3.3 6.8-3.4 6.7-3.4 6.8-3.6 6.6-3.6 6.7-3.7 6.6-3.8 6.5-3.9 6.5-3.9 6.5 17.9 12.5 4.3-7.7 4.3-7.8 4.3-7.7 4.2-7.8 4.2-7.8 4-7.9 4-7.9 3.8-8 3.8-8 3.9-8 4-7.9 4.2-7.8 4.6-7.5 4.8-7.5 4.7-7.5 4.7-7.5 4.6-7.5 4.7-7.6 4.7-7.4 5-7.4 5.2-7.2 5.3-7 5.5-6.9 5.6-6.9 5.7-6.8 5.7-6.8 5.8-6.6 6.2-6.4 6.5-6 6.9-5.5 7.3-5.1 7.6-4.5 8-3.7 8.3-3.2 8.2-3.3 8.2-3.5 8.4-2.5 8.7-1.8 8.8-1-8.1-3.2-8.1-3.4-8.1-3.4-8-3.5-8-3.6-7.9-3.8-7.8-4.1-7.6-4.3-7.3-4.8-7.2-5-6.9-5.4-6.7-5.6-6.6-5.8-6.4-6-6.3-6.1-6.2-6.1-6.4-6-6.6-5.8-6.3-6-5.9-6.5-5.5-6.9-5.2-7-4.9-7.2-4.8-7.4-4.6-7.4-4.5-7.5-4.3-7.7-4.3-7.6-4.1-7.7-4.1-7.8-4-7.8-3.9-7.8-3.9-7.8-3.9-7.9-3.8-7.9-3.8-7.9-3.8-7.9-3.8-7.9-3.7-7.9z" fill="#d50000" />
<path d="M1153.9 229l2.3 6 2.5 5.9 2.7 5.8 2.9 5.7 3 5.6 3 5.7 2.7 5.7 2.7 5.8 2.5 5.9 2.5 5.8 2.5 5.9 2.4 5.9 2.5 5.9 2.4 5.8 2.5 5.8 2.6 5.8 2.7 5.7 2.7 5.6 2.7 5.6 2.8 5.5 2.9 5.3 2.9 5.3 2.9 5.2 2.8 5.1 2.8 5.1 2.7 5.1 2.8 4.9 2.8 4.8 2.9 4.8 2.8 4.7 2.9 4.7 3.1 4.6 2.5 4.9 1.6 5.3 1.2 5.5 0.9 5.5 0.7 5.7 0.6 5.7 0.5 5.7-1.2 6.9-1.1 7-1 7.1-1 7.1-0.9 7.1-1 7.1-1 7-1.2 7.1-1.3 7-1.5 7-1.8 7-1.9 7-2.2 7-2.3 7-2.6 6.9-2.7 6.8-3 6.9-2.9 6.8-2.9 6.9-2.7 7-2.7 7.1-2.7 7.1-2.7 7-2.8 7.1-2.9 7-3.1 6.9-3.2 6.9-3.2 7-3.2 6.9-3.3 6.8-3.3 6.9-3.5 6.8-3.4 6.8-3.6 6.8-3.7 6.7-3.7 6.6-3.8 6.6-3.9 6.6-4 6.5 17.1 11.9 4.3-7.7 4.3-7.8 4.3-7.7 4.2-7.8 4.2-7.8 4-7.9 4-7.9 3.8-8 3.8-8 3.9-8 4-7.9 4.2-7.8 4.6-7.5 4.8-7.5 4.7-7.5 4.7-7.5 4.6-7.5 4.7-7.6 4.7-7.4 5-7.4 5.2-7.2 5.3-7 5.5-6.9 5.6-6.9 5.7-6.8 5.7-6.8 5.8-6.6 6.2-6.4 6.5-6 6.9-5.5 7.3-5.1 7.6-4.5 8-3.7 8.3-3.2 8.2-3.3 8.2-3.5 8.4-2.5 8.7-1.8 8.8-1-8.1-3.2-8.1-3.4-8.1-3.4-8-3.5-8-3.6-7.9-3.8-7.8-4.1-7.6-4.3-7.3-4.8-7.2-5-6.9-5.4-6.7-5.6-6.6-5.8-6.4-6-6.3-6.1-6.2-6.1-6.4-6-6.6-5.8-6.3-6-5.9-6.5-5.5-6.9-5.2-7-4.9-7.2-4.8-7.4-4.6-7.4-4.5-7.5-4.3-7.7-4.3-7.6-4.1-7.7-4.1-7.8-4-7.8-3.9-7.8-3.9-7.8-3.9-7.9-3.8-7.9-3.8-7.9-3.8-7.9-3.8-7.9-3.7-7.9z" fill="#ed0000" />
<path d="M1154.3 229.2l2.4 6 2.6 6 2.7 5.9 3 5.8 3 5.7 3 5.8 2.8 5.9 2.7 5.9 2.7 5.9 2.6 6 2.5 6 2.5 6 2.5 5.9 2.6 5.9 2.6 5.9 2.7 5.8 2.8 5.8 2.8 5.7 2.8 5.6 3 5.5 3 5.4 3 5.2 3 5.2 2.8 5.2 2.9 5 2.8 5 2.9 4.9 2.8 4.8 2.9 4.8 2.8 4.6 3 4.6 3 4.5 2.5 4.8 1.7 5.2 1.3 5.4 1 5.5 0.8 5.5 0.7 5.7 0.7 5.6-1.4 6.8-1.2 6.9-1.1 7-1.1 7-1 7-1.1 6.9-1.1 7-1.2 7-1.4 6.9-1.6 7-1.8 7-2 6.9-2.2 7-2.4 6.9-2.6 6.9-2.9 6.9-3 6.8-3 6.9-2.9 6.9-2.9 7-2.8 7.1-2.7 7.1-2.8 7.1-2.9 7-3 7.1-3.2 6.9-3.2 7-3.3 6.9-3.2 7-3.4 6.9-3.3 6.9-3.4 6.9-3.6 6.9-3.6 6.8-3.6 6.7-3.8 6.7-3.8 6.7-4 6.6-3.9 6.6 16.2 11.3 4.3-7.7 4.3-7.8 4.3-7.7 4.2-7.8 4.2-7.8 4-7.9 4-7.9 3.8-8 3.8-8 3.9-8 4-7.9 4.2-7.8 4.6-7.5 4.8-7.5 4.7-7.5 4.7-7.5 4.6-7.5 4.7-7.6 4.7-7.4 5-7.4 5.2-7.2 5.3-7 5.5-6.9 5.6-6.9 5.7-6.8 5.7-6.8 5.8-6.6 6.2-6.4 6.5-6 6.9-5.5 7.3-5.1 7.6-4.5 8-3.7 8.3-3.2 8.2-3.3 8.2-3.5 8.4-2.5 8.7-1.8 8.8-1-8.1-3.2-8.1-3.4-8.1-3.4-8-3.5-8-3.6-7.9-3.8-7.8-4.1-7.6-4.3-7.3-4.8-7.2-5-6.9-5.4-6.7-5.6-6.6-5.8-6.4-6-6.3-6.1-6.2-6.1-6.4-6-6.6-5.8-6.3-6-5.9-6.5-5.5-6.9-5.2-7-4.9-7.2-4.8-7.4-4.6-7.4-4.5-7.5-4.3-7.7-4.3-7.6-4.1-7.7-4.1-7.8-4-7.8-3.9-7.8-3.9-7.8-3.9-7.9-3.8-7.9-3.8-7.9-3.8-7.9-3.8-7.9-3.7-7.9z" fill="#ff0500" />
<path d="M1154.7 229.3l2.5 6.1 2.6 6.1 2.8 6 3 5.9 3.1 5.9 3.1 5.9 2.8 6 2.8 6 2.7 6 2.7 6.1 2.6 6 2.6 6.1 2.6 6 2.7 6 2.7 6 2.8 5.9 2.9 5.8 2.9 5.8 2.9 5.6 3.1 5.6 3.1 5.3 3.2 5.2 3 5.2 3 5.2 2.9 5.1 2.9 4.9 2.9 4.9 2.9 4.7 2.9 4.7 2.8 4.6 3 4.5 3.1 4.4 2.5 4.8 1.7 5.1 1.4 5.2 1.1 5.4 1 5.5 0.8 5.5 0.8 5.6-1.5 6.7-1.4 6.8-1.2 6.8-1.2 7-1.1 6.9-1.1 6.8-1.3 6.9-1.3 6.8-1.4 7-1.7 6.9-1.9 6.9-2 6.9-2.3 7-2.4 6.9-2.7 6.9-2.9 6.8-3.1 6.8-3.1 6.9-3 6.9-2.9 7.1-2.9 7.1-2.8 7.1-2.9 7.1-3 7.1-3.1 7-3.2 7-3.3 7-3.3 7-3.4 7-3.3 7-3.4 7-3.4 6.9-3.6 6.9-3.6 6.9-3.7 6.8-3.8 6.7-3.8 6.8-4 6.6-4 6.7 15.4 10.7 4.3-7.7 4.3-7.8 4.3-7.7 4.2-7.8 4.2-7.8 4-7.9 4-7.9 3.8-8 3.8-8 3.9-8 4-7.9 4.2-7.8 4.6-7.5 4.8-7.5 4.7-7.5 4.7-7.5 4.6-7.5 4.7-7.6 4.7-7.4 5-7.4 5.2-7.2 5.3-7 5.5-6.9 5.6-6.9 5.7-6.8 5.7-6.8 5.8-6.6 6.2-6.4 6.5-6 6.9-5.5 7.3-5.1 7.6-4.5 8-3.7 8.3-3.2 8.2-3.3 8.2-3.5 8.4-2.5 8.7-1.8 8.8-1-8.1-3.2-8.1-3.4-8.1-3.4-8-3.5-8-3.6-7.9-3.8-7.8-4.1-7.6-4.3-7.3-4.8-7.2-5-6.9-5.4-6.7-5.6-6.6-5.8-6.4-6-6.3-6.1-6.2-6.1-6.4-6-6.6-5.8-6.3-6-5.9-6.5-5.5-6.9-5.2-7-4.9-7.2-4.8-7.4-4.6-7.4-4.5-7.5-4.3-7.7-4.3-7.6-4.1-7.7-4.1-7.8-4-7.8-3.9-7.8-3.9-7.8-3.9-7.9-3.8-7.9-3.8-7.9-3.8-7.9-3.8-7.9-3.7-7.9z" fill="#ff1b00" />
<path d="M1155.2 229.4l2.5 6.3 2.7 6.2 2.8 6.1 3.1 6 3.1 6 3.1 6 2.9 6 2.9 6.1 2.8 6.2 2.7 6.1 2.7 6.2 2.7 6.1 2.7 6.2 2.8 6.1 2.8 6 2.9 6 2.9 5.9 3.1 5.8 3 5.7 3.2 5.5 3.3 5.3 3.3 5.2 3.1 5.2 3.1 5.2 3 5 2.9 5 2.9 4.8 2.9 4.7 2.9 4.6 2.9 4.5 3 4.5 3.1 4.3 2.5 4.7 1.8 5 1.5 5.2 1.2 5.3 1 5.3 1 5.5 1 5.5-1.7 6.6-1.5 6.6-1.4 6.7-1.2 6.9-1.2 6.8-1.3 6.8-1.3 6.7-1.3 6.8-1.6 6.9-1.7 6.9-1.9 6.8-2.2 6.9-2.3 6.9-2.5 6.9-2.7 6.9-3 6.9-3.1 6.8-3.2 6.9-3.1 6.9-3 7-2.9 7.1-3 7.2-2.9 7.1-3.1 7.1-3.2 7.1-3.3 7-3.4 7-3.3 7.1-3.4 7-3.3 7.1-3.4 7-3.5 7-3.6 7-3.6 6.9-3.8 6.8-3.8 6.9-3.8 6.7-4 6.8-4 6.7 14.5 10.1 4.3-7.7 4.3-7.8 4.3-7.7 4.2-7.8 4.2-7.8 4-7.9 4-7.9 3.8-8 3.8-8 3.9-8 4-7.9 4.2-7.8 4.6-7.5 4.8-7.5 4.7-7.5 4.7-7.5 4.6-7.5 4.7-7.6 4.7-7.4 5-7.4 5.2-7.2 5.3-7 5.5-6.9 5.6-6.9 5.7-6.8 5.7-6.8 5.8-6.6 6.2-6.4 6.5-6 6.9-5.5 7.3-5.1 7.6-4.5 8-3.7 8.3-3.2 8.2-3.3 8.2-3.5 8.4-2.5 8.7-1.8 8.8-1-8.1-3.2-8.1-3.4-8.1-3.4-8-3.5-8-3.6-7.9-3.8-7.8-4.1-7.6-4.3-7.3-4.8-7.2-5-6.9-5.4-6.7-5.6-6.6-5.8-6.4-6-6.3-6.1-6.2-6.1-6.4-6-6.6-5.8-6.3-6-5.9-6.5-5.5-6.9-5.2-7-4.9-7.2-4.8-7.4-4.6-7.4-4.5-7.5-4.3-7.7-4.3-7.6-4.1-7.7-4.1-7.8-4-7.8-3.9-7.8-3.9-7.8-3.9-7.9-3.8-7.9-3.8-7.9-3.8-7.9-3.8-7.9-3.7-7.9z" fill="#ff3100" />
<path d="M1155.6 229.6l2.6 6.3 2.8 6.3 2.9 6.2 3 6.1 3.2 6.1 3.2 6.1 2.9 6.2 2.9 6.2 2.9 6.3 2.8 6.2 2.8 6.2 2.8 6.3 2.8 6.2 2.8 6.2 2.9 6.1 3 6 3.1 6 3.1 5.8 3.2 5.8 3.3 5.5 3.4 5.4 3.4 5.2 3.3 5.1 3.1 5.2 3.1 5 2.9 4.9 3 4.8 2.9 4.6 2.9 4.6 2.9 4.4 3 4.4 3 4.3 2.6 4.5 1.9 4.9 1.5 5.1 1.3 5.2 1.1 5.3 1.1 5.4 1.2 5.5-1.9 6.4-1.6 6.5-1.5 6.7-1.3 6.8-1.3 6.7-1.3 6.6-1.4 6.7-1.4 6.7-1.6 6.8-1.8 6.8-2 6.9-2.1 6.8-2.4 6.9-2.5 6.9-2.8 6.9-3.1 6.8-3.2 6.8-3.2 6.9-3.2 7-3.1 7-3 7.1-3 7.2-3.1 7.1-3.1 7.2-3.2 7.1-3.5 7-3.4 7.1-3.4 7.1-3.4 7.1-3.4 7.1-3.4 7-3.5 7.1-3.6 7-3.7 7-3.7 6.9-3.8 6.9-4 6.8-3.9 6.8-4.1 6.8 13.7 9.5 4.3-7.7 4.3-7.8 4.3-7.7 4.2-7.8 4.2-7.8 4-7.9 4-7.9 3.8-8 3.8-8 3.9-8 4-7.9 4.2-7.8 4.6-7.5 4.8-7.5 4.7-7.5 4.7-7.5 4.6-7.5 4.7-7.6 4.7-7.4 5-7.4 5.2-7.2 5.3-7 5.5-6.9 5.6-6.9 5.7-6.8 5.7-6.8 5.8-6.6 6.2-6.4 6.5-6 6.9-5.5 7.3-5.1 7.6-4.5 8-3.7 8.3-3.2 8.2-3.3 8.2-3.5 8.4-2.5 8.7-1.8 8.8-1-8.1-3.2-8.1-3.4-8.1-3.4-8-3.5-8-3.6-7.9-3.8-7.8-4.1-7.6-4.3-7.3-4.8-7.2-5-6.9-5.4-6.7-5.6-6.6-5.8-6.4-6-6.3-6.1-6.2-6.1-6.4-6-6.6-5.8-6.3-6-5.9-6.5-5.5-6.9-5.2-7-4.9-7.2-4.8-7.4-4.6-7.4-4.5-7.5-4.3-7.7-4.3-7.6-4.1-7.7-4.1-7.8-4-7.8-3.9-7.8-3.9-7.8-3.9-7.9-3.8-7.9-3.8-7.9-3.8-7.9-3.8-7.9-3.7-7.9z" fill="#ff4600" />
<path d="M1156 229.7l2.7 6.4 2.8 6.4 3 6.4 3.1 6.2 3.2 6.2 3.2 6.2 3 6.3 3 6.3 2.9 6.3 2.9 6.4 2.9 6.3 2.9 6.3 2.9 6.3 2.9 6.3 3 6.2 3.1 6.1 3.2 6 3.2 5.9 3.3 5.8 3.4 5.5 3.5 5.4 3.6 5.2 3.3 5.1 3.2 5.1 3.1 5 3 4.9 3 4.7 2.9 4.6 2.9 4.5 2.9 4.4 2.9 4.3 3.1 4.1 2.6 4.5 1.9 4.8 1.5 5 1.4 5.1 1.2 5.3 1.3 5.3 1.3 5.4-2 6.3-1.8 6.4-1.6 6.6-1.4 6.7-1.3 6.6-1.4 6.6-1.4 6.6-1.5 6.6-1.6 6.8-1.8 6.7-2.1 6.8-2.2 6.8-2.4 6.9-2.6 6.9-2.8 6.8-3.1 6.8-3.2 6.9-3.3 6.8-3.3 7-3.1 7.1-3.1 7.1-3.1 7.2-3.2 7.2-3.2 7.1-3.3 7.2-3.5 7-3.5 7.1-3.5 7.1-3.4 7.2-3.4 7.1-3.5 7.2-3.5 7.1-3.6 7.1-3.7 7-3.8 7-3.8 6.9-4 6.9-4 6.8-4 6.9 12.8 8.9 4.3-7.7 4.3-7.8 4.3-7.7 4.2-7.8 4.2-7.8 4-7.9 4-7.9 3.8-8 3.8-8 3.9-8 4-7.9 4.2-7.8 4.6-7.5 4.8-7.5 4.7-7.5 4.7-7.5 4.6-7.5 4.7-7.6 4.7-7.4 5-7.4 5.2-7.2 5.3-7 5.5-6.9 5.6-6.9 5.7-6.8 5.7-6.8 5.8-6.6 6.2-6.4 6.5-6 6.9-5.5 7.3-5.1 7.6-4.5 8-3.7 8.3-3.2 8.2-3.3 8.2-3.5 8.4-2.5 8.7-1.8 8.8-1-8.1-3.2-8.1-3.4-8.1-3.4-8-3.5-8-3.6-7.9-3.8-7.8-4.1-7.6-4.3-7.3-4.8-7.2-5-6.9-5.4-6.7-5.6-6.6-5.8-6.4-6-6.3-6.1-6.2-6.1-6.4-6-6.6-5.8-6.3-6-5.9-6.5-5.5-6.9-5.2-7-4.9-7.2-4.8-7.4-4.6-7.4-4.5-7.5-4.3-7.7-4.3-7.6-4.1-7.7-4.1-7.8-4-7.8-3.9-7.8-3.9-7.8-3.9-7.9-3.8-7.9-3.8-7.9-3.8-7.9-3.8-7.9-3.7-7.9z" fill="#ff5b00" />
<path d="M1156.4 229.8l2.8 6.6 2.9 6.5 3 6.4 3.2 6.3 3.2 6.3 3.2 6.4 3.1 6.4 3.1 6.4 3 6.4 2.9 6.4 3 6.5 2.9 6.4 3 6.3 3.1 6.4 3.1 6.2 3.2 6.2 3.3 6.1 3.3 5.9 3.4 5.8 3.5 5.6 3.6 5.4 3.7 5.1 3.4 5.2 3.2 5.1 3.2 4.9 3 4.9 3 4.6 2.9 4.5 2.9 4.4 2.9 4.4 2.9 4.1 3 4.1 2.6 4.4 1.9 4.7 1.6 4.9 1.4 5.1 1.3 5.2 1.3 5.2 1.5 5.4-2.1 6.1-1.9 6.3-1.7 6.5-1.4 6.7-1.4 6.5-1.4 6.5-1.5 6.5-1.5 6.6-1.7 6.7-1.8 6.7-2.1 6.8-2.2 6.8-2.4 6.8-2.6 6.9-2.9 6.8-3.1 6.8-3.3 6.8-3.4 6.9-3.3 7-3.2 7-3.2 7.2-3.2 7.2-3.2 7.2-3.3 7.2-3.4 7.1-3.6 7.1-3.6 7.1-3.5 7.2-3.4 7.2-3.5 7.2-3.4 7.2-3.6 7.2-3.6 7.1-3.7 7.1-3.8 7-3.9 7-4 7-4 6.9-4.1 6.9 12 8.3 4.3-7.7 4.3-7.8 4.3-7.7 4.2-7.8 4.2-7.8 4-7.9 4-7.9 3.8-8 3.8-8 3.9-8 4-7.9 4.2-7.8 4.6-7.5 4.8-7.5 4.7-7.5 4.7-7.5 4.6-7.5 4.7-7.6 4.7-7.4 5-7.4 5.2-7.2 5.3-7 5.5-6.9 5.6-6.9 5.7-6.8 5.7-6.8 5.8-6.6 6.2-6.4 6.5-6 6.9-5.5 7.3-5.1 7.6-4.5 8-3.7 8.3-3.2 8.2-3.3 8.2-3.5 8.4-2.5 8.7-1.8 8.8-1-8.1-3.2-8.1-3.4-8.1-3.4-8-3.5-8-3.6-7.9-3.8-7.8-4.1-7.6-4.3-7.3-4.8-7.2-5-6.9-5.4-6.7-5.6-6.6-5.8-6.4-6-6.3-6.1-6.2-6.1-6.4-6-6.6-5.8-6.3-6-5.9-6.5-5.5-6.9-5.2-7-4.9-7.2-4.8-7.4-4.6-7.4-4.5-7.5-4.3-7.7-4.3-7.6-4.1-7.7-4.1-7.8-4-7.8-3.9-7.8-3.9-7.8-3.9-7.9-3.8-7.9-3.8-7.9-3.8-7.9-3.8-7.9-3.7-7.9z" fill="#ff6f00" />
<path d="M1156.9 230l2.8 6.6 2.9 6.6 3.1 6.5 3.2 6.5 3.3 6.4 3.3 6.4 3.1 6.5 3.1 6.5 3.1 6.6 3 6.5 3.1 6.5 3 6.5 3.1 6.5 3.1 6.4 3.3 6.3 3.3 6.2 3.3 6.2 3.4 6 3.6 5.8 3.6 5.6 3.7 5.4 3.8 5.1 3.5 5.1 3.3 5.1 3.1 4.9 3.1 4.8 3 4.6 2.9 4.4 2.8 4.3 2.8 4.3 2.9 4.1 3 4 2.6 4.3 1.8 4.6 1.7 4.8 1.4 5 1.4 5.1 1.4 5.2 1.6 5.3-2.2 6-2 6.2-1.7 6.5-1.6 6.5-1.4 6.6-1.4 6.4-1.5 6.4-1.5 6.5-1.7 6.6-1.8 6.7-2.1 6.7-2.2 6.8-2.5 6.8-2.6 6.8-2.9 6.9-3.2 6.8-3.3 6.8-3.4 6.8-3.4 7-3.3 7.1-3.2 7.2-3.3 7.2-3.3 7.2-3.4 7.2-3.5 7.2-3.6 7.1-3.7 7.2-3.6 7.2-3.5 7.2-3.4 7.3-3.5 7.2-3.6 7.3-3.6 7.2-3.8 7.1-3.8 7.1-3.9 7-4 7-4 7-4.1 7 11.1 7.7 4.3-7.7 4.3-7.8 4.3-7.7 4.2-7.8 4.2-7.8 4-7.9 4-7.9 3.8-8 3.8-8 3.9-8 4-7.9 4.2-7.8 4.6-7.5 4.8-7.5 4.7-7.5 4.7-7.5 4.6-7.5 4.7-7.6 4.7-7.4 5-7.4 5.2-7.2 5.3-7 5.5-6.9 5.6-6.9 5.7-6.8 5.7-6.8 5.8-6.6 6.2-6.4 6.5-6 6.9-5.5 7.3-5.1 7.6-4.5 8-3.7 8.3-3.2 8.2-3.3 8.2-3.5 8.4-2.5 8.7-1.8 8.8-1-8.1-3.2-8.1-3.4-8.1-3.4-8-3.5-8-3.6-7.9-3.8-7.8-4.1-7.6-4.3-7.3-4.8-7.2-5-6.9-5.4-6.7-5.6-6.6-5.8-6.4-6-6.3-6.1-6.2-6.1-6.4-6-6.6-5.8-6.3-6-5.9-6.5-5.5-6.9-5.2-7-4.9-7.2-4.8-7.4-4.6-7.4-4.5-7.5-4.3-7.7-4.3-7.6-4.1-7.7-4.1-7.8-4-7.8-3.9-7.8-3.9-7.8-3.9-7.9-3.8-7.9-3.8-7.9-3.8-7.9-3.8-7.9-3.7-7.9z" fill="#ff8300" />
<path d="M1157.3 230.1l2.9 6.7 3 6.7 3.1 6.7 3.3 6.5 3.3 6.6 3.3 6.5 3.2 6.6 3.2 6.6 3.1 6.6 3.2 6.7 3.1 6.6 3.1 6.5 3.2 6.6 3.2 6.5 3.3 6.4 3.4 6.3 3.5 6.2 3.5 6 3.6 5.9 3.8 5.6 3.8 5.4 3.8 5 3.6 5.1 3.4 5.1 3.1 4.9 3.1 4.7 3 4.5 2.9 4.4 2.8 4.2 2.7 4.1 2.9 4.1 2.9 3.9 2.5 4.1 1.9 4.6 1.6 4.7 1.5 4.9 1.5 5 1.5 5.2 1.7 5.2-2.4 6-2.1 6.1-1.7 6.4-1.6 6.5-1.4 6.4-1.5 6.4-1.5 6.4-1.5 6.4-1.7 6.6-1.8 6.6-2.1 6.7-2.2 6.7-2.5 6.8-2.6 6.8-2.9 6.8-3.2 6.8-3.4 6.8-3.5 6.9-3.4 7-3.4 7.1-3.3 7.2-3.3 7.2-3.4 7.2-3.5 7.3-3.6 7.2-3.7 7.1-3.7 7.2-3.6 7.2-3.6 7.3-3.5 7.4-3.5 7.3-3.6 7.3-3.6 7.2-3.8 7.2-3.9 7.1-3.9 7.2-4 7-4 7-4.2 7 10.3 7.2 4.3-7.7 4.3-7.8 4.3-7.7 4.2-7.8 4.2-7.8 4-7.9 4-7.9 3.8-8 3.8-8 3.9-8 4-7.9 4.2-7.8 4.6-7.5 4.8-7.5 4.7-7.5 4.7-7.5 4.6-7.5 4.7-7.6 4.7-7.4 5-7.4 5.2-7.2 5.3-7 5.5-6.9 5.6-6.9 5.7-6.8 5.7-6.8 5.8-6.6 6.2-6.4 6.5-6 6.9-5.5 7.3-5.1 7.6-4.5 8-3.7 8.3-3.2 8.2-3.3 8.2-3.5 8.4-2.5 8.7-1.8 8.8-1-8.1-3.2-8.1-3.4-8.1-3.4-8-3.5-8-3.6-7.9-3.8-7.8-4.1-7.6-4.3-7.3-4.8-7.2-5-6.9-5.4-6.7-5.6-6.6-5.8-6.4-6-6.3-6.1-6.2-6.1-6.4-6-6.6-5.8-6.3-6-5.9-6.5-5.5-6.9-5.2-7-4.9-7.2-4.8-7.4-4.6-7.4-4.5-7.5-4.3-7.7-4.3-7.6-4.1-7.7-4.1-7.8-4-7.8-3.9-7.8-3.9-7.8-3.9-7.9-3.8-7.9-3.8-7.9-3.8-7.9-3.8-7.9-3.7-7.9z" fill="#ff9600" />
<path d="M1157.7 230.2l3 6.9 3.1 6.8 3.1 6.7 3.4 6.7 3.3 6.6 3.4 6.7 3.2 6.7 3.3 6.7 3.2 6.7 3.2 6.7 3.2 6.7 3.2 6.7 3.3 6.6 3.3 6.6 3.4 6.4 3.5 6.4 3.5 6.3 3.7 6.1 3.7 5.9 3.8 5.6 4 5.3 3.9 5.1 3.6 5 3.4 5 3.2 4.9 3.1 4.7 3 4.4 2.8 4.3 2.8 4.2 2.7 4 2.8 3.9 2.8 3.8 2.5 4.1 1.9 4.4 1.7 4.7 1.5 4.8 1.5 5 1.6 5.1 1.8 5.2-2.5 5.8-2.2 6.1-1.8 6.3-1.6 6.5-1.4 6.3-1.5 6.3-1.5 6.3-1.5 6.4-1.7 6.5-1.9 6.6-2 6.6-2.2 6.7-2.5 6.8-2.6 6.8-3 6.8-3.2 6.8-3.4 6.8-3.6 6.9-3.5 6.9-3.4 7.1-3.4 7.3-3.4 7.2-3.4 7.3-3.6 7.2-3.7 7.2-3.8 7.2-3.8 7.2-3.6 7.3-3.6 7.4-3.5 7.3-3.5 7.4-3.6 7.4-3.8 7.3-3.7 7.2-3.9 7.2-4 7.2-4 7.1-4.1 7.1-4.1 7 9.4 6.6 4.3-7.7 4.3-7.8 4.3-7.7 4.2-7.8 4.2-7.8 4-7.9 4-7.9 3.8-8 3.8-8 3.9-8 4-7.9 4.2-7.8 4.6-7.5 4.8-7.5 4.7-7.5 4.7-7.5 4.6-7.5 4.7-7.6 4.7-7.4 5-7.4 5.2-7.2 5.3-7 5.5-6.9 5.6-6.9 5.7-6.8 5.7-6.8 5.8-6.6 6.2-6.4 6.5-6 6.9-5.5 7.3-5.1 7.6-4.5 8-3.7 8.3-3.2 8.2-3.3 8.2-3.5 8.4-2.5 8.7-1.8 8.8-1-8.1-3.2-8.1-3.4-8.1-3.4-8-3.5-8-3.6-7.9-3.8-7.8-4.1-7.6-4.3-7.3-4.8-7.2-5-6.9-5.4-6.7-5.6-6.6-5.8-6.4-6-6.3-6.1-6.2-6.1-6.4-6-6.6-5.8-6.3-6-5.9-6.5-5.5-6.9-5.2-7-4.9-7.2-4.8-7.4-4.6-7.4-4.5-7.5-4.3-7.7-4.3-7.6-4.1-7.7-4.1-7.8-4-7.8-3.9-7.8-3.9-7.8-3.9-7.9-3.8-7.9-3.8-7.9-3.8-7.9-3.8-7.9-3.7-7.9z" fill="#ffa800" />
<path d="M1158.1 230.4l3.1 6.9 3.1 6.9 3.2 6.8 3.4 6.8 3.4 6.8 3.4 6.8 3.3 6.8 3.3 6.8 3.3 6.8 3.3 6.8 3.3 6.8 3.3 6.7 3.3 6.7 3.5 6.7 3.5 6.5 3.5 6.5 3.7 6.3 3.7 6.1 3.9 6 3.9 5.6 4.1 5.3 4 5 3.7 5.1 3.4 4.9 3.3 4.8 3 4.6 3 4.4 2.8 4.2 2.7 4.1 2.7 4 2.7 3.8 2.8 3.7 2.5 4 1.9 4.3 1.6 4.6 1.6 4.7 1.5 4.9 1.7 5.1 1.9 5.2-2.6 5.7-2.2 6-1.9 6.2-1.6 6.4-1.5 6.3-1.5 6.2-1.5 6.3-1.5 6.3-1.7 6.5-1.9 6.5-2 6.6-2.2 6.6-2.5 6.8-2.7 6.8-2.9 6.8-3.3 6.7-3.5 6.8-3.5 6.9-3.6 7-3.5 7.1-3.4 7.2-3.5 7.3-3.6 7.3-3.6 7.3-3.7 7.2-3.9 7.2-3.9 7.2-3.7 7.4-3.6 7.4-3.6 7.4-3.5 7.5-3.6 7.4-3.8 7.3-3.8 7.3-3.9 7.3-4 7.2-4 7.2-4.1 7.1-4.1 7.1 8.5 6 4.3-7.7 4.3-7.8 4.3-7.7 4.2-7.8 4.2-7.8 4-7.9 4-7.9 3.8-8 3.8-8 3.9-8 4-7.9 4.2-7.8 4.6-7.5 4.8-7.5 4.7-7.5 4.7-7.5 4.6-7.5 4.7-7.6 4.7-7.4 5-7.4 5.2-7.2 5.3-7 5.5-6.9 5.6-6.9 5.7-6.8 5.7-6.8 5.8-6.6 6.2-6.4 6.5-6 6.9-5.5 7.3-5.1 7.6-4.5 8-3.7 8.3-3.2 8.2-3.3 8.2-3.5 8.4-2.5 8.7-1.8 8.8-1-8.1-3.2-8.1-3.4-8.1-3.4-8-3.5-8-3.6-7.9-3.8-7.8-4.1-7.6-4.3-7.3-4.8-7.2-5-6.9-5.4-6.7-5.6-6.6-5.8-6.4-6-6.3-6.1-6.2-6.1-6.4-6-6.6-5.8-6.3-6-5.9-6.5-5.5-6.9-5.2-7-4.9-7.2-4.8-7.4-4.6-7.4-4.5-7.5-4.3-7.7-4.3-7.6-4.1-7.7-4.1-7.8-4-7.8-3.9-7.8-3.9-7.8-3.9-7.9-3.8-7.9-3.8-7.9-3.8-7.9-3.8-7.9-3.7-7.9z" fill="#ffba00" />
<path d="M1158.6 230.5l3.1 7 3.2 7 3.3 7 3.4 6.9 3.4 6.8 3.5 6.9 3.3 6.9 3.4 6.9 3.3 7 3.4 6.9 3.4 6.8 3.4 6.9 3.4 6.8 3.5 6.7 3.6 6.6 3.7 6.5 3.8 6.4 3.8 6.2 3.9 5.9 4.1 5.7 4.1 5.3 4.2 5 3.8 5 3.5 4.9 3.2 4.8 3.1 4.6 2.9 4.3 2.8 4.1 2.7 4 2.7 3.9 2.6 3.7 2.8 3.7 2.5 3.9 1.9 4.2 1.6 4.5 1.6 4.6 1.7 4.9 1.7 5 2.1 5.1-2.8 5.6-2.3 5.9-1.9 6.1-1.7 6.4-1.5 6.3-1.5 6.1-1.6 6.1-1.5 6.3-1.7 6.4-1.9 6.5-2 6.5-2.3 6.7-2.4 6.7-2.7 6.8-3 6.7-3.4 6.8-3.5 6.8-3.6 6.9-3.6 7-3.6 7.1-3.5 7.2-3.6 7.3-3.6 7.3-3.7 7.3-3.8 7.3-4 7.2-3.9 7.3-3.8 7.4-3.6 7.4-3.6 7.5-3.6 7.5-3.6 7.4-3.8 7.5-3.8 7.3-3.9 7.3-4 7.3-4.1 7.2-4.1 7.3-4.2 7.1 7.7 5.4 4.3-7.7 4.3-7.8 4.3-7.7 4.2-7.8 4.2-7.8 4-7.9 4-7.9 3.8-8 3.8-8 3.9-8 4-7.9 4.2-7.8 4.6-7.5 4.8-7.5 4.7-7.5 4.7-7.5 4.6-7.5 4.7-7.6 4.7-7.4 5-7.4 5.2-7.2 5.3-7 5.5-6.9 5.6-6.9 5.7-6.8 5.7-6.8 5.8-6.6 6.2-6.4 6.5-6 6.9-5.5 7.3-5.1 7.6-4.5 8-3.7 8.3-3.2 8.2-3.3 8.2-3.5 8.4-2.5 8.7-1.8 8.8-1-8.1-3.2-8.1-3.4-8.1-3.4-8-3.5-8-3.6-7.9-3.8-7.8-4.1-7.6-4.3-7.3-4.8-7.2-5-6.9-5.4-6.7-5.6-6.6-5.8-6.4-6-6.3-6.1-6.2-6.1-6.4-6-6.6-5.8-6.3-6-5.9-6.5-5.5-6.9-5.2-7-4.9-7.2-4.8-7.4-4.6-7.4-4.5-7.5-4.3-7.7-4.3-7.6-4.1-7.7-4.1-7.8-4-7.8-3.9-7.8-3.9-7.8-3.9-7.9-3.8-7.9-3.8-7.9-3.8-7.9-3.8-7.9-3.7-7.9z" fill="#ffcc00" />
<path d="M1159 230.6l3.2 7.2 3.2 7.1 3.4 7 3.4 7 3.5 7 3.5 7 3.4 7 3.5 7 3.4 7 3.4 7 3.5 7 3.5 6.9 3.5 6.9 3.6 6.8 3.7 6.7 3.8 6.6 3.8 6.4 4 6.2 4 6 4.2 5.7 4.3 5.3 4.2 5 3.9 5 3.5 4.9 3.3 4.7 3.2 4.6 2.9 4.2 2.8 4.1 2.7 3.9 2.6 3.8 2.7 3.7 2.8 3.5 2.4 3.8 1.9 4.2 1.8 4.3 1.6 4.6 1.7 4.8 1.9 4.9 2.2 5.1-2.8 5.5-2.5 5.8-2 6-1.8 6.3-1.6 6.2-1.5 6-1.6 6.1-1.6 6.2-1.8 6.4-1.9 6.4-2.1 6.5-2.2 6.6-2.5 6.7-2.7 6.7-3.1 6.8-3.4 6.7-3.5 6.8-3.7 6.9-3.7 7-3.7 7.2-3.6 7.2-3.6 7.3-3.7 7.4-3.8 7.3-3.9 7.3-4.1 7.2-4 7.3-3.8 7.4-3.6 7.5-3.6 7.6-3.6 7.5-3.7 7.5-3.8 7.5-3.9 7.4-3.9 7.4-4 7.3-4.1 7.3-4.2 7.3-4.1 7.2 6.8 4.8 4.3-7.7 4.3-7.8 4.3-7.7 4.2-7.8 4.2-7.8 4-7.9 4-7.9 3.8-8 3.8-8 3.9-8 4-7.9 4.2-7.8 4.6-7.5 4.8-7.5 4.7-7.5 4.7-7.5 4.6-7.5 4.7-7.6 4.7-7.4 5-7.4 5.2-7.2 5.3-7 5.5-6.9 5.6-6.9 5.7-6.8 5.7-6.8 5.8-6.6 6.2-6.4 6.5-6 6.9-5.5 7.3-5.1 7.6-4.5 8-3.7 8.3-3.2 8.2-3.3 8.2-3.5 8.4-2.5 8.7-1.8 8.8-1-8.1-3.2-8.1-3.4-8.1-3.4-8-3.5-8-3.6-7.9-3.8-7.8-4.1-7.6-4.3-7.3-4.8-7.2-5-6.9-5.4-6.7-5.6-6.6-5.8-6.4-6-6.3-6.1-6.2-6.1-6.4-6-6.6-5.8-6.3-6-5.9-6.5-5.5-6.9-5.2-7-4.9-7.2-4.8-7.4-4.6-7.4-4.5-7.5-4.3-7.7-4.3-7.6-4.1-7.7-4.1-7.8-4-7.8-3.9-7.8-3.9-7.8-3.9-7.9-3.8-7.9-3.8-7.9-3.8-7.9-3.8-7.9-3.7-7.9z" fill="#ffdd00" />
<path d="M1159.4 230.8l3.3 7.2 3.3 7.2 3.4 7.2 3.5 7.1 3.5 7.1 3.6 7.1 3.4 7.1 3.5 7.1 3.5 7.1 3.5 7.1 3.6 7 3.6 7 3.6 7 3.7 6.9 3.8 6.8 3.9 6.6 3.9 6.5 4.1 6.3 4.1 6.1 4.3 5.7 4.4 5.3 4.4 4.9 4 5 3.6 4.9 3.4 4.8 3.2 4.5 3 4.2 2.8 4 2.8 3.9 2.6 3.7 2.7 3.6 2.8 3.5 2.5 3.7 2 4 1.8 4.3 1.7 4.5 1.9 4.7 2 4.9 2.4 4.9-3 5.4-2.6 5.6-2.2 6-1.9 6.2-1.7 6.1-1.6 5.9-1.7 6-1.7 6.1-1.8 6.3-2 6.3-2.2 6.5-2.3 6.6-2.5 6.7-2.8 6.7-3.2 6.7-3.4 6.8-3.6 6.8-3.8 6.9-3.8 7-3.7 7.1-3.7 7.3-3.7 7.3-3.8 7.4-3.9 7.3-4 7.3-4.1 7.3-4.1 7.3-3.8 7.5-3.8 7.6-3.6 7.6-3.6 7.6-3.7 7.5-3.8 7.6-3.9 7.4-4 7.5-4 7.3-4.1 7.4-4.2 7.3-4.2 7.3 6 4.2 4.3-7.7 4.3-7.8 4.3-7.7 4.2-7.8 4.2-7.8 4-7.9 4-7.9 3.8-8 3.8-8 3.9-8 4-7.9 4.2-7.8 4.6-7.5 4.8-7.5 4.7-7.5 4.7-7.5 4.6-7.5 4.7-7.6 4.7-7.4 5-7.4 5.2-7.2 5.3-7 5.5-6.9 5.6-6.9 5.7-6.8 5.7-6.8 5.8-6.6 6.2-6.4 6.5-6 6.9-5.5 7.3-5.1 7.6-4.5 8-3.7 8.3-3.2 8.2-3.3 8.2-3.5 8.4-2.5 8.7-1.8 8.8-1-8.1-3.2-8.1-3.4-8.1-3.4-8-3.5-8-3.6-7.9-3.8-7.8-4.1-7.6-4.3-7.3-4.8-7.2-5-6.9-5.4-6.7-5.6-6.6-5.8-6.4-6-6.3-6.1-6.2-6.1-6.4-6-6.6-5.8-6.3-6-5.9-6.5-5.5-6.9-5.2-7-4.9-7.2-4.8-7.4-4.6-7.4-4.5-7.5-4.3-7.7-4.3-7.6-4.1-7.7-4.1-7.8-4-7.8-3.9-7.8-3.9-7.8-3.9-7.9-3.8-7.9-3.8-7.9-3.8-7.9-3.8-7.9-3.7-7.9z" fill="#ffed00" />
<path d="M1159.8 230.9l3.4 7.3 3.4 7.3 3.4 7.3 3.6 7.2 3.5 7.2 3.6 7.2 3.5 7.3 3.6 7.2 3.5 7.2 3.6 7.1 3.7 7.2 3.7 7.1 3.7 7 3.8 7 3.9 6.9 3.9 6.7 4.1 6.5 4.2 6.4 4.3 6.1 4.4 5.8 4.6 5.3 4.5 4.9 4.1 5 3.8 5 3.5 4.7 3.2 4.5 3.2 4.2 2.9 4.1 2.8 3.8 2.7 3.7 2.8 3.5 2.9 3.4 2.6 3.7 2.1 3.9 1.9 4.2 2 4.4 2 4.6 2.2 4.7 2.7 4.9-3.3 5.2-2.9 5.5-2.3 5.8-2 6.1-1.9 5.9-1.8 5.8-1.9 5.9-1.8 6-2 6.2-2.1 6.3-2.3 6.4-2.4 6.5-2.7 6.7-2.9 6.7-3.2 6.8-3.5 6.7-3.8 6.8-3.8 6.9-3.9 7-3.8 7.2-3.8 7.3-3.8 7.3-3.9 7.4-4 7.4-4.1 7.3-4.2 7.3-4.1 7.4-3.9 7.5-3.8 7.6-3.6 7.6-3.7 7.7-3.7 7.6-3.8 7.6-3.9 7.5-4 7.5-4.1 7.5-4.1 7.4-4.2 7.4-4.2 7.3 5.1 3.6 4.3-7.7 4.3-7.8 4.3-7.7 4.2-7.8 4.2-7.8 4-7.9 4-7.9 3.8-8 3.8-8 3.9-8 4-7.9 4.2-7.8 4.6-7.5 4.8-7.5 4.7-7.5 4.7-7.5 4.6-7.5 4.7-7.6 4.7-7.4 5-7.4 5.2-7.2 5.3-7 5.5-6.9 5.6-6.9 5.7-6.8 5.7-6.8 5.8-6.6 6.2-6.4 6.5-6 6.9-5.5 7.3-5.1 7.6-4.5 8-3.7 8.3-3.2 8.2-3.3 8.2-3.5 8.4-2.5 8.7-1.8 8.8-1-8.1-3.2-8.1-3.4-8.1-3.4-8-3.5-8-3.6-7.9-3.8-7.8-4.1-7.6-4.3-7.3-4.8-7.2-5-6.9-5.4-6.7-5.6-6.6-5.8-6.4-6-6.3-6.1-6.2-6.1-6.4-6-6.6-5.8-6.3-6-5.9-6.5-5.5-6.9-5.2-7-4.9-7.2-4.8-7.4-4.6-7.4-4.5-7.5-4.3-7.7-4.3-7.6-4.1-7.7-4.1-7.8-4-7.8-3.9-7.8-3.9-7.8-3.9-7.9-3.8-7.9-3.8-7.9-3.8-7.9-3.8-7.9-3.7-7.9z" fill="#fffd00" />
<path d="M1160.3 231l3.4 7.5 3.4 7.4 3.5 7.3 3.6 7.4 3.6 7.3 3.7 7.3 3.5 7.3 3.7 7.3 3.6 7.3 3.7 7.3 3.7 7.2 3.7 7.2 3.9 7.2 3.9 7 3.9 7 4.1 6.8 4.2 6.6 4.3 6.4 4.5 6.2 4.5 5.8 4.8 5.4 4.7 5 4.3 5 3.9 5 3.7 4.8 3.4 4.5 3.3 4.3 3.1 4 3 3.9 2.9 3.6 2.9 3.5 3 3.4 2.8 3.5 2.3 3.9 2.2 4.1 2.2 4.2 2.3 4.5 2.6 4.7 2.9 4.7-3.6 5-3.1 5.2-2.7 5.6-2.2 6-2.2 5.8-2.1 5.6-2.1 5.7-2.1 5.9-2.1 6.1-2.4 6.2-2.5 6.4-2.6 6.5-2.8 6.6-3.1 6.7-3.4 6.8-3.6 6.7-3.9 6.8-4 6.9-4 7-3.9 7.2-3.9 7.4-3.9 7.3-4 7.4-4 7.4-4.2 7.4-4.3 7.3-4.2 7.4-4 7.6-3.8 7.6-3.7 7.7-3.6 7.7-3.8 7.7-3.8 7.6-4 7.6-4 7.6-4.1 7.5-4.1 7.5-4.2 7.4-4.3 7.4 4.3 3 4.3-7.7 4.3-7.8 4.3-7.7 4.2-7.8 4.2-7.8 4-7.9 4-7.9 3.8-8 3.8-8 3.9-8 4-7.9 4.2-7.8 4.6-7.5 4.8-7.5 4.7-7.5 4.7-7.5 4.6-7.5 4.7-7.6 4.7-7.4 5-7.4 5.2-7.2 5.3-7 5.5-6.9 5.6-6.9 5.7-6.8 5.7-6.8 5.8-6.6 6.2-6.4 6.5-6 6.9-5.5 7.3-5.1 7.6-4.5 8-3.7 8.3-3.2 8.2-3.3 8.2-3.5 8.4-2.5 8.7-1.8 8.8-1-8.1-3.2-8.1-3.4-8.1-3.4-8-3.5-8-3.6-7.9-3.8-7.8-4.1-7.6-4.3-7.3-4.8-7.2-5-6.9-5.4-6.7-5.6-6.6-5.8-6.4-6-6.3-6.1-6.2-6.1-6.4-6-6.6-5.8-6.3-6-5.9-6.5-5.5-6.9-5.2-7-4.9-7.2-4.8-7.4-4.6-7.4-4.5-7.5-4.3-7.7-4.3-7.6-4.1-7.7-4.1-7.8-4-7.8-3.9-7.8-3.9-7.8-3.9-7.9-3.8-7.9-3.8-7.9-3.8-7.9-3.8-7.9-3.7-7.9z" fill="#f1ff0e" />
<path d="M1160.7 231.2l3.5 7.5 3.5 7.5 3.5 7.5 3.7 7.4 3.6 7.4 3.7 7.5 3.7 7.4 3.6 7.4 3.7 7.4 3.8 7.4 3.8 7.3 3.8 7.3 4 7.2 4 7.1 4.1 7.1 4.2 6.9 4.3 6.7 4.4 6.5 4.6 6.3 4.7 5.8 5 5.4 5 5.1 4.5 5.1 4.2 5.1 3.9 4.9 3.7 4.6 3.5 4.3 3.4 4.1 3.3 3.9 3.1 3.8 3.2 3.5 3.3 3.3 3.1 3.5 2.6 3.8 2.6 3.9 2.6 4.2 2.7 4.3 3 4.5 3.4 4.7-4.1 4.5-3.5 5-3.1 5.3-2.6 5.8-2.6 5.5-2.5 5.4-2.5 5.6-2.5 5.7-2.5 6-2.7 6.1-2.8 6.3-2.9 6.5-3.1 6.6-3.3 6.7-3.6 6.7-3.8 6.8-4.1 6.8-4.1 6.9-4.2 7.1-4 7.2-4 7.3-4.1 7.4-4 7.5-4.2 7.4-4.3 7.4-4.4 7.3-4.3 7.4-4 7.6-3.8 7.7-3.7 7.8-3.7 7.8-3.8 7.7-3.8 7.7-4 7.6-4 7.6-4.2 7.6-4.1 7.5-4.3 7.5-4.2 7.5 3.4 2.4 4.3-7.7 4.3-7.8 4.3-7.7 4.2-7.8 4.2-7.8 4-7.9 4-7.9 3.8-8 3.8-8 3.9-8 4-7.9 4.2-7.8 4.6-7.5 4.8-7.5 4.7-7.5 4.7-7.5 4.6-7.5 4.7-7.6 4.7-7.4 5-7.4 5.2-7.2 5.3-7 5.5-6.9 5.6-6.9 5.7-6.8 5.7-6.8 5.8-6.6 6.2-6.4 6.5-6 6.9-5.5 7.3-5.1 7.6-4.5 8-3.7 8.3-3.2 8.2-3.3 8.2-3.5 8.4-2.5 8.7-1.8 8.8-1-8.1-3.2-8.1-3.4-8.1-3.4-8-3.5-8-3.6-7.9-3.8-7.8-4.1-7.6-4.3-7.3-4.8-7.2-5-6.9-5.4-6.7-5.6-6.6-5.8-6.4-6-6.3-6.1-6.2-6.1-6.4-6-6.6-5.8-6.3-6-5.9-6.5-5.5-6.9-5.2-7-4.9-7.2-4.8-7.4-4.6-7.4-4.5-7.5-4.3-7.7-4.3-7.6-4.1-7.7-4.1-7.8-4-7.8-3.9-7.8-3.9-7.8-3.9-7.9-3.8-7.9-3.8-7.9-3.8-7.9-3.8-7.9-3.7-7.9z" fill="#e2ff1d" />
<path d="M1161.1 231.3l3.6 7.6 3.5 7.6 3.7 7.6 3.6 7.6 3.7 7.5 3.7 7.5 3.8 7.6 3.7 7.5 3.8 7.5 3.8 7.5 3.9 7.4 3.9 7.3 4.1 7.4 4.1 7.2 4.2 7.1 4.3 7 4.5 6.8 4.6 6.6 4.7 6.4 5 6 5.2 5.4 5.2 5.2 4.9 5.2 4.4 5.2 4.3 5.1 4.1 4.8 3.9 4.5 3.8 4.2 3.7 4.1 3.6 3.8 3.7 3.6 3.7 3.4 3.6 3.4 3.2 3.7 3.2 3.8 3.2 4 3.3 4.2 3.6 4.3 4 4.5-4.7 4.1-4.2 4.5-3.6 5-3.3 5.4-3.1 5.3-3.2 5.1-3.1 5.2-3.1 5.6-3.1 5.8-3.2 6.1-3.3 6.2-3.3 6.4-3.5 6.6-3.6 6.8-3.9 6.7-4.1 6.7-4.3 6.9-4.3 6.9-4.4 7.1-4.2 7.2-4.1 7.4-4.2 7.4-4.2 7.5-4.2 7.4-4.4 7.4-4.5 7.4-4.4 7.5-4 7.6-3.9 7.7-3.8 7.9-3.7 7.8-3.7 7.8-3.9 7.7-4 7.7-4.1 7.7-4.1 7.6-4.2 7.6-4.3 7.6-4.3 7.5 2.6 1.8 4.3-7.7 4.3-7.8 4.3-7.7 4.2-7.8 4.2-7.8 4-7.9 4-7.9 3.8-8 3.8-8 3.9-8 4-7.9 4.2-7.8 4.6-7.5 4.8-7.5 4.7-7.5 4.7-7.5 4.6-7.5 4.7-7.6 4.7-7.4 5-7.4 5.2-7.2 5.3-7 5.5-6.9 5.6-6.9 5.7-6.8 5.7-6.8 5.8-6.6 6.2-6.4 6.5-6 6.9-5.5 7.3-5.1 7.6-4.5 8-3.7 8.3-3.2 8.2-3.3 8.2-3.5 8.4-2.5 8.7-1.8 8.8-1-8.1-3.2-8.1-3.4-8.1-3.4-8-3.5-8-3.6-7.9-3.8-7.8-4.1-7.6-4.3-7.3-4.8-7.2-5-6.9-5.4-6.7-5.6-6.6-5.8-6.4-6-6.3-6.1-6.2-6.1-6.4-6-6.6-5.8-6.3-6-5.9-6.5-5.5-6.9-5.2-7-4.9-7.2-4.8-7.4-4.6-7.4-4.5-7.5-4.3-7.7-4.3-7.6-4.1-7.7-4.1-7.8-4-7.8-3.9-7.8-3.9-7.8-3.9-7.9-3.8-7.9-3.8-7.9-3.8-7.9-3.8-7.9-3.7-7.9z" fill="#d4ff2b" />
<path d="M1161.5 231.4l3.7 7.8 3.6 7.7 3.7 7.6 3.7 7.7 3.7 7.7 3.8 7.6 3.8 7.7 3.8 7.6 3.8 7.6 3.9 7.5 4 7.5 4 7.5 4.2 7.4 4.2 7.3 4.3 7.3 4.5 7 4.6 7 4.8 6.7 4.9 6.5 5.2 6.1 5.6 5.6 5.6 5.3 5.2 5.4 4.9 5.4 4.7 5.3 4.6 5.1 4.5 4.7 4.5 4.5 4.4 4.3 4.3 4.1 4.4 3.7 4.5 3.6 4.3 3.5 4.2 3.6 4 3.7 4.1 3.8 4.3 4 4.5 4.1 4.9 4.1-5.6 3.5-5.1 3.9-4.6 4.5-4.2 5-4.1 4.8-4.2 4.7-4.1 4.9-4 5.3-3.9 5.6-4 5.9-4 6.2-3.9 6.4-4 6.6-4.1 6.7-4.3 6.8-4.5 6.8-4.6 6.8-4.6 7-4.5 7.1-4.5 7.2-4.3 7.5-4.3 7.4-4.3 7.5-4.4 7.5-4.5 7.4-4.6 7.4-4.4 7.5-4.1 7.7-3.9 7.8-3.8 7.8-3.7 7.9-3.8 7.9-4 7.8-4 7.7-4.1 7.8-4.1 7.6-4.2 7.7-4.3 7.6-4.3 7.6 1.7 1.2 4.3-7.7 4.3-7.8 4.3-7.7 4.2-7.8 4.2-7.8 4-7.9 4-7.9 3.8-8 3.8-8 3.9-8 4-7.9 4.2-7.8 4.6-7.5 4.8-7.5 4.7-7.5 4.7-7.5 4.6-7.5 4.7-7.6 4.7-7.4 5-7.4 5.2-7.2 5.3-7 5.5-6.9 5.6-6.9 5.7-6.8 5.7-6.8 5.8-6.6 6.2-6.4 6.5-6 6.9-5.5 7.3-5.1 7.6-4.5 8-3.7 8.3-3.2 8.2-3.3 8.2-3.5 8.4-2.5 8.7-1.8 8.8-1-8.1-3.2-8.1-3.4-8.1-3.4-8-3.5-8-3.6-7.9-3.8-7.8-4.1-7.6-4.3-7.3-4.8-7.2-5-6.9-5.4-6.7-5.6-6.6-5.8-6.4-6-6.3-6.1-6.2-6.1-6.4-6-6.6-5.8-6.3-6-5.9-6.5-5.5-6.9-5.2-7-4.9-7.2-4.8-7.4-4.6-7.4-4.5-7.5-4.3-7.7-4.3-7.6-4.1-7.7-4.1-7.8-4-7.8-3.9-7.8-3.9-7.8-3.9-7.9-3.8-7.9-3.8-7.9-3.8-7.9-3.8-7.9-3.7-7.9z" fill="#c6ff39" />
<path d="M1162 231.6l3.7 7.8 3.7 7.8 3.7 7.8 3.8 7.8 3.7 7.7 3.8 7.8 3.9 7.7 3.8 7.8 3.9 7.7 4 7.6 4.1 7.6 4.2 7.6 4.2 7.5 4.3 7.4 4.5 7.3 4.6 7.2 4.8 7.1 4.9 6.9 5.3 6.6 5.5 6.3 5.9 5.8 6 5.5 5.7 5.6 5.5 5.7 5.4 5.7 5.3 5.4 5.4 5.2 5.4 4.9 5.4 4.7 5.4 4.4 5.5 4.2 5.7 3.8 5.7 3.6 5.5 3.6 5.6 3.7 5.6 3.6 5.7 3.8 5.9 3.7 6.2 3.8-6.9 2.5-6.4 3-6.1 3.7-5.7 4.4-5.7 4.3-5.7 4-5.7 4.4-5.4 5-5.3 5.4-5.1 5.7-5 6.1-4.9 6.4-4.7 6.6-4.8 6.8-4.9 6.7-4.9 6.8-5 6.9-4.9 7-4.9 7.2-4.6 7.3-4.5 7.4-4.5 7.5-4.5 7.5-4.5 7.5-4.6 7.5-4.7 7.4-4.5 7.5-4.2 7.7-3.9 7.9-3.8 7.9-3.8 8-3.8 7.9-4 7.8-4 7.9-4.1 7.7-4.2 7.8-4.3 7.7-4.2 7.6-4.4 7.7 0.9 0.6 4.3-7.7 4.3-7.8 4.3-7.7 4.2-7.8 4.2-7.8 4-7.9 4-7.9 3.8-8 3.8-8 3.9-8 4-7.9 4.2-7.8 4.6-7.5 4.8-7.5 4.7-7.5 4.7-7.5 4.6-7.5 4.7-7.6 4.7-7.4 5-7.4 5.2-7.2 5.3-7 5.5-6.9 5.6-6.9 5.7-6.8 5.7-6.8 5.8-6.6 6.2-6.4 6.5-6 6.9-5.5 7.3-5.1 7.6-4.5 8-3.7 8.3-3.2 8.2-3.3 8.2-3.5 8.4-2.5 8.7-1.8 8.8-1-8.1-3.2-8.1-3.4-8.1-3.4-8-3.5-8-3.6-7.9-3.8-7.8-4.1-7.6-4.3-7.3-4.8-7.2-5-6.9-5.4-6.7-5.6-6.6-5.8-6.4-6-6.3-6.1-6.2-6.1-6.4-6-6.6-5.8-6.3-6-5.9-6.5-5.5-6.9-5.2-7-4.9-7.2-4.8-7.4-4.6-7.4-4.5-7.5-4.3-7.7-4.3-7.6-4.1-7.7-4.1-7.8-4-7.8-3.9-7.8-3.9-7.8-3.9-7.9-3.8-7.9-3.8-7.9-3.8-7.9-3.8-7.9-3.7-7.9z" fill="#b9ff46" />
<path d="M1189.3 682.8l-4.2-3.4-4.3-3.3-4.3-3.4-4.2-3.3-4.3-3.4-4.3-3.4-4.2-3.4-4.3-3.4-4.2-3.4-4.3-3.5-4.3-3.4-4.2-3.5-4.3-3.6-4.3-3.5-4.2-3.7-4.3-3.6-4.3-3.7-4.2-3.7-4.3-3.7-4.2-3.7-4.3-3.8-4.3-3.8-4.2-3.7-4.3-3.9-4.3-3.8-4.2-4-4.3-4-4.2-4.2-4.3-4.2-4.3-4.3-4.2-4.3-4.3-4.5-4.3-4.5-4.2-4.6-4.3-4.6-4.2-4.7-4.3-4.8-4.3-4.8-4.2-4.8-4.3-4.9" fill="none" stroke="#808080" stroke-width="1.8" stroke-linejoin="round"/>
<path d="M1211.6 638.6l-4.2-3.5-4.3-3.6-4.3-3.5-4.2-3.6-4.3-3.6-4.2-3.6-4.3-3.7-4.3-3.6-4.2-3.7-4.3-3.8-4.3-3.8-4.2-3.9-4.3-4-4.3-4-4.2-4.1-4.3-4.2-4.2-4.3-4.3-4.4-4.3-4.4-4.2-4.5-4.3-4.5-4.3-4.6-4.2-4.5-4.3-4.6-4.2-4.8-4.3-4.9-4.3-5.2-4.2-5.4-4.3-5.6-4.3-5.8-4.2-6-4.3-6.2-4.3-6.3-4.2-6.5-4.3-6.7-4.2-6.8-4.3-7-4.3-7-4.2-7.2-4.3-7.3" fill="none" stroke="#808080" stroke-width="1.8" stroke-linejoin="round"/>
<path d="M1233.9 601l-4.2-3.7-4.3-3.7-4.2-3.7-4.3-3.8-4.3-3.8-4.2-3.8-4.3-3.9-4.3-3.9-4.2-4-4.3-4.1-4.3-4.1-4.2-4.3-4.3-4.4-4.2-4.6-4.3-4.7-4.3-4.8-4.2-4.9-4.3-5.1-4.3-5.1-4.2-5.3-4.3-5.3-4.3-5.2-4.2-5.3-4.3-5.4-4.2-5.7-4.3-5.9-4.3-6.4-4.2-6.6-4.3-7-4.3-7.3-4.2-7.5-4.3-7.8-4.3-8.1-4.2-8.3-4.3-8.6-4.2-8.8-4.3-9-4.3-9.1-4.2-9.2-4.3-9.4" fill="none" stroke="#808080" stroke-width="1.8" stroke-linejoin="round"/>
<path d="M1256.3 566.7l-4.3-3.7-4.3-3.8-4.2-3.8-4.3-3.8-4.3-3.9-4.2-4-4.3-3.9-4.2-4-4.3-4.1-4.3-4.2-4.2-4.4-4.3-4.5-4.3-4.6-4.2-4.9-4.3-5-4.3-5.1-4.2-5.4-4.3-5.5-4.3-5.7-4.2-5.7-4.3-5.8-4.2-5.7-4.3-5.8-4.3-6-4.2-6.2-4.3-6.7-4.3-7.1-4.2-7.6-4.3-7.9-4.3-8.4-4.2-8.7-4.3-9.1-4.3-9.4-4.2-9.7-4.3-10-4.2-10.2-4.3-10.5-4.3-10.6-4.2-10.7-4.3-10.9" fill="none" stroke="#808080" stroke-width="1.8" stroke-linejoin="round"/>
<path d="M1278.6 538.1l-4.3-3.8-4.2-3.8-4.3-3.8-4.3-3.8-4.2-3.9-4.3-4-4.3-3.9-4.2-4.1-4.3-4.1-4.3-4.3-4.2-4.4-4.3-4.6-4.3-4.8-4.2-5-4.3-5.2-4.2-5.4-4.3-5.5-4.3-5.8-4.2-5.9-4.3-6-4.3-6.1-4.2-6-4.3-6-4.3-6.2-4.2-6.5-4.3-7.1-4.3-7.6-4.2-8.2-4.3-8.6-4.3-9.1-4.2-9.6-4.3-10-4.3-10.3-4.2-10.7-4.3-11.1-4.2-11.4-4.3-11.6-4.3-11.8-4.2-12-4.3-12.2" fill="none" stroke="#808080" stroke-width="1.8" stroke-linejoin="round"/>
<path d="M1300.9 513.6l-4.3-3.5-4.2-3.7-4.3-3.6-4.3-3.7-4.2-3.7-4.3-3.8-4.3-3.8-4.2-4-4.3-4-4.2-4.1-4.3-4.4-4.3-4.6-4.2-4.8-4.3-5.1-4.3-5.2-4.2-5.6-4.3-5.7-4.3-5.9-4.2-6.2-4.3-6.2-4.3-6.3-4.2-6.2-4.3-6.3-4.3-6.3-4.2-6.8-4.3-7.4-4.3-8-4.2-8.5-4.3-9-4.3-9.5-4.2-9.9-4.3-10.4-4.2-10.7-4.3-11-4.3-11.4-4.2-11.6-4.3-11.8-4.3-12-4.2-12.1-4.3-12.1" fill="none" stroke="#808080" stroke-width="1.8" stroke-linejoin="round"/>
<path d="M1323.2 496.7l-4.3-3.4-4.2-3.5-4.3-3.5-4.2-3.5-4.3-3.5-4.3-3.6-4.2-3.7-4.3-3.7-4.3-3.9-4.2-4-4.3-4.1-4.3-4.4-4.2-4.6-4.3-4.9-4.3-5.1-4.2-5.3-4.3-5.6-4.3-5.7-4.2-5.9-4.3-6-4.3-6-4.2-5.9-4.3-5.9-4.3-6-4.2-6.4-4.3-7.1-4.3-7.6-4.2-8.2-4.3-8.7-4.2-9.1-4.3-9.7-4.3-10-4.2-10.3-4.3-10.7-4.3-11-4.2-11.1-4.3-11.4-4.3-11.4-4.2-11.6-4.3-11.5" fill="none" stroke="#808080" stroke-width="1.8" stroke-linejoin="round"/>
<path d="M1345.5 486.3l-4.2-3.2-4.3-3.2-4.3-3.3-4.2-3.3-4.3-3.3-4.3-3.4-4.2-3.3-4.3-3.5-4.3-3.5-4.2-3.7-4.3-3.8-4.3-4.1-4.2-4.3-4.3-4.5-4.3-4.7-4.2-4.9-4.3-5.1-4.2-5.3-4.3-5.5-4.3-5.5-4.2-5.4-4.3-5.3-4.3-5.3-4.2-5.4-4.3-5.8-4.3-6.4-4.2-6.9-4.3-7.6-4.3-8.1-4.2-8.6" fill="none" stroke="#808080" stroke-width="1.8" stroke-linejoin="round"/>
<path d="M1367.8 478.3l-4.2-2.8-4.3-2.8-4.2-2.8-4.3-2.7-4.3-2.8-4.2-2.8-4.3-2.8-4.3-2.9-4.2-2.9-4.3-3-4.3-3.3-4.2-3.4-4.3-3.7" fill="none" stroke="#808080" stroke-width="1.8" stroke-linejoin="round"/>
<path d="M1144.3 708.3l7.3-14.1 7.3-14 7.3-14.5 7.3-14.9 7.3-15.1 7.3-14.5 7.3-13.4 7.3-12.5 7.3-12.2 7.3-12 7.3-11.6 7.3-10.8 7.2-10 7.3-9.5 7.3-9 7.3-8.6 7.3-8 7.3-7.2 7.3-6.4 7.3-5.6 7.3-4.7 7.3-3.8 7.3-3.1 7.3-2.7 7.3-2.5 7.3-2.2 7.3-1.5 7.3-0.8 7.3-0.4" fill="none" stroke="#808080" stroke-width="1.8" stroke-linejoin="round"/>
<path d="M1121.5 692.5l7.1-14.5 7-14.3 7.1-14.7 7.1-15 7-15.1 7.1-14.5 7-13.5 7.1-12.8 7-12.3 7.1-12.1 7-11.6 7.1-10.9 7.1-10.1 7-9.5 7.1-9 7-8.4 7.1-7.9 7-7.2 7.1-6.5 7.1-5.8 7-4.8 7.1-3.9 7-3 7.1-2.4 7-2.1 7.1-1.6 7-1 7.1-0.2 7.1 0.1" fill="none" stroke="#808080" stroke-width="1.8" stroke-linejoin="round"/>
<path d="M1098.8 676.8l6.8-15.1 6.8-14.8 6.8-15.1 6.9-15.4 6.8-15.3 6.8-14.9 6.8-14 6.8-13.3 6.8-12.8 6.8-12.6 6.8-11.9 6.9-11.2 6.8-10.4 6.8-9.9 6.8-9.2 6.8-8.6 6.8-7.9 6.8-7.4 6.8-6.9 6.9-6.1 6.8-5.2 6.8-4 6.8-3 6.8-2.3 6.8-1.8 6.8-1.3 6.9-0.5 6.8 0.3 6.8 0.6" fill="none" stroke="#808080" stroke-width="1.8" stroke-linejoin="round"/>
<path d="M1076.1 661.1l6.5-15.8 6.6-15.5 6.6-15.7 6.5-16.1 6.6-16 6.6-15.5 6.6-14.8 6.5-14.1 6.6-13.6 6.6-13.3 6.5-12.6 6.6-11.9 6.6-11.1 6.6-10.4 6.5-9.7 6.6-9 6.6-8.3 6.5-7.7 6.6-7.4 6.6-6.7 6.5-5.7 6.6-4.4 6.6-3.2 6.6-2.3 6.5-1.6 6.6-0.9 6.6-0.2 6.5 0.6 6.6 1.1" fill="none" stroke="#808080" stroke-width="1.8" stroke-linejoin="round"/>
<path d="M1053.3 645.3l6.4-16.4 6.3-16.3 6.3-16.6 6.3-16.9 6.4-16.8 6.3-16.3 6.3-15.8 6.4-15.1 6.3-14.8 6.3-14.2 6.3-13.4 6.4-12.7 6.3-11.9 6.3-11.2 6.3-10.4 6.4-9.5 6.3-8.7 6.3-8.3 6.4-8.1 6.3-7.4 6.3-6.2 6.3-4.9 6.4-3.4 6.3-2.4 6.3-1.5 6.4-0.7 6.3 0.1 6.3 1 6.3 1.4" fill="none" stroke="#808080" stroke-width="1.8" stroke-linejoin="round"/>
<path d="M1030.6 629.6l6.1-17.5 6.1-17.6 6.1-18 6-18.3 6.1-18.3 6.1-18 6.1-17.5 6.1-17 6.1-16.6 6-15.9 6.1-15.1 6.1-14.2 6.1-13.4 6.1-12.7 6.1-11.7 6.1-10.6 6-9.8 6.1-9.3 6.1-9.2 6.1-8.6 6.1-7.2 6.1-5.7 6.1-4.1 6-2.8 6.1-1.7 6.1-0.7 6.1 0.1 6.1 1.1 6.1 1.6" fill="none" stroke="#808080" stroke-width="1.8" stroke-linejoin="round"/>
<path d="M1007.9 613.9l5.8-18.7 5.9-19.2 5.8-19.9 5.8-20.3 5.9-20.3 5.8-20.2 5.9-19.8 5.8-19.5 5.8-18.9 5.9-18.2 5.8-17.3 5.9-16.3 5.8-15.5 5.9-14.5 5.8-13.5 5.8-12.2 5.9-11.2 5.8-10.8 5.9-10.7 5.8-10 5.9-8.6 5.8-6.8 5.8-5 5.9-3.4 5.8-2.1 5.9-1 5.8 0 5.8 1.1 5.9 1.6" fill="none" stroke="#808080" stroke-width="1.8" stroke-linejoin="round"/>
<path d="M1271.8 544.5l4.3 34.4 16.1 14 2.3-35.9 5.8-43.1-14.3 14.1z" fill="#000080" />
<path d="M1290.5 529l9.8-15.1-5.8 43.1-2.3 35.9-2.7-32.9z" fill="#0000fa" />
<path d="M1297.5 518l2.8-4.1 3.7-2.9-8 49-3 30 1.5-33z" fill="#e03010" />
<path d="M1281 534l3.5 51" fill="none" stroke="#808080" stroke-width="1.8" stroke-linejoin="round"/>
<path d="M1271.8 544.5l4.3 34.4 16.1 14 2.3-35.9 5.8-43.1" fill="none" stroke="#000" stroke-width="1.8" stroke-linejoin="miter"/>
<path d="M1162.4 231.7l1.9 3.9 1.8 3.9 1.9 3.9 1.8 3.9 1.9 3.9 1.9 3.9 1.8 3.9 1.9 3.9 1.9 3.9 1.9 3.9 1.9 3.9 1.9 3.9 1.9 3.8 1.9 3.9 2 3.9 1.9 3.8 2 3.9 2 3.8 2 3.9 2 3.8 2 3.8 2.1 3.8 2.1 3.8 2.1 3.8 2.1 3.7 2.2 3.8 2.1 3.7 2.2 3.7 2.3 3.7 2.3 3.7 2.3 3.6 2.4 3.6 2.4 3.6 2.4 3.6 2.6 3.5 2.6 3.5 2.6 3.4 2.7 3.3 2.9 3.3 2.9 3.2 3 3.1 3.1 3 3.1 2.9 3.2 3 3.1 2.9 3.2 3 3.1 3 3.1 3 3.1 3 3.2 3 3.1 2.9 3.2 3 3.2 2.9 3.2 2.9 3.3 2.8 3.3 2.7 3.4 2.7 3.4 2.7 3.4 2.6 3.5 2.5 3.6 2.4 3.6 2.4 3.7 2.3 3.7 2.2 3.8 2.1 3.8 2 3.9 2 3.8 1.9 3.9 1.8 4 1.8 3.9 1.8 4 1.8 3.9 1.7 4 1.7 4 1.7 4 1.6 4 1.7 4 1.6 4 1.6" fill="none" stroke="#000" stroke-width="3.8" stroke-linecap="round"/>
<path d="M1341 433l2.2 0.2 2.3 0.3 2.2 0.3 2.2 0.5 2.1 0.6 2.1 0.7 2 0.9 2 1.1 1.8 1.3 1.7 1.5 1.6 1.5 1.6 1.6 1.5 1.6 1.5 1.7 1.5 1.7 1.4 1.7 1.4 1.8 1.4 1.7 1.3 1.9 1.3 1.8 1.2 1.9 1.2 1.9 1.1 1.9 1.1 2 1.1 2 1 1.9 1 2.1 0.9 2 1 2" fill="none" stroke="#000" stroke-width="2.4" stroke-linecap="round"/>
<path d="M1167 724l1.9-3.3 1.8-3.3 1.9-3.4 1.8-3.3 1.8-3.3 1.9-3.3 1.8-3.4 1.8-3.3 1.8-3.4 1.8-3.3 1.8-3.4 1.7-3.4 1.8-3.3 1.7-3.4 1.7-3.4 1.7-3.4 1.7-3.4 1.6-3.4 1.7-3.5 1.7-3.4 1.6-3.4 1.7-3.4 1.7-3.4 1.7-3.4 1.7-3.4 1.8-3.3 1.8-3.4 1.9-3.3 1.9-3.3 2-3.2 1.9-3.3 2.1-3.2 2-3.2 2-3.2 2-3.2 2-3.3 2-3.2 2-3.2 2-3.3 2-3.2 2-3.2 2.1-3.2 2-3.2 2.1-3.2 2.1-3.2 2.1-3.1 2.2-3.1 2.2-3.1 2.3-3.1 2.2-3 2.3-3.1 2.4-3 2.3-3 2.4-2.9 2.4-3 2.4-2.9 2.4-3 2.4-2.9 2.5-2.9 2.5-2.9 2.5-2.8 2.5-2.8 2.6-2.8 2.6-2.8 2.7-2.6 2.7-2.6 2.9-2.6 2.8-2.4 3-2.4 3-2.3 3.1-2.2 3.1-2.1 3.2-2 3.3-1.9 3.4-1.8 3.4-1.7 3.4-1.6 3.5-1.5 3.5-1.5 3.5-1.4 3.5-1.4 3.5-1.4 3.6-1.3 3.6-1.2 3.6-1.1 3.6-1.1 3.7-0.8 3.7-0.8 3.7-0.7 3.8-0.5 3.8-0.5 3.7-0.4 3.8-0.4 3.8-0.4 3.8-0.3 3.8-0.4 3.7-0.4 3.8-0.4 3.8-0.5 3.7-0.6 3.7-0.7 3.7-0.8 3.7-0.9 3.6-1.1 3.6-1.2 3.5-1.3 3.5-1.4 3.5-1.6 3.4-1.6 3.4-1.8 3.3-1.7 3.4-1.9 3.3-1.9 3.2-1.9 3.3-2 3.2-1.9 3.3-2 3.3-1.9 3.2-2 3.3-1.9 3.3-2 3.2-1.9 3.3-2 3.2-1.9 3.2-2.1 3.2-2 3.2-2.1 3.1-2.2 3.1-2.2 3.1-2.3 3-2.3 2.9-2.3 3-2.4 2.9-2.4 2.9-2.5 2.9-2.5 2.8-2.6 2.8-2.5 2.8-2.6 2.8-2.6 2.8-2.5 2.8-2.6 2.8-2.5 2.9-2.4 3-2.4 3-2.3 3.1-2.2 3.2-2 3.2-2 3.3-1.8 3.4-1.7 3.4-1.6 3.5-1.4 3.6-1.3 3.6-1.1 3.6-1 3.7-0.9 3.7-0.8 3.7-0.8" fill="none" stroke="#000" stroke-width="3.5" stroke-linecap="round"/>
<ellipse cx="1267.2" cy="407.2" rx="11.0" ry="9.5" fill="#000" opacity="0.34" filter="url(#blur)"/><circle cx="1260.2" cy="393.2" r="10.0" fill="url(#gGrey)"/>
<ellipse cx="1486.3" cy="459.6" rx="11.0" ry="9.5" fill="#000" opacity="0.34" filter="url(#blur)"/><circle cx="1479.3" cy="445.6" r="10.0" fill="url(#gGrey)"/>
<ellipse cx="1193.0" cy="699.5" rx="11.0" ry="9.5" fill="#000" opacity="0.34" filter="url(#blur)"/><circle cx="1186.0" cy="685.5" r="10.0" fill="url(#gGold)"/>
<ellipse cx="1300.4" cy="564.0" rx="11.0" ry="9.5" fill="#000" opacity="0.34" filter="url(#blur)"/><circle cx="1293.4" cy="550.0" r="10.0" fill="url(#gGold)"/>
<rect x="772.3" y="175.3" width="20.9" height="517.7" fill="url(#cbar)"/><rect x="772.3" y="431.6" width="20.9" height="5.6" fill="#000"/><path d="M783.2 306.0 H793.2" stroke="#262626" stroke-width="1.4"/><path d="M783.2 559.5 H793.2" stroke="#262626" stroke-width="1.4"/><text x="805" y="320" font-size="33" text-anchor="start" >+0.1</text><text x="806.5" y="445.8" font-size="33" text-anchor="start" >0</text><text x="805" y="574" font-size="33" text-anchor="start" >−0.1</text><text x="857.2" y="438.8" font-size="33" text-anchor="middle" transform="rotate(-90 857.2 438.8)" >Im(<tspan font-style="italic">ω</tspan>/<tspan font-style="italic">ω</tspan><tspan font-size="21.8" dy="8.2">0</tspan><tspan dy="-8.2">)</tspan></text>
<rect x="1652.8" y="175.3" width="20.8" height="517.7" fill="url(#cbar)"/><rect x="1652.8" y="431.6" width="20.8" height="5.6" fill="#000"/><path d="M1663.6 306.0 H1673.6" stroke="#262626" stroke-width="1.4"/><path d="M1663.6 559.5 H1673.6" stroke="#262626" stroke-width="1.4"/><text x="1685" y="320" font-size="33" text-anchor="start" >+0.1</text><text x="1685" y="445.8" font-size="33" text-anchor="start" >0</text><text x="1685" y="574" font-size="33" text-anchor="start" >−0.1</text><text x="1736.6" y="438.8" font-size="33" text-anchor="middle" transform="rotate(-90 1736.6 438.8)" >Im(<tspan font-style="italic">ω</tspan>/<tspan font-style="italic">ω</tspan><tspan font-size="21.8" dy="8.2">0</tspan><tspan dy="-8.2">)</tspan></text>
<text x="29" y="30.6" font-size="42">(<tspan font-weight="bold">a</tspan>)</text>
<text x="904" y="30.6" font-size="42">(<tspan font-weight="bold">b</tspan>)</text>
<ellipse cx="141.2" cy="22.6" rx="9.5" ry="8.4" fill="#000" opacity="0.22" filter="url(#blur)"/><circle cx="140.2" cy="16.6" r="10.5" fill="url(#gGrey)"/><ellipse cx="141.2" cy="77.3" rx="9.5" ry="8.4" fill="#000" opacity="0.22" filter="url(#blur)"/><circle cx="140.2" cy="71.3" r="10.5" fill="url(#gGold)"/>
<ellipse cx="1030.0" cy="21.0" rx="9.5" ry="8.4" fill="#000" opacity="0.22" filter="url(#blur)"/><circle cx="1029.0" cy="15.0" r="10.5" fill="url(#gGrey)"/><ellipse cx="1030.0" cy="75.5" rx="9.5" ry="8.4" fill="#000" opacity="0.22" filter="url(#blur)"/><circle cx="1029.0" cy="69.5" r="10.5" fill="url(#gGold)"/>
<text x="179.5" y="28.7" font-size="33" text-anchor="start" ><tspan font-style="italic">ω</tspan>/<tspan font-style="italic">ω</tspan><tspan font-size="21.8" dy="8.2">0</tspan><tspan dy="-8.2"> = 1.0</tspan></text>
<text x="179.5" y="86.6" font-size="33" text-anchor="start" ><tspan font-style="italic">ω</tspan>/<tspan font-style="italic">ω</tspan><tspan font-size="21.8" dy="8.2">0</tspan><tspan dy="-8.2"> = 0.2</tspan></text>
<text x="1068" y="27.2" font-size="33" text-anchor="start" ><tspan font-style="italic">ω</tspan>/<tspan font-style="italic">ω</tspan><tspan font-size="21.8" dy="8.2">0</tspan><tspan dy="-8.2"> = 1.3</tspan></text>
<text x="1068" y="85.1" font-size="33" text-anchor="start" ><tspan font-style="italic">ω</tspan>/<tspan font-style="italic">ω</tspan><tspan font-size="21.8" dy="8.2">0</tspan><tspan dy="-8.2"> = 0.2</tspan></text>
<text x="83.5" y="151.3" font-size="33" text-anchor="end" >2.4</text><text x="83.5" y="264.8" font-size="33" text-anchor="end" >1.8</text><text x="83.5" y="378.3" font-size="33" text-anchor="end" >1.2</text><text x="83.5" y="491.8" font-size="33" text-anchor="end" >0.6</text><text x="83.5" y="605.8" font-size="33" text-anchor="end" >0</text><text x="58.5" y="639" font-size="33" text-anchor="middle" >0.3</text><text x="115.0" y="678" font-size="33" text-anchor="middle" >0.2</text><text x="169.5" y="718" font-size="33" text-anchor="middle" >0.1</text><text x="242.5" y="758" font-size="33" text-anchor="middle" >0</text><text x="302.5" y="767" font-size="33" text-anchor="middle" >0</text><text x="403.75" y="758" font-size="33" text-anchor="middle" >0.2</text><text x="493.0" y="748" font-size="33" text-anchor="middle" >0.4</text><text x="581.75" y="740" font-size="33" text-anchor="middle" >0.6</text><text x="671.5" y="731" font-size="33" text-anchor="middle" >0.8</text><text x="746.0" y="722.5" font-size="33" text-anchor="middle" >1</text><text x="465" y="783.8" font-size="33" text-anchor="start" transform="rotate(-6.3 465 783.8)" >Re(<tspan font-style="italic">ka</tspan>/<tspan font-style="italic">π</tspan>)</text><text x="57.4" y="683.9" font-size="33" text-anchor="start" transform="rotate(35 57.4 683.9)" >Im(<tspan font-style="italic">ka</tspan>/<tspan font-style="italic">π</tspan>)</text><text x="25" y="366" font-size="33" text-anchor="middle" transform="rotate(-90 25 366)" >Re(<tspan font-style="italic">ω</tspan>/<tspan font-style="italic">ω</tspan><tspan font-size="21.8" dy="8.2">0</tspan><tspan dy="-8.2">)</tspan></text>
<text x="979.5" y="151.3" font-size="29" text-anchor="end" >2.4</text><text x="979.5" y="264.8" font-size="29" text-anchor="end" >1.8</text><text x="979.5" y="378.3" font-size="29" text-anchor="end" >1.2</text><text x="979.5" y="491.8" font-size="29" text-anchor="end" >0.6</text><text x="979.5" y="605.8" font-size="29" text-anchor="end" >0</text><text x="958.0" y="634" font-size="29" text-anchor="middle" >0.3</text><text x="1014.5" y="674" font-size="29" text-anchor="middle" >0.2</text><text x="1070.0" y="713" font-size="29" text-anchor="middle" >0.1</text><text x="1140.5" y="753" font-size="29" text-anchor="middle" >0</text><text x="1190.0" y="760.5" font-size="29" text-anchor="middle" >0</text><text x="1291.0" y="752" font-size="29" text-anchor="middle" >0.2</text><text x="1379.75" y="743.5" font-size="29" text-anchor="middle" >0.4</text><text x="1468.5" y="733.5" font-size="29" text-anchor="middle" >0.6</text><text x="1558.5" y="725" font-size="29" text-anchor="middle" >0.8</text><text x="1634.5" y="716" font-size="29" text-anchor="middle" >1</text><text x="1358" y="782.3" font-size="33" text-anchor="start" transform="rotate(-6.3 1358 782.3)" >Re(<tspan font-style="italic">ka</tspan>/<tspan font-style="italic">π</tspan>)</text><text x="946.1" y="684.5" font-size="33" text-anchor="start" transform="rotate(36.5 946.1 684.5)" >Im(<tspan font-style="italic">ka</tspan>/<tspan font-style="italic">π</tspan>)</text><text x="927.5" y="368" font-size="33" text-anchor="middle" transform="rotate(-90 927.5 368)" >Re(<tspan font-style="italic">ω</tspan>/<tspan font-style="italic">ω</tspan><tspan font-size="21.8" dy="8.2">0</tspan><tspan dy="-8.2">)</tspan></text>
</svg>
</body></html>
